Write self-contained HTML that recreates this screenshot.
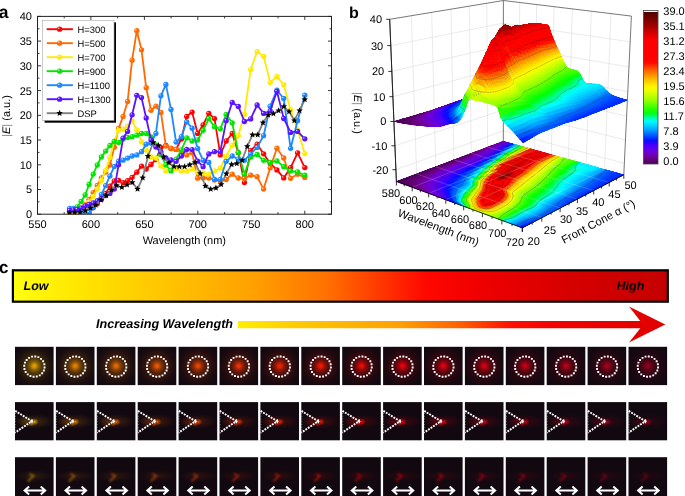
<!DOCTYPE html>
<html><head><meta charset="utf-8"><style>
html,body{margin:0;padding:0;background:#fff;}
svg{display:block;will-change:transform;text-rendering:geometricPrecision;font-family:"Liberation Sans",sans-serif;}
</style></head><body>
<svg width="685" height="496" viewBox="0 0 685 496">
<rect width="685" height="496" fill="#fff"/>
<text x="-1.2" y="17.7"  font-size="17.5" font-weight="bold">a</text>
<path d="M37.5 214.2v-3.5M37.5 16.4v3.5M64.2 214.2v-2M64.2 16.4v2M90.9 214.2v-3.5M90.9 16.4v3.5M117.7 214.2v-2M117.7 16.4v2M144.4 214.2v-3.5M144.4 16.4v3.5M171.1 214.2v-2M171.1 16.4v2M197.8 214.2v-3.5M197.8 16.4v3.5M224.6 214.2v-2M224.6 16.4v2M251.3 214.2v-3.5M251.3 16.4v3.5M278.0 214.2v-2M278.0 16.4v2M304.8 214.2v-3.5M304.8 16.4v3.5M331.5 214.2v-2M331.5 16.4v2M37.5 214.2h3.5M331.5 214.2h-3.5M37.5 201.8h2M331.5 201.8h-2M37.5 189.5h3.5M331.5 189.5h-3.5M37.5 177.1h2M331.5 177.1h-2M37.5 164.8h3.5M331.5 164.8h-3.5M37.5 152.4h2M331.5 152.4h-2M37.5 140.0h3.5M331.5 140.0h-3.5M37.5 127.7h2M331.5 127.7h-2M37.5 115.3h3.5M331.5 115.3h-3.5M37.5 102.9h2M331.5 102.9h-2M37.5 90.6h3.5M331.5 90.6h-3.5M37.5 78.2h2M331.5 78.2h-2M37.5 65.8h3.5M331.5 65.8h-3.5M37.5 53.5h2M331.5 53.5h-2M37.5 41.1h3.5M331.5 41.1h-3.5M37.5 28.8h2M331.5 28.8h-2M37.5 16.4h3.5M331.5 16.4h-3.5" stroke="#222" stroke-width="0.9" fill="none"/>
<text x="37.5" y="228.3"  font-size="11" text-anchor="middle">550</text>
<text x="90.9" y="228.3"  font-size="11" text-anchor="middle">600</text>
<text x="144.4" y="228.3"  font-size="11" text-anchor="middle">650</text>
<text x="197.8" y="228.3"  font-size="11" text-anchor="middle">700</text>
<text x="251.3" y="228.3"  font-size="11" text-anchor="middle">750</text>
<text x="304.8" y="228.3"  font-size="11" text-anchor="middle">800</text>
<text x="32" y="218.1"  font-size="11" text-anchor="end">0</text>
<text x="32" y="193.4"  font-size="11" text-anchor="end">5</text>
<text x="32" y="168.7"  font-size="11" text-anchor="end">10</text>
<text x="32" y="143.9"  font-size="11" text-anchor="end">15</text>
<text x="32" y="119.2"  font-size="11" text-anchor="end">20</text>
<text x="32" y="94.5"  font-size="11" text-anchor="end">25</text>
<text x="32" y="69.7"  font-size="11" text-anchor="end">30</text>
<text x="32" y="45.0"  font-size="11" text-anchor="end">35</text>
<text x="32" y="20.3"  font-size="11" text-anchor="end">40</text>
<text x="184.3" y="243.9"  font-size="11" text-anchor="middle">Wavelength (nm)</text>
<text transform="translate(10.2 116) rotate(-90)"  font-size="11" text-anchor="middle"><tspan fill="#888">|</tspan><tspan font-style="italic">E</tspan><tspan fill="#888">|</tspan> (a.u.)</text>
<clipPath id="clipA"><rect x="37.5" y="16.4" width="294.0" height="197.79999999999998"/></clipPath>
<g clip-path="url(#clipA)">
<polyline points="69.6,213.0 73.4,212.7 77.2,212.5 81.1,211.7 85.1,211.0 89.1,209.5 93.2,207.8 97.3,203.7 101.4,199.4 105.7,193.5 109.9,186.1 114.3,180.9 118.6,180.3 123.1,182.6 127.6,180.7 132.1,177.3 136.8,172.2 141.5,166.1 146.2,169.0 151.0,164.5 155.9,159.5 160.9,147.6 165.9,145.3 171.0,148.5 176.1,149.4 181.4,138.9 186.7,116.4 192.1,112.1 197.6,133.4 203.1,125.0 208.8,113.3 214.5,118.6 220.3,154.9 226.2,141.0 232.2,133.5 238.3,152.7 244.4,182.5 250.7,150.6 257.1,144.2 263.6,153.8 270.2,163.4 276.9,169.9 283.7,177.9 290.6,167.7 297.6,152.8 304.8,167.6" fill="none" stroke="#ff0000" stroke-width="1.8" stroke-linejoin="round"/>
<circle cx="69.6" cy="213.0" r="2.65" fill="#ff0000"/><circle cx="68.7" cy="212.1" r="0.75" fill="#fff" fill-opacity="0.8"/><circle cx="73.4" cy="212.7" r="2.65" fill="#ff0000"/><circle cx="72.5" cy="211.8" r="0.75" fill="#fff" fill-opacity="0.8"/><circle cx="77.2" cy="212.5" r="2.65" fill="#ff0000"/><circle cx="76.3" cy="211.6" r="0.75" fill="#fff" fill-opacity="0.8"/><circle cx="81.1" cy="211.7" r="2.65" fill="#ff0000"/><circle cx="80.2" cy="210.8" r="0.75" fill="#fff" fill-opacity="0.8"/><circle cx="85.1" cy="211.0" r="2.65" fill="#ff0000"/><circle cx="84.2" cy="210.1" r="0.75" fill="#fff" fill-opacity="0.8"/><circle cx="89.1" cy="209.5" r="2.65" fill="#ff0000"/><circle cx="88.2" cy="208.6" r="0.75" fill="#fff" fill-opacity="0.8"/><circle cx="93.2" cy="207.8" r="2.65" fill="#ff0000"/><circle cx="92.3" cy="206.9" r="0.75" fill="#fff" fill-opacity="0.8"/><circle cx="97.3" cy="203.7" r="2.65" fill="#ff0000"/><circle cx="96.4" cy="202.8" r="0.75" fill="#fff" fill-opacity="0.8"/><circle cx="101.4" cy="199.4" r="2.65" fill="#ff0000"/><circle cx="100.5" cy="198.5" r="0.75" fill="#fff" fill-opacity="0.8"/><circle cx="105.7" cy="193.5" r="2.65" fill="#ff0000"/><circle cx="104.8" cy="192.6" r="0.75" fill="#fff" fill-opacity="0.8"/><circle cx="109.9" cy="186.1" r="2.65" fill="#ff0000"/><circle cx="109.0" cy="185.2" r="0.75" fill="#fff" fill-opacity="0.8"/><circle cx="114.3" cy="180.9" r="2.65" fill="#ff0000"/><circle cx="113.4" cy="180.0" r="0.75" fill="#fff" fill-opacity="0.8"/><circle cx="118.6" cy="180.3" r="2.65" fill="#ff0000"/><circle cx="117.7" cy="179.4" r="0.75" fill="#fff" fill-opacity="0.8"/><circle cx="123.1" cy="182.6" r="2.65" fill="#ff0000"/><circle cx="122.2" cy="181.7" r="0.75" fill="#fff" fill-opacity="0.8"/><circle cx="127.6" cy="180.7" r="2.65" fill="#ff0000"/><circle cx="126.7" cy="179.8" r="0.75" fill="#fff" fill-opacity="0.8"/><circle cx="132.1" cy="177.3" r="2.65" fill="#ff0000"/><circle cx="131.2" cy="176.4" r="0.75" fill="#fff" fill-opacity="0.8"/><circle cx="136.8" cy="172.2" r="2.65" fill="#ff0000"/><circle cx="135.9" cy="171.3" r="0.75" fill="#fff" fill-opacity="0.8"/><circle cx="141.5" cy="166.1" r="2.65" fill="#ff0000"/><circle cx="140.6" cy="165.2" r="0.75" fill="#fff" fill-opacity="0.8"/><circle cx="146.2" cy="169.0" r="2.65" fill="#ff0000"/><circle cx="145.3" cy="168.1" r="0.75" fill="#fff" fill-opacity="0.8"/><circle cx="151.0" cy="164.5" r="2.65" fill="#ff0000"/><circle cx="150.1" cy="163.6" r="0.75" fill="#fff" fill-opacity="0.8"/><circle cx="155.9" cy="159.5" r="2.65" fill="#ff0000"/><circle cx="155.0" cy="158.6" r="0.75" fill="#fff" fill-opacity="0.8"/><circle cx="160.9" cy="147.6" r="2.65" fill="#ff0000"/><circle cx="160.0" cy="146.7" r="0.75" fill="#fff" fill-opacity="0.8"/><circle cx="165.9" cy="145.3" r="2.65" fill="#ff0000"/><circle cx="165.0" cy="144.4" r="0.75" fill="#fff" fill-opacity="0.8"/><circle cx="171.0" cy="148.5" r="2.65" fill="#ff0000"/><circle cx="170.1" cy="147.6" r="0.75" fill="#fff" fill-opacity="0.8"/><circle cx="176.1" cy="149.4" r="2.65" fill="#ff0000"/><circle cx="175.2" cy="148.5" r="0.75" fill="#fff" fill-opacity="0.8"/><circle cx="181.4" cy="138.9" r="2.65" fill="#ff0000"/><circle cx="180.5" cy="138.0" r="0.75" fill="#fff" fill-opacity="0.8"/><circle cx="186.7" cy="116.4" r="2.65" fill="#ff0000"/><circle cx="185.8" cy="115.5" r="0.75" fill="#fff" fill-opacity="0.8"/><circle cx="192.1" cy="112.1" r="2.65" fill="#ff0000"/><circle cx="191.2" cy="111.2" r="0.75" fill="#fff" fill-opacity="0.8"/><circle cx="197.6" cy="133.4" r="2.65" fill="#ff0000"/><circle cx="196.7" cy="132.5" r="0.75" fill="#fff" fill-opacity="0.8"/><circle cx="203.1" cy="125.0" r="2.65" fill="#ff0000"/><circle cx="202.2" cy="124.1" r="0.75" fill="#fff" fill-opacity="0.8"/><circle cx="208.8" cy="113.3" r="2.65" fill="#ff0000"/><circle cx="207.9" cy="112.4" r="0.75" fill="#fff" fill-opacity="0.8"/><circle cx="214.5" cy="118.6" r="2.65" fill="#ff0000"/><circle cx="213.6" cy="117.7" r="0.75" fill="#fff" fill-opacity="0.8"/><circle cx="220.3" cy="154.9" r="2.65" fill="#ff0000"/><circle cx="219.4" cy="154.0" r="0.75" fill="#fff" fill-opacity="0.8"/><circle cx="226.2" cy="141.0" r="2.65" fill="#ff0000"/><circle cx="225.3" cy="140.1" r="0.75" fill="#fff" fill-opacity="0.8"/><circle cx="232.2" cy="133.5" r="2.65" fill="#ff0000"/><circle cx="231.3" cy="132.6" r="0.75" fill="#fff" fill-opacity="0.8"/><circle cx="238.3" cy="152.7" r="2.65" fill="#ff0000"/><circle cx="237.4" cy="151.8" r="0.75" fill="#fff" fill-opacity="0.8"/><circle cx="244.4" cy="182.5" r="2.65" fill="#ff0000"/><circle cx="243.5" cy="181.6" r="0.75" fill="#fff" fill-opacity="0.8"/><circle cx="250.7" cy="150.6" r="2.65" fill="#ff0000"/><circle cx="249.8" cy="149.7" r="0.75" fill="#fff" fill-opacity="0.8"/><circle cx="257.1" cy="144.2" r="2.65" fill="#ff0000"/><circle cx="256.2" cy="143.3" r="0.75" fill="#fff" fill-opacity="0.8"/><circle cx="263.6" cy="153.8" r="2.65" fill="#ff0000"/><circle cx="262.7" cy="152.9" r="0.75" fill="#fff" fill-opacity="0.8"/><circle cx="270.2" cy="163.4" r="2.65" fill="#ff0000"/><circle cx="269.3" cy="162.5" r="0.75" fill="#fff" fill-opacity="0.8"/><circle cx="276.9" cy="169.9" r="2.65" fill="#ff0000"/><circle cx="276.0" cy="169.0" r="0.75" fill="#fff" fill-opacity="0.8"/><circle cx="283.7" cy="177.9" r="2.65" fill="#ff0000"/><circle cx="282.8" cy="177.0" r="0.75" fill="#fff" fill-opacity="0.8"/><circle cx="290.6" cy="167.7" r="2.65" fill="#ff0000"/><circle cx="289.7" cy="166.8" r="0.75" fill="#fff" fill-opacity="0.8"/><circle cx="297.6" cy="152.8" r="2.65" fill="#ff0000"/><circle cx="296.7" cy="151.9" r="0.75" fill="#fff" fill-opacity="0.8"/><circle cx="304.8" cy="167.6" r="2.65" fill="#ff0000"/><circle cx="303.9" cy="166.7" r="0.75" fill="#fff" fill-opacity="0.8"/>
<polyline points="69.6,213.5 73.4,213.0 77.2,212.5 81.1,209.4 85.1,205.0 89.1,199.5 93.2,192.6 97.3,185.5 101.4,177.9 105.7,172.1 109.9,164.9 114.3,147.2 118.6,128.4 123.1,116.4 127.6,101.5 132.1,60.2 136.8,30.7 141.5,49.8 146.2,87.7 151.0,110.3 155.9,106.1 160.9,112.4 165.9,146.1 171.0,148.5 176.1,149.5 181.4,152.0 186.7,154.9 192.1,152.7 197.6,178.2 203.1,178.0 208.8,178.0 214.5,180.0 220.3,181.0 226.2,179.5 232.2,174.2 238.3,178.0 244.4,178.4 250.7,175.2 257.1,176.7 263.6,189.1 270.2,167.8 276.9,148.2 283.7,158.0 290.6,178.3 297.6,174.2 304.8,177.4" fill="none" stroke="#ff6a00" stroke-width="1.8" stroke-linejoin="round"/>
<circle cx="69.6" cy="213.5" r="2.65" fill="#ff6a00"/><circle cx="68.7" cy="212.6" r="0.75" fill="#fff" fill-opacity="0.8"/><circle cx="73.4" cy="213.0" r="2.65" fill="#ff6a00"/><circle cx="72.5" cy="212.1" r="0.75" fill="#fff" fill-opacity="0.8"/><circle cx="77.2" cy="212.5" r="2.65" fill="#ff6a00"/><circle cx="76.3" cy="211.6" r="0.75" fill="#fff" fill-opacity="0.8"/><circle cx="81.1" cy="209.4" r="2.65" fill="#ff6a00"/><circle cx="80.2" cy="208.5" r="0.75" fill="#fff" fill-opacity="0.8"/><circle cx="85.1" cy="205.0" r="2.65" fill="#ff6a00"/><circle cx="84.2" cy="204.1" r="0.75" fill="#fff" fill-opacity="0.8"/><circle cx="89.1" cy="199.5" r="2.65" fill="#ff6a00"/><circle cx="88.2" cy="198.6" r="0.75" fill="#fff" fill-opacity="0.8"/><circle cx="93.2" cy="192.6" r="2.65" fill="#ff6a00"/><circle cx="92.3" cy="191.7" r="0.75" fill="#fff" fill-opacity="0.8"/><circle cx="97.3" cy="185.5" r="2.65" fill="#ff6a00"/><circle cx="96.4" cy="184.6" r="0.75" fill="#fff" fill-opacity="0.8"/><circle cx="101.4" cy="177.9" r="2.65" fill="#ff6a00"/><circle cx="100.5" cy="177.0" r="0.75" fill="#fff" fill-opacity="0.8"/><circle cx="105.7" cy="172.1" r="2.65" fill="#ff6a00"/><circle cx="104.8" cy="171.2" r="0.75" fill="#fff" fill-opacity="0.8"/><circle cx="109.9" cy="164.9" r="2.65" fill="#ff6a00"/><circle cx="109.0" cy="164.0" r="0.75" fill="#fff" fill-opacity="0.8"/><circle cx="114.3" cy="147.2" r="2.65" fill="#ff6a00"/><circle cx="113.4" cy="146.3" r="0.75" fill="#fff" fill-opacity="0.8"/><circle cx="118.6" cy="128.4" r="2.65" fill="#ff6a00"/><circle cx="117.7" cy="127.5" r="0.75" fill="#fff" fill-opacity="0.8"/><circle cx="123.1" cy="116.4" r="2.65" fill="#ff6a00"/><circle cx="122.2" cy="115.5" r="0.75" fill="#fff" fill-opacity="0.8"/><circle cx="127.6" cy="101.5" r="2.65" fill="#ff6a00"/><circle cx="126.7" cy="100.6" r="0.75" fill="#fff" fill-opacity="0.8"/><circle cx="132.1" cy="60.2" r="2.65" fill="#ff6a00"/><circle cx="131.2" cy="59.3" r="0.75" fill="#fff" fill-opacity="0.8"/><circle cx="136.8" cy="30.7" r="2.65" fill="#ff6a00"/><circle cx="135.9" cy="29.8" r="0.75" fill="#fff" fill-opacity="0.8"/><circle cx="141.5" cy="49.8" r="2.65" fill="#ff6a00"/><circle cx="140.6" cy="48.9" r="0.75" fill="#fff" fill-opacity="0.8"/><circle cx="146.2" cy="87.7" r="2.65" fill="#ff6a00"/><circle cx="145.3" cy="86.8" r="0.75" fill="#fff" fill-opacity="0.8"/><circle cx="151.0" cy="110.3" r="2.65" fill="#ff6a00"/><circle cx="150.1" cy="109.4" r="0.75" fill="#fff" fill-opacity="0.8"/><circle cx="155.9" cy="106.1" r="2.65" fill="#ff6a00"/><circle cx="155.0" cy="105.2" r="0.75" fill="#fff" fill-opacity="0.8"/><circle cx="160.9" cy="112.4" r="2.65" fill="#ff6a00"/><circle cx="160.0" cy="111.5" r="0.75" fill="#fff" fill-opacity="0.8"/><circle cx="165.9" cy="146.1" r="2.65" fill="#ff6a00"/><circle cx="165.0" cy="145.2" r="0.75" fill="#fff" fill-opacity="0.8"/><circle cx="171.0" cy="148.5" r="2.65" fill="#ff6a00"/><circle cx="170.1" cy="147.6" r="0.75" fill="#fff" fill-opacity="0.8"/><circle cx="176.1" cy="149.5" r="2.65" fill="#ff6a00"/><circle cx="175.2" cy="148.6" r="0.75" fill="#fff" fill-opacity="0.8"/><circle cx="181.4" cy="152.0" r="2.65" fill="#ff6a00"/><circle cx="180.5" cy="151.1" r="0.75" fill="#fff" fill-opacity="0.8"/><circle cx="186.7" cy="154.9" r="2.65" fill="#ff6a00"/><circle cx="185.8" cy="154.0" r="0.75" fill="#fff" fill-opacity="0.8"/><circle cx="192.1" cy="152.7" r="2.65" fill="#ff6a00"/><circle cx="191.2" cy="151.8" r="0.75" fill="#fff" fill-opacity="0.8"/><circle cx="197.6" cy="178.2" r="2.65" fill="#ff6a00"/><circle cx="196.7" cy="177.3" r="0.75" fill="#fff" fill-opacity="0.8"/><circle cx="203.1" cy="178.0" r="2.65" fill="#ff6a00"/><circle cx="202.2" cy="177.1" r="0.75" fill="#fff" fill-opacity="0.8"/><circle cx="208.8" cy="178.0" r="2.65" fill="#ff6a00"/><circle cx="207.9" cy="177.1" r="0.75" fill="#fff" fill-opacity="0.8"/><circle cx="214.5" cy="180.0" r="2.65" fill="#ff6a00"/><circle cx="213.6" cy="179.1" r="0.75" fill="#fff" fill-opacity="0.8"/><circle cx="220.3" cy="181.0" r="2.65" fill="#ff6a00"/><circle cx="219.4" cy="180.1" r="0.75" fill="#fff" fill-opacity="0.8"/><circle cx="226.2" cy="179.5" r="2.65" fill="#ff6a00"/><circle cx="225.3" cy="178.6" r="0.75" fill="#fff" fill-opacity="0.8"/><circle cx="232.2" cy="174.2" r="2.65" fill="#ff6a00"/><circle cx="231.3" cy="173.3" r="0.75" fill="#fff" fill-opacity="0.8"/><circle cx="238.3" cy="178.0" r="2.65" fill="#ff6a00"/><circle cx="237.4" cy="177.1" r="0.75" fill="#fff" fill-opacity="0.8"/><circle cx="244.4" cy="178.4" r="2.65" fill="#ff6a00"/><circle cx="243.5" cy="177.5" r="0.75" fill="#fff" fill-opacity="0.8"/><circle cx="250.7" cy="175.2" r="2.65" fill="#ff6a00"/><circle cx="249.8" cy="174.3" r="0.75" fill="#fff" fill-opacity="0.8"/><circle cx="257.1" cy="176.7" r="2.65" fill="#ff6a00"/><circle cx="256.2" cy="175.8" r="0.75" fill="#fff" fill-opacity="0.8"/><circle cx="263.6" cy="189.1" r="2.65" fill="#ff6a00"/><circle cx="262.7" cy="188.2" r="0.75" fill="#fff" fill-opacity="0.8"/><circle cx="270.2" cy="167.8" r="2.65" fill="#ff6a00"/><circle cx="269.3" cy="166.9" r="0.75" fill="#fff" fill-opacity="0.8"/><circle cx="276.9" cy="148.2" r="2.65" fill="#ff6a00"/><circle cx="276.0" cy="147.3" r="0.75" fill="#fff" fill-opacity="0.8"/><circle cx="283.7" cy="158.0" r="2.65" fill="#ff6a00"/><circle cx="282.8" cy="157.1" r="0.75" fill="#fff" fill-opacity="0.8"/><circle cx="290.6" cy="178.3" r="2.65" fill="#ff6a00"/><circle cx="289.7" cy="177.4" r="0.75" fill="#fff" fill-opacity="0.8"/><circle cx="297.6" cy="174.2" r="2.65" fill="#ff6a00"/><circle cx="296.7" cy="173.3" r="0.75" fill="#fff" fill-opacity="0.8"/><circle cx="304.8" cy="177.4" r="2.65" fill="#ff6a00"/><circle cx="303.9" cy="176.5" r="0.75" fill="#fff" fill-opacity="0.8"/>
<polyline points="69.6,213.5 73.4,213.3 77.2,212.5 81.1,211.0 85.1,207.0 89.1,202.0 93.2,196.5 97.3,189.0 101.4,180.4 105.7,170.1 109.9,157.5 114.3,141.2 118.6,130.3 123.1,129.2 127.6,126.0 132.1,121.1 136.8,129.9 141.5,141.9 146.2,150.0 151.0,157.0 155.9,158.0 160.9,165.9 165.9,170.9 171.0,170.0 176.1,168.8 181.4,170.9 186.7,170.9 192.1,168.8 197.6,172.0 203.1,173.0 208.8,174.2 214.5,171.0 220.3,168.2 226.2,156.0 232.2,145.3 238.3,135.8 244.4,114.2 250.7,69.5 257.1,51.6 263.6,56.3 270.2,82.6 276.9,76.4 283.7,84.8 290.6,109.9 297.6,130.0 304.8,153.6" fill="none" stroke="#ffea00" stroke-width="1.8" stroke-linejoin="round"/>
<circle cx="69.6" cy="213.5" r="2.65" fill="#ffea00"/><circle cx="68.7" cy="212.6" r="0.75" fill="#fff" fill-opacity="0.8"/><circle cx="73.4" cy="213.3" r="2.65" fill="#ffea00"/><circle cx="72.5" cy="212.4" r="0.75" fill="#fff" fill-opacity="0.8"/><circle cx="77.2" cy="212.5" r="2.65" fill="#ffea00"/><circle cx="76.3" cy="211.6" r="0.75" fill="#fff" fill-opacity="0.8"/><circle cx="81.1" cy="211.0" r="2.65" fill="#ffea00"/><circle cx="80.2" cy="210.1" r="0.75" fill="#fff" fill-opacity="0.8"/><circle cx="85.1" cy="207.0" r="2.65" fill="#ffea00"/><circle cx="84.2" cy="206.1" r="0.75" fill="#fff" fill-opacity="0.8"/><circle cx="89.1" cy="202.0" r="2.65" fill="#ffea00"/><circle cx="88.2" cy="201.1" r="0.75" fill="#fff" fill-opacity="0.8"/><circle cx="93.2" cy="196.5" r="2.65" fill="#ffea00"/><circle cx="92.3" cy="195.6" r="0.75" fill="#fff" fill-opacity="0.8"/><circle cx="97.3" cy="189.0" r="2.65" fill="#ffea00"/><circle cx="96.4" cy="188.1" r="0.75" fill="#fff" fill-opacity="0.8"/><circle cx="101.4" cy="180.4" r="2.65" fill="#ffea00"/><circle cx="100.5" cy="179.5" r="0.75" fill="#fff" fill-opacity="0.8"/><circle cx="105.7" cy="170.1" r="2.65" fill="#ffea00"/><circle cx="104.8" cy="169.2" r="0.75" fill="#fff" fill-opacity="0.8"/><circle cx="109.9" cy="157.5" r="2.65" fill="#ffea00"/><circle cx="109.0" cy="156.6" r="0.75" fill="#fff" fill-opacity="0.8"/><circle cx="114.3" cy="141.2" r="2.65" fill="#ffea00"/><circle cx="113.4" cy="140.3" r="0.75" fill="#fff" fill-opacity="0.8"/><circle cx="118.6" cy="130.3" r="2.65" fill="#ffea00"/><circle cx="117.7" cy="129.4" r="0.75" fill="#fff" fill-opacity="0.8"/><circle cx="123.1" cy="129.2" r="2.65" fill="#ffea00"/><circle cx="122.2" cy="128.3" r="0.75" fill="#fff" fill-opacity="0.8"/><circle cx="127.6" cy="126.0" r="2.65" fill="#ffea00"/><circle cx="126.7" cy="125.1" r="0.75" fill="#fff" fill-opacity="0.8"/><circle cx="132.1" cy="121.1" r="2.65" fill="#ffea00"/><circle cx="131.2" cy="120.2" r="0.75" fill="#fff" fill-opacity="0.8"/><circle cx="136.8" cy="129.9" r="2.65" fill="#ffea00"/><circle cx="135.9" cy="129.0" r="0.75" fill="#fff" fill-opacity="0.8"/><circle cx="141.5" cy="141.9" r="2.65" fill="#ffea00"/><circle cx="140.6" cy="141.0" r="0.75" fill="#fff" fill-opacity="0.8"/><circle cx="146.2" cy="150.0" r="2.65" fill="#ffea00"/><circle cx="145.3" cy="149.1" r="0.75" fill="#fff" fill-opacity="0.8"/><circle cx="151.0" cy="157.0" r="2.65" fill="#ffea00"/><circle cx="150.1" cy="156.1" r="0.75" fill="#fff" fill-opacity="0.8"/><circle cx="155.9" cy="158.0" r="2.65" fill="#ffea00"/><circle cx="155.0" cy="157.1" r="0.75" fill="#fff" fill-opacity="0.8"/><circle cx="160.9" cy="165.9" r="2.65" fill="#ffea00"/><circle cx="160.0" cy="165.0" r="0.75" fill="#fff" fill-opacity="0.8"/><circle cx="165.9" cy="170.9" r="2.65" fill="#ffea00"/><circle cx="165.0" cy="170.0" r="0.75" fill="#fff" fill-opacity="0.8"/><circle cx="171.0" cy="170.0" r="2.65" fill="#ffea00"/><circle cx="170.1" cy="169.1" r="0.75" fill="#fff" fill-opacity="0.8"/><circle cx="176.1" cy="168.8" r="2.65" fill="#ffea00"/><circle cx="175.2" cy="167.9" r="0.75" fill="#fff" fill-opacity="0.8"/><circle cx="181.4" cy="170.9" r="2.65" fill="#ffea00"/><circle cx="180.5" cy="170.0" r="0.75" fill="#fff" fill-opacity="0.8"/><circle cx="186.7" cy="170.9" r="2.65" fill="#ffea00"/><circle cx="185.8" cy="170.0" r="0.75" fill="#fff" fill-opacity="0.8"/><circle cx="192.1" cy="168.8" r="2.65" fill="#ffea00"/><circle cx="191.2" cy="167.9" r="0.75" fill="#fff" fill-opacity="0.8"/><circle cx="197.6" cy="172.0" r="2.65" fill="#ffea00"/><circle cx="196.7" cy="171.1" r="0.75" fill="#fff" fill-opacity="0.8"/><circle cx="203.1" cy="173.0" r="2.65" fill="#ffea00"/><circle cx="202.2" cy="172.1" r="0.75" fill="#fff" fill-opacity="0.8"/><circle cx="208.8" cy="174.2" r="2.65" fill="#ffea00"/><circle cx="207.9" cy="173.3" r="0.75" fill="#fff" fill-opacity="0.8"/><circle cx="214.5" cy="171.0" r="2.65" fill="#ffea00"/><circle cx="213.6" cy="170.1" r="0.75" fill="#fff" fill-opacity="0.8"/><circle cx="220.3" cy="168.2" r="2.65" fill="#ffea00"/><circle cx="219.4" cy="167.3" r="0.75" fill="#fff" fill-opacity="0.8"/><circle cx="226.2" cy="156.0" r="2.65" fill="#ffea00"/><circle cx="225.3" cy="155.1" r="0.75" fill="#fff" fill-opacity="0.8"/><circle cx="232.2" cy="145.3" r="2.65" fill="#ffea00"/><circle cx="231.3" cy="144.4" r="0.75" fill="#fff" fill-opacity="0.8"/><circle cx="238.3" cy="135.8" r="2.65" fill="#ffea00"/><circle cx="237.4" cy="134.9" r="0.75" fill="#fff" fill-opacity="0.8"/><circle cx="244.4" cy="114.2" r="2.65" fill="#ffea00"/><circle cx="243.5" cy="113.3" r="0.75" fill="#fff" fill-opacity="0.8"/><circle cx="250.7" cy="69.5" r="2.65" fill="#ffea00"/><circle cx="249.8" cy="68.6" r="0.75" fill="#fff" fill-opacity="0.8"/><circle cx="257.1" cy="51.6" r="2.65" fill="#ffea00"/><circle cx="256.2" cy="50.7" r="0.75" fill="#fff" fill-opacity="0.8"/><circle cx="263.6" cy="56.3" r="2.65" fill="#ffea00"/><circle cx="262.7" cy="55.4" r="0.75" fill="#fff" fill-opacity="0.8"/><circle cx="270.2" cy="82.6" r="2.65" fill="#ffea00"/><circle cx="269.3" cy="81.7" r="0.75" fill="#fff" fill-opacity="0.8"/><circle cx="276.9" cy="76.4" r="2.65" fill="#ffea00"/><circle cx="276.0" cy="75.5" r="0.75" fill="#fff" fill-opacity="0.8"/><circle cx="283.7" cy="84.8" r="2.65" fill="#ffea00"/><circle cx="282.8" cy="83.9" r="0.75" fill="#fff" fill-opacity="0.8"/><circle cx="290.6" cy="109.9" r="2.65" fill="#ffea00"/><circle cx="289.7" cy="109.0" r="0.75" fill="#fff" fill-opacity="0.8"/><circle cx="297.6" cy="130.0" r="2.65" fill="#ffea00"/><circle cx="296.7" cy="129.1" r="0.75" fill="#fff" fill-opacity="0.8"/><circle cx="304.8" cy="153.6" r="2.65" fill="#ffea00"/><circle cx="303.9" cy="152.7" r="0.75" fill="#fff" fill-opacity="0.8"/>
<polyline points="69.6,213.0 73.4,211.0 77.2,206.9 81.1,201.4 85.1,195.0 89.1,184.5 93.2,174.1 97.3,165.0 101.4,156.9 105.7,151.1 109.9,145.5 114.3,141.5 118.6,142.5 123.1,139.0 127.6,137.4 132.1,136.7 136.8,135.2 141.5,133.5 146.2,133.5 151.0,137.0 155.9,145.0 160.9,154.9 165.9,165.0 171.0,170.9 176.1,159.1 181.4,150.0 186.7,137.8 192.1,141.0 197.6,140.0 203.1,130.3 208.8,118.7 214.5,126.7 220.3,128.8 226.2,114.3 232.2,122.8 238.3,152.6 244.4,174.1 250.7,157.0 257.1,154.5 263.6,160.3 270.2,162.4 276.9,160.9 283.7,166.7 290.6,171.0 297.6,172.0 304.8,175.2" fill="none" stroke="#00e600" stroke-width="1.8" stroke-linejoin="round"/>
<circle cx="69.6" cy="213.0" r="2.65" fill="#00e600"/><circle cx="68.7" cy="212.1" r="0.75" fill="#fff" fill-opacity="0.8"/><circle cx="73.4" cy="211.0" r="2.65" fill="#00e600"/><circle cx="72.5" cy="210.1" r="0.75" fill="#fff" fill-opacity="0.8"/><circle cx="77.2" cy="206.9" r="2.65" fill="#00e600"/><circle cx="76.3" cy="206.0" r="0.75" fill="#fff" fill-opacity="0.8"/><circle cx="81.1" cy="201.4" r="2.65" fill="#00e600"/><circle cx="80.2" cy="200.5" r="0.75" fill="#fff" fill-opacity="0.8"/><circle cx="85.1" cy="195.0" r="2.65" fill="#00e600"/><circle cx="84.2" cy="194.1" r="0.75" fill="#fff" fill-opacity="0.8"/><circle cx="89.1" cy="184.5" r="2.65" fill="#00e600"/><circle cx="88.2" cy="183.6" r="0.75" fill="#fff" fill-opacity="0.8"/><circle cx="93.2" cy="174.1" r="2.65" fill="#00e600"/><circle cx="92.3" cy="173.2" r="0.75" fill="#fff" fill-opacity="0.8"/><circle cx="97.3" cy="165.0" r="2.65" fill="#00e600"/><circle cx="96.4" cy="164.1" r="0.75" fill="#fff" fill-opacity="0.8"/><circle cx="101.4" cy="156.9" r="2.65" fill="#00e600"/><circle cx="100.5" cy="156.0" r="0.75" fill="#fff" fill-opacity="0.8"/><circle cx="105.7" cy="151.1" r="2.65" fill="#00e600"/><circle cx="104.8" cy="150.2" r="0.75" fill="#fff" fill-opacity="0.8"/><circle cx="109.9" cy="145.5" r="2.65" fill="#00e600"/><circle cx="109.0" cy="144.6" r="0.75" fill="#fff" fill-opacity="0.8"/><circle cx="114.3" cy="141.5" r="2.65" fill="#00e600"/><circle cx="113.4" cy="140.6" r="0.75" fill="#fff" fill-opacity="0.8"/><circle cx="118.6" cy="142.5" r="2.65" fill="#00e600"/><circle cx="117.7" cy="141.6" r="0.75" fill="#fff" fill-opacity="0.8"/><circle cx="123.1" cy="139.0" r="2.65" fill="#00e600"/><circle cx="122.2" cy="138.1" r="0.75" fill="#fff" fill-opacity="0.8"/><circle cx="127.6" cy="137.4" r="2.65" fill="#00e600"/><circle cx="126.7" cy="136.5" r="0.75" fill="#fff" fill-opacity="0.8"/><circle cx="132.1" cy="136.7" r="2.65" fill="#00e600"/><circle cx="131.2" cy="135.8" r="0.75" fill="#fff" fill-opacity="0.8"/><circle cx="136.8" cy="135.2" r="2.65" fill="#00e600"/><circle cx="135.9" cy="134.3" r="0.75" fill="#fff" fill-opacity="0.8"/><circle cx="141.5" cy="133.5" r="2.65" fill="#00e600"/><circle cx="140.6" cy="132.6" r="0.75" fill="#fff" fill-opacity="0.8"/><circle cx="146.2" cy="133.5" r="2.65" fill="#00e600"/><circle cx="145.3" cy="132.6" r="0.75" fill="#fff" fill-opacity="0.8"/><circle cx="151.0" cy="137.0" r="2.65" fill="#00e600"/><circle cx="150.1" cy="136.1" r="0.75" fill="#fff" fill-opacity="0.8"/><circle cx="155.9" cy="145.0" r="2.65" fill="#00e600"/><circle cx="155.0" cy="144.1" r="0.75" fill="#fff" fill-opacity="0.8"/><circle cx="160.9" cy="154.9" r="2.65" fill="#00e600"/><circle cx="160.0" cy="154.0" r="0.75" fill="#fff" fill-opacity="0.8"/><circle cx="165.9" cy="165.0" r="2.65" fill="#00e600"/><circle cx="165.0" cy="164.1" r="0.75" fill="#fff" fill-opacity="0.8"/><circle cx="171.0" cy="170.9" r="2.65" fill="#00e600"/><circle cx="170.1" cy="170.0" r="0.75" fill="#fff" fill-opacity="0.8"/><circle cx="176.1" cy="159.1" r="2.65" fill="#00e600"/><circle cx="175.2" cy="158.2" r="0.75" fill="#fff" fill-opacity="0.8"/><circle cx="181.4" cy="150.0" r="2.65" fill="#00e600"/><circle cx="180.5" cy="149.1" r="0.75" fill="#fff" fill-opacity="0.8"/><circle cx="186.7" cy="137.8" r="2.65" fill="#00e600"/><circle cx="185.8" cy="136.9" r="0.75" fill="#fff" fill-opacity="0.8"/><circle cx="192.1" cy="141.0" r="2.65" fill="#00e600"/><circle cx="191.2" cy="140.1" r="0.75" fill="#fff" fill-opacity="0.8"/><circle cx="197.6" cy="140.0" r="2.65" fill="#00e600"/><circle cx="196.7" cy="139.1" r="0.75" fill="#fff" fill-opacity="0.8"/><circle cx="203.1" cy="130.3" r="2.65" fill="#00e600"/><circle cx="202.2" cy="129.4" r="0.75" fill="#fff" fill-opacity="0.8"/><circle cx="208.8" cy="118.7" r="2.65" fill="#00e600"/><circle cx="207.9" cy="117.8" r="0.75" fill="#fff" fill-opacity="0.8"/><circle cx="214.5" cy="126.7" r="2.65" fill="#00e600"/><circle cx="213.6" cy="125.8" r="0.75" fill="#fff" fill-opacity="0.8"/><circle cx="220.3" cy="128.8" r="2.65" fill="#00e600"/><circle cx="219.4" cy="127.9" r="0.75" fill="#fff" fill-opacity="0.8"/><circle cx="226.2" cy="114.3" r="2.65" fill="#00e600"/><circle cx="225.3" cy="113.4" r="0.75" fill="#fff" fill-opacity="0.8"/><circle cx="232.2" cy="122.8" r="2.65" fill="#00e600"/><circle cx="231.3" cy="121.9" r="0.75" fill="#fff" fill-opacity="0.8"/><circle cx="238.3" cy="152.6" r="2.65" fill="#00e600"/><circle cx="237.4" cy="151.7" r="0.75" fill="#fff" fill-opacity="0.8"/><circle cx="244.4" cy="174.1" r="2.65" fill="#00e600"/><circle cx="243.5" cy="173.2" r="0.75" fill="#fff" fill-opacity="0.8"/><circle cx="250.7" cy="157.0" r="2.65" fill="#00e600"/><circle cx="249.8" cy="156.1" r="0.75" fill="#fff" fill-opacity="0.8"/><circle cx="257.1" cy="154.5" r="2.65" fill="#00e600"/><circle cx="256.2" cy="153.6" r="0.75" fill="#fff" fill-opacity="0.8"/><circle cx="263.6" cy="160.3" r="2.65" fill="#00e600"/><circle cx="262.7" cy="159.4" r="0.75" fill="#fff" fill-opacity="0.8"/><circle cx="270.2" cy="162.4" r="2.65" fill="#00e600"/><circle cx="269.3" cy="161.5" r="0.75" fill="#fff" fill-opacity="0.8"/><circle cx="276.9" cy="160.9" r="2.65" fill="#00e600"/><circle cx="276.0" cy="160.0" r="0.75" fill="#fff" fill-opacity="0.8"/><circle cx="283.7" cy="166.7" r="2.65" fill="#00e600"/><circle cx="282.8" cy="165.8" r="0.75" fill="#fff" fill-opacity="0.8"/><circle cx="290.6" cy="171.0" r="2.65" fill="#00e600"/><circle cx="289.7" cy="170.1" r="0.75" fill="#fff" fill-opacity="0.8"/><circle cx="297.6" cy="172.0" r="2.65" fill="#00e600"/><circle cx="296.7" cy="171.1" r="0.75" fill="#fff" fill-opacity="0.8"/><circle cx="304.8" cy="175.2" r="2.65" fill="#00e600"/><circle cx="303.9" cy="174.3" r="0.75" fill="#fff" fill-opacity="0.8"/>
<polyline points="69.6,208.3 73.4,208.3 77.2,209.5 81.1,210.5 85.1,211.5 89.1,212.3 93.2,207.0 97.3,201.0 101.4,194.4 105.7,185.6 109.9,175.9 114.3,166.6 118.6,161.2 123.1,160.2 127.6,158.1 132.1,156.0 136.8,154.9 141.5,151.7 146.2,144.2 151.0,143.1 155.9,133.5 160.9,95.8 165.9,84.4 171.0,109.5 176.1,142.1 181.4,136.7 186.7,121.8 192.1,128.2 197.6,148.4 203.1,160.3 208.8,162.4 214.5,179.4 220.3,179.5 226.2,161.3 232.2,156.0 238.3,159.2 244.4,160.3 250.7,153.8 257.1,147.4 263.6,135.7 270.2,106.2 276.9,90.2 283.7,98.5 290.6,148.3 297.6,120.7 304.8,95.2" fill="none" stroke="#1e88ff" stroke-width="1.8" stroke-linejoin="round"/>
<circle cx="69.6" cy="208.3" r="2.65" fill="#1e88ff"/><circle cx="68.7" cy="207.4" r="0.75" fill="#fff" fill-opacity="0.8"/><circle cx="73.4" cy="208.3" r="2.65" fill="#1e88ff"/><circle cx="72.5" cy="207.4" r="0.75" fill="#fff" fill-opacity="0.8"/><circle cx="77.2" cy="209.5" r="2.65" fill="#1e88ff"/><circle cx="76.3" cy="208.6" r="0.75" fill="#fff" fill-opacity="0.8"/><circle cx="81.1" cy="210.5" r="2.65" fill="#1e88ff"/><circle cx="80.2" cy="209.6" r="0.75" fill="#fff" fill-opacity="0.8"/><circle cx="85.1" cy="211.5" r="2.65" fill="#1e88ff"/><circle cx="84.2" cy="210.6" r="0.75" fill="#fff" fill-opacity="0.8"/><circle cx="89.1" cy="212.3" r="2.65" fill="#1e88ff"/><circle cx="88.2" cy="211.4" r="0.75" fill="#fff" fill-opacity="0.8"/><circle cx="93.2" cy="207.0" r="2.65" fill="#1e88ff"/><circle cx="92.3" cy="206.1" r="0.75" fill="#fff" fill-opacity="0.8"/><circle cx="97.3" cy="201.0" r="2.65" fill="#1e88ff"/><circle cx="96.4" cy="200.1" r="0.75" fill="#fff" fill-opacity="0.8"/><circle cx="101.4" cy="194.4" r="2.65" fill="#1e88ff"/><circle cx="100.5" cy="193.5" r="0.75" fill="#fff" fill-opacity="0.8"/><circle cx="105.7" cy="185.6" r="2.65" fill="#1e88ff"/><circle cx="104.8" cy="184.7" r="0.75" fill="#fff" fill-opacity="0.8"/><circle cx="109.9" cy="175.9" r="2.65" fill="#1e88ff"/><circle cx="109.0" cy="175.0" r="0.75" fill="#fff" fill-opacity="0.8"/><circle cx="114.3" cy="166.6" r="2.65" fill="#1e88ff"/><circle cx="113.4" cy="165.7" r="0.75" fill="#fff" fill-opacity="0.8"/><circle cx="118.6" cy="161.2" r="2.65" fill="#1e88ff"/><circle cx="117.7" cy="160.3" r="0.75" fill="#fff" fill-opacity="0.8"/><circle cx="123.1" cy="160.2" r="2.65" fill="#1e88ff"/><circle cx="122.2" cy="159.3" r="0.75" fill="#fff" fill-opacity="0.8"/><circle cx="127.6" cy="158.1" r="2.65" fill="#1e88ff"/><circle cx="126.7" cy="157.2" r="0.75" fill="#fff" fill-opacity="0.8"/><circle cx="132.1" cy="156.0" r="2.65" fill="#1e88ff"/><circle cx="131.2" cy="155.1" r="0.75" fill="#fff" fill-opacity="0.8"/><circle cx="136.8" cy="154.9" r="2.65" fill="#1e88ff"/><circle cx="135.9" cy="154.0" r="0.75" fill="#fff" fill-opacity="0.8"/><circle cx="141.5" cy="151.7" r="2.65" fill="#1e88ff"/><circle cx="140.6" cy="150.8" r="0.75" fill="#fff" fill-opacity="0.8"/><circle cx="146.2" cy="144.2" r="2.65" fill="#1e88ff"/><circle cx="145.3" cy="143.3" r="0.75" fill="#fff" fill-opacity="0.8"/><circle cx="151.0" cy="143.1" r="2.65" fill="#1e88ff"/><circle cx="150.1" cy="142.2" r="0.75" fill="#fff" fill-opacity="0.8"/><circle cx="155.9" cy="133.5" r="2.65" fill="#1e88ff"/><circle cx="155.0" cy="132.6" r="0.75" fill="#fff" fill-opacity="0.8"/><circle cx="160.9" cy="95.8" r="2.65" fill="#1e88ff"/><circle cx="160.0" cy="94.9" r="0.75" fill="#fff" fill-opacity="0.8"/><circle cx="165.9" cy="84.4" r="2.65" fill="#1e88ff"/><circle cx="165.0" cy="83.5" r="0.75" fill="#fff" fill-opacity="0.8"/><circle cx="171.0" cy="109.5" r="2.65" fill="#1e88ff"/><circle cx="170.1" cy="108.6" r="0.75" fill="#fff" fill-opacity="0.8"/><circle cx="176.1" cy="142.1" r="2.65" fill="#1e88ff"/><circle cx="175.2" cy="141.2" r="0.75" fill="#fff" fill-opacity="0.8"/><circle cx="181.4" cy="136.7" r="2.65" fill="#1e88ff"/><circle cx="180.5" cy="135.8" r="0.75" fill="#fff" fill-opacity="0.8"/><circle cx="186.7" cy="121.8" r="2.65" fill="#1e88ff"/><circle cx="185.8" cy="120.9" r="0.75" fill="#fff" fill-opacity="0.8"/><circle cx="192.1" cy="128.2" r="2.65" fill="#1e88ff"/><circle cx="191.2" cy="127.3" r="0.75" fill="#fff" fill-opacity="0.8"/><circle cx="197.6" cy="148.4" r="2.65" fill="#1e88ff"/><circle cx="196.7" cy="147.5" r="0.75" fill="#fff" fill-opacity="0.8"/><circle cx="203.1" cy="160.3" r="2.65" fill="#1e88ff"/><circle cx="202.2" cy="159.4" r="0.75" fill="#fff" fill-opacity="0.8"/><circle cx="208.8" cy="162.4" r="2.65" fill="#1e88ff"/><circle cx="207.9" cy="161.5" r="0.75" fill="#fff" fill-opacity="0.8"/><circle cx="214.5" cy="179.4" r="2.65" fill="#1e88ff"/><circle cx="213.6" cy="178.5" r="0.75" fill="#fff" fill-opacity="0.8"/><circle cx="220.3" cy="179.5" r="2.65" fill="#1e88ff"/><circle cx="219.4" cy="178.6" r="0.75" fill="#fff" fill-opacity="0.8"/><circle cx="226.2" cy="161.3" r="2.65" fill="#1e88ff"/><circle cx="225.3" cy="160.4" r="0.75" fill="#fff" fill-opacity="0.8"/><circle cx="232.2" cy="156.0" r="2.65" fill="#1e88ff"/><circle cx="231.3" cy="155.1" r="0.75" fill="#fff" fill-opacity="0.8"/><circle cx="238.3" cy="159.2" r="2.65" fill="#1e88ff"/><circle cx="237.4" cy="158.3" r="0.75" fill="#fff" fill-opacity="0.8"/><circle cx="244.4" cy="160.3" r="2.65" fill="#1e88ff"/><circle cx="243.5" cy="159.4" r="0.75" fill="#fff" fill-opacity="0.8"/><circle cx="250.7" cy="153.8" r="2.65" fill="#1e88ff"/><circle cx="249.8" cy="152.9" r="0.75" fill="#fff" fill-opacity="0.8"/><circle cx="257.1" cy="147.4" r="2.65" fill="#1e88ff"/><circle cx="256.2" cy="146.5" r="0.75" fill="#fff" fill-opacity="0.8"/><circle cx="263.6" cy="135.7" r="2.65" fill="#1e88ff"/><circle cx="262.7" cy="134.8" r="0.75" fill="#fff" fill-opacity="0.8"/><circle cx="270.2" cy="106.2" r="2.65" fill="#1e88ff"/><circle cx="269.3" cy="105.3" r="0.75" fill="#fff" fill-opacity="0.8"/><circle cx="276.9" cy="90.2" r="2.65" fill="#1e88ff"/><circle cx="276.0" cy="89.3" r="0.75" fill="#fff" fill-opacity="0.8"/><circle cx="283.7" cy="98.5" r="2.65" fill="#1e88ff"/><circle cx="282.8" cy="97.6" r="0.75" fill="#fff" fill-opacity="0.8"/><circle cx="290.6" cy="148.3" r="2.65" fill="#1e88ff"/><circle cx="289.7" cy="147.4" r="0.75" fill="#fff" fill-opacity="0.8"/><circle cx="297.6" cy="120.7" r="2.65" fill="#1e88ff"/><circle cx="296.7" cy="119.8" r="0.75" fill="#fff" fill-opacity="0.8"/><circle cx="304.8" cy="95.2" r="2.65" fill="#1e88ff"/><circle cx="303.9" cy="94.3" r="0.75" fill="#fff" fill-opacity="0.8"/>
<polyline points="69.6,210.4 73.4,210.0 77.2,209.4 81.1,208.0 85.1,206.0 89.1,204.5 93.2,203.0 97.3,201.0 101.4,198.5 105.7,195.5 109.9,193.4 114.3,189.1 118.6,164.8 123.1,138.1 127.6,131.4 132.1,114.8 136.8,95.3 141.5,97.6 146.2,118.0 151.0,139.9 155.9,147.0 160.9,152.0 165.9,158.0 171.0,160.0 176.1,161.3 181.4,156.0 186.7,149.5 192.1,149.6 197.6,161.2 203.1,166.7 208.8,153.9 214.5,151.7 220.3,151.7 226.2,120.7 232.2,102.4 238.3,106.4 244.4,121.5 250.7,118.9 257.1,105.0 263.6,113.4 270.2,111.0 276.9,91.3 283.7,118.4 290.6,132.4 297.6,131.4 304.8,138.8" fill="none" stroke="#5a14ff" stroke-width="1.8" stroke-linejoin="round"/>
<circle cx="69.6" cy="210.4" r="2.65" fill="#5a14ff"/><circle cx="68.7" cy="209.5" r="0.75" fill="#fff" fill-opacity="0.8"/><circle cx="73.4" cy="210.0" r="2.65" fill="#5a14ff"/><circle cx="72.5" cy="209.1" r="0.75" fill="#fff" fill-opacity="0.8"/><circle cx="77.2" cy="209.4" r="2.65" fill="#5a14ff"/><circle cx="76.3" cy="208.5" r="0.75" fill="#fff" fill-opacity="0.8"/><circle cx="81.1" cy="208.0" r="2.65" fill="#5a14ff"/><circle cx="80.2" cy="207.1" r="0.75" fill="#fff" fill-opacity="0.8"/><circle cx="85.1" cy="206.0" r="2.65" fill="#5a14ff"/><circle cx="84.2" cy="205.1" r="0.75" fill="#fff" fill-opacity="0.8"/><circle cx="89.1" cy="204.5" r="2.65" fill="#5a14ff"/><circle cx="88.2" cy="203.6" r="0.75" fill="#fff" fill-opacity="0.8"/><circle cx="93.2" cy="203.0" r="2.65" fill="#5a14ff"/><circle cx="92.3" cy="202.1" r="0.75" fill="#fff" fill-opacity="0.8"/><circle cx="97.3" cy="201.0" r="2.65" fill="#5a14ff"/><circle cx="96.4" cy="200.1" r="0.75" fill="#fff" fill-opacity="0.8"/><circle cx="101.4" cy="198.5" r="2.65" fill="#5a14ff"/><circle cx="100.5" cy="197.6" r="0.75" fill="#fff" fill-opacity="0.8"/><circle cx="105.7" cy="195.5" r="2.65" fill="#5a14ff"/><circle cx="104.8" cy="194.6" r="0.75" fill="#fff" fill-opacity="0.8"/><circle cx="109.9" cy="193.4" r="2.65" fill="#5a14ff"/><circle cx="109.0" cy="192.5" r="0.75" fill="#fff" fill-opacity="0.8"/><circle cx="114.3" cy="189.1" r="2.65" fill="#5a14ff"/><circle cx="113.4" cy="188.2" r="0.75" fill="#fff" fill-opacity="0.8"/><circle cx="118.6" cy="164.8" r="2.65" fill="#5a14ff"/><circle cx="117.7" cy="163.9" r="0.75" fill="#fff" fill-opacity="0.8"/><circle cx="123.1" cy="138.1" r="2.65" fill="#5a14ff"/><circle cx="122.2" cy="137.2" r="0.75" fill="#fff" fill-opacity="0.8"/><circle cx="127.6" cy="131.4" r="2.65" fill="#5a14ff"/><circle cx="126.7" cy="130.5" r="0.75" fill="#fff" fill-opacity="0.8"/><circle cx="132.1" cy="114.8" r="2.65" fill="#5a14ff"/><circle cx="131.2" cy="113.9" r="0.75" fill="#fff" fill-opacity="0.8"/><circle cx="136.8" cy="95.3" r="2.65" fill="#5a14ff"/><circle cx="135.9" cy="94.4" r="0.75" fill="#fff" fill-opacity="0.8"/><circle cx="141.5" cy="97.6" r="2.65" fill="#5a14ff"/><circle cx="140.6" cy="96.7" r="0.75" fill="#fff" fill-opacity="0.8"/><circle cx="146.2" cy="118.0" r="2.65" fill="#5a14ff"/><circle cx="145.3" cy="117.1" r="0.75" fill="#fff" fill-opacity="0.8"/><circle cx="151.0" cy="139.9" r="2.65" fill="#5a14ff"/><circle cx="150.1" cy="139.0" r="0.75" fill="#fff" fill-opacity="0.8"/><circle cx="155.9" cy="147.0" r="2.65" fill="#5a14ff"/><circle cx="155.0" cy="146.1" r="0.75" fill="#fff" fill-opacity="0.8"/><circle cx="160.9" cy="152.0" r="2.65" fill="#5a14ff"/><circle cx="160.0" cy="151.1" r="0.75" fill="#fff" fill-opacity="0.8"/><circle cx="165.9" cy="158.0" r="2.65" fill="#5a14ff"/><circle cx="165.0" cy="157.1" r="0.75" fill="#fff" fill-opacity="0.8"/><circle cx="171.0" cy="160.0" r="2.65" fill="#5a14ff"/><circle cx="170.1" cy="159.1" r="0.75" fill="#fff" fill-opacity="0.8"/><circle cx="176.1" cy="161.3" r="2.65" fill="#5a14ff"/><circle cx="175.2" cy="160.4" r="0.75" fill="#fff" fill-opacity="0.8"/><circle cx="181.4" cy="156.0" r="2.65" fill="#5a14ff"/><circle cx="180.5" cy="155.1" r="0.75" fill="#fff" fill-opacity="0.8"/><circle cx="186.7" cy="149.5" r="2.65" fill="#5a14ff"/><circle cx="185.8" cy="148.6" r="0.75" fill="#fff" fill-opacity="0.8"/><circle cx="192.1" cy="149.6" r="2.65" fill="#5a14ff"/><circle cx="191.2" cy="148.7" r="0.75" fill="#fff" fill-opacity="0.8"/><circle cx="197.6" cy="161.2" r="2.65" fill="#5a14ff"/><circle cx="196.7" cy="160.3" r="0.75" fill="#fff" fill-opacity="0.8"/><circle cx="203.1" cy="166.7" r="2.65" fill="#5a14ff"/><circle cx="202.2" cy="165.8" r="0.75" fill="#fff" fill-opacity="0.8"/><circle cx="208.8" cy="153.9" r="2.65" fill="#5a14ff"/><circle cx="207.9" cy="153.0" r="0.75" fill="#fff" fill-opacity="0.8"/><circle cx="214.5" cy="151.7" r="2.65" fill="#5a14ff"/><circle cx="213.6" cy="150.8" r="0.75" fill="#fff" fill-opacity="0.8"/><circle cx="220.3" cy="151.7" r="2.65" fill="#5a14ff"/><circle cx="219.4" cy="150.8" r="0.75" fill="#fff" fill-opacity="0.8"/><circle cx="226.2" cy="120.7" r="2.65" fill="#5a14ff"/><circle cx="225.3" cy="119.8" r="0.75" fill="#fff" fill-opacity="0.8"/><circle cx="232.2" cy="102.4" r="2.65" fill="#5a14ff"/><circle cx="231.3" cy="101.5" r="0.75" fill="#fff" fill-opacity="0.8"/><circle cx="238.3" cy="106.4" r="2.65" fill="#5a14ff"/><circle cx="237.4" cy="105.5" r="0.75" fill="#fff" fill-opacity="0.8"/><circle cx="244.4" cy="121.5" r="2.65" fill="#5a14ff"/><circle cx="243.5" cy="120.6" r="0.75" fill="#fff" fill-opacity="0.8"/><circle cx="250.7" cy="118.9" r="2.65" fill="#5a14ff"/><circle cx="249.8" cy="118.0" r="0.75" fill="#fff" fill-opacity="0.8"/><circle cx="257.1" cy="105.0" r="2.65" fill="#5a14ff"/><circle cx="256.2" cy="104.1" r="0.75" fill="#fff" fill-opacity="0.8"/><circle cx="263.6" cy="113.4" r="2.65" fill="#5a14ff"/><circle cx="262.7" cy="112.5" r="0.75" fill="#fff" fill-opacity="0.8"/><circle cx="270.2" cy="111.0" r="2.65" fill="#5a14ff"/><circle cx="269.3" cy="110.1" r="0.75" fill="#fff" fill-opacity="0.8"/><circle cx="276.9" cy="91.3" r="2.65" fill="#5a14ff"/><circle cx="276.0" cy="90.4" r="0.75" fill="#fff" fill-opacity="0.8"/><circle cx="283.7" cy="118.4" r="2.65" fill="#5a14ff"/><circle cx="282.8" cy="117.5" r="0.75" fill="#fff" fill-opacity="0.8"/><circle cx="290.6" cy="132.4" r="2.65" fill="#5a14ff"/><circle cx="289.7" cy="131.5" r="0.75" fill="#fff" fill-opacity="0.8"/><circle cx="297.6" cy="131.4" r="2.65" fill="#5a14ff"/><circle cx="296.7" cy="130.5" r="0.75" fill="#fff" fill-opacity="0.8"/><circle cx="304.8" cy="138.8" r="2.65" fill="#5a14ff"/><circle cx="303.9" cy="137.9" r="0.75" fill="#fff" fill-opacity="0.8"/>
<polyline points="69.6,212.6 74.8,212.4 80.0,212.2 85.2,210.6 90.5,208.0 95.7,205.0 100.9,200.0 106.2,195.5 111.4,190.0 116.6,185.5 121.8,187.3 127.1,184.8 132.3,182.4 137.5,189.0 142.7,177.8 148.0,156.2 153.2,142.4 158.4,145.5 163.7,156.9 168.9,162.8 174.1,166.6 179.3,166.6 184.6,166.6 189.8,164.8 195.0,162.4 200.2,173.5 205.5,186.0 210.7,189.1 215.9,188.0 221.1,184.4 226.4,173.7 231.6,164.5 236.8,163.5 242.1,160.3 247.3,146.4 252.5,134.8 257.7,134.8 263.0,122.7 268.2,115.0 273.4,113.6 278.6,110.6 283.9,106.5 289.1,111.6 294.3,120.6 299.5,110.6 304.8,99.5" fill="none" stroke="#808080" stroke-width="1.8" stroke-linejoin="round"/>
<polygon points="69.6,209.2 70.5,211.4 72.8,211.5 71.0,213.1 71.6,215.4 69.6,214.1 67.6,215.4 68.1,213.1 66.3,211.5 68.7,211.4" fill="#000"/><polygon points="74.8,209.0 75.7,211.2 78.0,211.3 76.3,212.9 76.8,215.2 74.8,213.9 72.8,215.2 73.3,212.9 71.6,211.3 73.9,211.2" fill="#000"/><polygon points="80.0,208.8 80.9,211.0 83.3,211.1 81.5,212.7 82.0,215.0 80.0,213.7 78.0,215.0 78.6,212.7 76.8,211.1 79.1,211.0" fill="#000"/><polygon points="85.2,207.2 86.1,209.4 88.5,209.5 86.7,211.1 87.2,213.4 85.2,212.1 83.3,213.4 83.8,211.1 82.0,209.5 84.4,209.4" fill="#000"/><polygon points="90.5,204.6 91.4,206.8 93.7,206.9 91.9,208.5 92.5,210.8 90.5,209.5 88.5,210.8 89.0,208.5 87.2,206.9 89.6,206.8" fill="#000"/><polygon points="95.7,201.6 96.6,203.8 98.9,203.9 97.2,205.5 97.7,207.8 95.7,206.5 93.7,207.8 94.2,205.5 92.5,203.9 94.8,203.8" fill="#000"/><polygon points="100.9,196.6 101.8,198.8 104.2,198.9 102.4,200.5 102.9,202.8 100.9,201.5 98.9,202.8 99.5,200.5 97.7,198.9 100.0,198.8" fill="#000"/><polygon points="106.2,192.1 107.1,194.3 109.4,194.4 107.6,196.0 108.2,198.3 106.2,197.0 104.2,198.3 104.7,196.0 102.9,194.4 105.3,194.3" fill="#000"/><polygon points="111.4,186.6 112.3,188.8 114.6,188.9 112.8,190.5 113.4,192.8 111.4,191.5 109.4,192.8 109.9,190.5 108.1,188.9 110.5,188.8" fill="#000"/><polygon points="116.6,182.1 117.5,184.3 119.8,184.4 118.1,186.0 118.6,188.3 116.6,187.0 114.6,188.3 115.2,186.0 113.4,184.4 115.7,184.3" fill="#000"/><polygon points="121.8,183.9 122.7,186.1 125.1,186.2 123.3,187.8 123.8,190.1 121.8,188.8 119.8,190.1 120.4,187.8 118.6,186.2 120.9,186.1" fill="#000"/><polygon points="127.1,181.4 128.0,183.6 130.3,183.7 128.5,185.3 129.1,187.6 127.1,186.3 125.1,187.6 125.6,185.3 123.8,183.7 126.2,183.6" fill="#000"/><polygon points="132.3,179.0 133.2,181.2 135.5,181.3 133.7,182.9 134.3,185.2 132.3,183.9 130.3,185.2 130.8,182.9 129.1,181.3 131.4,181.2" fill="#000"/><polygon points="137.5,185.6 138.4,187.8 140.8,187.9 139.0,189.5 139.5,191.8 137.5,190.5 135.5,191.8 136.1,189.5 134.3,187.9 136.6,187.8" fill="#000"/><polygon points="142.7,174.4 143.6,176.6 146.0,176.7 144.2,178.3 144.7,180.6 142.7,179.3 140.7,180.6 141.3,178.3 139.5,176.7 141.8,176.6" fill="#000"/><polygon points="148.0,152.8 148.9,155.0 151.2,155.1 149.4,156.7 150.0,159.0 148.0,157.7 146.0,159.0 146.5,156.7 144.7,155.1 147.1,155.0" fill="#000"/><polygon points="153.2,139.0 154.1,141.2 156.4,141.3 154.7,142.9 155.2,145.2 153.2,143.9 151.2,145.2 151.7,142.9 150.0,141.3 152.3,141.2" fill="#000"/><polygon points="158.4,142.1 159.3,144.3 161.7,144.4 159.9,146.0 160.4,148.3 158.4,147.0 156.4,148.3 157.0,146.0 155.2,144.4 157.5,144.3" fill="#000"/><polygon points="163.7,153.5 164.5,155.7 166.9,155.8 165.1,157.4 165.6,159.7 163.7,158.4 161.7,159.7 162.2,157.4 160.4,155.8 162.8,155.7" fill="#000"/><polygon points="168.9,159.4 169.8,161.6 172.1,161.7 170.3,163.3 170.9,165.6 168.9,164.3 166.9,165.6 167.4,163.3 165.6,161.7 168.0,161.6" fill="#000"/><polygon points="174.1,163.2 175.0,165.4 177.3,165.5 175.6,167.1 176.1,169.4 174.1,168.1 172.1,169.4 172.6,167.1 170.9,165.5 173.2,165.4" fill="#000"/><polygon points="179.3,163.2 180.2,165.4 182.6,165.5 180.8,167.1 181.3,169.4 179.3,168.1 177.3,169.4 177.9,167.1 176.1,165.5 178.4,165.4" fill="#000"/><polygon points="184.6,163.2 185.5,165.4 187.8,165.5 186.0,167.1 186.6,169.4 184.6,168.1 182.6,169.4 183.1,167.1 181.3,165.5 183.7,165.4" fill="#000"/><polygon points="189.8,161.4 190.7,163.6 193.0,163.7 191.2,165.3 191.8,167.6 189.8,166.3 187.8,167.6 188.3,165.3 186.5,163.7 188.9,163.6" fill="#000"/><polygon points="195.0,159.0 195.9,161.2 198.2,161.3 196.5,162.9 197.0,165.2 195.0,163.9 193.0,165.2 193.6,162.9 191.8,161.3 194.1,161.2" fill="#000"/><polygon points="200.2,170.1 201.1,172.3 203.5,172.4 201.7,174.0 202.2,176.3 200.2,175.0 198.2,176.3 198.8,174.0 197.0,172.4 199.3,172.3" fill="#000"/><polygon points="205.5,182.6 206.4,184.8 208.7,184.9 206.9,186.5 207.5,188.8 205.5,187.5 203.5,188.8 204.0,186.5 202.2,184.9 204.6,184.8" fill="#000"/><polygon points="210.7,185.7 211.6,187.9 213.9,188.0 212.1,189.6 212.7,191.9 210.7,190.6 208.7,191.9 209.2,189.6 207.5,188.0 209.8,187.9" fill="#000"/><polygon points="215.9,184.6 216.8,186.8 219.2,186.9 217.4,188.5 217.9,190.8 215.9,189.5 213.9,190.8 214.5,188.5 212.7,186.9 215.0,186.8" fill="#000"/><polygon points="221.1,181.0 222.0,183.2 224.4,183.3 222.6,184.9 223.1,187.2 221.1,185.9 219.1,187.2 219.7,184.9 217.9,183.3 220.2,183.2" fill="#000"/><polygon points="226.4,170.3 227.3,172.5 229.6,172.6 227.8,174.2 228.4,176.5 226.4,175.2 224.4,176.5 224.9,174.2 223.1,172.6 225.5,172.5" fill="#000"/><polygon points="231.6,161.1 232.5,163.3 234.8,163.4 233.1,165.0 233.6,167.3 231.6,166.0 229.6,167.3 230.1,165.0 228.4,163.4 230.7,163.3" fill="#000"/><polygon points="236.8,160.1 237.7,162.3 240.1,162.4 238.3,164.0 238.8,166.3 236.8,165.0 234.8,166.3 235.4,164.0 233.6,162.4 235.9,162.3" fill="#000"/><polygon points="242.1,156.9 242.9,159.1 245.3,159.2 243.5,160.8 244.0,163.1 242.1,161.8 240.1,163.1 240.6,160.8 238.8,159.2 241.2,159.1" fill="#000"/><polygon points="247.3,143.0 248.2,145.2 250.5,145.3 248.7,146.9 249.3,149.2 247.3,147.9 245.3,149.2 245.8,146.9 244.0,145.3 246.4,145.2" fill="#000"/><polygon points="252.5,131.4 253.4,133.6 255.7,133.7 254.0,135.3 254.5,137.6 252.5,136.3 250.5,137.6 251.0,135.3 249.3,133.7 251.6,133.6" fill="#000"/><polygon points="257.7,131.4 258.6,133.6 261.0,133.7 259.2,135.3 259.7,137.6 257.7,136.3 255.7,137.6 256.3,135.3 254.5,133.7 256.8,133.6" fill="#000"/><polygon points="263.0,119.3 263.9,121.5 266.2,121.6 264.4,123.2 265.0,125.5 263.0,124.2 261.0,125.5 261.5,123.2 259.7,121.6 262.1,121.5" fill="#000"/><polygon points="268.2,111.6 269.1,113.8 271.4,113.9 269.6,115.5 270.2,117.8 268.2,116.5 266.2,117.8 266.7,115.5 264.9,113.9 267.3,113.8" fill="#000"/><polygon points="273.4,110.2 274.3,112.4 276.6,112.5 274.9,114.1 275.4,116.4 273.4,115.1 271.4,116.4 272.0,114.1 270.2,112.5 272.5,112.4" fill="#000"/><polygon points="278.6,107.2 279.5,109.4 281.9,109.5 280.1,111.1 280.6,113.4 278.6,112.1 276.6,113.4 277.2,111.1 275.4,109.5 277.7,109.4" fill="#000"/><polygon points="283.9,103.1 284.8,105.3 287.1,105.4 285.3,107.0 285.9,109.3 283.9,108.0 281.9,109.3 282.4,107.0 280.6,105.4 283.0,105.3" fill="#000"/><polygon points="289.1,108.2 290.0,110.4 292.3,110.5 290.5,112.1 291.1,114.4 289.1,113.1 287.1,114.4 287.6,112.1 285.9,110.5 288.2,110.4" fill="#000"/><polygon points="294.3,117.2 295.2,119.4 297.6,119.5 295.8,121.1 296.3,123.4 294.3,122.1 292.3,123.4 292.9,121.1 291.1,119.5 293.4,119.4" fill="#000"/><polygon points="299.5,107.2 300.4,109.4 302.8,109.5 301.0,111.1 301.5,113.4 299.5,112.1 297.5,113.4 298.1,111.1 296.3,109.5 298.6,109.4" fill="#000"/><polygon points="304.8,96.1 305.7,98.3 308.0,98.4 306.2,100.0 306.8,102.3 304.8,101.0 302.8,102.3 303.3,100.0 301.5,98.4 303.9,98.3" fill="#000"/>
</g>
<rect x="37.5" y="16.4" width="294.0" height="197.79999999999998" fill="none" stroke="#222" stroke-width="1"/>
<rect x="44.6" y="22.4" width="71.4" height="100.3" fill="#000"/>
<rect x="42.6" y="20.4" width="71.4" height="100" fill="#fff" stroke="#aaa" stroke-width="0.6"/>
<line x1="46.7" y1="29.2" x2="72.9" y2="29.2" stroke="#ff0000" stroke-width="1.9"/>
<circle cx="59.6" cy="29.2" r="2.65" fill="#ff0000"/><circle cx="58.7" cy="28.3" r="0.75" fill="#fff" fill-opacity="0.8"/>
<text x="77.6" y="32.6"  font-size="9.4">H=300</text>
<line x1="46.7" y1="43.2" x2="72.9" y2="43.2" stroke="#ff6a00" stroke-width="1.9"/>
<circle cx="59.6" cy="43.2" r="2.65" fill="#ff6a00"/><circle cx="58.7" cy="42.3" r="0.75" fill="#fff" fill-opacity="0.8"/>
<text x="77.6" y="46.6"  font-size="9.4">H=500</text>
<line x1="46.7" y1="57.2" x2="72.9" y2="57.2" stroke="#ffea00" stroke-width="1.9"/>
<circle cx="59.6" cy="57.2" r="2.65" fill="#ffea00"/><circle cx="58.7" cy="56.3" r="0.75" fill="#fff" fill-opacity="0.8"/>
<text x="77.6" y="60.6"  font-size="9.4">H=700</text>
<line x1="46.7" y1="71.2" x2="72.9" y2="71.2" stroke="#00e600" stroke-width="1.9"/>
<circle cx="59.6" cy="71.2" r="2.65" fill="#00e600"/><circle cx="58.7" cy="70.3" r="0.75" fill="#fff" fill-opacity="0.8"/>
<text x="77.6" y="74.6"  font-size="9.4">H=900</text>
<line x1="46.7" y1="85.2" x2="72.9" y2="85.2" stroke="#1e88ff" stroke-width="1.9"/>
<circle cx="59.6" cy="85.2" r="2.65" fill="#1e88ff"/><circle cx="58.7" cy="84.3" r="0.75" fill="#fff" fill-opacity="0.8"/>
<text x="77.6" y="88.6"  font-size="9.4">H=1100</text>
<line x1="46.7" y1="99.2" x2="72.9" y2="99.2" stroke="#5a14ff" stroke-width="1.9"/>
<circle cx="59.6" cy="99.2" r="2.65" fill="#5a14ff"/><circle cx="58.7" cy="98.3" r="0.75" fill="#fff" fill-opacity="0.8"/>
<text x="77.6" y="102.6"  font-size="9.4">H=1300</text>
<line x1="46.7" y1="113.2" x2="72.9" y2="113.2" stroke="#808080" stroke-width="1.9"/>
<polygon points="59.6,109.8 60.5,112.0 62.8,112.1 61.1,113.7 61.6,116.0 59.6,114.7 57.6,116.0 58.1,113.7 56.4,112.1 58.7,112.0" fill="#000"/>
<text x="77.6" y="116.6"  font-size="9.4">DSP</text>
<style>.k{fill:none;stroke:#222;stroke-opacity:.55;stroke-width:.55}</style>
<filter id="sm" filterUnits="userSpaceOnUse" x="380" y="0" width="260" height="240"><feGaussianBlur in="SourceGraphic" stdDeviation="0.75" result="b"/><feComponentTransfer in="b" result="c"><feFuncA type="linear" slope="40" intercept="0"/></feComponentTransfer><feComponentTransfer in="SourceAlpha" result="m"><feFuncA type="linear" slope="2.2" intercept="0"/></feComponentTransfer><feComposite in="c" in2="m" operator="in"/></filter>
<text x="349" y="17.7"  font-size="16" font-weight="bold">b</text>
<path d="M416.6,173.9L411.3,15.7M435.7,166.7L431.7,12.4M453.9,159.8L451.0,9.2M471.2,153.3L469.4,6.1M487.6,147.1L486.8,3.3M518.7,145.5L519.7,2.5M534.7,149.9L536.6,4.6M551.3,154.6L554.1,6.7M568.4,159.3L572.3,8.9M586.2,164.3L591.3,11.2M604.6,169.5L611.0,13.6M395.9,169.7L503.3,130.9L624.3,163.3M394.9,145.8L503.3,110.0L625.5,139.9M393.9,121.5L503.4,88.8L626.6,116.0M392.9,96.7L503.4,67.3L627.8,91.7M391.8,71.4L503.4,45.4L629.0,67.0M390.8,45.6L503.4,23.2L630.2,41.8" stroke="#d0d0d0" stroke-width="0.45" fill="none"/>
<path d="M396.4,181.5L389.7,19.3L503.4,0.5L631.4,16.1L623.8,174.8M503.4,0.5L503.3,141.2" stroke="#555" stroke-width="0.8" fill="none"/>
<path d="M396.4,181.5L389.7,19.3" stroke="#222" stroke-width="1" fill="none"/>
<g filter="url(#sm)"><path d="M396.2 181.5l4.3 1.6 2.1-.9-4.3-1.7z" fill="#4c005a"/><path d="M398.2 180.7l4.4 1.6 2.1-.9-4.3-1.7z" fill="#4d005b"/><path d="M400.3 179.9l4.3 1.6 2.1-.9-4.3-1.6z" fill="#4e005c"/><path d="M402.3 179.1l4.3 1.7 2.2-1-4.3-1.6z" fill="#4e005d"/><path d="M404.4 178.4l4.3 1.6 2.1-.9-4.3-1.6z" fill="#4f005e"/><path d="M406.4 177.6l4.3 1.6 2.1-.9-4.3-1.6z" fill="#50005e"/><path d="M408.4 176.9l4.3 1.6 2.1-1-4.3-1.6z" fill="#50005f"/><path d="M410.4 176.1l4.3 1.6 2.1-.9-4.3-1.6z" fill="#51005f"/><path d="M412.4 175.4l4.3 1.5 2-.9-4.3-1.6z" fill="#510060"/><path d="M414.4 174.6l4.3 1.6 2-.9-4.3-1.6z" fill="#520061"/><path d="M416.3 173.9l4.3 1.5 2.1-.9-4.3-1.5z" fill="#520061"/><path d="M418.3 173.1l4.3 1.6 2-.9-4.3-1.6z" fill="#530062"/><path d="M420.2 172.4l4.3 1.5 2.1-.8-4.4-1.6z" fill="#540062"/><path d="M422.2 171.7l4.3 1.5 2-.9-4.3-1.5z" fill="#540063"/><path d="M424.1 170.9l4.3 1.6 2-.9-4.3-1.5z" fill="#550064"/><path d="M426 170.2l4.3 1.5 2-.8-4.3-1.6z" fill="#550064"/><path d="M427.9 169.5l4.3 1.5 2-.9-4.3-1.5z" fill="#560065"/><path d="M429.8 168.8l4.3 1.5 2-.9-4.3-1.5z" fill="#560065"/><path d="M431.7 168.1l4.3 1.5 2-.9-4.3-1.5z" fill="#560066"/><path d="M433.6 167.4l4.3 1.5 1.9-.9-4.3-1.5z" fill="#570066"/><path d="M435.4 166.7l4.1 1.5 5-2-4.1-1.5z" fill="#570067"/><path d="M440.1 165l4 1.5 4.9-2-4-1.5z" fill="#580067"/><path d="M444.6 163.2l4.1 1.5 4.8-2-4-1.4z" fill="#590068"/><path d="M449.2 161.5l4 1.5 4.8-2-4.1-1.4z" fill="#5a0069"/><path d="M453.6 159.8l4.1 1.5 4.7-1.9-4.1-1.5z" fill="#5b006b"/><path d="M458 158.2l4.1 1.4 4.6-1.9-4-1.4z" fill="#5d006d"/><path d="M462.4 156.5l4 1.5 4.6-1.9-4.1-1.4z" fill="#610071"/><path d="M466.7 154.9l4 1.4 4.5-1.8-4-1.4z" fill="#640078"/><path d="M470.9 153.3l4.1 1.4 4.4-1.8-4-1.4z" fill="#67007e"/><path d="M475.1 151.7l4.1 1.4 4.4-1.8-4.1-1.4z" fill="#6b0085"/><path d="M479.2 150.2l4.1 1.4 4.4-1.9-4.1-1.3z" fill="#6e008c"/><path d="M483.3 148.6l4.1 1.4 4.3-1.8-4.1-1.3z" fill="#700094"/><path d="M487.4 147.1l4 1.4 4.3-1.8-4.1-1.4z" fill="#70009c"/><path d="M491.4 145.6l4 1.3 4.2-1.7-4-1.3z" fill="#7000a4"/><path d="M495.3 144.1l4.1 1.3 4.1-1.7-4-1.3z" fill="#7000ad"/><path d="M499.2 142.6l4.1 1.4 4.1-1.8-4.1-1.3z" fill="#7000b5"/><path d="M400.1 182.9l4.3 1.7 2.2-1-4.4-1.7z" fill="#50005f"/><path d="M402.1 182.1l4.4 1.7 2.1-1-4.3-1.6z" fill="#530062"/><path d="M404.2 181.3l4.3 1.7 2.2-1-4.4-1.6z" fill="#550064"/><path d="M406.2 180.6l4.4 1.6 2.1-.9-4.4-1.7z" fill="#580067"/><path d="M408.3 179.8l4.3 1.6 2.1-.9-4.3-1.7z" fill="#5a0069"/><path d="M410.3 179l4.3 1.6 2.1-.9-4.3-1.6z" fill="#5c006b"/><path d="M412.3 178.2l4.3 1.7 2.1-1-4.3-1.6z" fill="#5d006d"/><path d="M414.3 177.5l4.3 1.6 2.1-.9-4.3-1.6z" fill="#5f006f"/><path d="M416.3 176.7l4.3 1.6 2.1-.9-4.4-1.6z" fill="#600071"/><path d="M418.3 176l4.3 1.6 2-.9-4.3-1.6z" fill="#620073"/><path d="M420.2 175.2l4.4 1.6 2-.9-4.3-1.6z" fill="#630076"/><path d="M422.2 174.5l4.3 1.6 2-.9-4.3-1.6z" fill="#65007a"/><path d="M424.1 173.7l4.4 1.6 2-.9-4.4-1.6z" fill="#66007d"/><path d="M426.1 173l4.3 1.6 2-.9-4.3-1.6z" fill="#680080"/><path d="M428 172.3l4.3 1.5 2-.9-4.3-1.5z" fill="#690083"/><path d="M429.9 171.5l4.3 1.6 2-.9-4.3-1.5z" fill="#6b0085"/><path d="M431.8 170.8l4.3 1.6 2-.9-4.3-1.6z" fill="#6c0088"/><path d="M433.7 170.1l4.3 1.5 2-.9-4.3-1.5z" fill="#6d008a"/><path d="M435.6 169.4l4.3 1.5 2-.9-4.4-1.5z" fill="#6e008c"/><path d="M437.5 168.7l4.3 1.5 1.9-.9-4.3-1.5z" fill="#6f008e"/><path d="M439.3 168l4.1 1.5 5-2-4.1-1.5z" fill="#700091"/><path d="M444 166.2l4.1 1.5 4.8-2-4.1-1.5z" fill="#700096"/><path d="M448.5 164.5l4.1 1.5 4.8-2-4.1-1.5z" fill="#70009a"/><path d="M453 162.8l4.1 1.5 4.8-2-4.1-1.5z" fill="#70009e"/><path d="M457.5 161.1l4.1 1.4 4.7-1.9-4.1-1.5z" fill="#7000a3"/><path d="M461.9 159.4l4.1 1.5 4.6-2-4.1-1.4z" fill="#7000a8"/><path d="M466.2 157.7l4.1 1.5 4.6-1.9-4.1-1.5z" fill="#7000ae"/><path d="M470.5 156.1l4.1 1.4 4.5-1.9-4.1-1.4z" fill="#7000b5"/><path d="M474.7 154.5l4.2 1.4 4.4-1.9-4.1-1.4z" fill="#7000bc"/><path d="M478.9 152.9l4.1 1.4 4.4-1.9-4.1-1.3z" fill="#7000c5"/><path d="M483.1 151.3l4.1 1.4 4.3-1.8-4.1-1.4z" fill="#7000ce"/><path d="M487.2 149.8l4.1 1.3 4.3-1.8-4.1-1.3z" fill="#6e00d5"/><path d="M491.2 148.2l4.1 1.4 4.2-1.8-4.1-1.4z" fill="#6a00dc"/><path d="M495.2 146.7l4.1 1.4 4.2-1.8-4.1-1.4z" fill="#6600e4"/><path d="M499.1 145.2l4.1 1.3 4.2-1.7-4.1-1.3z" fill="#6100ed"/><path d="M503 143.7l4.1 1.3 4.1-1.7-4.1-1.3z" fill="#5800f4"/><path d="M404 184.3l4.4 1.7 2.1-.9-4.3-1.7z" fill="#550064"/><path d="M406.1 183.6l4.4 1.6 2.1-.9-4.4-1.7z" fill="#5a0069"/><path d="M408.1 182.8l4.4 1.6 2.1-.9-4.4-1.7z" fill="#5e006e"/><path d="M410.2 182l4.3 1.6 2.2-.9-4.4-1.7z" fill="#610073"/><path d="M412.2 181.2l4.4 1.6 2.1-.9-4.4-1.6z" fill="#650079"/><path d="M414.2 180.4l4.4 1.7 2.1-1-4.4-1.6z" fill="#68007f"/><path d="M416.2 179.6l4.4 1.7 2.1-1-4.4-1.6z" fill="#6a0084"/><path d="M418.2 178.9l4.4 1.6 2.1-.9-4.4-1.6z" fill="#6d0089"/><path d="M420.2 178.1l4.4 1.6 2-.9-4.3-1.6z" fill="#6f008e"/><path d="M422.2 177.4l4.4 1.6 2-1-4.4-1.6z" fill="#700093"/><path d="M424.1 176.6l4.4 1.6 2.1-.9-4.4-1.6z" fill="#700099"/><path d="M426.1 175.8l4.4 1.6 2-.9-4.4-1.6z" fill="#70009e"/><path d="M428 175.1l4.4 1.6 2-.9-4.3-1.6z" fill="#7000a4"/><path d="M430 174.4l4.4 1.5 2-.9-4.4-1.5z" fill="#7000aa"/><path d="M431.9 173.6l4.4 1.6 2-.9-4.4-1.6z" fill="#7000af"/><path d="M433.8 172.9l4.4 1.5 2-.9-4.4-1.5z" fill="#7000b4"/><path d="M435.7 172.1l4.4 1.6 2-.9-4.4-1.5z" fill="#7000b8"/><path d="M437.6 171.4l4.4 1.6 2-.9-4.4-1.6z" fill="#7000bc"/><path d="M439.5 170.7l4.4 1.5 1.9-.9-4.4-1.5z" fill="#7000c0"/><path d="M441.4 170l4.4 1.5 1.9-.9-4.4-1.5z" fill="#7000c3"/><path d="M443.2 169.3l4.2 1.5 4.9-2-4.1-1.5z" fill="#7000c8"/><path d="M447.9 167.5l4.1 1.5 4.9-2-4.2-1.5z" fill="#7000cd"/><path d="M452.4 165.8l4.2 1.5 4.8-2-4.2-1.5z" fill="#6f00d1"/><path d="M456.9 164l4.2 1.5 4.7-2-4.1-1.4z" fill="#6e00d4"/><path d="M461.4 162.3l4.1 1.5 4.7-2-4.1-1.4z" fill="#6d00d6"/><path d="M465.8 160.6l4.1 1.5 4.6-2-4.1-1.4z" fill="#6c00d9"/><path d="M470.1 159l4.2 1.4 4.5-1.9-4.1-1.5z" fill="#6a00dc"/><path d="M474.4 157.3l4.1 1.4 4.5-1.9-4.1-1.4z" fill="#6900df"/><path d="M478.6 155.7l4.2 1.4 4.4-1.9-4.1-1.4z" fill="#6600e3"/><path d="M482.8 154.1l4.2 1.4 4.4-1.9-4.2-1.4z" fill="#6400e8"/><path d="M486.9 152.5l4.2 1.4 4.3-1.9-4.1-1.4z" fill="#6000ef"/><path d="M491 150.9l4.2 1.4 4.3-1.8-4.2-1.4z" fill="#5800f4"/><path d="M495.1 149.4l4.1 1.3 4.2-1.8-4.1-1.3z" fill="#4d00f9"/><path d="M499 147.8l4.2 1.4 4.2-1.8-4.2-1.4z" fill="#3d01ff"/><path d="M503 146.3l4.1 1.3 4.2-1.7-4.2-1.4z" fill="#160aff"/><path d="M506.9 144.8l4.1 1.3 4.1-1.7-4.1-1.3z" fill="#0026ff"/><path d="M408 185.8l4.4 1.7 2.2-1-4.5-1.7z" fill="#5c006b"/><path d="M410 185l4.5 1.7 2.1-1-4.4-1.7z" fill="#610073"/><path d="M412.1 184.2l4.4 1.7 2.1-1-4.4-1.6z" fill="#67007d"/><path d="M414.1 183.4l4.5 1.7 2.1-1-4.5-1.6z" fill="#6b0087"/><path d="M416.2 182.6l4.4 1.7 2.1-1-4.4-1.6z" fill="#700090"/><path d="M418.2 181.8l4.4 1.7 2.1-.9-4.4-1.7z" fill="#700099"/><path d="M420.2 181.1l4.4 1.6 2.1-.9-4.4-1.7z" fill="#7000a2"/><path d="M422.2 180.3l4.4 1.6 2.1-.9-4.5-1.6z" fill="#7000aa"/><path d="M424.2 179.5l4.4 1.6 2-.9-4.4-1.6z" fill="#7000b1"/><path d="M426.1 178.8l4.5 1.6 2-1-4.4-1.6z" fill="#7000b8"/><path d="M428.1 178l4.4 1.6 2.1-.9-4.5-1.6z" fill="#7000c0"/><path d="M430.1 177.2l4.4 1.6 2-.9-4.4-1.6z" fill="#7000c8"/><path d="M432 176.5l4.4 1.6 2-.9-4.4-1.6z" fill="#7000d0"/><path d="M433.9 175.7l4.5 1.6 2-.9-4.5-1.6z" fill="#6e00d4"/><path d="M435.9 175l4.4 1.5 2-.9-4.5-1.5z" fill="#6c00d8"/><path d="M437.8 174.2l4.4 1.6 2-.9-4.4-1.6z" fill="#6b00db"/><path d="M439.7 173.5l4.4 1.5 2-.8-4.5-1.6z" fill="#6900de"/><path d="M441.6 172.8l4.4 1.5 1.9-.9-4.4-1.5z" fill="#6800e0"/><path d="M443.5 172l4.4 1.6 1.9-.9-4.4-1.6z" fill="#6700e3"/><path d="M445.3 171.3l4.4 1.5 2-.9-4.4-1.5z" fill="#6600e5"/><path d="M447.2 170.6l4.2 1.6 4.9-2.1-4.2-1.5z" fill="#6400e7"/><path d="M451.8 168.8l4.2 1.6 4.9-2.1-4.2-1.5z" fill="#6300ea"/><path d="M456.4 167l4.2 1.6 4.7-2.1-4.1-1.5z" fill="#6200ec"/><path d="M460.9 165.3l4.2 1.5 4.7-2-4.2-1.5z" fill="#6100ee"/><path d="M465.3 163.6l4.2 1.5 4.7-2-4.2-1.5z" fill="#5f00f0"/><path d="M469.7 161.9l4.2 1.4 4.6-1.9-4.2-1.5z" fill="#5c00f2"/><path d="M474 160.2l4.2 1.4 4.6-1.9-4.2-1.5z" fill="#5800f4"/><path d="M478.3 158.5l4.2 1.5 4.5-2-4.2-1.4z" fill="#5400f6"/><path d="M482.5 156.9l4.2 1.4 4.5-1.9-4.2-1.4z" fill="#4c00f9"/><path d="M486.7 155.2l4.2 1.5 4.4-1.9-4.2-1.4z" fill="#4100ff"/><path d="M490.9 153.6l4.1 1.4 4.4-1.8-4.2-1.4z" fill="#2307ff"/><path d="M494.9 152.1l4.2 1.3 4.3-1.8-4.2-1.4z" fill="#0010ff"/><path d="M499 150.5l4.1 1.4 4.3-1.9-4.2-1.3z" fill="#0036ff"/><path d="M502.9 148.9l4.2 1.4 4.2-1.8-4.2-1.4z" fill="#0060ff"/><path d="M506.9 147.4l4.1 1.4 4.2-1.8-4.2-1.4z" fill="#008eff"/><path d="M510.8 145.9l4.1 1.3 4.1-1.7-4.2-1.4z" fill="#00bdff"/><path d="M412 187.3l4.5 1.7 2.1-1-4.5-1.7z" fill="#620075"/><path d="M414.1 186.5l4.4 1.7 2.2-1-4.5-1.7z" fill="#690083"/><path d="M416.1 185.7l4.5 1.7 2.1-1-4.5-1.7z" fill="#700090"/><path d="M418.1 184.9l4.5 1.7 2.1-1-4.4-1.7z" fill="#70009e"/><path d="M420.2 184.1l4.4 1.7 2.1-1-4.4-1.7z" fill="#7000ab"/><path d="M422.2 183.3l4.5 1.6 2-.9-4.4-1.7z" fill="#7000b7"/><path d="M424.2 182.5l4.5 1.7 2-1-4.4-1.6z" fill="#7000c2"/><path d="M426.2 181.7l4.5 1.7 2-1-4.4-1.6z" fill="#7000cc"/><path d="M428.2 180.9l4.4 1.7 2.1-1-4.5-1.6z" fill="#6f00d3"/><path d="M430.1 180.2l4.5 1.6 2.1-.9-4.5-1.7z" fill="#6c00d8"/><path d="M432.1 179.4l4.5 1.6 2-.9-4.5-1.6z" fill="#6900dd"/><path d="M434.1 178.6l4.4 1.6 2-.9-4.4-1.6z" fill="#6700e3"/><path d="M436 177.9l4.5 1.6 2-1-4.5-1.6z" fill="#6400e8"/><path d="M437.9 177.1l4.5 1.6 2-.9-4.5-1.6z" fill="#6200ed"/><path d="M439.9 176.3l4.4 1.6 2-.9-4.5-1.6z" fill="#5f00f1"/><path d="M441.8 175.6l4.4 1.6 2-.9-4.5-1.6z" fill="#5b00f2"/><path d="M443.7 174.8l4.4 1.6 2-.9-4.5-1.5z" fill="#5800f4"/><path d="M445.6 174.1l4.4 1.6 2-.9-4.5-1.6z" fill="#5500f5"/><path d="M447.4 173.4l4.5 1.5 1.9-.9-4.4-1.5z" fill="#5200f7"/><path d="M449.3 172.6l4.5 1.6 1.9-.9-4.4-1.5z" fill="#4f00f8"/><path d="M451.2 171.9l4.2 1.6 4.9-2.1-4.2-1.5z" fill="#4d00f9"/><path d="M455.8 170.1l4.2 1.6 4.9-2.1-4.3-1.5z" fill="#4900fb"/><path d="M460.4 168.3l4.2 1.6 4.8-2.1-4.3-1.5z" fill="#4700fc"/><path d="M464.8 166.6l4.3 1.5 4.7-2-4.2-1.5z" fill="#4400fd"/><path d="M469.3 164.8l4.2 1.5 4.7-2-4.2-1.5z" fill="#3f00ff"/><path d="M473.7 163.1l4.2 1.5 4.6-2-4.2-1.5z" fill="#3303ff"/><path d="M478 161.4l4.2 1.5 4.6-2-4.2-1.4z" fill="#2407ff"/><path d="M482.3 159.7l4.2 1.5 4.5-2-4.2-1.4z" fill="#110cff"/><path d="M486.5 158.1l4.2 1.4 4.5-1.9-4.3-1.4z" fill="#001cff"/><path d="M490.7 156.4l4.2 1.5 4.4-1.9-4.2-1.5z" fill="#004bff"/><path d="M494.8 154.8l4.2 1.4 4.3-1.8-4.2-1.5z" fill="#0083ff"/><path d="M498.9 153.2l4.2 1.4 4.3-1.8-4.3-1.4z" fill="#00b6ff"/><path d="M502.9 151.6l4.2 1.4 4.2-1.8-4.2-1.4z" fill="#00dcff"/><path d="M506.9 150.1l4.2 1.3 4.1-1.8-4.2-1.3z" fill="#00feff"/><path d="M510.8 148.5l4.2 1.4 4.1-1.8-4.2-1.4z" fill="#00ff9f"/><path d="M514.7 147l4.2 1.4 4-1.8-4.2-1.4z" fill="#00ff3f"/><path d="M416 188.8l4.6 1.7 2.1-1-4.5-1.7z" fill="#690083"/><path d="M418.1 188l4.5 1.7 2.1-1-4.5-1.7z" fill="#700094"/><path d="M420.2 187.2l4.5 1.7 2.1-1-4.5-1.7z" fill="#7000a6"/><path d="M422.2 186.3l4.5 1.7 2.1-.9-4.5-1.7z" fill="#7000b7"/><path d="M424.2 185.5l4.5 1.7 2.1-.9-4.5-1.7z" fill="#7000c7"/><path d="M426.2 184.7l4.5 1.7 2.1-.9-4.5-1.7z" fill="#6e00d3"/><path d="M428.2 183.9l4.5 1.7 2.1-.9-4.5-1.7z" fill="#6b00da"/><path d="M430.2 183.2l4.5 1.6 2.1-.9-4.5-1.7z" fill="#6700e1"/><path d="M432.2 182.4l4.5 1.6 2.1-.9-4.5-1.7z" fill="#6400e8"/><path d="M434.2 181.6l4.5 1.6 2-.9-4.5-1.7z" fill="#6100ee"/><path d="M436.2 180.8l4.5 1.6 2-.9-4.5-1.6z" fill="#5c00f2"/><path d="M438.1 180l4.5 1.7 2-1-4.5-1.6z" fill="#5600f5"/><path d="M440 179.3l4.6 1.6 2-1-4.5-1.6z" fill="#5000f8"/><path d="M442 178.5l4.5 1.6 2-.9-4.5-1.6z" fill="#4a00fa"/><path d="M443.9 177.7l4.5 1.6 2-.9-4.5-1.6z" fill="#4500fd"/><path d="M445.8 177l4.5 1.6 2-.9-4.5-1.6z" fill="#4100ff"/><path d="M447.7 176.2l4.5 1.6 2-.9-4.5-1.6z" fill="#3a01ff"/><path d="M449.6 175.5l4.5 1.5 1.9-.9-4.5-1.5z" fill="#3403ff"/><path d="M451.5 174.7l4.5 1.6 1.9-.9-4.5-1.6z" fill="#2d05ff"/><path d="M453.4 174l4.4 1.5 2-.9-4.5-1.5z" fill="#2706ff"/><path d="M455.2 173.3l4.3 1.6 4.9-2.1-4.3-1.6z" fill="#1e08ff"/><path d="M459.8 171.4l4.3 1.6 4.8-2.1-4.2-1.5z" fill="#120cff"/><path d="M464.4 169.6l4.2 1.6 4.8-2.1-4.3-1.5z" fill="#060fff"/><path d="M468.9 167.9l4.2 1.5 4.7-2-4.2-1.6z" fill="#0018ff"/><path d="M473.3 166.1l4.3 1.5 4.6-2-4.2-1.5z" fill="#002bff"/><path d="M477.7 164.4l4.2 1.5 4.6-2-4.2-1.5z" fill="#0043ff"/><path d="M482 162.6l4.3 1.5 4.5-1.9-4.3-1.5z" fill="#0060ff"/><path d="M486.3 160.9l4.2 1.5 4.5-1.9-4.2-1.5z" fill="#0082ff"/><path d="M490.5 159.3l4.3 1.4 4.4-1.9-4.3-1.4z" fill="#00afff"/><path d="M494.7 157.6l4.2 1.5 4.4-1.9-4.3-1.5z" fill="#00e4ff"/><path d="M498.8 156l4.2 1.4 4.3-1.9-4.2-1.4z" fill="#00ff9f"/><path d="M502.8 154.4l4.3 1.4 4.3-1.9-4.3-1.4z" fill="#00ff01"/><path d="M506.9 152.8l4.2 1.4 4.2-1.9-4.2-1.4z" fill="#2fff00"/><path d="M510.8 151.2l4.3 1.4 4.1-1.8-4.2-1.4z" fill="#57ff00"/><path d="M514.7 149.7l4.3 1.3 4.1-1.8-4.3-1.3z" fill="#7bff00"/><path d="M518.6 148.1l4.3 1.4 4-1.8-4.2-1.4z" fill="#96ff00"/><path d="M420.1 190.3l4.6 1.7 2.1-1-4.5-1.7z" fill="#700092"/><path d="M422.2 189.5l4.5 1.7 2.2-1-4.6-1.7z" fill="#7000a8"/><path d="M424.2 188.6l4.6 1.8 2.1-1-4.5-1.7z" fill="#7000bd"/><path d="M426.3 187.8l4.5 1.7 2.1-.9-4.5-1.7z" fill="#7000d0"/><path d="M428.3 187l4.6 1.7 2.1-1-4.6-1.7z" fill="#6b00db"/><path d="M430.3 186.2l4.6 1.7 2.1-1-4.6-1.7z" fill="#6600e4"/><path d="M432.3 185.4l4.6 1.7 2-1-4.5-1.7z" fill="#6100ed"/><path d="M434.3 184.6l4.6 1.7 2-1-4.5-1.6z" fill="#5a00f3"/><path d="M436.3 183.8l4.6 1.7 2-1-4.5-1.6z" fill="#5200f6"/><path d="M438.3 183l4.5 1.7 2.1-1-4.6-1.6z" fill="#4b00fa"/><path d="M440.2 182.2l4.6 1.7 2-1-4.5-1.6z" fill="#4400fd"/><path d="M442.2 181.4l4.5 1.7 2-.9-4.5-1.7z" fill="#3c01ff"/><path d="M444.1 180.7l4.6 1.6 2-.9-4.6-1.7z" fill="#3004ff"/><path d="M446.1 179.9l4.5 1.6 2-.9-4.6-1.6z" fill="#2507ff"/><path d="M448 179.1l4.5 1.6 2-.9-4.5-1.6z" fill="#1b09ff"/><path d="M449.9 178.4l4.5 1.6 2-1-4.5-1.5z" fill="#120cff"/><path d="M451.8 177.6l4.5 1.6 2-.9-4.6-1.6z" fill="#0a0eff"/><path d="M453.7 176.8l4.5 1.6 2-.9-4.6-1.6z" fill="#020fff"/><path d="M455.6 176.1l4.5 1.6 1.9-.9-4.5-1.6z" fill="#0015ff"/><path d="M457.4 175.3l4.6 1.6 1.9-.9-4.6-1.6z" fill="#001dff"/><path d="M459.3 174.6l4.3 1.6 4.9-2.1-4.3-1.6z" fill="#002dff"/><path d="M463.9 172.8l4.3 1.6 4.8-2.1-4.3-1.6z" fill="#0045ff"/><path d="M468.4 171l4.3 1.5 4.8-2.1-4.3-1.5z" fill="#005fff"/><path d="M472.9 169.2l4.3 1.5 4.7-2-4.3-1.6z" fill="#007dff"/><path d="M477.3 167.4l4.4 1.5 4.6-2-4.3-1.5z" fill="#00a2ff"/><path d="M481.7 165.6l4.3 1.5 4.6-2-4.3-1.5z" fill="#00cbff"/><path d="M486 163.9l4.4 1.5 4.5-2-4.3-1.5z" fill="#00f6ff"/><path d="M490.3 162.2l4.3 1.5 4.5-2-4.3-1.5z" fill="#00ff8e"/><path d="M494.5 160.5l4.3 1.5 4.4-2-4.3-1.4z" fill="#06ff00"/><path d="M498.7 158.8l4.3 1.5 4.3-1.9-4.3-1.5z" fill="#52ff00"/><path d="M502.8 157.2l4.3 1.4 4.3-1.9-4.3-1.4z" fill="#a2ff00"/><path d="M506.8 155.6l4.3 1.4 4.3-1.9-4.3-1.4z" fill="#d5ff00"/><path d="M510.9 153.9l4.2 1.5 4.2-1.9-4.2-1.4z" fill="#f4ff00"/><path d="M514.8 152.4l4.3 1.4 4.1-1.9-4.2-1.4z" fill="#fff500"/><path d="M518.7 150.8l4.3 1.4 4.1-1.9-4.3-1.3z" fill="#ffe300"/><path d="M522.6 149.2l4.3 1.4 4-1.8-4.3-1.4z" fill="#ffd500"/><path d="M424.3 191.8l4.6 1.8 2.1-1-4.6-1.8z" fill="#7000a4"/><path d="M426.3 191l4.6 1.7 2.2-1-4.6-1.7z" fill="#7000bd"/><path d="M428.4 190.1l4.6 1.8 2.1-1-4.6-1.7z" fill="#6f00d3"/><path d="M430.4 189.3l4.6 1.8 2.1-1-4.6-1.8z" fill="#6800df"/><path d="M432.4 188.5l4.6 1.7 2.1-1-4.6-1.7z" fill="#6200eb"/><path d="M434.5 187.7l4.5 1.7 2.1-1-4.6-1.7z" fill="#5a00f3"/><path d="M436.5 186.9l4.5 1.7 2.1-1-4.6-1.7z" fill="#4f00f8"/><path d="M438.4 186.1l4.6 1.7 2.1-1-4.6-1.7z" fill="#4500fd"/><path d="M440.4 185.3l4.6 1.6 2.1-.9-4.6-1.7z" fill="#3602ff"/><path d="M442.4 184.5l4.6 1.6 2-.9-4.6-1.7z" fill="#2606ff"/><path d="M444.4 183.7l4.5 1.6 2.1-.9-4.6-1.7z" fill="#190aff"/><path d="M446.3 182.9l4.6 1.6 2-.9-4.6-1.7z" fill="#0d0dff"/><path d="M448.2 182.1l4.6 1.6 2-.9-4.6-1.6z" fill="#030fff"/><path d="M450.2 181.3l4.6 1.7 1.9-1-4.5-1.6z" fill="#0016ff"/><path d="M452.1 180.5l4.6 1.7 2-1-4.6-1.6z" fill="#001fff"/><path d="M454 179.8l4.6 1.6 1.9-.9-4.5-1.7z" fill="#0029ff"/><path d="M455.9 179l4.6 1.6 1.9-.9-4.5-1.6z" fill="#0034ff"/><path d="M457.8 178.2l4.6 1.6 1.9-.9-4.6-1.6z" fill="#003eff"/><path d="M459.7 177.5l4.5 1.6 2-.9-4.6-1.6z" fill="#0049ff"/><path d="M461.5 176.7l4.6 1.6 1.9-.9-4.5-1.6z" fill="#0055ff"/><path d="M463.4 176l4.3 1.6 4.9-2.1-4.3-1.6z" fill="#006eff"/><path d="M468 174.1l4.3 1.6 4.9-2.1-4.4-1.6z" fill="#0097ff"/><path d="M472.5 172.3l4.4 1.6 4.7-2.1-4.3-1.6z" fill="#00c3ff"/><path d="M477 170.5l4.4 1.5 4.7-2-4.4-1.6z" fill="#00efff"/><path d="M481.4 168.7l4.4 1.5 4.6-2-4.3-1.5z" fill="#00ff7d"/><path d="M485.8 166.9l4.4 1.5 4.5-2-4.3-1.5z" fill="#31ff00"/><path d="M490.1 165.2l4.4 1.5 4.5-2-4.4-1.5z" fill="#a3ff00"/><path d="M494.4 163.4l4.3 1.5 4.5-1.9-4.4-1.5z" fill="#ebff00"/><path d="M498.6 161.7l4.3 1.5 4.4-1.9-4.3-1.5z" fill="#ffe700"/><path d="M502.7 160l4.4 1.5 4.3-1.9-4.3-1.5z" fill="#ffbd00"/><path d="M506.8 158.4l4.4 1.4 4.3-1.9-4.4-1.4z" fill="#ff8e00"/><path d="M510.9 156.7l4.3 1.5 4.3-1.9-4.4-1.4z" fill="#ff6b00"/><path d="M514.9 155.1l4.3 1.4 4.2-1.8-4.3-1.4z" fill="#ff4d00"/><path d="M518.8 153.5l4.4 1.4 4.1-1.8-4.3-1.4z" fill="#ff3200"/><path d="M522.7 151.9l4.4 1.4 4.1-1.8-4.4-1.4z" fill="#ff1e00"/><path d="M526.6 150.4l4.3 1.4 4.1-1.9-4.4-1.3z" fill="#ff1100"/><path d="M428.5 193.4l4.6 1.7 2.1-1-4.6-1.7z" fill="#7000b9"/><path d="M430.5 192.5l4.6 1.8 2.2-1-4.7-1.8z" fill="#6e00d4"/><path d="M432.6 191.7l4.6 1.7 2.1-1-4.6-1.7z" fill="#6600e3"/><path d="M434.6 190.8l4.6 1.8 2.1-1-4.6-1.7z" fill="#5f00f1"/><path d="M436.6 190l4.6 1.7 2.1-.9-4.6-1.8z" fill="#5100f7"/><path d="M438.6 189.2l4.7 1.7 2-1-4.6-1.7z" fill="#4500fd"/><path d="M440.6 188.4l4.7 1.7 2-1-4.6-1.7z" fill="#3303ff"/><path d="M442.6 187.5l4.6 1.8 2.1-1-4.6-1.7z" fill="#1c09ff"/><path d="M444.6 186.7l4.6 1.7 2.1-.9-4.7-1.7z" fill="#090eff"/><path d="M446.6 185.9l4.6 1.7 2-.9-4.6-1.7z" fill="#0018ff"/><path d="M448.5 185.1l4.7 1.7 2-1-4.7-1.6z" fill="#0026ff"/><path d="M450.5 184.3l4.6 1.7 2-1-4.6-1.6z" fill="#0030ff"/><path d="M452.4 183.5l4.6 1.7 2-.9-4.6-1.7z" fill="#0039ff"/><path d="M454.3 182.7l4.7 1.7 1.9-.9-4.6-1.7z" fill="#0042ff"/><path d="M456.2 182l4.7 1.6 1.9-.9-4.6-1.7z" fill="#004cff"/><path d="M458.2 181.2l4.6 1.6 1.9-.9-4.6-1.6z" fill="#0057ff"/><path d="M460.1 180.4l4.6 1.6 1.9-.9-4.6-1.6z" fill="#0065ff"/><path d="M461.9 179.6l4.7 1.6 1.9-.9-4.6-1.6z" fill="#0074ff"/><path d="M463.8 178.9l4.6 1.6 2-.9-4.7-1.6z" fill="#0086ff"/><path d="M465.7 178.1l4.6 1.6 1.9-.9-4.6-1.6z" fill="#009aff"/><path d="M467.5 177.4l4.4 1.6 4.9-2.2-4.4-1.6z" fill="#00c0ff"/><path d="M472.1 175.5l4.4 1.6 4.8-2.1-4.4-1.6z" fill="#00f7ff"/><path d="M476.7 173.6l4.4 1.6 4.7-2.1-4.4-1.6z" fill="#00ff50"/><path d="M481.1 171.8l4.4 1.6 4.7-2.1-4.4-1.6z" fill="#39ff00"/><path d="M485.6 170l4.4 1.6 4.6-2.1-4.4-1.6z" fill="#aaff00"/><path d="M489.9 168.2l4.4 1.5 4.6-2-4.4-1.5z" fill="#ffef00"/><path d="M494.2 166.4l4.4 1.6 4.5-2.1-4.4-1.5z" fill="#ff7200"/><path d="M498.5 164.7l4.4 1.5 4.4-2-4.4-1.5z" fill="#ff0000"/><path d="M502.7 163l4.4 1.5 4.4-2-4.4-1.5z" fill="#ff0000"/><path d="M506.8 161.3l4.4 1.5 4.3-2-4.3-1.5z" fill="#ff0000"/><path d="M510.9 159.6l4.4 1.5 4.3-2-4.4-1.4z" fill="#ff0000"/><path d="M515 157.9l4.3 1.5 4.3-1.9-4.4-1.5z" fill="#ff0000"/><path d="M519 156.3l4.3 1.4 4.2-1.9-4.4-1.4z" fill="#ff0000"/><path d="M522.9 154.7l4.4 1.4 4.1-1.9-4.4-1.4z" fill="#ff0000"/><path d="M526.8 153.1l4.4 1.4 4-1.9-4.3-1.3z" fill="#ff0000"/><path d="M530.7 151.5l4.3 1.4 4-1.8-4.3-1.4z" fill="#ff0000"/><path d="M432.7 194.9l4.7 1.8 2.1-1-4.7-1.8z" fill="#6f00d1"/><path d="M434.7 194.1l4.7 1.7 2.1-1-4.6-1.7z" fill="#6600e4"/><path d="M436.8 193.2l4.7 1.8 2.1-1-4.7-1.8z" fill="#5a00f3"/><path d="M438.8 192.4l4.7 1.7 2.1-1-4.7-1.7z" fill="#4900fb"/><path d="M440.8 191.5l4.7 1.8 2.1-1-4.7-1.8z" fill="#3503ff"/><path d="M442.8 190.7l4.7 1.7 2.1-1-4.7-1.7z" fill="#1a09ff"/><path d="M444.8 189.9l4.7 1.7 2.1-1-4.7-1.7z" fill="#0210ff"/><path d="M446.8 189l4.7 1.8 2.1-1-4.7-1.7z" fill="#0025ff"/><path d="M448.8 188.2l4.7 1.7 2-.9-4.7-1.7z" fill="#003aff"/><path d="M450.8 187.4l4.6 1.7 2.1-1-4.7-1.6z" fill="#004bff"/><path d="M452.7 186.6l4.7 1.7 2-1-4.7-1.7z" fill="#0059ff"/><path d="M454.7 185.8l4.6 1.7 2.1-1-4.7-1.7z" fill="#0063ff"/><path d="M456.6 185l4.7 1.7 2-1-4.7-1.7z" fill="#006bff"/><path d="M458.5 184.2l4.7 1.7 2-1-4.7-1.6z" fill="#0074ff"/><path d="M460.4 183.4l4.7 1.7 2-1-4.7-1.6z" fill="#007fff"/><path d="M462.4 182.6l4.6 1.7 2-1-4.7-1.6z" fill="#0090ff"/><path d="M464.2 181.8l4.7 1.7 2-1-4.7-1.6z" fill="#00a9ff"/><path d="M466.1 181.1l4.7 1.6 1.9-.9-4.6-1.7z" fill="#00c7ff"/><path d="M468 180.3l4.7 1.6 1.9-.9-4.7-1.6z" fill="#00e5ff"/><path d="M469.9 179.5l4.6 1.6 1.9-.9-4.6-1.6z" fill="#00fff2"/><path d="M471.7 178.8l4.5 1.6 4.8-2.2-4.4-1.6z" fill="#00ff48"/><path d="M476.3 176.9l4.5 1.6 4.8-2.2-4.5-1.6z" fill="#4fff00"/><path d="M480.8 175l4.5 1.6 4.7-2.1-4.4-1.6z" fill="#c0ff00"/><path d="M485.3 173.1l4.5 1.6 4.6-2.1-4.4-1.5z" fill="#fff100"/><path d="M489.7 171.3l4.5 1.6 4.6-2.1-4.5-1.6z" fill="#ff9100"/><path d="M494.1 169.5l4.4 1.6 4.6-2.1-4.5-1.5z" fill="#ff1000"/><path d="M498.4 167.7l4.4 1.6 4.5-2.1-4.4-1.5z" fill="#ff0000"/><path d="M502.6 166l4.5 1.5 4.4-2-4.4-1.5z" fill="#ff0000"/><path d="M506.8 164.2l4.5 1.5 4.3-2-4.4-1.4z" fill="#ff0000"/><path d="M511 162.5l4.4 1.5 4.3-2-4.4-1.4z" fill="#f70000"/><path d="M515 160.8l4.5 1.5 4.2-2-4.4-1.4z" fill="#f10000"/><path d="M519.1 159.2l4.4 1.4 4.2-1.9-4.4-1.5z" fill="#ee0000"/><path d="M523.1 157.5l4.4 1.4 4.2-1.9-4.5-1.4z" fill="#ee0000"/><path d="M527 155.9l4.4 1.4 4.1-1.9-4.4-1.4z" fill="#f30000"/><path d="M530.9 154.3l4.4 1.4 4.1-1.9-4.4-1.4z" fill="#fc0000"/><path d="M534.7 152.7l4.5 1.4 4-1.9-4.4-1.4z" fill="#ff0000"/><path d="M436.9 196.5l1.9 .9 2.4-1.1-1.9-.9z" fill="#6a00dc"/><path d="M439 195.7l1.9 .8 2.3-1.1-1.9-.9z" fill="#5f00f0"/><path d="M441 194.8l1.9 .9 2.4-1.2-1.9-.8z" fill="#4b00fa"/><path d="M443.1 194l1.9 .8 2.3-1.1-1.9-.9z" fill="#3303ff"/><path d="M445.1 193.1l1.9 .9 2.3-1.1-1.9-.9z" fill="#130bff"/><path d="M447.1 192.3l1.9 .8 2.3-1.1-1.9-.8z" fill="#001aff"/><path d="M449.1 191.4l1.9 .9 2.3-1.1-1.9-.9z" fill="#0034ff"/><path d="M451.1 190.6l1.9 .8 2.3-1.1-1.9-.8z" fill="#004cff"/><path d="M453.1 189.8l1.9 .8 2.2-1.1-1.9-.8z" fill="#0060ff"/><path d="M455 188.9l1.9 .9 2.3-1.1-1.9-.8z" fill="#0071ff"/><path d="M457 188.1l1.9 .9 2.2-1.1-1.9-.8z" fill="#007fff"/><path d="M458.9 187.3l1.9 .8 2.3-1-2-.9z" fill="#008aff"/><path d="M460.9 186.5l1.9 .8 2.2-1-1.9-.9z" fill="#0093ff"/><path d="M462.8 185.7l1.9 .8 2.2-1-1.9-.9z" fill="#009dff"/><path d="M464.7 184.9l1.9 .8 2.2-1-1.9-.9z" fill="#00a9ff"/><path d="M466.6 184.1l1.9 .8 2.2-1-1.9-.9z" fill="#00bfff"/><path d="M468.5 183.3l1.9 .8 2.2-1-2-.8z" fill="#00e0ff"/><path d="M470.4 182.5l1.9 .8 2.1-1-1.9-.8z" fill="#00ffd4"/><path d="M472.2 181.7l2 .8 2.1-1-1.9-.8z" fill="#00ff3b"/><path d="M474.1 181l1.9 .8 2.1-1.1-1.9-.8z" fill="#24ff00"/><path d="M476 180.2l1.7 .7 5-2.1-1.7-.7z" fill="#89ff00"/><path d="M480.5 178.3l1.8 .7 4.9-2.1-1.7-.7z" fill="#f1ff00"/><path d="M485.1 176.4l1.7 .7 4.9-2.1-1.7-.7z" fill="#ffb000"/><path d="M489.5 174.5l1.8 .7 4.8-2.1-1.7-.6z" fill="#ff4200"/><path d="M493.9 172.7l1.8 .6 4.8-2-1.8-.6z" fill="#ff0000"/><path d="M498.3 170.9l1.7 .6 4.8-2-1.8-.6z" fill="#ff0000"/><path d="M502.6 169.1l1.7 .6 4.7-2-1.8-.6z" fill="#ff0000"/><path d="M506.8 167.3l1.8 .6 4.6-2-1.8-.6z" fill="#df0000"/><path d="M511 165.5l1.7 .7 4.6-2-1.7-.6z" fill="#d30000"/><path d="M515.1 163.8l1.8 .6 4.5-1.9-1.8-.6z" fill="#d10000"/><path d="M519.2 162.1l1.8 .6 4.4-1.9-1.7-.6z" fill="#cf0000"/><path d="M523.2 160.4l1.8 .6 4.4-1.9-1.7-.6z" fill="#ce0000"/><path d="M527.2 158.7l1.8 .7 4.3-1.9-1.7-.6z" fill="#d00000"/><path d="M531.2 157.1l1.7 .6 4.3-1.9-1.7-.5z" fill="#d80000"/><path d="M535 155.5l1.8 .6 4.2-1.9-1.7-.6z" fill="#e50000"/><path d="M538.9 153.9l1.7 .6 4.2-1.9-1.7-.5z" fill="#f60000"/><path d="M438.7 197.2l1.9 .8 2.3-1.1-1.9-.9z" fill="#6600e3"/><path d="M440.7 196.3l1.9 .9 2.4-1.2-1.9-.8z" fill="#5700f4"/><path d="M442.7 195.4l2 .9 2.3-1.1-1.9-.9z" fill="#4200fe"/><path d="M444.8 194.6l1.9 .8 2.3-1.1-1.9-.8z" fill="#1f08ff"/><path d="M446.8 193.7l1.9 .9 2.3-1.1-1.9-.9z" fill="#0013ff"/><path d="M448.8 192.9l1.9 .8 2.3-1.1-1.9-.8z" fill="#0031ff"/><path d="M450.8 192l1.9 .9 2.3-1.1-1.9-.9z" fill="#004dff"/><path d="M452.8 191.2l1.9 .9 2.3-1.1-1.9-.9z" fill="#0064ff"/><path d="M454.8 190.4l1.9 .8 2.3-1.1-2-.8z" fill="#0078ff"/><path d="M456.7 189.6l2 .8 2.2-1.1-1.9-.8z" fill="#008bff"/><path d="M458.7 188.7l1.9 .9 2.2-1.1-1.9-.9z" fill="#009aff"/><path d="M460.6 187.9l2 .8 2.2-1-1.9-.9z" fill="#00a5ff"/><path d="M462.6 187.1l1.9 .8 2.2-1-1.9-.9z" fill="#00aeff"/><path d="M464.5 186.3l1.9 .8 2.2-1.1-1.9-.8z" fill="#00b7ff"/><path d="M466.4 185.5l1.9 .8 2.2-1.1-1.9-.8z" fill="#00c4ff"/><path d="M468.3 184.7l1.9 .8 2.2-1.1-1.9-.8z" fill="#00dbff"/><path d="M470.2 183.9l1.9 .8 2.2-1.1-2-.8z" fill="#00ffea"/><path d="M472.1 183.1l1.9 .8 2.1-1-1.9-.9z" fill="#00ff35"/><path d="M473.9 182.3l2 .8 2.1-1-1.9-.8z" fill="#3bff00"/><path d="M475.8 181.5l1.9 .8 2.2-1-2-.8z" fill="#8dff00"/><path d="M477.7 180.8l1.7 .7 5-2.2-1.7-.7z" fill="#e2ff00"/><path d="M482.2 178.9l1.8 .6 5-2.1-1.8-.7z" fill="#ffb900"/><path d="M486.8 177l1.7 .6 4.9-2.1-1.7-.6z" fill="#ff3e00"/><path d="M491.2 175.1l1.8 .6 4.8-2-1.7-.7z" fill="#ff0000"/><path d="M495.6 173.2l1.8 .7 4.8-2.1-1.8-.6z" fill="#ff0000"/><path d="M500 171.4l1.7 .6 4.7-2-1.7-.6z" fill="#ff0000"/><path d="M504.3 169.6l1.7 .6 4.7-2-1.8-.6z" fill="#df0000"/><path d="M508.5 167.8l1.8 .6 4.6-1.9-1.8-.7z" fill="#c70000"/><path d="M512.7 166.1l1.7 .6 4.6-2-1.8-.6z" fill="#c20000"/><path d="M516.8 164.3l1.8 .6 4.5-1.9-1.8-.6z" fill="#c60000"/><path d="M520.9 162.6l1.7 .6 4.5-1.9-1.8-.6z" fill="#cc0000"/><path d="M524.9 160.9l1.8 .6 4.4-1.9-1.8-.6z" fill="#d20000"/><path d="M528.9 159.2l1.7 .6 4.4-1.8-1.8-.6z" fill="#d80000"/><path d="M532.8 157.6l1.8 .6 4.3-1.9-1.8-.6z" fill="#e00000"/><path d="M536.7 155.9l1.7 .6 4.3-1.8-1.7-.6z" fill="#eb0000"/><path d="M540.5 154.3l1.8 .6 4.2-1.8-1.8-.6z" fill="#f70000"/><path d="M440.4 197.8l1.9 .9 2.4-1.2-2-.8z" fill="#6300eb"/><path d="M442.4 196.9l2 .9 2.3-1.1-1.9-.9z" fill="#4e00f8"/><path d="M444.5 196.1l1.9 .8 2.3-1.1-1.9-.9z" fill="#3004ff"/><path d="M446.5 195.2l1.9 .9 2.4-1.2-2-.8z" fill="#080eff"/><path d="M448.5 194.4l2 .8 2.3-1.1-2-.9z" fill="#002bff"/><path d="M450.5 193.5l2 .9 2.3-1.2-2-.8z" fill="#004bff"/><path d="M452.5 192.7l2 .8 2.2-1.1-1.9-.8z" fill="#0066ff"/><path d="M454.5 191.8l1.9 .9 2.3-1.1-1.9-.9z" fill="#007dff"/><path d="M456.5 191l1.9 .8 2.3-1.1-2-.8z" fill="#0093ff"/><path d="M458.5 190.2l1.9 .8 2.2-1.1-1.9-.8z" fill="#00a6ff"/><path d="M460.4 189.3l1.9 .9 2.3-1.1-2-.9z" fill="#00b6ff"/><path d="M462.3 188.5l2 .8 2.2-1-1.9-.9z" fill="#00c2ff"/><path d="M464.3 187.7l1.9 .8 2.2-1.1-1.9-.8z" fill="#00ccff"/><path d="M466.2 186.9l1.9 .8 2.2-1.1-1.9-.8z" fill="#00d6ff"/><path d="M468.1 186.1l2 .8 2.1-1.1-1.9-.8z" fill="#00e5ff"/><path d="M470 185.3l2 .8 2.1-1.1-1.9-.8z" fill="#00fffa"/><path d="M471.9 184.5l1.9 .8 2.2-1.1-1.9-.8z" fill="#00ff60"/><path d="M473.8 183.7l1.9 .8 2.2-1.1-2-.8z" fill="#2fff00"/><path d="M475.7 182.9l1.9 .8 2.1-1.1-1.9-.8z" fill="#93ff00"/><path d="M477.5 182.1l2 .8 2.1-1-2-.8z" fill="#d6ff00"/><path d="M479.4 181.4l1.7 .6 5-2.1-1.7-.7z" fill="#ffda00"/><path d="M483.9 179.4l1.8 .7 5-2.1-1.8-.7z" fill="#ff5600"/><path d="M488.5 177.5l1.7 .7 4.9-2.1-1.7-.7z" fill="#ff0000"/><path d="M492.9 175.6l1.8 .7 4.8-2.1-1.7-.6z" fill="#ff0000"/><path d="M497.3 173.8l1.8 .6 4.8-2-1.8-.7z" fill="#ff0000"/><path d="M501.7 171.9l1.7 .7 4.7-2.1-1.7-.6z" fill="#e20000"/><path d="M506 170.1l1.7 .7 4.7-2.1-1.8-.6z" fill="#c80000"/><path d="M510.2 168.3l1.8 .7 4.6-2-1.8-.7z" fill="#b70000"/><path d="M514.4 166.6l1.7 .6 4.6-2-1.8-.6z" fill="#b70000"/><path d="M518.5 164.8l1.8 .6 4.5-1.9-1.8-.6z" fill="#c80000"/><path d="M522.6 163.1l1.7 .6 4.5-1.9-1.8-.6z" fill="#de0000"/><path d="M526.6 161.4l1.7 .6 4.4-1.9-1.7-.6z" fill="#f10000"/><path d="M530.6 159.7l1.7 .6 4.4-1.9-1.8-.6z" fill="#fe0000"/><path d="M534.5 158.1l1.7 .6 4.3-1.9-1.7-.6z" fill="#ff0000"/><path d="M538.4 156.4l1.7 .6 4.3-1.8-1.8-.6z" fill="#ff0000"/><path d="M542.2 154.8l1.7 .6 4.2-1.8-1.7-.6z" fill="#ff0000"/><path d="M442.1 198.4l1.9 .9 2.4-1.1-1.9-.9z" fill="#5c00f2"/><path d="M444.2 197.6l1.9 .8 2.3-1.1-1.9-.9z" fill="#4300fd"/><path d="M446.2 196.7l1.9 .9 2.4-1.2-2-.8z" fill="#190aff"/><path d="M448.2 195.8l2 .9 2.3-1.1-2-.9z" fill="#0021ff"/><path d="M450.3 195l1.9 .8 2.3-1.1-1.9-.8z" fill="#0046ff"/><path d="M452.3 194.1l1.9 .9 2.3-1.1-1.9-.9z" fill="#0066ff"/><path d="M454.3 193.3l1.9 .8 2.3-1.1-2-.8z" fill="#0081ff"/><path d="M456.2 192.4l2 .9 2.2-1.1-1.9-.9z" fill="#0099ff"/><path d="M458.2 191.6l2 .8 2.2-1.1-1.9-.8z" fill="#00aeff"/><path d="M460.2 190.8l1.9 .8 2.3-1.1-2-.8z" fill="#00c2ff"/><path d="M462.1 189.9l2 .9 2.2-1.1-1.9-.9z" fill="#00d3ff"/><path d="M464.1 189.1l1.9 .8 2.2-1-1.9-.9z" fill="#00e2ff"/><path d="M466 188.3l2 .8 2.2-1.1-2-.8z" fill="#00f1ff"/><path d="M467.9 187.5l2 .8 2.2-1.1-2-.8z" fill="#00fff4"/><path d="M469.8 186.7l2 .8 2.2-1.1-2-.8z" fill="#00ffb3"/><path d="M471.7 185.9l2 .8 2.1-1.1-1.9-.8z" fill="#00ff4a"/><path d="M473.6 185.1l2 .8 2.1-1.1-1.9-.8z" fill="#27ff00"/><path d="M475.5 184.3l1.9 .8 2.2-1.1-2-.8z" fill="#88ff00"/><path d="M477.4 183.5l1.9 .8 2.2-1.1-2-.8z" fill="#d7ff00"/><path d="M479.2 182.7l2 .8 2.1-1.1-2-.8z" fill="#fff000"/><path d="M481.1 181.9l1.8 .7 5-2.2-1.8-.6z" fill="#ff8c00"/><path d="M485.7 180l1.7 .7 5-2.2-1.8-.6z" fill="#ff0000"/><path d="M490.2 178.1l1.8 .6 4.8-2.1-1.7-.6z" fill="#ff0000"/><path d="M494.6 176.2l1.8 .6 4.8-2-1.7-.7z" fill="#f50000"/><path d="M499 174.3l1.8 .7 4.8-2.1-1.8-.7z" fill="#dc0000"/><path d="M503.4 172.5l1.7 .6 4.8-2-1.8-.7z" fill="#ce0000"/><path d="M507.7 170.6l1.7 .7 4.7-2-1.8-.7z" fill="#c40000"/><path d="M511.9 168.9l1.8 .6 4.6-2-1.8-.6z" fill="#be0000"/><path d="M516.1 167.1l1.7 .6 4.6-2-1.8-.6z" fill="#c40000"/><path d="M520.2 165.3l1.8 .7 4.4-2-1.7-.6z" fill="#dd0000"/><path d="M524.3 163.6l1.7 .6 4.5-1.9-1.8-.6z" fill="#ff0000"/><path d="M528.3 161.9l1.7 .6 4.4-1.9-1.7-.6z" fill="#ff0000"/><path d="M532.3 160.2l1.7 .6 4.3-1.9-1.7-.6z" fill="#ff0000"/><path d="M536.2 158.5l1.7 .7 4.3-1.9-1.7-.6z" fill="#ff0000"/><path d="M540 156.9l1.8 .6 4.2-1.9-1.7-.5z" fill="#ff0000"/><path d="M543.9 155.3l1.7 .6 4.2-1.9-1.7-.6z" fill="#ff0000"/><path d="M443.8 199.1l2 .8 2.3-1.1-1.9-.9z" fill="#5000f7"/><path d="M445.9 198.2l2 .9 2.3-1.2-2-.8z" fill="#2f04ff"/><path d="M447.9 197.3l2 .9 2.3-1.1-1.9-.9z" fill="#0010ff"/><path d="M450 196.5l1.9 .8 2.3-1.1-1.9-.9z" fill="#003cff"/><path d="M452 195.6l1.9 .9 2.3-1.2-1.9-.8z" fill="#0063ff"/><path d="M454 194.7l1.9 .9 2.3-1.1-1.9-.9z" fill="#0084ff"/><path d="M456 193.9l1.9 .8 2.3-1.1-1.9-.8z" fill="#00a1ff"/><path d="M458 193l1.9 .9 2.3-1.1-2-.9z" fill="#00b8ff"/><path d="M459.9 192.2l2 .9 2.3-1.1-2-.9z" fill="#00cdff"/><path d="M461.9 191.4l2 .8 2.2-1.1-2-.8z" fill="#00e1ff"/><path d="M463.9 190.5l1.9 .9 2.2-1.1-1.9-.9z" fill="#00f8ff"/><path d="M465.8 189.7l2 .9 2.2-1.1-2-.9z" fill="#00ffd3"/><path d="M467.7 188.9l2 .8 2.2-1.1-2-.8z" fill="#00ff8f"/><path d="M469.7 188.1l1.9 .8 2.2-1.1-2-.8z" fill="#00ff42"/><path d="M471.6 187.3l1.9 .8 2.2-1.1-2-.8z" fill="#0bff00"/><path d="M473.5 186.4l1.9 .9 2.2-1.1-2-.8z" fill="#3dff00"/><path d="M475.3 185.6l2 .9 2.2-1.1-2-.8z" fill="#8dff00"/><path d="M477.2 184.8l2 .9 2.1-1.1-1.9-.8z" fill="#d5ff00"/><path d="M479.1 184l2 .9 2.1-1.1-2-.8z" fill="#ffed00"/><path d="M481 183.3l1.9 .8 2.1-1.1-1.9-.8z" fill="#ffab00"/><path d="M482.8 182.5l1.8 .7 5-2.2-1.8-.7z" fill="#ff3700"/><path d="M487.4 180.6l1.8 .6 4.9-2.1-1.8-.7z" fill="#ff0000"/><path d="M491.9 178.6l1.8 .7 4.9-2.1-1.8-.7z" fill="#f70000"/><path d="M496.3 176.7l1.8 .7 4.9-2.1-1.8-.7z" fill="#c60000"/><path d="M500.7 174.9l1.8 .6 4.8-2.1-1.8-.6z" fill="#b70000"/><path d="M505.1 173l1.8 .7 4.7-2.1-1.8-.6z" fill="#c00000"/><path d="M509.4 171.2l1.7 .6 4.7-2-1.8-.6z" fill="#cc0000"/><path d="M513.6 169.4l1.8 .6 4.6-2-1.8-.6z" fill="#da0000"/><path d="M517.8 167.6l1.7 .6 4.6-2-1.8-.6z" fill="#ed0000"/><path d="M521.9 165.8l1.8 .7 4.4-2-1.7-.6z" fill="#ff0000"/><path d="M526 164.1l1.7 .6 4.5-1.9-1.8-.6z" fill="#ff0000"/><path d="M530 162.4l1.7 .6 4.4-1.9-1.7-.6z" fill="#ff0000"/><path d="M533.9 160.7l1.8 .6 4.3-1.9-1.7-.6z" fill="#ff0000"/><path d="M537.9 159l1.7 .6 4.3-1.8-1.7-.6z" fill="#ff0000"/><path d="M541.7 157.4l1.8 .6 4.2-1.9-1.7-.6z" fill="#ff0000"/><path d="M545.6 155.8l1.7 .6 4.2-1.9-1.7-.6z" fill="#ff0000"/><path d="M445.6 199.7l2 .9 2.3-1.2-2-.8z" fill="#4400fd"/><path d="M447.6 198.8l2 .9 2.3-1.1-1.9-.9z" fill="#160aff"/><path d="M449.7 198l1.9 .8 2.4-1.1-2-.9z" fill="#002bff"/><path d="M451.7 197.1l2 .9 2.3-1.2-2-.8z" fill="#0059ff"/><path d="M453.7 196.2l2 .9 2.3-1.1-2-.9z" fill="#0082ff"/><path d="M455.7 195.4l2 .8 2.3-1.1-2-.8z" fill="#00a7ff"/><path d="M457.7 194.5l2 .9 2.3-1.1-2-.9z" fill="#00c5ff"/><path d="M459.7 193.7l2 .8 2.2-1.1-1.9-.8z" fill="#00deff"/><path d="M461.7 192.8l2 .9 2.2-1.1-2-.9z" fill="#00f7ff"/><path d="M463.7 192l1.9 .8 2.2-1.1-1.9-.8z" fill="#00ffc9"/><path d="M465.6 191.1l2 .9 2.2-1.1-2-.8z" fill="#00ff77"/><path d="M467.5 190.3l2 .9 2.2-1.1-1.9-.9z" fill="#00ff23"/><path d="M469.5 189.5l1.9 .8 2.2-1.1-1.9-.8z" fill="#14ff00"/><path d="M471.4 188.7l2 .8 2.1-1.1-1.9-.8z" fill="#3aff00"/><path d="M473.3 187.9l2 .8 2.1-1.1-1.9-.8z" fill="#6aff00"/><path d="M475.2 187l2 .9 2.1-1.1-1.9-.8z" fill="#a2ff00"/><path d="M477.1 186.2l1.9 .9 2.2-1.1-2-.8z" fill="#dcff00"/><path d="M479 185.4l1.9 .9 2.2-1.1-2-.8z" fill="#ffea00"/><path d="M480.8 184.6l2 .8 2.1-1-1.9-.8z" fill="#ffa200"/><path d="M482.7 183.8l1.9 .8 2.2-1-2-.8z" fill="#ff5c00"/><path d="M484.5 183.1l1.8 .7 5-2.2-1.8-.7z" fill="#ff0000"/><path d="M489.1 181.1l1.8 .7 4.9-2.2-1.8-.6z" fill="#ff0000"/><path d="M493.6 179.2l1.8 .7 4.9-2.2-1.8-.6z" fill="#cf0000"/><path d="M498.1 177.3l1.8 .7 4.8-2.2-1.8-.6z" fill="#9a0000"/><path d="M502.5 175.4l1.8 .7 4.7-2.1-1.8-.7z" fill="#950000"/><path d="M506.8 173.5l1.8 .7 4.7-2.1-1.8-.6z" fill="#af0000"/><path d="M511.1 171.7l1.8 .7 4.6-2.1-1.8-.6z" fill="#da0000"/><path d="M515.3 169.9l1.8 .6 4.6-2-1.8-.6z" fill="#ff0000"/><path d="M519.5 168.1l1.8 .7 4.5-2-1.8-.7z" fill="#ff0000"/><path d="M523.6 166.4l1.8 .6 4.5-2-1.8-.6z" fill="#ff0000"/><path d="M527.7 164.6l1.7 .6 4.5-1.9-1.8-.6z" fill="#ff0000"/><path d="M531.7 162.9l1.7 .6 4.4-1.9-1.7-.6z" fill="#ff0000"/><path d="M535.6 161.2l1.8 .6 4.3-1.9-1.7-.6z" fill="#ff0000"/><path d="M539.6 159.5l1.7 .6 4.3-1.9-1.8-.6z" fill="#ff0d00"/><path d="M543.4 157.9l1.8 .6 4.2-1.9-1.7-.6z" fill="#ff1600"/><path d="M547.2 156.2l1.8 .6 4.2-1.8-1.8-.6z" fill="#ff1c00"/><path d="M447.4 200.4l1.9 .8 2.4-1.1-2-.9z" fill="#3104ff"/><path d="M449.4 199.5l2 .9 2.3-1.2-2-.9z" fill="#0013ff"/><path d="M451.4 198.6l2 .9 2.3-1.2-1.9-.8z" fill="#0046ff"/><path d="M453.5 197.7l1.9 .9 2.3-1.1-1.9-.9z" fill="#0076ff"/><path d="M455.5 196.9l2 .8 2.2-1.1-1.9-.9z" fill="#00a4ff"/><path d="M457.5 196l2 .9 2.2-1.2-1.9-.8z" fill="#00c9ff"/><path d="M459.5 195.1l2 .9 2.2-1.1-1.9-.9z" fill="#00ebff"/><path d="M461.5 194.3l1.9 .8 2.3-1.1-2-.8z" fill="#00ffd9"/><path d="M463.4 193.4l2 .9 2.3-1.1-2-.9z" fill="#00ff78"/><path d="M465.4 192.6l2 .8 2.2-1.1-2-.8z" fill="#00ff15"/><path d="M467.3 191.8l2 .8 2.2-1.1-1.9-.8z" fill="#1fff00"/><path d="M469.3 190.9l2 .9 2.2-1.1-2-.9z" fill="#45ff00"/><path d="M471.2 190.1l2 .8 2.2-1.1-2-.8z" fill="#6eff00"/><path d="M473.1 189.3l2 .8 2.2-1.1-2-.8z" fill="#98ff00"/><path d="M475 188.5l2 .8 2.2-1.1-2-.8z" fill="#beff00"/><path d="M476.9 187.6l2 .9 2.2-1.1-2-.8z" fill="#e8ff00"/><path d="M478.8 186.8l2 .9 2.1-1.1-1.9-.8z" fill="#ffe500"/><path d="M480.7 186l2 .8 2.1-1-2-.9z" fill="#ff9c00"/><path d="M482.6 185.2l1.9 .8 2.2-1-2-.8z" fill="#ff4b00"/><path d="M484.4 184.4l2 .8 2.1-1-2-.8z" fill="#ff0000"/><path d="M486.3 183.7l1.8 .7 5-2.2-1.8-.7z" fill="#ff0000"/><path d="M490.8 181.7l1.8 .7 5-2.2-1.8-.7z" fill="#fb0000"/><path d="M495.3 179.8l1.8 .6 4.9-2.1-1.8-.7z" fill="#b80000"/><path d="M499.8 177.8l1.8 .7 4.8-2.1-1.8-.7z" fill="#8e0000"/><path d="M504.2 176l1.8 .6 4.7-2.1-1.7-.6z" fill="#8e0000"/><path d="M508.5 174.1l1.8 .6 4.7-2-1.8-.7z" fill="#b70000"/><path d="M512.8 172.2l1.8 .7 4.6-2-1.8-.7z" fill="#f20000"/><path d="M517 170.4l1.8 .7 4.6-2-1.8-.7z" fill="#ff0000"/><path d="M521.2 168.6l1.8 .7 4.5-2-1.8-.7z" fill="#ff0000"/><path d="M525.3 166.9l1.8 .6 4.5-2-1.8-.6z" fill="#ff0000"/><path d="M529.4 165.1l1.7 .7 4.5-2-1.8-.6z" fill="#ff0e00"/><path d="M533.4 163.4l1.8 .6 4.3-1.9-1.7-.6z" fill="#ff3300"/><path d="M537.3 161.7l1.8 .6 4.3-1.9-1.7-.6z" fill="#ff4800"/><path d="M541.2 160l1.8 .6 4.3-1.9-1.8-.6z" fill="#ff5500"/><path d="M545.1 158.3l1.8 .7 4.2-1.9-1.8-.6z" fill="#ff5e00"/><path d="M548.9 156.7l1.8 .6 4.2-1.8-1.8-.6z" fill="#ff6200"/><path d="M449.1 201l2 .9 2.3-1.2-1.9-.8z" fill="#1b09ff"/><path d="M451.2 200.1l1.9 .9 2.4-1.1-2-.9z" fill="#002eff"/><path d="M453.2 199.2l2 .9 2.3-1.1-2-.9z" fill="#0065ff"/><path d="M455.2 198.4l2 .8 2.3-1.1-2-.9z" fill="#009aff"/><path d="M457.2 197.5l2 .9 2.3-1.2-2-.8z" fill="#00c7ff"/><path d="M459.2 196.6l2 .9 2.3-1.1-2-.9z" fill="#00eeff"/><path d="M461.2 195.8l2 .8 2.3-1.1-2-.8z" fill="#00ffba"/><path d="M463.2 194.9l2 .9 2.3-1.1-2-.9z" fill="#00ff43"/><path d="M465.2 194.1l2 .8 2.2-1.1-2-.8z" fill="#15ff00"/><path d="M467.2 193.2l1.9 .9 2.3-1.1-2-.9z" fill="#43ff00"/><path d="M469.1 192.4l2 .8 2.2-1.1-2-.8z" fill="#73ff00"/><path d="M471 191.5l2 .9 2.2-1.1-2-.9z" fill="#9cff00"/><path d="M473 190.7l1.9 .8 2.2-1.1-1.9-.8z" fill="#bdff00"/><path d="M474.9 189.9l2 .8 2.1-1.1-1.9-.8z" fill="#dbff00"/><path d="M476.8 189.1l2 .8 2.1-1.1-1.9-.8z" fill="#fcff00"/><path d="M478.7 188.2l2 .9 2.1-1.1-2-.8z" fill="#ffdb00"/><path d="M480.6 187.4l2 .8 2.1-1-2-.9z" fill="#ff9700"/><path d="M482.4 186.6l2 .8 2.2-1-2-.9z" fill="#ff4000"/><path d="M484.3 185.8l2 .8 2.1-1-2-.9z" fill="#ff0000"/><path d="M486.2 185l1.9 .8 2.2-1-2-.9z" fill="#ff0000"/><path d="M488 184.2l1.8 .7 5-2.2-1.8-.7z" fill="#ff0000"/><path d="M492.6 182.3l1.8 .7 4.9-2.2-1.8-.7z" fill="#f00000"/><path d="M497.1 180.3l1.8 .7 4.9-2.1-1.8-.7z" fill="#c80000"/><path d="M501.5 178.4l1.8 .7 4.8-2.2-1.8-.6z" fill="#ac0000"/><path d="M505.9 176.5l1.8 .7 4.8-2.1-1.8-.7z" fill="#b40000"/><path d="M510.3 174.6l1.8 .7 4.6-2.1-1.7-.6z" fill="#df0000"/><path d="M514.5 172.8l1.8 .6 4.7-2-1.8-.7z" fill="#ff0000"/><path d="M518.7 171l1.8 .6 4.6-2-1.8-.7z" fill="#ff0000"/><path d="M522.9 169.2l1.8 .6 4.5-2-1.8-.6z" fill="#ff0000"/><path d="M527 167.4l1.8 .6 4.5-2-1.8-.6z" fill="#ff1f00"/><path d="M531.1 165.6l1.8 .7 4.4-2-1.8-.6z" fill="#ff5000"/><path d="M535.1 163.9l1.8 .6 4.3-1.9-1.7-.6z" fill="#ff6f00"/><path d="M539 162.2l1.8 .6 4.3-1.9-1.7-.6z" fill="#ff7f00"/><path d="M543 160.5l1.7 .6 4.3-1.9-1.8-.6z" fill="#ff8a00"/><path d="M546.8 158.8l1.8 .6 4.2-1.8-1.8-.6z" fill="#ff9200"/><path d="M550.6 157.2l1.8 .6 4.2-1.9-1.8-.6z" fill="#ff9700"/><path d="M450.9 201.7l2 .8 2.3-1.1-2-.9z" fill="#020fff"/><path d="M452.9 200.8l2 .9 2.3-1.2-1.9-.9z" fill="#0055ff"/><path d="M455 199.9l2 .9 2.3-1.2-2-.9z" fill="#0095ff"/><path d="M457 199l2 .9 2.3-1.2-2-.8z" fill="#00cbff"/><path d="M459 198.1l2 .9 2.3-1.1-2-.9z" fill="#00f9ff"/><path d="M461 197.3l2 .8 2.3-1.1-2-.9z" fill="#00ff90"/><path d="M463 196.4l2 .9 2.3-1.2-2-.8z" fill="#00ff11"/><path d="M465 195.5l2 .9 2.2-1.1-2-.9z" fill="#2bff00"/><path d="M467 194.7l1.9 .8 2.3-1.1-2-.8z" fill="#5eff00"/><path d="M468.9 193.8l2 .9 2.2-1.1-2-.9z" fill="#92ff00"/><path d="M470.9 193l2 .8 2.2-1.1-2-.8z" fill="#b9ff00"/><path d="M472.8 192.1l2 .9 2.2-1.1-2-.9z" fill="#d9ff00"/><path d="M474.7 191.3l2 .9 2.2-1.1-2-.9z" fill="#f7ff00"/><path d="M476.6 190.5l2 .8 2.2-1.1-2-.8z" fill="#ffec00"/><path d="M478.5 189.7l2 .8 2.2-1.1-2-.8z" fill="#ffc600"/><path d="M480.4 188.8l2 .9 2.2-1.1-2-.9z" fill="#ff8d00"/><path d="M482.3 188l2 .8 2.2-1-2-.9z" fill="#ff3c00"/><path d="M484.2 187.2l2 .8 2.1-1-2-.9z" fill="#ff0000"/><path d="M486.1 186.4l2 .8 2.1-1.1-2-.8z" fill="#ff0000"/><path d="M487.9 185.6l2 .8 2.1-1.1-2-.8z" fill="#ff0000"/><path d="M489.8 184.8l1.8 .7 5-2.2-1.8-.7z" fill="#ff0000"/><path d="M494.3 182.8l1.8 .7 5-2.2-1.8-.6z" fill="#fb0000"/><path d="M498.8 180.9l1.8 .7 4.9-2.2-1.8-.7z" fill="#f10000"/><path d="M503.3 179l1.8 .6 4.8-2.1-1.8-.7z" fill="#ee0000"/><path d="M507.7 177.1l1.8 .6 4.7-2.1-1.8-.6z" fill="#fa0000"/><path d="M512 175.2l1.8 .6 4.7-2-1.8-.7z" fill="#ff0000"/><path d="M516.3 173.3l1.8 .7 4.6-2.1-1.8-.6z" fill="#ff0000"/><path d="M520.5 171.5l1.8 .6 4.6-2-1.8-.6z" fill="#ff0000"/><path d="M524.6 169.7l1.8 .6 4.6-2-1.8-.6z" fill="#ff2c00"/><path d="M528.7 167.9l1.8 .6 4.5-2-1.8-.6z" fill="#ff5d00"/><path d="M532.8 166.1l1.8 .7 4.4-2-1.8-.6z" fill="#ff7e00"/><path d="M536.8 164.4l1.8 .6 4.4-1.9-1.8-.6z" fill="#ff9800"/><path d="M540.8 162.7l1.7 .6 4.4-1.9-1.8-.6z" fill="#ffab00"/><path d="M544.7 161l1.7 .6 4.3-1.9-1.8-.6z" fill="#ffba00"/><path d="M548.5 159.3l1.8 .6 4.2-1.9-1.8-.6z" fill="#ffc500"/><path d="M552.3 157.7l1.8 .6 4.2-1.9-1.8-.6z" fill="#ffcb00"/><path d="M452.7 202.3l2 .9 2.3-1.2-2-.8z" fill="#002bff"/><path d="M454.7 201.4l2 .9 2.3-1.1-2-.9z" fill="#0086ff"/><path d="M456.7 200.5l2 .9 2.4-1.1-2-.9z" fill="#00cfff"/><path d="M458.8 199.7l2 .8 2.3-1.1-2-.9z" fill="#00ffe5"/><path d="M460.8 198.8l2 .8 2.3-1.1-2-.9z" fill="#00ff4a"/><path d="M462.8 197.9l2 .9 2.3-1.2-2-.8z" fill="#1aff00"/><path d="M464.8 197l2 .9 2.2-1.1-2-.9z" fill="#4dff00"/><path d="M466.8 196.2l2 .8 2.2-1.1-2-.9z" fill="#7fff00"/><path d="M468.7 195.3l2 .9 2.3-1.1-2-.9z" fill="#a8ff00"/><path d="M470.7 194.5l2 .8 2.2-1.1-2-.9z" fill="#ccff00"/><path d="M472.6 193.6l2 .9 2.2-1.1-2-.9z" fill="#ecff00"/><path d="M474.6 192.8l2 .8 2.2-1.1-2-.8z" fill="#fff400"/><path d="M476.5 191.9l2 .9 2.2-1.1-2-.9z" fill="#ffd300"/><path d="M478.4 191.1l2 .8 2.2-1.1-2-.8z" fill="#ffaa00"/><path d="M480.3 190.3l2 .8 2.2-1.1-2-.8z" fill="#ff7b00"/><path d="M482.2 189.4l2 .9 2.2-1.1-2-.9z" fill="#ff3a00"/><path d="M484.1 188.6l2 .8 2.1-1-2-.9z" fill="#ff0000"/><path d="M486 187.8l2 .8 2.1-1.1-2-.8z" fill="#ff0000"/><path d="M487.8 187l2 .8 2.1-1.1-2-.8z" fill="#ff0000"/><path d="M489.7 186.2l2 .8 2.1-1.1-2-.8z" fill="#f50000"/><path d="M491.5 185.4l1.8 .7 5-2.2-1.8-.7z" fill="#f10000"/><path d="M496.1 183.4l1.8 .7 4.9-2.2-1.8-.7z" fill="#fd0000"/><path d="M500.6 181.5l1.8 .6 4.9-2.1-1.8-.7z" fill="#ff0000"/><path d="M505 179.5l1.8 .7 4.8-2.1-1.8-.7z" fill="#ff0000"/><path d="M509.4 177.6l1.8 .7 4.8-2.1-1.8-.7z" fill="#ff0000"/><path d="M513.7 175.7l1.8 .7 4.7-2.1-1.8-.7z" fill="#ff0000"/><path d="M518 173.9l1.8 .6 4.6-2-1.8-.7z" fill="#ff0000"/><path d="M522.2 172l1.8 .7 4.6-2.1-1.8-.6z" fill="#ff3400"/><path d="M526.4 170.2l1.8 .7 4.5-2.1-1.8-.6z" fill="#ff6500"/><path d="M530.5 168.4l1.8 .7 4.4-2-1.8-.7z" fill="#ff8600"/><path d="M534.5 166.7l1.8 .6 4.4-2-1.8-.6z" fill="#ffa400"/><path d="M538.5 164.9l1.8 .6 4.4-1.9-1.8-.6z" fill="#ffbe00"/><path d="M542.5 163.2l1.8 .6 4.3-1.9-1.8-.6z" fill="#ffd100"/><path d="M546.4 161.5l1.8 .6 4.2-1.9-1.8-.6z" fill="#ffe100"/><path d="M550.2 159.8l1.8 .6 4.2-1.9-1.7-.6z" fill="#ffef00"/><path d="M554 158.1l1.8 .7 4.2-1.9-1.8-.6z" fill="#fff700"/><path d="M454.4 203l2 .9 2.4-1.2-2-.9z" fill="#0049ff"/><path d="M456.5 202.1l2 .9 2.3-1.2-2-.9z" fill="#00b3ff"/><path d="M458.5 201.2l2 .9 2.3-1.2-2-.9z" fill="#00fffd"/><path d="M460.6 200.3l2 .9 2.3-1.2-2-.8z" fill="#00ff36"/><path d="M462.6 199.4l2 .9 2.3-1.1-2-.9z" fill="#30ff00"/><path d="M464.6 198.5l2 .9 2.2-1.1-2-.9z" fill="#6fff00"/><path d="M466.6 197.7l2 .8 2.2-1.1-2-.9z" fill="#a0ff00"/><path d="M468.5 196.8l2 .9 2.3-1.2-2-.8z" fill="#c5ff00"/><path d="M470.5 195.9l2 .9 2.2-1.1-2-.9z" fill="#e2ff00"/><path d="M472.5 195.1l2 .8 2.2-1.1-2-.8z" fill="#ffff00"/><path d="M474.4 194.2l2 .9 2.2-1.1-2-.9z" fill="#ffe200"/><path d="M476.3 193.4l2 .8 2.2-1.1-2-.8z" fill="#ffbc00"/><path d="M478.3 192.5l2 .9 2.2-1.1-2-.9z" fill="#ff8e00"/><path d="M480.2 191.7l2 .8 2.2-1.1-2-.8z" fill="#ff6100"/><path d="M482.1 190.9l2 .8 2.2-1.1-2.1-.8z" fill="#ff2600"/><path d="M484 190l2 .9 2.1-1.1-2-.9z" fill="#ff0000"/><path d="M485.9 189.2l2 .8 2.1-1-2-.9z" fill="#ff0000"/><path d="M487.7 188.4l2 .8 2.2-1.1-2-.8z" fill="#ff0000"/><path d="M489.6 187.6l2 .8 2.1-1.1-2-.8z" fill="#f20000"/><path d="M491.4 186.8l2.1 .8 2.1-1.1-2.1-.8z" fill="#da0000"/><path d="M493.3 186l1.8 .7 5-2.2-1.8-.7z" fill="#dc0000"/><path d="M497.8 184l1.9 .7 4.9-2.2-1.8-.7z" fill="#fc0000"/><path d="M502.3 182l1.9 .7 4.8-2.2-1.8-.6z" fill="#ff0000"/><path d="M506.8 180.1l1.8 .7 4.8-2.2-1.8-.7z" fill="#ff0000"/><path d="M511.2 178.2l1.8 .6 4.7-2.1-1.8-.7z" fill="#ff0000"/><path d="M515.5 176.3l1.8 .6 4.7-2.1-1.8-.6z" fill="#ff1c00"/><path d="M519.7 174.4l1.9 .7 4.6-2.1-1.8-.7z" fill="#ff4800"/><path d="M524 172.6l1.8 .6 4.5-2-1.8-.7z" fill="#ff6d00"/><path d="M528.1 170.7l1.8 .7 4.5-2-1.8-.7z" fill="#ff8b00"/><path d="M532.2 168.9l1.8 .7 4.5-2-1.8-.7z" fill="#ffaa00"/><path d="M536.3 167.2l1.8 .6 4.4-2-1.8-.6z" fill="#ffc500"/><path d="M540.3 165.4l1.8 .7 4.3-2-1.8-.6z" fill="#ffdb00"/><path d="M544.2 163.7l1.8 .6 4.3-1.9-1.8-.7z" fill="#fff000"/><path d="M548.1 162l1.8 .6 4.3-1.9-1.8-.6z" fill="#fffe00"/><path d="M551.9 160.3l1.8 .6 4.3-1.9-1.8-.6z" fill="#eeff00"/><path d="M555.7 158.6l1.8 .6 4.2-1.8-1.8-.6z" fill="#ddff00"/><path d="M456.2 203.6l2 .9 2.4-1.1-2-.9z" fill="#0065ff"/><path d="M458.3 202.7l2 .9 2.3-1.1-2-.9z" fill="#00d5ff"/><path d="M460.3 201.8l2 .9 2.3-1.1-2-.9z" fill="#00ff83"/><path d="M462.3 200.9l2.1 .9 2.2-1.1-2-.9z" fill="#25ff00"/><path d="M464.4 200.1l2 .8 2.2-1.1-2-.9z" fill="#76ff00"/><path d="M466.4 199.2l2 .9 2.2-1.2-2-.9z" fill="#b1ff00"/><path d="M468.3 198.3l2.1 .9 2.2-1.2-2-.8z" fill="#d9ff00"/><path d="M470.3 197.4l2 .9 2.3-1.1-2-.9z" fill="#f8ff00"/><path d="M472.3 196.6l2 .8 2.2-1.1-2-.9z" fill="#ffec00"/><path d="M474.2 195.7l2.1 .9 2.2-1.2-2-.8z" fill="#ffcb00"/><path d="M476.2 194.9l2 .8 2.2-1.1-2-.9z" fill="#ffa000"/><path d="M478.1 194l2 .9 2.2-1.2-2-.8z" fill="#ff7200"/><path d="M480 193.2l2.1 .8 2.1-1.1-2-.9z" fill="#ff3a00"/><path d="M482 192.3l2 .9 2.1-1.1-2-.9z" fill="#ff0200"/><path d="M483.9 191.5l2 .8 2.1-1.1-2-.8z" fill="#ff0000"/><path d="M485.8 190.6l2 .9 2.1-1.1-2-.8z" fill="#ff0000"/><path d="M487.6 189.8l2.1 .9 2.1-1.1-2-.9z" fill="#ff0000"/><path d="M489.5 189l2 .8 2.1-1.1-2-.8z" fill="#ff0000"/><path d="M491.4 188.2l2 .8 2.1-1.1-2-.8z" fill="#ec0000"/><path d="M493.2 187.4l2 .8 2.1-1.1-2-.8z" fill="#db0000"/><path d="M495.1 186.6l1.8 .7 5-2.2-1.9-.7z" fill="#e40000"/><path d="M499.6 184.6l1.9 .7 4.9-2.2-1.9-.7z" fill="#ff0000"/><path d="M504.1 182.6l1.8 .7 4.9-2.2-1.8-.7z" fill="#ff0000"/><path d="M508.5 180.7l1.9 .6 4.8-2.1-1.9-.7z" fill="#ff0600"/><path d="M512.9 178.7l1.9 .7 4.7-2.1-1.8-.7z" fill="#ff4500"/><path d="M517.2 176.8l1.9 .7 4.6-2.1-1.8-.7z" fill="#ff6800"/><path d="M521.5 174.9l1.8 .7 4.6-2.1-1.8-.6z" fill="#ff7f00"/><path d="M525.7 173.1l1.8 .7 4.6-2.1-1.8-.7z" fill="#ff9600"/><path d="M529.9 171.3l1.8 .6 4.5-2-1.8-.7z" fill="#ffb000"/><path d="M534 169.5l1.8 .6 4.4-2-1.8-.6z" fill="#ffca00"/><path d="M538 167.7l1.8 .6 4.4-2-1.8-.6z" fill="#ffe100"/><path d="M542 165.9l1.8 .7 4.4-2-1.8-.6z" fill="#fff500"/><path d="M545.9 164.2l1.8 .6 4.4-1.9-1.9-.7z" fill="#f6ff00"/><path d="M549.8 162.5l1.8 .6 4.3-1.9-1.8-.6z" fill="#e1ff00"/><path d="M553.7 160.8l1.8 .6 4.2-1.9-1.8-.6z" fill="#ccff00"/><path d="M557.5 159.1l1.8 .6 4.1-1.9-1.8-.6z" fill="#b3ff00"/><path d="M458 204.3l2.1 .9 2.3-1.2-2-.9z" fill="#0087ff"/><path d="M460.1 203.4l2 .9 2.3-1.2-2-.9z" fill="#00f6ff"/><path d="M462.1 202.5l2 .9 2.3-1.2-2-.9z" fill="#00ff0d"/><path d="M464.1 201.6l2.1 .9 2.3-1.2-2.1-.9z" fill="#5dff00"/><path d="M466.2 200.7l2 .9 2.3-1.2-2.1-.8z" fill="#aeff00"/><path d="M468.1 199.8l2.1 .9 2.2-1.1-2-.9z" fill="#e1ff00"/><path d="M470.1 198.9l2.1 .9 2.2-1.1-2-.9z" fill="#fff800"/><path d="M472.1 198.1l2 .8 2.3-1.1-2-.9z" fill="#ffd700"/><path d="M474.1 197.2l2 .9 2.2-1.2-2-.8z" fill="#ffb100"/><path d="M476 196.3l2.1 .9 2.2-1.1-2-.9z" fill="#ff8700"/><path d="M478 195.5l2 .8 2.2-1.1-2-.8z" fill="#ff5700"/><path d="M479.9 194.6l2 .9 2.2-1.1-2-.9z" fill="#ff1700"/><path d="M481.8 193.8l2.1 .8 2.1-1.1-2-.8z" fill="#ff0000"/><path d="M483.7 192.9l2.1 .9 2.1-1.1-2-.9z" fill="#ff0000"/><path d="M485.6 192.1l2.1 .8 2.1-1.1-2-.8z" fill="#ff0000"/><path d="M487.5 191.3l2.1 .8 2.1-1.1-2-.8z" fill="#ff0000"/><path d="M489.4 190.4l2 .9 2.2-1.1-2-.9z" fill="#ff0000"/><path d="M491.3 189.6l2 .8 2.1-1.1-2-.8z" fill="#ff0000"/><path d="M493.1 188.8l2.1 .8 2.1-1.1-2-.8z" fill="#ff0000"/><path d="M495 188l2 .8 2.1-1.1-2-.8z" fill="#fc0000"/><path d="M496.8 187.2l1.9 .7 5-2.3-1.9-.7z" fill="#ff0000"/><path d="M501.4 185.2l1.8 .7 5-2.2-1.9-.7z" fill="#ff0000"/><path d="M505.9 183.2l1.8 .7 4.9-2.2-1.9-.7z" fill="#ff0000"/><path d="M510.3 181.2l1.9 .7 4.7-2.2-1.8-.6z" fill="#ff4500"/><path d="M514.7 179.3l1.8 .7 4.8-2.2-1.9-.6z" fill="#ff7a00"/><path d="M519 177.4l1.8 .7 4.7-2.2-1.8-.6z" fill="#ff9200"/><path d="M523.3 175.5l1.8 .7 4.6-2.1-1.8-.7z" fill="#ffa700"/><path d="M527.5 173.6l1.8 .7 4.6-2.1-1.9-.6z" fill="#ffbb00"/><path d="M531.6 171.8l1.8 .7 4.5-2.1-1.8-.6z" fill="#ffd000"/><path d="M535.7 170l1.8 .6 4.5-2-1.8-.6z" fill="#ffe600"/><path d="M539.7 168.2l1.9 .7 4.4-2.1-1.8-.6z" fill="#fff900"/><path d="M543.7 166.4l1.9 .7 4.3-2-1.8-.6z" fill="#f1ff00"/><path d="M547.7 164.7l1.8 .6 4.3-1.9-1.8-.7z" fill="#dbff00"/><path d="M551.6 163l1.8 .6 4.2-1.9-1.8-.7z" fill="#c4ff00"/><path d="M555.4 161.3l1.8 .6 4.2-1.9-1.8-.6z" fill="#a9ff00"/><path d="M559.2 159.6l1.8 .6 4.2-1.9-1.8-.6z" fill="#8dff00"/><path d="M459.8 205l2.1 .9 2.3-1.2-2-.9z" fill="#00b2ff"/><path d="M461.9 204.1l2 .9 2.3-1.2-2-.9z" fill="#00ffad"/><path d="M463.9 203.2l2.1 .8 2.3-1.1-2.1-.9z" fill="#2bff00"/><path d="M465.9 202.3l2.1 .8 2.3-1.1-2.1-.9z" fill="#94ff00"/><path d="M468 201.4l2 .8 2.3-1.1-2.1-.9z" fill="#d8ff00"/><path d="M470 200.5l2 .9 2.2-1.2-2-.9z" fill="#fff600"/><path d="M471.9 199.6l2.1 .9 2.2-1.2-2-.9z" fill="#ffcc00"/><path d="M473.9 198.7l2 .9 2.3-1.2-2-.8z" fill="#ff9d00"/><path d="M475.9 197.8l2 .9 2.2-1.1-2-.9z" fill="#ff7200"/><path d="M477.8 197l2.1 .8 2.2-1.1-2-.9z" fill="#ff4000"/><path d="M479.8 196.1l2 .9 2.2-1.2-2-.8z" fill="#ff0700"/><path d="M481.7 195.2l2 .9 2.2-1.1-2-.9z" fill="#ff0000"/><path d="M483.6 194.4l2.1 .9 2.1-1.2-2-.8z" fill="#ff0000"/><path d="M485.5 193.5l2.1 .9 2.1-1.1-2-.9z" fill="#ff0000"/><path d="M487.4 192.7l2.1 .9 2.1-1.2-2-.8z" fill="#ff0000"/><path d="M489.3 191.9l2.1 .8 2.1-1.1-2-.8z" fill="#ff0000"/><path d="M491.2 191l2 .9 2.2-1.1-2.1-.9z" fill="#ff0000"/><path d="M493.1 190.2l2 .8 2.1-1.1-2-.8z" fill="#ff0000"/><path d="M494.9 189.4l2.1 .8 2.1-1.1-2.1-.8z" fill="#ff0000"/><path d="M496.8 188.6l2 .8 2.1-1.1-2-.8z" fill="#ff0000"/><path d="M498.6 187.8l1.9 .7 5-2.3-1.9-.7z" fill="#ff0000"/><path d="M503.2 185.8l1.8 .7 4.9-2.3-1.8-.7z" fill="#ff0000"/><path d="M507.7 183.8l1.8 .7 4.9-2.2-1.9-.7z" fill="#ff2600"/><path d="M512.1 181.8l1.8 .7 4.8-2.2-1.8-.7z" fill="#ff7600"/><path d="M516.5 179.9l1.8 .6 4.7-2.1-1.8-.7z" fill="#ff9f00"/><path d="M520.8 177.9l1.8 .7 4.7-2.1-1.9-.7z" fill="#ffb800"/><path d="M525 176l1.9 .7 4.6-2.1-1.9-.7z" fill="#ffc900"/><path d="M529.2 174.2l1.9 .6 4.5-2-1.8-.7z" fill="#ffd900"/><path d="M533.4 172.3l1.8 .7 4.5-2.1-1.8-.6z" fill="#ffec00"/><path d="M537.5 170.5l1.8 .7 4.4-2.1-1.8-.6z" fill="#fffd00"/><path d="M541.5 168.7l1.8 .7 4.4-2-1.8-.7z" fill="#ecff00"/><path d="M545.5 167l1.8 .6 4.4-2-1.9-.6z" fill="#d7ff00"/><path d="M549.4 165.2l1.8 .6 4.3-1.9-1.8-.7z" fill="#c0ff00"/><path d="M553.3 163.5l1.8 .6 4.3-1.9-1.8-.7z" fill="#a7ff00"/><path d="M557.1 161.8l1.9 .6 4.2-1.9-1.9-.6z" fill="#8eff00"/><path d="M560.9 160.1l1.8 .6 4.2-1.9-1.8-.6z" fill="#6dff00"/><path d="M461.7 205.6l2 .9 2.3-1.1-2-.9z" fill="#00dfff"/><path d="M463.7 204.7l2 .9 2.4-1.2-2.1-.8z" fill="#00ff2e"/><path d="M465.7 203.8l2.1 .9 2.3-1.2-2.1-.9z" fill="#60ff00"/><path d="M467.8 202.9l2 .9 2.3-1.2-2.1-.8z" fill="#beff00"/><path d="M469.8 202l2 .9 2.3-1.2-2.1-.8z" fill="#fcff00"/><path d="M471.8 201.1l2 .9 2.3-1.1-2.1-.9z" fill="#ffd000"/><path d="M473.7 200.2l2.1 .9 2.2-1.1-2-.9z" fill="#ff9800"/><path d="M475.7 199.4l2.1 .8 2.2-1.1-2-.9z" fill="#ff6600"/><path d="M477.7 198.5l2 .9 2.3-1.2-2.1-.9z" fill="#ff2c00"/><path d="M479.6 197.6l2.1 .9 2.2-1.2-2-.8z" fill="#ff0000"/><path d="M481.6 196.7l2 .9 2.2-1.1-2-.9z" fill="#ff0000"/><path d="M483.5 195.9l2.1 .8 2.1-1.1-2-.8z" fill="#ff0000"/><path d="M485.4 195l2.1 .9 2.2-1.1-2.1-.9z" fill="#ff0000"/><path d="M487.3 194.2l2.1 .8 2.1-1.1-2-.8z" fill="#ff0000"/><path d="M489.2 193.3l2.1 .9 2.1-1.1-2-.9z" fill="#f40000"/><path d="M491.1 192.5l2.1 .8 2.1-1.1-2-.8z" fill="#f30000"/><path d="M493 191.6l2.1 .9 2.1-1.1-2.1-.9z" fill="#ff0000"/><path d="M494.9 190.8l2 .9 2.1-1.1-2-.9z" fill="#ff0000"/><path d="M496.7 190l2.1 .8 2.1-1.1-2.1-.8z" fill="#ff0000"/><path d="M498.6 189.2l2 .8 2.1-1.1-2-.8z" fill="#ff0000"/><path d="M500.4 188.4l1.9 .7 5-2.3-1.9-.7z" fill="#ff0000"/><path d="M505 186.3l1.8 .8 4.9-2.3-1.8-.7z" fill="#ff2600"/><path d="M509.5 184.3l1.8 .7 4.9-2.2-1.9-.7z" fill="#ff6e00"/><path d="M513.9 182.4l1.8 .7 4.8-2.2-1.8-.7z" fill="#ff9e00"/><path d="M518.2 180.4l1.9 .7 4.7-2.2-1.8-.6z" fill="#ffc100"/><path d="M522.5 178.5l1.9 .7 4.7-2.2-1.9-.6z" fill="#ffd400"/><path d="M526.8 176.6l1.8 .7 4.7-2.1-1.9-.7z" fill="#ffe400"/><path d="M531 174.7l1.8 .7 4.6-2.1-1.8-.7z" fill="#fff300"/><path d="M535.1 172.9l1.9 .6 4.5-2-1.9-.7z" fill="#fcff00"/><path d="M539.2 171l1.9 .7 4.4-2-1.8-.7z" fill="#e8ff00"/><path d="M543.3 169.2l1.8 .7 4.4-2-1.8-.7z" fill="#d2ff00"/><path d="M547.2 167.5l1.9 .6 4.3-2-1.8-.6z" fill="#bbff00"/><path d="M551.2 165.7l1.8 .7 4.3-2-1.8-.7z" fill="#a5ff00"/><path d="M555.1 164l1.8 .6 4.2-1.9-1.8-.7z" fill="#90ff00"/><path d="M558.9 162.3l1.8 .6 4.2-1.9-1.8-.7z" fill="#76ff00"/><path d="M562.7 160.6l1.8 .6 4.1-1.9-1.8-.6z" fill="#5eff00"/><path d="M463.5 206.3l2 .9 2.4-1.2-2.1-.9z" fill="#00ffb8"/><path d="M465.5 205.4l2.1 .9 2.3-1.2-2.1-.9z" fill="#2bff00"/><path d="M467.6 204.5l2 .9 2.3-1.2-2-.9z" fill="#9bff00"/><path d="M469.6 203.6l2 .9 2.3-1.2-2-.9z" fill="#e5ff00"/><path d="M471.6 202.7l2 .9 2.3-1.2-2-.9z" fill="#ffe100"/><path d="M473.6 201.8l2 .9 2.3-1.2-2.1-.9z" fill="#ffa300"/><path d="M475.6 200.9l2 .9 2.3-1.2-2.1-.9z" fill="#ff6800"/><path d="M477.5 200l2.1 .9 2.2-1.2-2-.8z" fill="#ff2800"/><path d="M479.5 199.1l2.1 .9 2.2-1.1-2.1-.9z" fill="#ff0000"/><path d="M481.5 198.2l2 .9 2.2-1.1-2-.9z" fill="#ff0000"/><path d="M483.4 197.4l2 .8 2.2-1.1-2-.9z" fill="#ff0000"/><path d="M485.3 196.5l2.1 .9 2.2-1.2-2.1-.8z" fill="#ff0000"/><path d="M487.2 195.6l2.1 .9 2.2-1.1-2.1-.9z" fill="#ff0000"/><path d="M489.2 194.8l2 .9 2.2-1.2-2.1-.8z" fill="#ed0000"/><path d="M491 193.9l2.1 .9 2.1-1.1-2-.9z" fill="#df0000"/><path d="M492.9 193.1l2.1 .8 2.1-1.1-2-.8z" fill="#e30000"/><path d="M494.8 192.3l2.1 .8 2.1-1.1-2.1-.8z" fill="#fd0000"/><path d="M496.7 191.4l2 .9 2.1-1.1-2-.9z" fill="#ff0000"/><path d="M498.5 190.6l2.1 .8 2.1-1.1-2.1-.8z" fill="#ff0000"/><path d="M500.4 189.8l2 .8 2.1-1.1-2-.8z" fill="#ff0000"/><path d="M502.2 189l1.9 .7 5-2.3-1.9-.7z" fill="#ff3000"/><path d="M506.8 186.9l1.8 .7 4.9-2.2-1.8-.7z" fill="#ff7200"/><path d="M511.2 184.9l1.9 .7 4.9-2.2-1.9-.7z" fill="#ff9f00"/><path d="M515.7 182.9l1.8 .7 4.8-2.2-1.8-.6z" fill="#ffc300"/><path d="M520 181l1.9 .7 4.7-2.2-1.8-.7z" fill="#ffdb00"/><path d="M524.3 179.1l1.9 .6 4.7-2.1-1.9-.7z" fill="#ffee00"/><path d="M528.6 177.1l1.8 .7 4.6-2.1-1.8-.7z" fill="#fffa00"/><path d="M532.8 175.3l1.8 .6 4.6-2.1-1.9-.6z" fill="#f6ff00"/><path d="M536.9 173.4l1.9 .7 4.5-2.1-1.9-.7z" fill="#e4ff00"/><path d="M541 171.6l1.8 .6 4.5-2-1.9-.7z" fill="#cfff00"/><path d="M545 169.8l1.9 .6 4.4-2-1.9-.6z" fill="#b7ff00"/><path d="M549 168l1.8 .6 4.4-2-1.9-.6z" fill="#9fff00"/><path d="M552.9 166.2l1.9 .7 4.3-2-1.9-.6z" fill="#8bff00"/><path d="M556.8 164.5l1.8 .6 4.3-1.9-1.9-.7z" fill="#76ff00"/><path d="M560.6 162.8l1.9 .6 4.2-1.9-1.9-.7z" fill="#63ff00"/><path d="M564.4 161.1l1.8 .6 4.2-1.9-1.8-.6z" fill="#54ff00"/><path d="M465.3 207l2.1 .9 2.3-1.2-2.1-.9z" fill="#05ff00"/><path d="M467.4 206.1l2 .9 2.3-1.2-2-.9z" fill="#77ff00"/><path d="M469.4 205.1l2 .9 2.3-1.1-2-.9z" fill="#cfff00"/><path d="M471.4 204.2l2.1 .9 2.2-1.1-2-.9z" fill="#fff300"/><path d="M473.4 203.3l2.1 .9 2.2-1.1-2-.9z" fill="#ffb500"/><path d="M475.4 202.4l2.1 .9 2.2-1.1-2-.9z" fill="#ff7500"/><path d="M477.4 201.5l2 .9 2.3-1.1-2.1-.9z" fill="#ff3200"/><path d="M479.4 200.6l2 .9 2.3-1.1-2.1-.9z" fill="#ff0000"/><path d="M481.3 199.8l2.1 .8 2.2-1.1-2.1-.9z" fill="#ff0000"/><path d="M483.3 198.9l2 .9 2.2-1.2-2-.9z" fill="#ff0000"/><path d="M485.2 198l2.1 .9 2.2-1.2-2.1-.8z" fill="#ff0000"/><path d="M487.1 197.1l2.1 .9 2.2-1.1-2.1-.9z" fill="#ff0000"/><path d="M489.1 196.3l2 .8 2.2-1.1-2.1-.8z" fill="#f30000"/><path d="M491 195.4l2 .9 2.2-1.1-2.1-.9z" fill="#de0000"/><path d="M492.9 194.6l2 .8 2.2-1.1-2.1-.9z" fill="#d10000"/><path d="M494.8 193.7l2 .9 2.1-1.1-2-.9z" fill="#d90000"/><path d="M496.6 192.9l2.1 .8 2.1-1.1-2.1-.8z" fill="#fd0000"/><path d="M498.5 192l2.1 .9 2.1-1.1-2.1-.9z" fill="#ff0000"/><path d="M500.3 191.2l2.1 .8 2.1-1.1-2.1-.8z" fill="#ff0000"/><path d="M502.2 190.4l2.1 .8 2-1.1-2-.8z" fill="#ff3600"/><path d="M504 189.6l1.9 .7 5-2.3-1.9-.7z" fill="#ff7500"/><path d="M508.6 187.5l1.8 .7 4.9-2.2-1.8-.7z" fill="#ffa500"/><path d="M513 185.5l1.9 .7 4.9-2.2-1.9-.7z" fill="#ffc700"/><path d="M517.5 183.5l1.8 .7 4.8-2.2-1.9-.7z" fill="#ffde00"/><path d="M521.8 181.6l1.9 .6 4.7-2.1-1.9-.7z" fill="#fff200"/><path d="M526.1 179.6l1.9 .7 4.6-2.1-1.8-.7z" fill="#feff00"/><path d="M530.4 177.7l1.8 .7 4.6-2.1-1.8-.7z" fill="#efff00"/><path d="M534.6 175.8l1.8 .7 4.6-2.1-1.9-.7z" fill="#e0ff00"/><path d="M538.7 174l1.8 .6 4.5-2.1-1.8-.6z" fill="#cdff00"/><path d="M542.8 172.1l1.8 .7 4.5-2.1-1.9-.6z" fill="#b5ff00"/><path d="M546.8 170.3l1.8 .7 4.4-2.1-1.8-.6z" fill="#9bff00"/><path d="M550.8 168.5l1.8 .7 4.4-2.1-1.9-.6z" fill="#83ff00"/><path d="M554.7 166.7l1.8 .7 4.3-2-1.8-.6z" fill="#6fff00"/><path d="M558.6 165l1.8 .6 4.2-1.9-1.8-.7z" fill="#61ff00"/><path d="M562.4 163.3l1.8 .6 4.2-1.9-1.8-.7z" fill="#55ff00"/><path d="M566.2 161.6l1.8 .6 4.1-1.9-1.8-.7z" fill="#4dff00"/><path d="M467.1 207.7l2.1 .9 2.3-1.2-2-.9z" fill="#6aff00"/><path d="M469.2 206.7l2.1 .9 2.3-1.1-2.1-.9z" fill="#c3ff00"/><path d="M471.2 205.8l2.1 .9 2.3-1.2-2.1-.9z" fill="#fffd00"/><path d="M473.2 204.9l2.1 .9 2.3-1.2-2.1-.9z" fill="#ffc500"/><path d="M475.2 204l2.1 .9 2.3-1.2-2.1-.9z" fill="#ff8400"/><path d="M477.2 203.1l2.1 .9 2.3-1.2-2.1-.9z" fill="#ff4300"/><path d="M479.2 202.2l2.1 .9 2.2-1.2-2-.9z" fill="#ff0100"/><path d="M481.2 201.3l2.1 .9 2.2-1.2-2.1-.9z" fill="#ff0000"/><path d="M483.2 200.4l2 .9 2.2-1.2-2-.8z" fill="#ff0000"/><path d="M485.1 199.5l2.1 .9 2.2-1.1-2.1-.9z" fill="#ff0000"/><path d="M487 198.7l2.1 .8 2.2-1.1-2.1-.9z" fill="#ff0000"/><path d="M489 197.8l2 .9 2.2-1.2-2-.9z" fill="#ff0000"/><path d="M490.9 196.9l2.1 .9 2.1-1.2-2-.8z" fill="#f30000"/><path d="M492.8 196l2.1 .9 2.1-1.1-2.1-.9z" fill="#e40000"/><path d="M494.7 195.2l2.1 .9 2.1-1.2-2.1-.8z" fill="#dc0000"/><path d="M496.6 194.3l2 .9 2.2-1.1-2.1-.9z" fill="#e60000"/><path d="M498.4 193.5l2.1 .8 2.1-1.1-2-.8z" fill="#ff0000"/><path d="M500.3 192.6l2.1 .9 2.1-1.1-2.1-.9z" fill="#ff0000"/><path d="M502.2 191.8l2 .9 2.1-1.2-2-.8z" fill="#ff1800"/><path d="M504 191l2.1 .8 2.1-1.1-2.1-.8z" fill="#ff7300"/><path d="M505.8 190.2l1.9 .7 5-2.3-1.9-.7z" fill="#ffa700"/><path d="M510.4 188.1l1.9 .7 4.9-2.2-1.9-.7z" fill="#ffcd00"/><path d="M514.9 186.1l1.8 .7 4.9-2.2-1.9-.7z" fill="#ffe400"/><path d="M519.3 184.1l1.9 .7 4.7-2.2-1.9-.7z" fill="#fff500"/><path d="M523.6 182.1l1.9 .7 4.7-2.2-1.9-.7z" fill="#faff00"/><path d="M527.9 180.2l1.9 .7 4.7-2.2-1.9-.7z" fill="#e9ff00"/><path d="M532.2 178.3l1.8 .6 4.6-2.1-1.8-.7z" fill="#daff00"/><path d="M536.3 176.4l1.9 .6 4.6-2.1-1.9-.6z" fill="#caff00"/><path d="M540.5 174.5l1.8 .7 4.5-2.1-1.8-.7z" fill="#b5ff00"/><path d="M544.5 172.7l1.9 .6 4.4-2-1.8-.7z" fill="#9bff00"/><path d="M548.6 170.8l1.8 .7 4.4-2.1-1.8-.6z" fill="#7dff00"/><path d="M552.5 169l1.9 .7 4.3-2-1.8-.7z" fill="#64ff00"/><path d="M556.5 167.3l1.8 .6 4.3-2-1.9-.6z" fill="#57ff00"/><path d="M560.3 165.5l1.9 .6 4.2-1.9-1.8-.7z" fill="#50ff00"/><path d="M564.2 163.8l1.8 .6 4.2-1.9-1.9-.7z" fill="#4aff00"/><path d="M567.9 162.1l1.9 .6 4.1-1.9-1.8-.7z" fill="#47ff00"/><path d="M469 208.3l2.1 1 2.3-1.2-2.1-1z" fill="#b2ff00"/><path d="M471 207.4l2.1 .9 2.3-1.2-2.1-.9z" fill="#f3ff00"/><path d="M473.1 206.5l2 .9 2.3-1.2-2-.9z" fill="#ffd500"/><path d="M475.1 205.6l2.1 .9 2.2-1.2-2-.9z" fill="#ff9400"/><path d="M477.1 204.7l2.1 .9 2.2-1.2-2-.9z" fill="#ff5800"/><path d="M479.1 203.8l2.1 .8 2.2-1.1-2.1-.9z" fill="#ff1300"/><path d="M481.1 202.8l2 .9 2.3-1.1-2.1-.9z" fill="#ff0000"/><path d="M483 202l2.1 .8 2.2-1.1-2-.9z" fill="#ff0000"/><path d="M485 201.1l2.1 .8 2.2-1.1-2.1-.9z" fill="#ff0000"/><path d="M486.9 200.2l2.1 .9 2.2-1.2-2.1-.9z" fill="#ff0000"/><path d="M488.9 199.3l2.1 .9 2.1-1.2-2-.8z" fill="#ff0000"/><path d="M490.8 198.4l2.1 .9 2.2-1.1-2.1-.9z" fill="#ff0000"/><path d="M492.7 197.5l2.1 .9 2.2-1.1-2.1-.9z" fill="#ff0000"/><path d="M494.6 196.7l2.1 .8 2.2-1.1-2.1-.8z" fill="#ff0000"/><path d="M496.5 195.8l2.1 .9 2.1-1.1-2-.9z" fill="#ff0000"/><path d="M498.4 195l2.1 .8 2.1-1.1-2.1-.9z" fill="#ff0000"/><path d="M500.3 194.1l2.1 .9 2.1-1.2-2.1-.8z" fill="#ff0000"/><path d="M502.1 193.3l2.1 .8 2.1-1.1-2.1-.8z" fill="#ff0000"/><path d="M504 192.4l2.1 .9 2.1-1.1-2.1-.9z" fill="#ff5f00"/><path d="M505.8 191.6l2.1 .8 2.1-1.1-2.1-.8z" fill="#ffa600"/><path d="M507.7 190.8l1.9 .7 4.9-2.3-1.9-.7z" fill="#ffd100"/><path d="M512.2 188.7l1.9 .7 4.9-2.2-1.9-.7z" fill="#ffec00"/><path d="M516.7 186.7l1.9 .7 4.8-2.2-1.9-.7z" fill="#fffa00"/><path d="M521.1 184.7l1.9 .7 4.7-2.2-1.8-.7z" fill="#f7ff00"/><path d="M525.4 182.7l1.9 .7 4.7-2.2-1.9-.7z" fill="#e6ff00"/><path d="M529.7 180.7l1.9 .7 4.7-2.1-1.9-.7z" fill="#d6ff00"/><path d="M534 178.8l1.8 .7 4.6-2.1-1.8-.7z" fill="#c5ff00"/><path d="M538.1 176.9l1.9 .7 4.6-2.1-1.9-.7z" fill="#b2ff00"/><path d="M542.3 175l1.8 .7 4.5-2.1-1.8-.6z" fill="#9cff00"/><path d="M546.3 173.2l1.9 .7 4.4-2.1-1.8-.7z" fill="#7eff00"/><path d="M550.4 171.4l1.8 .6 4.4-2-1.9-.7z" fill="#5dff00"/><path d="M554.3 169.6l1.9 .6 4.3-2-1.8-.7z" fill="#48ff00"/><path d="M558.2 167.8l1.9 .6 4.3-2-1.9-.6z" fill="#40ff00"/><path d="M562.1 166l1.9 .7 4.2-2-1.9-.7z" fill="#3fff00"/><path d="M565.9 164.3l1.9 .6 4.2-1.9-1.9-.7z" fill="#3eff00"/><path d="M569.7 162.6l1.8 .6 4.2-1.9-1.9-.7z" fill="#3dff00"/><path d="M470.8 209l2.1 .9 2.3-1.2-2-.9z" fill="#c5ff00"/><path d="M472.9 208.1l2.1 .9 2.3-1.2-2.1-.9z" fill="#fff600"/><path d="M474.9 207.2l2.1 .9 2.3-1.2-2.1-.9z" fill="#ffb400"/><path d="M476.9 206.2l2.1 .9 2.3-1.1-2.1-.9z" fill="#ff6e00"/><path d="M478.9 205.3l2.1 .9 2.3-1.2-2.1-.9z" fill="#ff2900"/><path d="M480.9 204.4l2.1 .9 2.3-1.2-2.1-.9z" fill="#ff0000"/><path d="M482.9 203.5l2.1 .9 2.2-1.2-2.1-.9z" fill="#ff0000"/><path d="M484.9 202.6l2.1 .9 2.2-1.2-2.1-.9z" fill="#ff0000"/><path d="M486.8 201.7l2.1 .9 2.2-1.2-2-.8z" fill="#ff0000"/><path d="M488.8 200.8l2.1 .9 2.2-1.1-2.1-.9z" fill="#ff0000"/><path d="M490.7 199.9l2.1 .9 2.2-1.1-2.1-.9z" fill="#ff0000"/><path d="M492.6 199.1l2.1 .8 2.2-1.1-2.1-.9z" fill="#ff0000"/><path d="M494.6 198.2l2 .9 2.2-1.2-2.1-.9z" fill="#ff0000"/><path d="M496.5 197.3l2.1 .9 2.1-1.2-2.1-.8z" fill="#ff0000"/><path d="M498.4 196.4l2 .9 2.2-1.1-2.1-.9z" fill="#ff0000"/><path d="M500.2 195.6l2.1 .9 2.2-1.2-2.1-.8z" fill="#ff0000"/><path d="M502.1 194.7l2.1 .9 2.1-1.1-2.1-.9z" fill="#ff0000"/><path d="M504 193.9l2.1 .8 2.1-1.1-2.1-.8z" fill="#ff4100"/><path d="M505.8 193l2.1 .9 2.1-1.1-2.1-.9z" fill="#ff9800"/><path d="M507.7 192.2l2.1 .8 2-1.1-2.1-.8z" fill="#ffd200"/><path d="M509.5 191.4l1.9 .7 4.9-2.3-1.9-.7z" fill="#fff000"/><path d="M514 189.3l1.9 .8 4.9-2.3-1.9-.7z" fill="#fcff00"/><path d="M518.5 187.3l1.9 .7 4.8-2.3-1.9-.7z" fill="#efff00"/><path d="M522.9 185.3l1.9 .7 4.8-2.3-1.9-.7z" fill="#e2ff00"/><path d="M527.2 183.3l1.9 .7 4.7-2.2-1.8-.7z" fill="#d3ff00"/><path d="M531.5 181.3l1.9 .7 4.7-2.2-1.9-.7z" fill="#c2ff00"/><path d="M535.8 179.4l1.9 .7 4.5-2.2-1.8-.7z" fill="#aeff00"/><path d="M539.9 177.5l1.9 .7 4.6-2.2-1.9-.6z" fill="#9bff00"/><path d="M544.1 175.6l1.9 .7 4.4-2.1-1.8-.7z" fill="#82ff00"/><path d="M548.1 173.7l1.9 .7 4.4-2.1-1.8-.6z" fill="#63ff00"/><path d="M552.2 171.9l1.8 .7 4.4-2.1-1.9-.7z" fill="#45ff00"/><path d="M556.1 170.1l1.9 .6 4.3-2-1.9-.6z" fill="#32ff00"/><path d="M560 168.3l1.9 .6 4.3-2-1.9-.6z" fill="#29ff00"/><path d="M563.9 166.5l1.9 .7 4.2-2-1.9-.7z" fill="#26ff00"/><path d="M567.7 164.8l1.9 .6 4.1-1.9-1.8-.7z" fill="#24ff00"/><path d="M571.5 163.1l1.8 .6 4.1-1.9-1.8-.7z" fill="#23ff00"/><path d="M472.7 209.7l2.1 .9 2.3-1.2-2.1-.9z" fill="#cbff00"/><path d="M474.8 208.8l2 .9 2.3-1.2-2-.9z" fill="#ffec00"/><path d="M476.8 207.8l2.1 1 2.3-1.2-2.1-.9z" fill="#ff9d00"/><path d="M478.8 206.9l2.1 .9 2.3-1.2-2.1-.9z" fill="#ff5400"/><path d="M480.8 206l2.1 .9 2.2-1.2-2-.9z" fill="#ff1200"/><path d="M482.8 205.1l2.1 .9 2.2-1.2-2.1-.9z" fill="#ff0000"/><path d="M484.8 204.2l2.1 .9 2.2-1.2-2.1-.9z" fill="#ff0000"/><path d="M486.7 203.3l2.1 .9 2.3-1.2-2.1-.9z" fill="#ff0000"/><path d="M488.7 202.4l2.1 .9 2.2-1.2-2.1-.9z" fill="#ff0000"/><path d="M490.6 201.5l2.1 .9 2.2-1.2-2.1-.9z" fill="#ff0000"/><path d="M492.6 200.6l2.1 .9 2.2-1.2-2.1-.9z" fill="#ff0000"/><path d="M494.5 199.7l2.1 .9 2.2-1.2-2.1-.8z" fill="#ff0000"/><path d="M496.4 198.8l2.1 .9 2.2-1.1-2.1-.9z" fill="#ff0000"/><path d="M498.3 197.9l2.1 .9 2.2-1.1-2.1-.9z" fill="#ff0000"/><path d="M500.2 197.1l2.1 .9 2.1-1.2-2.1-.8z" fill="#ff0000"/><path d="M502.1 196.2l2.1 .9 2.1-1.1-2.1-.9z" fill="#ff0000"/><path d="M504 195.4l2.1 .8 2.1-1.1-2.1-.9z" fill="#ff3c00"/><path d="M505.8 194.5l2.1 .9 2.1-1.2-2.1-.8z" fill="#ff8800"/><path d="M507.7 193.7l2.1 .8 2-1.1-2.1-.9z" fill="#ffcb00"/><path d="M509.5 192.8l2.1 .9 2.1-1.1-2.1-.9z" fill="#fff200"/><path d="M511.3 192l1.9 .7 5-2.3-1.9-.7z" fill="#f7ff00"/><path d="M515.9 189.9l1.9 .8 4.9-2.3-2-.8z" fill="#e5ff00"/><path d="M520.3 187.9l1.9 .7 4.9-2.3-2-.7z" fill="#d9ff00"/><path d="M524.7 185.9l1.9 .7 4.8-2.3-1.9-.7z" fill="#ceff00"/><path d="M529.1 183.9l1.9 .7 4.7-2.2-1.9-.7z" fill="#beff00"/><path d="M533.4 181.9l1.9 .7 4.6-2.2-1.9-.7z" fill="#abff00"/><path d="M537.6 179.9l1.9 .7 4.6-2.1-1.9-.7z" fill="#97ff00"/><path d="M541.8 178l1.9 .7 4.5-2.1-1.9-.7z" fill="#80ff00"/><path d="M545.9 176.1l1.9 .7 4.4-2.1-1.8-.7z" fill="#66ff00"/><path d="M549.9 174.3l1.9 .6 4.4-2-1.8-.7z" fill="#4bff00"/><path d="M554 172.4l1.8 .7 4.4-2.1-1.9-.6z" fill="#33ff00"/><path d="M557.9 170.6l1.9 .7 4.3-2.1-1.9-.6z" fill="#1fff00"/><path d="M561.8 168.8l1.9 .7 4.3-2-1.9-.7z" fill="#11ff00"/><path d="M565.7 167l1.8 .7 4.3-2-1.9-.6z" fill="#06ff00"/><path d="M569.5 165.3l1.9 .6 4.1-1.9-1.8-.7z" fill="#00ff07"/><path d="M573.2 163.6l1.9 .6 4.1-2-1.8-.6z" fill="#00ff1a"/><path d="M474.6 210.4l2.1 .9 2.3-1.2-2.1-.9z" fill="#cdff00"/><path d="M476.6 209.5l2.1 .9 2.3-1.2-2.1-.9z" fill="#ffe900"/><path d="M478.6 208.5l2.1 .9 2.3-1.2-2.1-.9z" fill="#ff9900"/><path d="M480.7 207.6l2.1 .9 2.2-1.2-2.1-.9z" fill="#ff5300"/><path d="M482.7 206.7l2.1 .9 2.2-1.2-2.1-.9z" fill="#ff1900"/><path d="M484.7 205.8l2.1 .9 2.2-1.2-2.1-.9z" fill="#ff0000"/><path d="M486.6 204.8l2.1 .9 2.3-1.1-2.1-.9z" fill="#ff0000"/><path d="M488.6 203.9l2.1 .9 2.2-1.1-2.1-.9z" fill="#ff0000"/><path d="M490.6 203l2.1 .9 2.2-1.1-2.1-.9z" fill="#ff0000"/><path d="M492.5 202.1l2.1 .9 2.2-1.1-2.1-.9z" fill="#ff0000"/><path d="M494.4 201.2l2.1 .9 2.2-1.1-2.1-.9z" fill="#ff0000"/><path d="M496.4 200.3l2.1 .9 2.1-1.1-2.1-.9z" fill="#ff0000"/><path d="M498.3 199.5l2.1 .8 2.1-1.1-2.1-.9z" fill="#ff0000"/><path d="M500.2 198.6l2.1 .9 2.1-1.2-2.1-.8z" fill="#ff0000"/><path d="M502.1 197.7l2.1 .9 2.1-1.1-2.1-.9z" fill="#ff2500"/><path d="M503.9 196.8l2.1 .9 2.2-1.1-2.1-.9z" fill="#ff5200"/><path d="M505.8 196l2.1 .9 2.1-1.2-2.1-.8z" fill="#ff8500"/><path d="M507.7 195.1l2.1 .9 2.1-1.1-2.1-.9z" fill="#ffc100"/><path d="M509.5 194.3l2.1 .8 2.1-1.1-2.1-.8z" fill="#ffef00"/><path d="M511.3 193.4l2.2 .9 2-1.1-2.1-.9z" fill="#f4ff00"/><path d="M513.2 192.6l1.9 .8 4.9-2.4-1.9-.7z" fill="#dfff00"/><path d="M517.7 190.5l1.9 .8 4.9-2.3-1.9-.8z" fill="#cfff00"/><path d="M522.2 188.5l1.9 .7 4.8-2.3-1.9-.7z" fill="#c4ff00"/><path d="M526.6 186.4l1.9 .8 4.7-2.3-1.9-.7z" fill="#b7ff00"/><path d="M530.9 184.4l1.9 .8 4.7-2.3-1.9-.7z" fill="#a7ff00"/><path d="M535.2 182.5l1.9 .7 4.6-2.2-1.9-.7z" fill="#94ff00"/><path d="M539.4 180.5l1.9 .7 4.6-2.2-1.9-.6z" fill="#7cff00"/><path d="M543.6 178.6l1.9 .7 4.5-2.2-1.9-.6z" fill="#63ff00"/><path d="M547.7 176.7l1.9 .7 4.5-2.1-1.9-.7z" fill="#4bff00"/><path d="M551.8 174.8l1.8 .7 4.5-2.1-1.9-.7z" fill="#36ff00"/><path d="M555.8 173l1.8 .6 4.4-2-1.9-.7z" fill="#22ff00"/><path d="M559.7 171.1l1.9 .7 4.3-2-1.9-.7z" fill="#0eff00"/><path d="M563.6 169.3l1.9 .7 4.3-2-1.9-.7z" fill="#00ff0b"/><path d="M567.5 167.6l1.8 .6 4.3-2-1.9-.6z" fill="#00ff3b"/><path d="M571.3 165.8l1.9 .6 4.1-1.9-1.9-.7z" fill="#00ff6a"/><path d="M575 164.1l1.9 .6 4.1-2-1.9-.6z" fill="#00ff98"/><path d="M476.5 211.1l2.1 .9 2.3-1.2-2.1-.9z" fill="#ccff00"/><path d="M478.5 210.1l2.1 1 2.3-1.2-2.1-1z" fill="#ffed00"/><path d="M480.5 209.2l2.1 .9 2.3-1.2-2.1-.9z" fill="#ffa300"/><path d="M482.5 208.3l2.1 .9 2.3-1.2-2.1-.9z" fill="#ff6400"/><path d="M484.5 207.3l2.1 1 2.3-1.2-2.1-.9z" fill="#ff3200"/><path d="M486.5 206.4l2.1 .9 2.3-1.2-2.1-.9z" fill="#ff1c00"/><path d="M488.5 205.5l2.1 .9 2.2-1.2-2.1-.9z" fill="#ff0f00"/><path d="M490.5 204.6l2.1 .9 2.2-1.2-2.1-.9z" fill="#ff0500"/><path d="M492.4 203.7l2.1 .9 2.2-1.2-2.1-.9z" fill="#ff0000"/><path d="M494.4 202.8l2.1 .9 2.2-1.2-2.1-.9z" fill="#ff0000"/><path d="M496.3 201.9l2.1 .9 2.2-1.2-2.1-.9z" fill="#ff0000"/><path d="M498.2 201l2.1 .9 2.2-1.2-2.1-.9z" fill="#ff0e00"/><path d="M500.1 200.1l2.1 .9 2.2-1.2-2.1-.8z" fill="#ff2a00"/><path d="M502 199.2l2.1 .9 2.2-1.1-2.1-.9z" fill="#ff4f00"/><path d="M503.9 198.4l2.1 .8 2.2-1.1-2.2-.9z" fill="#ff7200"/><path d="M505.8 197.5l2.1 .9 2.1-1.2-2.1-.8z" fill="#ff9400"/><path d="M507.7 196.6l2.1 .9 2.1-1.1-2.1-.9z" fill="#ffc000"/><path d="M509.5 195.8l2.1 .8 2.1-1.1-2.1-.9z" fill="#ffea00"/><path d="M511.4 194.9l2.1 .9 2.1-1.2-2.2-.8z" fill="#f5ff00"/><path d="M513.2 194l2.1 .9 2.1-1.1-2.1-.9z" fill="#dcff00"/><path d="M515 193.2l2 .8 4.9-2.4-1.9-.7z" fill="#c9ff00"/><path d="M519.6 191.1l1.9 .8 4.8-2.3-1.9-.8z" fill="#b8ff00"/><path d="M524 189.1l1.9 .7 4.8-2.3-1.9-.7z" fill="#acff00"/><path d="M528.4 187l1.9 .8 4.8-2.3-1.9-.7z" fill="#a0ff00"/><path d="M532.7 185l2 .7 4.6-2.2-1.9-.7z" fill="#90ff00"/><path d="M537 183l1.9 .7 4.7-2.2-1.9-.7z" fill="#78ff00"/><path d="M541.2 181.1l2 .7 4.5-2.2-1.9-.7z" fill="#5fff00"/><path d="M545.4 179.1l1.9 .7 4.5-2.1-1.9-.7z" fill="#47ff00"/><path d="M549.5 177.2l1.9 .7 4.5-2.1-1.9-.7z" fill="#32ff00"/><path d="M553.6 175.4l1.9 .6 4.4-2.1-1.9-.6z" fill="#21ff00"/><path d="M557.6 173.5l1.9 .7 4.3-2.1-1.9-.7z" fill="#10ff00"/><path d="M561.5 171.7l1.9 .6 4.3-2-1.9-.7z" fill="#00ff06"/><path d="M565.4 169.9l1.9 .6 4.3-2-1.9-.7z" fill="#00ff3a"/><path d="M569.3 168.1l1.9 .6 4.2-2-1.9-.6z" fill="#00ff76"/><path d="M573.1 166.3l1.9 .7 4.1-2-1.9-.7z" fill="#00ffb7"/><path d="M576.8 164.6l1.9 .6 4.1-2-1.9-.6z" fill="#00fffd"/><path d="M478.3 211.8l2.2 .9 2.3-1.2-2.1-.9z" fill="#c9ff00"/><path d="M480.4 210.8l2.1 1 2.3-1.2-2.1-1z" fill="#fff400"/><path d="M482.4 209.9l2.1 .9 2.3-1.2-2.1-.9z" fill="#ffb500"/><path d="M484.4 209l2.1 .9 2.3-1.2-2.1-.9z" fill="#ff7c00"/><path d="M486.4 208l2.1 .9 2.3-1.2-2.1-.9z" fill="#ff5c00"/><path d="M488.4 207.1l2.1 .9 2.3-1.2-2.2-.9z" fill="#ff4f00"/><path d="M490.4 206.2l2.1 .9 2.2-1.2-2.1-.9z" fill="#ff4c00"/><path d="M492.3 205.3l2.2 .9 2.2-1.2-2.1-.9z" fill="#ff4a00"/><path d="M494.3 204.4l2.1 .9 2.2-1.2-2.1-.9z" fill="#ff4a00"/><path d="M496.2 203.4l2.2 .9 2.2-1.1-2.2-.9z" fill="#ff4b00"/><path d="M498.2 202.5l2.1 .9 2.2-1.1-2.2-.9z" fill="#ff5100"/><path d="M500.1 201.6l2.1 .9 2.2-1.1-2.1-.9z" fill="#ff6100"/><path d="M502 200.8l2.1 .8 2.2-1.1-2.1-.9z" fill="#ff7700"/><path d="M503.9 199.9l2.1 .9 2.2-1.2-2.2-.9z" fill="#ff9100"/><path d="M505.8 199l2.1 .9 2.1-1.2-2.1-.8z" fill="#ffaf00"/><path d="M507.7 198.1l2.1 .9 2.1-1.1-2.1-.9z" fill="#ffcc00"/><path d="M509.5 197.3l2.2 .8 2.1-1.1-2.2-.9z" fill="#ffeb00"/><path d="M511.4 196.4l2.1 .9 2.1-1.2-2.1-.8z" fill="#f8ff00"/><path d="M513.2 195.5l2.2 .9 2-1.1-2.1-.9z" fill="#daff00"/><path d="M515.1 194.7l2.1 .8 2.1-1.1-2.2-.8z" fill="#c4ff00"/><path d="M516.9 193.9l1.9 .7 5-2.3-2-.8z" fill="#b0ff00"/><path d="M521.4 191.8l1.9 .7 4.9-2.3-1.9-.8z" fill="#a0ff00"/><path d="M525.9 189.7l1.9 .7 4.8-2.3-1.9-.7z" fill="#95ff00"/><path d="M530.3 187.6l1.9 .8 4.7-2.3-1.9-.7z" fill="#87ff00"/><path d="M534.6 185.6l1.9 .7 4.7-2.2-1.9-.7z" fill="#73ff00"/><path d="M538.9 183.6l1.9 .7 4.6-2.2-1.9-.7z" fill="#5bff00"/><path d="M543.1 181.7l1.9 .7 4.6-2.2-1.9-.7z" fill="#42ff00"/><path d="M547.2 179.7l2 .7 4.5-2.2-1.9-.6z" fill="#2cff00"/><path d="M551.3 177.8l2 .7 4.4-2.1-1.9-.7z" fill="#1aff00"/><path d="M555.4 175.9l1.9 .7 4.4-2.1-1.9-.7z" fill="#0bff00"/><path d="M559.4 174l1.9 .7 4.3-2.1-1.9-.6z" fill="#00ff07"/><path d="M563.3 172.2l1.9 .7 4.3-2.1-1.9-.7z" fill="#00ff30"/><path d="M567.2 170.4l1.9 .7 4.3-2.1-1.9-.6z" fill="#00ff61"/><path d="M571.1 168.6l1.9 .7 4.2-2.1-1.9-.6z" fill="#00ff9d"/><path d="M574.9 166.8l1.9 .7 4.1-2-1.9-.7z" fill="#00ffe1"/><path d="M578.6 165.1l1.9 .6 4.1-2-1.9-.6z" fill="#00efff"/><path d="M480.2 212.5l2.2 .9 2.3-1.2-2.2-.9z" fill="#c3ff00"/><path d="M482.3 211.5l2.1 1 2.3-1.3-2.1-.9z" fill="#fdff00"/><path d="M484.3 210.6l2.1 .9 2.3-1.2-2.1-.9z" fill="#ffd200"/><path d="M486.3 209.6l2.1 1 2.3-1.2-2.1-1z" fill="#ffa600"/><path d="M488.3 208.7l2.1 .9 2.3-1.2-2.1-.9z" fill="#ff8b00"/><path d="M490.3 207.8l2.1 .9 2.3-1.2-2.2-.9z" fill="#ff8500"/><path d="M492.3 206.9l2.1 .9 2.2-1.2-2.1-.9z" fill="#ff8600"/><path d="M494.2 205.9l2.2 .9 2.2-1.1-2.2-.9z" fill="#ff8800"/><path d="M496.2 205l2.1 .9 2.2-1.2-2.1-.9z" fill="#ff8b00"/><path d="M498.1 204.1l2.2 .9 2.1-1.2-2.1-.9z" fill="#ff8e00"/><path d="M500.1 203.2l2.1 .9 2.2-1.2-2.2-.9z" fill="#ff9500"/><path d="M502 202.3l2.1 .9 2.2-1.2-2.2-.9z" fill="#ffa200"/><path d="M503.9 201.4l2.1 .9 2.2-1.2-2.2-.8z" fill="#ffb700"/><path d="M505.8 200.5l2.1 .9 2.1-1.1-2.1-.9z" fill="#ffcc00"/><path d="M507.7 199.6l2.1 .9 2.1-1.1-2.1-.9z" fill="#ffe100"/><path d="M509.5 198.8l2.2 .8 2.1-1.1-2.2-.9z" fill="#fff500"/><path d="M511.4 197.9l2.1 .9 2.1-1.2-2.1-.8z" fill="#f4ff00"/><path d="M513.3 197l2.1 .9 2.1-1.1-2.2-.9z" fill="#d9ff00"/><path d="M515.1 196.2l2.1 .8 2.1-1.1-2.1-.9z" fill="#bfff00"/><path d="M516.9 195.3l2.2 .9 2-1.2-2.1-.8z" fill="#aaff00"/><path d="M518.8 194.5l1.9 .7 4.9-2.3-1.9-.8z" fill="#98ff00"/><path d="M523.3 192.4l1.9 .7 4.9-2.3-2-.8z" fill="#87ff00"/><path d="M527.7 190.3l2 .7 4.8-2.3-2-.7z" fill="#78ff00"/><path d="M532.1 188.2l1.9 .8 4.8-2.3-1.9-.7z" fill="#6aff00"/><path d="M536.4 186.2l2 .7 4.7-2.2-2-.7z" fill="#57ff00"/><path d="M540.7 184.2l1.9 .7 4.7-2.2-2-.7z" fill="#3fff00"/><path d="M544.9 182.2l1.9 .7 4.6-2.2-1.9-.7z" fill="#28ff00"/><path d="M549.1 180.3l1.9 .7 4.5-2.2-1.9-.7z" fill="#13ff00"/><path d="M553.2 178.4l1.9 .6 4.5-2.1-2-.7z" fill="#03ff00"/><path d="M557.2 176.5l1.9 .6 4.4-2.1-1.9-.7z" fill="#00ff1a"/><path d="M561.2 174.6l1.9 .7 4.4-2.1-1.9-.7z" fill="#00ff37"/><path d="M565.2 172.7l1.9 .7 4.3-2.1-1.9-.6z" fill="#00ff59"/><path d="M569.1 170.9l1.9 .7 4.2-2.1-1.9-.6z" fill="#00ff83"/><path d="M572.9 169.1l1.9 .7 4.2-2-1.9-.7z" fill="#00ffb6"/><path d="M576.7 167.3l1.9 .7 4.1-2-1.9-.7z" fill="#00fff2"/><path d="M580.4 165.6l1.9 .6 4.1-1.9-1.9-.7z" fill="#00edff"/><path d="M482.1 213.2l2.2 .9 2.3-1.2-2.2-.9z" fill="#bbff00"/><path d="M484.2 212.2l2.1 1 2.3-1.3-2.1-.9z" fill="#eaff00"/><path d="M486.2 211.3l2.1 .9 2.3-1.2-2.1-.9z" fill="#fff100"/><path d="M488.2 210.3l2.2 1 2.2-1.3-2.1-.9z" fill="#ffd300"/><path d="M490.2 209.4l2.1 .9 2.3-1.2-2.1-.9z" fill="#ffc200"/><path d="M492.2 208.5l2.1 .9 2.3-1.2-2.2-.9z" fill="#ffbd00"/><path d="M494.2 207.5l2.1 .9 2.2-1.2-2.1-.9z" fill="#ffbe00"/><path d="M496.1 206.6l2.2 .9 2.2-1.2-2.2-.9z" fill="#ffc000"/><path d="M498.1 205.7l2.1 .9 2.2-1.2-2.1-.9z" fill="#ffc300"/><path d="M500 204.8l2.2 .9 2.1-1.2-2.1-.9z" fill="#ffc600"/><path d="M501.9 203.9l2.2 .9 2.2-1.2-2.2-.9z" fill="#ffcc00"/><path d="M503.9 203l2.1 .9 2.2-1.2-2.2-.9z" fill="#ffd600"/><path d="M505.8 202.1l2.1 .9 2.2-1.2-2.2-.9z" fill="#ffe600"/><path d="M507.7 201.2l2.1 .9 2.1-1.2-2.1-.9z" fill="#fff500"/><path d="M509.5 200.3l2.2 .9 2.1-1.2-2.1-.9z" fill="#faff00"/><path d="M511.4 199.4l2.2 .9 2.1-1.2-2.2-.8z" fill="#e8ff00"/><path d="M513.3 198.5l2.1 .9 2.1-1.1-2.1-.9z" fill="#d4ff00"/><path d="M515.1 197.7l2.2 .8 2.1-1.1-2.2-.9z" fill="#bbff00"/><path d="M517 196.8l2.1 .9 2.1-1.2-2.2-.8z" fill="#a2ff00"/><path d="M518.8 195.9l2.2 .9 2-1.1-2.1-.9z" fill="#90ff00"/><path d="M520.6 195.1l2 .8 4.9-2.4-1.9-.8z" fill="#7bff00"/><path d="M525.1 193l2 .7 4.9-2.3-2-.7z" fill="#69ff00"/><path d="M529.6 190.9l1.9 .7 4.8-2.3-1.9-.7z" fill="#5cff00"/><path d="M534 188.8l1.9 .8 4.8-2.3-2-.7z" fill="#4eff00"/><path d="M538.3 186.8l1.9 .7 4.7-2.2-1.9-.8z" fill="#3cff00"/><path d="M542.6 184.8l1.9 .7 4.6-2.2-1.9-.7z" fill="#26ff00"/><path d="M546.8 182.8l1.9 .7 4.6-2.2-2-.7z" fill="#0fff00"/><path d="M550.9 180.8l2 .7 4.5-2.1-2-.7z" fill="#00ff0d"/><path d="M555 178.9l2 .7 4.4-2.1-1.9-.7z" fill="#00ff33"/><path d="M559.1 177l1.9 .7 4.4-2.1-1.9-.7z" fill="#00ff4e"/><path d="M563.1 175.1l1.9 .7 4.3-2.1-1.9-.7z" fill="#00ff66"/><path d="M567 173.3l1.9 .7 4.3-2.1-1.9-.7z" fill="#00ff80"/><path d="M570.9 171.5l1.9 .6 4.2-2-1.9-.7z" fill="#00ffa2"/><path d="M574.7 169.6l1.9 .7 4.2-2-1.9-.7z" fill="#00ffcc"/><path d="M578.5 167.9l1.9 .6 4.1-2-1.9-.6z" fill="#00fffd"/><path d="M582.2 166.1l1.9 .7 4.1-2-1.9-.7z" fill="#00edff"/><path d="M484.1 213.9l2.1 .9 2.3-1.2-2.1-.9z" fill="#b4ff00"/><path d="M486.1 212.9l2.1 1 2.3-1.3-2.1-.9z" fill="#daff00"/><path d="M488.1 212l2.2 .9 2.2-1.2-2.1-.9z" fill="#f7ff00"/><path d="M490.1 211l2.2 1 2.2-1.3-2.1-.9z" fill="#fff400"/><path d="M492.1 210.1l2.2 .9 2.2-1.2-2.1-.9z" fill="#ffe900"/><path d="M494.1 209.1l2.1 1 2.3-1.2-2.2-1z" fill="#ffe600"/><path d="M496.1 208.2l2.1 .9 2.2-1.2-2.1-.9z" fill="#ffe700"/><path d="M498 207.3l2.2 .9 2.2-1.2-2.2-.9z" fill="#ffe900"/><path d="M500 206.4l2.1 .9 2.2-1.2-2.1-.9z" fill="#ffec00"/><path d="M501.9 205.4l2.2 .9 2.1-1.1-2.1-.9z" fill="#ffef00"/><path d="M503.8 204.5l2.2 .9 2.2-1.1-2.2-.9z" fill="#fff300"/><path d="M505.8 203.6l2.1 .9 2.2-1.2-2.2-.8z" fill="#fffa00"/><path d="M507.7 202.7l2.1 .9 2.2-1.2-2.2-.8z" fill="#f8ff00"/><path d="M509.6 201.8l2.1 .9 2.1-1.1-2.1-.9z" fill="#e9ff00"/><path d="M511.4 200.9l2.2 .9 2.1-1.1-2.1-.9z" fill="#d9ff00"/><path d="M513.3 200l2.2 .9 2.1-1.1-2.2-.9z" fill="#c9ff00"/><path d="M515.2 199.2l2.1 .8 2.1-1.1-2.1-.9z" fill="#b4ff00"/><path d="M517 198.3l2.2 .9 2.1-1.2-2.2-.8z" fill="#9dff00"/><path d="M518.9 197.4l2.1 .9 2.1-1.1-2.2-.9z" fill="#85ff00"/><path d="M520.7 196.6l2.1 .8 2.1-1.1-2.1-.9z" fill="#6fff00"/><path d="M522.5 195.7l2 .8 4.9-2.4-2-.7z" fill="#5dff00"/><path d="M527 193.6l2 .8 4.8-2.4-1.9-.7z" fill="#4bff00"/><path d="M531.5 191.5l1.9 .7 4.8-2.3-1.9-.7z" fill="#3fff00"/><path d="M535.8 189.4l2 .8 4.7-2.3-1.9-.8z" fill="#33ff00"/><path d="M540.2 187.4l1.9 .7 4.7-2.3-2-.7z" fill="#23ff00"/><path d="M544.4 185.4l2 .7 4.6-2.3-2-.7z" fill="#0eff00"/><path d="M548.6 183.4l2 .7 4.5-2.2-1.9-.7z" fill="#00ff15"/><path d="M552.8 181.4l1.9 .7 4.5-2.2-1.9-.7z" fill="#00ff46"/><path d="M556.9 179.5l1.9 .7 4.5-2.2-2-.7z" fill="#00ff68"/><path d="M560.9 177.6l1.9 .7 4.4-2.2-1.9-.7z" fill="#00ff7f"/><path d="M564.9 175.7l1.9 .7 4.4-2.1-2-.7z" fill="#00ff92"/><path d="M568.8 173.8l2 .7 4.2-2.1-1.9-.7z" fill="#00ffa7"/><path d="M572.7 172l1.9 .7 4.3-2.1-2-.7z" fill="#00ffc2"/><path d="M576.5 170.2l2 .6 4.1-2-1.9-.7z" fill="#00ffe2"/><path d="M580.3 168.4l1.9 .6 4.2-2-1.9-.6z" fill="#00fcff"/><path d="M584.1 166.6l1.9 .7 4.1-2-2-.7z" fill="#00eeff"/><path d="M486 214.6l2.1 .9 2.3-1.2-2.1-.9z" fill="#aeff00"/><path d="M488 213.6l2.2 1 2.3-1.3-2.2-.9z" fill="#cbff00"/><path d="M490 212.7l2.2 .9 2.3-1.2-2.2-.9z" fill="#e1ff00"/><path d="M492 211.7l2.2 1 2.2-1.3-2.1-.9z" fill="#f0ff00"/><path d="M494 210.8l2.2 .9 2.2-1.2-2.1-.9z" fill="#f9ff00"/><path d="M496 209.8l2.2 1 2.2-1.3-2.2-.9z" fill="#fbff00"/><path d="M498 208.9l2.1 .9 2.3-1.2-2.2-.9z" fill="#faff00"/><path d="M499.9 208l2.2 .9 2.2-1.2-2.2-.9z" fill="#f8ff00"/><path d="M501.9 207l2.2 .9 2.1-1.1-2.1-1z" fill="#f5ff00"/><path d="M503.8 206.1l2.2 .9 2.2-1.2-2.2-.9z" fill="#f1ff00"/><path d="M505.7 205.2l2.2 .9 2.2-1.2-2.2-.9z" fill="#ecff00"/><path d="M507.7 204.3l2.1 .9 2.2-1.2-2.2-.9z" fill="#e4ff00"/><path d="M509.6 203.4l2.1 .9 2.2-1.2-2.2-.9z" fill="#d8ff00"/><path d="M511.5 202.5l2.1 .9 2.1-1.2-2.1-.9z" fill="#caff00"/><path d="M513.3 201.6l2.2 .9 2.1-1.2-2.1-.9z" fill="#baff00"/><path d="M515.2 200.7l2.2 .9 2.1-1.2-2.2-.9z" fill="#a8ff00"/><path d="M517.1 199.8l2.1 .9 2.1-1.2-2.1-.8z" fill="#95ff00"/><path d="M518.9 198.9l2.2 .9 2.1-1.1-2.2-.9z" fill="#7cff00"/><path d="M520.8 198.1l2.1 .8 2.1-1.1-2.2-.9z" fill="#64ff00"/><path d="M522.6 197.2l2.2 .9 2-1.2-2.2-.8z" fill="#51ff00"/><path d="M524.4 196.4l2 .7 4.9-2.4-2-.7z" fill="#40ff00"/><path d="M528.9 194.2l2 .8 4.8-2.4-1.9-.7z" fill="#31ff00"/><path d="M533.3 192.1l2 .8 4.8-2.4-2-.7z" fill="#26ff00"/><path d="M537.7 190l2 .8 4.7-2.3-1.9-.8z" fill="#1bff00"/><path d="M542 188l2 .7 4.7-2.3-2-.7z" fill="#0bff00"/><path d="M546.3 186l2 .7 4.6-2.3-2-.7z" fill="#00ff16"/><path d="M550.5 184l2 .7 4.5-2.3-1.9-.7z" fill="#00ff4b"/><path d="M554.6 182l2 .7 4.5-2.2-2-.7z" fill="#00ff78"/><path d="M558.7 180l2 .7 4.4-2.1-1.9-.7z" fill="#00ff96"/><path d="M562.8 178.1l1.9 .7 4.4-2.1-1.9-.7z" fill="#00ffab"/><path d="M566.7 176.2l2 .7 4.3-2.1-1.9-.7z" fill="#00ffbc"/><path d="M570.7 174.4l1.9 .6 4.3-2.1-1.9-.6z" fill="#00ffce"/><path d="M574.5 172.5l2 .7 4.2-2.1-1.9-.6z" fill="#00ffe2"/><path d="M578.4 170.7l1.9 .7 4.2-2.1-1.9-.6z" fill="#00fff9"/><path d="M582.2 168.9l1.9 .7 4.1-2.1-1.9-.6z" fill="#00f9ff"/><path d="M585.9 167.1l1.9 .7 4.1-2-1.9-.7z" fill="#00f0ff"/><path d="M487.9 215.3l2.2 1 2.3-1.3-2.2-.9z" fill="#a8ff00"/><path d="M489.9 214.3l2.2 1 2.3-1.3-2.2-.9z" fill="#bcff00"/><path d="M492 213.4l2.1 .9 2.3-1.2-2.2-.9z" fill="#ccff00"/><path d="M494 212.4l2.1 1 2.3-1.3-2.2-.9z" fill="#d6ff00"/><path d="M495.9 211.5l2.2 .9 2.3-1.2-2.2-.9z" fill="#dcff00"/><path d="M497.9 210.5l2.2 .9 2.2-1.2-2.1-.9z" fill="#ddff00"/><path d="M499.9 209.6l2.2 .9 2.2-1.2-2.2-.9z" fill="#dbff00"/><path d="M501.9 208.6l2.1 1 2.2-1.2-2.1-1z" fill="#d9ff00"/><path d="M503.8 207.7l2.2 .9 2.2-1.2-2.2-.9z" fill="#d6ff00"/><path d="M505.7 206.8l2.2 .9 2.2-1.2-2.2-.9z" fill="#d2ff00"/><path d="M507.7 205.9l2.1 .9 2.2-1.2-2.2-.9z" fill="#ccff00"/><path d="M509.6 205l2.2 .9 2.1-1.2-2.2-.9z" fill="#c4ff00"/><path d="M511.5 204l2.2 .9 2.1-1.1-2.2-.9z" fill="#b7ff00"/><path d="M513.4 203.1l2.1 .9 2.2-1.1-2.2-.9z" fill="#a8ff00"/><path d="M515.2 202.2l2.2 .9 2.1-1.1-2.1-.9z" fill="#99ff00"/><path d="M517.1 201.3l2.2 .9 2.1-1.1-2.2-.9z" fill="#88ff00"/><path d="M519 200.5l2.2 .8 2-1.1-2.1-.9z" fill="#72ff00"/><path d="M520.8 199.6l2.2 .9 2.1-1.2-2.2-.9z" fill="#5bff00"/><path d="M522.7 198.7l2.1 .9 2.1-1.2-2.2-.8z" fill="#46ff00"/><path d="M524.5 197.8l2.2 .9 2-1.1-2.2-.9z" fill="#36ff00"/><path d="M526.3 197l2 .8 4.9-2.4-2-.8z" fill="#28ff00"/><path d="M530.8 194.8l2 .8 4.8-2.4-1.9-.7z" fill="#19ff00"/><path d="M535.2 192.7l2 .8 4.8-2.4-2-.7z" fill="#0fff00"/><path d="M539.6 190.6l2 .8 4.7-2.3-2-.8z" fill="#04ff00"/><path d="M543.9 188.6l2 .7 4.7-2.3-2-.7z" fill="#00ff1b"/><path d="M548.2 186.5l1.9 .8 4.6-2.3-1.9-.7z" fill="#00ff49"/><path d="M552.4 184.5l1.9 .8 4.6-2.3-2-.7z" fill="#00ff79"/><path d="M556.5 182.6l2 .7 4.5-2.2-2-.7z" fill="#00ffa1"/><path d="M560.6 180.6l1.9 .7 4.5-2.2-2-.7z" fill="#00ffbe"/><path d="M564.6 178.7l2 .7 4.4-2.2-2-.7z" fill="#00ffd3"/><path d="M568.6 176.8l1.9 .7 4.4-2.2-2-.6z" fill="#00ffe4"/><path d="M572.5 174.9l2 .7 4.2-2.1-1.9-.7z" fill="#00fff4"/><path d="M576.4 173.1l1.9 .6 4.3-2-2-.7z" fill="#00feff"/><path d="M580.2 171.2l2 .7 4.1-2.1-1.9-.6z" fill="#00f9ff"/><path d="M584 169.4l1.9 .7 4.1-2-1.9-.7z" fill="#00f5ff"/><path d="M587.7 167.6l1.9 .7 4.1-2-1.9-.7z" fill="#00f1ff"/><path d="M489.8 216l2.2 1 2.3-1.3-2.2-.9z" fill="#a1ff00"/><path d="M491.9 215l2.2 1 2.2-1.2-2.2-1z" fill="#acff00"/><path d="M493.9 214.1l2.2 .9 2.2-1.2-2.2-.9z" fill="#b5ff00"/><path d="M495.9 213.1l2.2 1 2.2-1.3-2.2-.9z" fill="#bbff00"/><path d="M497.9 212.2l2.2 .9 2.2-1.2-2.2-1z" fill="#beff00"/><path d="M499.9 211.2l2.1 .9 2.3-1.2-2.2-.9z" fill="#beff00"/><path d="M501.8 210.3l2.2 .9 2.2-1.2-2.2-.9z" fill="#bdff00"/><path d="M503.8 209.3l2.2 .9 2.2-1.2-2.2-.9z" fill="#b9ff00"/><path d="M505.7 208.4l2.2 .9 2.2-1.2-2.2-.9z" fill="#b5ff00"/><path d="M507.7 207.5l2.1 .9 2.2-1.2-2.2-.9z" fill="#b0ff00"/><path d="M509.6 206.5l2.2 .9 2.1-1.1-2.2-.9z" fill="#a9ff00"/><path d="M511.5 205.6l2.2 .9 2.1-1.2-2.2-.9z" fill="#a0ff00"/><path d="M513.4 204.7l2.2 .9 2.1-1.2-2.2-.9z" fill="#95ff00"/><path d="M515.3 203.8l2.2 .9 2.1-1.2-2.2-.9z" fill="#86ff00"/><path d="M517.2 202.9l2.2 .9 2.1-1.2-2.2-.9z" fill="#75ff00"/><path d="M519 202l2.2 .9 2.1-1.2-2.2-.9z" fill="#64ff00"/><path d="M520.9 201.1l2.2 .9 2.1-1.2-2.2-.8z" fill="#52ff00"/><path d="M522.7 200.2l2.2 .9 2.1-1.1-2.2-.9z" fill="#3eff00"/><path d="M524.6 199.3l2.2 .9 2-1.1-2.2-.9z" fill="#2dff00"/><path d="M526.4 198.5l2.2 .8 2-1.1-2.2-.9z" fill="#20ff00"/><path d="M528.2 197.6l2 .8 4.9-2.4-2-.8z" fill="#12ff00"/><path d="M532.7 195.5l2 .7 4.8-2.3-1.9-.8z" fill="#05ff00"/><path d="M537.1 193.3l2 .8 4.8-2.4-2-.7z" fill="#00ff0f"/><path d="M541.5 191.2l2 .8 4.7-2.3-2-.8z" fill="#00ff2b"/><path d="M545.8 189.2l2 .7 4.6-2.3-1.9-.7z" fill="#00ff4d"/><path d="M550.1 187.1l1.9 .8 4.6-2.3-1.9-.7z" fill="#00ff76"/><path d="M554.3 185.1l1.9 .7 4.6-2.2-2-.7z" fill="#00ffa1"/><path d="M558.4 183.1l2 .8 4.4-2.3-1.9-.7z" fill="#00ffc5"/><path d="M562.5 181.2l1.9 .7 4.5-2.2-2-.7z" fill="#00ffe1"/><path d="M566.5 179.2l2 .7 4.3-2.1-1.9-.7z" fill="#00fff8"/><path d="M570.5 177.3l1.9 .7 4.3-2.1-1.9-.7z" fill="#00fbff"/><path d="M574.4 175.5l1.9 .6 4.3-2.1-1.9-.7z" fill="#00f6ff"/><path d="M578.3 173.6l1.9 .7 4.2-2.1-1.9-.7z" fill="#00f4ff"/><path d="M582.1 171.8l1.9 .6 4.2-2-2-.7z" fill="#00f2ff"/><path d="M585.8 170l2 .6 4.1-2-1.9-.7z" fill="#00f1ff"/><path d="M589.6 168.2l1.9 .6 4.1-2-2-.6z" fill="#00f2ff"/><path d="M491.8 216.7l3.3 1.3 2.1-1.2-3.2-1.3z" fill="#99ff00"/><path d="M493.8 215.7l3.3 1.3 2.2-1.2-3.3-1.3z" fill="#9aff00"/><path d="M495.8 214.8l3.3 1.3 2.2-1.2-3.3-1.3z" fill="#9aff00"/><path d="M497.8 213.8l3.3 1.3 2.1-1.2-3.2-1.3z" fill="#99ff00"/><path d="M499.8 212.8l3.3 1.3 2.1-1.2-3.3-1.2z" fill="#97ff00"/><path d="M501.8 211.9l3.3 1.3 2.1-1.2-3.3-1.3z" fill="#95ff00"/><path d="M503.8 210.9l3.2 1.3 2.1-1.2-3.2-1.2z" fill="#92ff00"/><path d="M505.7 210l3.3 1.3 2.1-1.2-3.3-1.3z" fill="#8eff00"/><path d="M507.7 209.1l3.2 1.2 2.1-1.1-3.3-1.3z" fill="#88ff00"/><path d="M509.6 208.1l3.3 1.3 2-1.2-3.2-1.2z" fill="#81ff00"/><path d="M511.5 207.2l3.3 1.2 2-1.1-3.2-1.2z" fill="#79ff00"/><path d="M513.4 206.3l3.3 1.2 2-1.1-3.2-1.3z" fill="#70ff00"/><path d="M515.3 205.4l3.3 1.2 2-1.1-3.3-1.3z" fill="#64ff00"/><path d="M517.2 204.4l3.3 1.3 2-1.2-3.3-1.2z" fill="#57ff00"/><path d="M519.1 203.5l3.3 1.3 2-1.2-3.3-1.2z" fill="#4aff00"/><path d="M521 202.6l3.2 1.2 2-1.1-3.3-1.2z" fill="#3dff00"/><path d="M522.8 201.7l3.3 1.2 2-1.1-3.3-1.2z" fill="#2fff00"/><path d="M524.7 200.9l3.2 1.2 2-1.2-3.3-1.1z" fill="#21ff00"/><path d="M526.5 200l3.3 1.2 1.9-1.1-3.3-1.2z" fill="#13ff00"/><path d="M528.3 199.1l3.3 1.2 1.9-1.1-3.2-1.2z" fill="#08ff00"/><path d="M530.1 198.3l3.1 1.1 4.8-2.4-3-1.2z" fill="#00ff0a"/><path d="M534.6 196.1l3 1.1 4.8-2.4-3-1.1z" fill="#00ff2b"/><path d="M539 194l3.1 1.1 4.7-2.4-3-1.1z" fill="#00ff45"/><path d="M543.4 191.8l3 1.2 4.7-2.4-3-1.1z" fill="#00ff5f"/><path d="M547.7 189.8l3 1.1 4.6-2.4-3-1z" fill="#00ff7f"/><path d="M552 187.7l3 1.1 4.5-2.3-3-1.1z" fill="#00ffa5"/><path d="M556.1 185.7l3 1.1 4.5-2.3-3-1.1z" fill="#00ffcc"/><path d="M560.3 183.7l3 1.1 4.4-2.3-3-1z" fill="#00ffee"/><path d="M564.3 181.7l3 1.1 4.4-2.2-3-1.1z" fill="#00fbff"/><path d="M568.4 179.8l2.9 1 4.3-2.2-2.9-1z" fill="#00f3ff"/><path d="M572.3 177.9l3 1 4.3-2.2-3-1z" fill="#00ebff"/><path d="M576.2 176l3 1 4.2-2.1-3-1z" fill="#00e7ff"/><path d="M580.1 174.1l3 1 4.1-2.1-2.9-1z" fill="#00e6ff"/><path d="M583.9 172.3l3 1 4.1-2.1-3-1z" fill="#00e7ff"/><path d="M587.7 170.5l2.9 1 4.1-2.1-3-1z" fill="#00e9ff"/><path d="M591.4 168.7l2.9 1 4-2.1-2.9-1z" fill="#00edff"/><path d="M494.7 217.8l3.3 1.3 2.2-1.2-3.3-1.3z" fill="#85ff00"/><path d="M496.7 216.8l3.4 1.3 2.1-1.2-3.3-1.3z" fill="#7aff00"/><path d="M498.8 215.8l3.3 1.3 2.1-1.2-3.3-1.3z" fill="#70ff00"/><path d="M500.8 214.9l3.3 1.3 2.1-1.2-3.3-1.3z" fill="#67ff00"/><path d="M502.7 213.9l3.4 1.3 2.1-1.2-3.3-1.3z" fill="#5fff00"/><path d="M504.7 212.9l3.3 1.3 2.1-1.2-3.3-1.2z" fill="#58ff00"/><path d="M506.7 212l3.3 1.3 2.1-1.2-3.3-1.3z" fill="#52ff00"/><path d="M508.6 211l3.3 1.3 2.1-1.2-3.3-1.2z" fill="#4cff00"/><path d="M510.6 210.1l3.3 1.3 2-1.2-3.3-1.3z" fill="#47ff00"/><path d="M512.5 209.1l3.3 1.3 2.1-1.2-3.3-1.2z" fill="#41ff00"/><path d="M514.4 208.2l3.3 1.3 2.1-1.2-3.3-1.2z" fill="#3bff00"/><path d="M516.3 207.3l3.3 1.2 2.1-1.1-3.3-1.3z" fill="#35ff00"/><path d="M518.2 206.4l3.3 1.2 2-1.1-3.2-1.3z" fill="#2fff00"/><path d="M520.1 205.4l3.3 1.3 2-1.2-3.3-1.2z" fill="#28ff00"/><path d="M522 204.5l3.3 1.3 2-1.2-3.3-1.2z" fill="#21ff00"/><path d="M523.9 203.6l3.2 1.2 2-1.1-3.3-1.2z" fill="#18ff00"/><path d="M525.7 202.7l3.3 1.2 2-1.1-3.3-1.2z" fill="#0eff00"/><path d="M527.6 201.8l3.2 1.2 2-1.1-3.3-1.2z" fill="#02ff00"/><path d="M529.4 200.9l3.3 1.2 1.9-1.1-3.3-1.2z" fill="#00ff16"/><path d="M531.2 200.1l3.3 1.1 1.9-1.1-3.3-1.1z" fill="#00ff2e"/><path d="M533 199.2l3.1 1.2 4.8-2.5-3-1.1z" fill="#00ff48"/><path d="M537.5 197l3 1.2 4.8-2.5-3-1.1z" fill="#00ff64"/><path d="M541.9 194.9l3.1 1.1 4.7-2.4-3.1-1.1z" fill="#00ff7b"/><path d="M546.3 192.8l3 1.1 4.6-2.4-3-1.1z" fill="#00ff92"/><path d="M550.6 190.7l3 1.1 4.6-2.4-3-1.1z" fill="#00ffb0"/><path d="M554.8 188.6l3 1.1 4.5-2.3-3-1.1z" fill="#00ffd6"/><path d="M559 186.6l3 1.1 4.5-2.3-3-1.1z" fill="#00fffe"/><path d="M563.1 184.6l3 1 4.4-2.2-3-1.1z" fill="#00f3ff"/><path d="M567.2 182.6l3 1.1 4.3-2.3-3-1z" fill="#00eaff"/><path d="M571.2 180.6l3 1.1 4.3-2.2-3-1.1z" fill="#00e1ff"/><path d="M575.2 178.7l2.9 1.1 4.3-2.2-3-1.1z" fill="#00d9ff"/><path d="M579.1 176.8l2.9 1 4.2-2.1-3-1z" fill="#00d5ff"/><path d="M582.9 174.9l3 1.1 4.1-2.2-2.9-1z" fill="#00d4ff"/><path d="M586.7 173.1l3 1 4.1-2.1-3-1z" fill="#00d5ff"/><path d="M590.5 171.3l2.9 1 4.1-2.1-3-1z" fill="#00d7ff"/><path d="M594.2 169.5l2.9 .9 4-2-2.9-1z" fill="#00daff"/><path d="M497.7 218.9l3.3 1.3 2.2-1.2-3.4-1.3z" fill="#2bff00"/><path d="M499.7 217.9l3.3 1.3 2.2-1.2-3.3-1.3z" fill="#2bff00"/><path d="M501.7 216.9l3.3 1.3 2.2-1.2-3.3-1.3z" fill="#2aff00"/><path d="M503.7 215.9l3.3 1.3 2.2-1.2-3.4-1.3z" fill="#28ff00"/><path d="M505.7 215l3.3 1.3 2.1-1.2-3.3-1.3z" fill="#25ff00"/><path d="M507.7 214l3.3 1.3 2.1-1.2-3.3-1.3z" fill="#21ff00"/><path d="M509.6 213l3.4 1.3 2-1.2-3.3-1.2z" fill="#1cff00"/><path d="M511.6 212.1l3.3 1.3 2.1-1.2-3.3-1.3z" fill="#16ff00"/><path d="M513.5 211.1l3.3 1.3 2.1-1.2-3.3-1.2z" fill="#10ff00"/><path d="M515.4 210.2l3.4 1.2 2-1.1-3.3-1.3z" fill="#0bff00"/><path d="M517.4 209.2l3.3 1.3 2-1.2-3.3-1.2z" fill="#08ff00"/><path d="M519.3 208.3l3.3 1.3 2-1.2-3.3-1.2z" fill="#05ff00"/><path d="M521.2 207.4l3.3 1.2 2-1.1-3.3-1.3z" fill="#03ff00"/><path d="M523 206.5l3.4 1.2 2-1.1-3.4-1.3z" fill="#00ff00"/><path d="M524.9 205.5l3.3 1.3 2-1.2-3.3-1.2z" fill="#00ff06"/><path d="M526.8 204.6l3.3 1.2 2-1.1-3.3-1.2z" fill="#00ff13"/><path d="M528.6 203.7l3.3 1.2 2-1.1-3.3-1.2z" fill="#00ff28"/><path d="M530.5 202.8l3.3 1.2 1.9-1.1-3.3-1.2z" fill="#00ff44"/><path d="M532.3 201.9l3.3 1.2 1.9-1.1-3.3-1.2z" fill="#00ff61"/><path d="M534.1 201l3.3 1.2 1.9-1.1-3.3-1.2z" fill="#00ff78"/><path d="M535.9 200.2l3.1 1.1 4.8-2.4-3-1.2z" fill="#00ff8e"/><path d="M540.4 198l3.1 1.1 4.7-2.4-3-1.1z" fill="#00ffa2"/><path d="M544.8 195.8l3.1 1.2 4.7-2.5-3.1-1.1z" fill="#00ffb3"/><path d="M549.2 193.7l3 1.1 4.6-2.4-3-1.1z" fill="#00ffc5"/><path d="M553.5 191.6l3 1.1 4.6-2.4-3.1-1.1z" fill="#00ffe1"/><path d="M557.7 189.5l3 1.1 4.5-2.3-3-1.1z" fill="#00fcff"/><path d="M561.9 187.5l3 1.1 4.4-2.3-3-1.1z" fill="#00ecff"/><path d="M566 185.5l3 1 4.4-2.2-3-1.1z" fill="#00dfff"/><path d="M570 183.5l3.1 1 4.3-2.2-3-1.1z" fill="#00d5ff"/><path d="M574 181.5l3.1 1 4.2-2.2-3-1z" fill="#00cdff"/><path d="M578 179.6l3 1 4.2-2.2-3-1z" fill="#00c7ff"/><path d="M581.9 177.6l3 1.1 4.2-2.2-3-1z" fill="#00c2ff"/><path d="M585.7 175.8l3 1 4.2-2.2-3-1z" fill="#00bfff"/><path d="M589.5 173.9l3 1 4.1-2.1-3-1z" fill="#00bcff"/><path d="M593.3 172.1l3 1 4-2.1-3-1z" fill="#00b9ff"/><path d="M597 170.2l3 1 3.9-2-2.9-1z" fill="#00b7ff"/><path d="M500.7 220l3.3 1.3 2.2-1.2-3.4-1.3z" fill="#00ff8b"/><path d="M502.7 219l3.3 1.3 2.2-1.2-3.4-1.3z" fill="#00ff6a"/><path d="M504.7 218l3.3 1.3 2.2-1.2-3.4-1.3z" fill="#00ff50"/><path d="M506.7 217l3.3 1.3 2.1-1.2-3.3-1.3z" fill="#00ff3d"/><path d="M508.7 216l3.3 1.3 2.1-1.2-3.3-1.3z" fill="#00ff33"/><path d="M510.6 215.1l3.4 1.3 2.1-1.2-3.4-1.3z" fill="#00ff33"/><path d="M512.6 214.1l3.3 1.3 2.1-1.2-3.3-1.3z" fill="#00ff3c"/><path d="M514.5 213.1l3.4 1.3 2-1.2-3.3-1.2z" fill="#00ff49"/><path d="M516.5 212.2l3.3 1.2 2.1-1.1-3.4-1.3z" fill="#00ff57"/><path d="M518.4 211.2l3.3 1.3 2.1-1.2-3.4-1.2z" fill="#00ff61"/><path d="M520.3 210.3l3.4 1.2 2-1.1-3.4-1.3z" fill="#00ff64"/><path d="M522.2 209.3l3.4 1.3 2-1.2-3.4-1.2z" fill="#00ff63"/><path d="M524.1 208.4l3.3 1.2 2-1.1-3.3-1.2z" fill="#00ff61"/><path d="M526 207.5l3.3 1.2 2-1.1-3.3-1.3z" fill="#00ff5f"/><path d="M527.9 206.5l3.3 1.3 2-1.2-3.4-1.2z" fill="#00ff5f"/><path d="M529.7 205.6l3.3 1.3 2-1.2-3.3-1.2z" fill="#00ff66"/><path d="M531.6 204.7l3.3 1.2 1.9-1.1-3.3-1.2z" fill="#00ff7b"/><path d="M533.4 203.8l3.3 1.2 2-1.1-3.4-1.2z" fill="#00ff9b"/><path d="M535.2 202.9l3.4 1.2 1.9-1.1-3.3-1.2z" fill="#00ffbd"/><path d="M537 202l3.4 1.2 1.9-1.1-3.3-1.2z" fill="#00ffd6"/><path d="M538.8 201.2l3.1 1.1 4.8-2.5-3-1.1z" fill="#00ffe8"/><path d="M543.3 199l3.1 1.1 4.7-2.5-3-1.1z" fill="#00fff5"/><path d="M547.7 196.8l3.1 1.1 4.7-2.4-3.1-1.1z" fill="#00ffff"/><path d="M552.1 194.6l3 1.2 4.7-2.4-3.1-1.2z" fill="#00fbff"/><path d="M556.3 192.5l3.1 1.1 4.6-2.3-3.1-1.1z" fill="#00f3ff"/><path d="M560.6 190.4l3 1.1 4.5-2.3-3-1.1z" fill="#00e6ff"/><path d="M564.7 188.4l3.1 1.1 4.4-2.4-3-1z" fill="#00d6ff"/><path d="M568.8 186.3l3.1 1.1 4.4-2.3-3.1-1z" fill="#00c7ff"/><path d="M572.9 184.3l3 1.1 4.4-2.3-3.1-1z" fill="#00bdff"/><path d="M576.9 182.4l3 1 4.3-2.2-3-1.1z" fill="#00b6ff"/><path d="M580.8 180.4l3.1 1.1 4.2-2.3-3-1z" fill="#00afff"/><path d="M584.7 178.5l3.1 1 4.1-2.2-3-1z" fill="#00a9ff"/><path d="M588.6 176.6l3 1 4.1-2.1-3-1.1z" fill="#00a3ff"/><path d="M592.4 174.7l3 1 4-2.1-3-1z" fill="#009bff"/><path d="M596.1 172.9l3 1 4-2.1-3-1z" fill="#0092ff"/><path d="M599.8 171l3 1 4-2.1-3-.9z" fill="#0089ff"/><path d="M503.6 221.1l3.4 1.3 2.2-1.2-3.4-1.3z" fill="#00faff"/><path d="M505.7 220.1l3.3 1.3 2.2-1.2-3.4-1.3z" fill="#00fff4"/><path d="M507.7 219.1l3.3 1.3 2.2-1.2-3.4-1.3z" fill="#00ffde"/><path d="M509.7 218.1l3.3 1.3 2.1-1.2-3.3-1.3z" fill="#00ffce"/><path d="M511.6 217.1l3.4 1.3 2.1-1.2-3.4-1.3z" fill="#00ffc5"/><path d="M513.6 216.1l3.4 1.3 2.1-1.2-3.4-1.3z" fill="#00ffc3"/><path d="M515.6 215.2l3.3 1.2 2.1-1.1-3.4-1.3z" fill="#00ffc6"/><path d="M517.5 214.2l3.4 1.3 2-1.2-3.3-1.3z" fill="#00ffcb"/><path d="M519.4 213.2l3.4 1.3 2.1-1.2-3.4-1.3z" fill="#00ffd0"/><path d="M521.4 212.3l3.3 1.2 2.1-1.1-3.4-1.3z" fill="#00ffd3"/><path d="M523.3 211.3l3.3 1.3 2.1-1.2-3.4-1.3z" fill="#00ffd3"/><path d="M525.2 210.4l3.3 1.2 2.1-1.1-3.4-1.3z" fill="#00ffd0"/><path d="M527.1 209.4l3.3 1.3 2-1.2-3.3-1.2z" fill="#00ffcc"/><path d="M528.9 208.5l3.4 1.2 2-1.1-3.4-1.3z" fill="#00ffc8"/><path d="M530.8 207.6l3.4 1.2 1.9-1.1-3.3-1.3z" fill="#00ffc5"/><path d="M532.7 206.6l3.3 1.3 2-1.2-3.4-1.2z" fill="#00ffcb"/><path d="M534.5 205.7l3.4 1.2 1.9-1.1-3.3-1.2z" fill="#00ffe2"/><path d="M536.3 204.8l3.4 1.2 1.9-1.1-3.3-1.2z" fill="#00fdff"/><path d="M538.2 203.9l3.3 1.2 2-1.1-3.4-1.2z" fill="#00f0ff"/><path d="M540 203l3.3 1.2 1.9-1.1-3.3-1.2z" fill="#00e7ff"/><path d="M541.8 202.1l3.1 1.2 4.8-2.5-3.1-1.2z" fill="#00e2ff"/><path d="M546.3 199.9l3.1 1.2 4.7-2.5-3.1-1.1z" fill="#00deff"/><path d="M550.7 197.7l3 1.2 4.7-2.5-3.1-1.1z" fill="#00dcff"/><path d="M555 195.6l3.1 1.1 4.6-2.4-3.1-1.1z" fill="#00d9ff"/><path d="M559.3 193.4l3 1.2 4.6-2.4-3.1-1.1z" fill="#00d3ff"/><path d="M563.5 191.3l3.1 1.1 4.4-2.3-3-1.1z" fill="#00c8ff"/><path d="M567.6 189.3l3.1 1.1 4.4-2.4-3-1z" fill="#00baff"/><path d="M571.7 187.2l3.1 1.1 4.4-2.3-3.1-1.1z" fill="#00acff"/><path d="M575.8 185.2l3 1.1 4.4-2.3-3.1-1.1z" fill="#00a2ff"/><path d="M579.8 183.2l3 1.1 4.3-2.3-3.1-1z" fill="#009aff"/><path d="M583.7 181.3l3.1 1 4.2-2.2-3.1-1.1z" fill="#0093ff"/><path d="M587.6 179.3l3 1.1 4.2-2.2-3-1.1z" fill="#008bff"/><path d="M591.4 177.4l3.1 1 4.1-2.1-3.1-1z" fill="#0083ff"/><path d="M595.2 175.5l3 1.1 4.1-2.2-3-1z" fill="#007aff"/><path d="M598.9 173.7l3.1 1 4-2.1-3.1-1z" fill="#0070ff"/><path d="M602.6 171.8l3 1 4-2.1-3-1z" fill="#0066ff"/><path d="M506.7 222.2l3.4 1.3 2.1-1.2-3.4-1.3z" fill="#00d6ff"/><path d="M508.7 221.2l3.4 1.3 2.1-1.2-3.4-1.3z" fill="#00daff"/><path d="M510.7 220.2l3.4 1.3 2.1-1.2-3.4-1.3z" fill="#00ddff"/><path d="M512.7 219.2l3.4 1.3 2.1-1.2-3.4-1.3z" fill="#00e0ff"/><path d="M514.6 218.2l3.4 1.3 2.1-1.2-3.4-1.3z" fill="#00e2ff"/><path d="M516.6 217.2l3.4 1.3 2.1-1.2-3.4-1.3z" fill="#00e3ff"/><path d="M518.6 216.2l3.4 1.3 2-1.2-3.4-1.3z" fill="#00e5ff"/><path d="M520.5 215.2l3.4 1.3 2.1-1.1-3.4-1.3z" fill="#00e7ff"/><path d="M522.4 214.3l3.4 1.3 2.1-1.2-3.4-1.3z" fill="#00e9ff"/><path d="M524.4 213.3l3.3 1.3 2.1-1.2-3.4-1.3z" fill="#00eaff"/><path d="M526.3 212.4l3.4 1.2 2-1.1-3.4-1.3z" fill="#00ebff"/><path d="M528.2 211.4l3.3 1.3 2.1-1.2-3.4-1.3z" fill="#00ebff"/><path d="M530.1 210.5l3.3 1.2 2-1.1-3.3-1.3z" fill="#00ebff"/><path d="M531.9 209.5l3.4 1.3 2-1.2-3.4-1.2z" fill="#00ebff"/><path d="M533.8 208.6l3.4 1.2 1.9-1.1-3.3-1.3z" fill="#00ebff"/><path d="M535.6 207.6l3.4 1.3 2-1.2-3.4-1.2z" fill="#00e8ff"/><path d="M537.5 206.7l3.4 1.3 1.9-1.2-3.4-1.2z" fill="#00e1ff"/><path d="M539.3 205.8l3.4 1.2 1.9-1.1-3.3-1.2z" fill="#00d7ff"/><path d="M541.1 204.9l3.4 1.2 1.9-1.1-3.3-1.2z" fill="#00ccff"/><path d="M543 204l3.3 1.2 1.9-1.1-3.3-1.2z" fill="#00c3ff"/><path d="M544.8 203.1l3.1 1.2 4.8-2.5-3.1-1.2z" fill="#00bdff"/><path d="M549.2 200.9l3.1 1.2 4.8-2.5-3.2-1.2z" fill="#00b8ff"/><path d="M553.6 198.7l3.1 1.1 4.7-2.4-3.1-1.2z" fill="#00b4ff"/><path d="M557.9 196.5l3.1 1.2 4.6-2.5-3.1-1.1z" fill="#00b0ff"/><path d="M562.2 194.4l3.1 1.1 4.5-2.4-3.1-1.1z" fill="#00aaff"/><path d="M566.4 192.3l3.1 1.1 4.5-2.4-3.1-1.1z" fill="#00a2ff"/><path d="M570.6 190.2l3 1.1 4.5-2.4-3.1-1.1z" fill="#0098ff"/><path d="M574.6 188.1l3.1 1.1 4.4-2.3-3.1-1.1z" fill="#008dff"/><path d="M578.7 186.1l3.1 1.1 4.3-2.3-3.1-1.1z" fill="#0085ff"/><path d="M582.7 184.1l3 1.1 4.3-2.3-3.1-1.1z" fill="#007dff"/><path d="M586.6 182.1l3.1 1.1 4.2-2.3-3.1-1z" fill="#0076ff"/><path d="M590.5 180.2l3 1 4.2-2.2-3.1-1z" fill="#006fff"/><path d="M594.3 178.3l3.1 1 4-2.2-3-1z" fill="#0068ff"/><path d="M598.1 176.4l3 1 4.1-2.2-3.1-1z" fill="#0061ff"/><path d="M601.8 174.5l3 1 4-2.1-3-1z" fill="#005aff"/><path d="M605.5 172.6l3 1 4-2.1-3.1-1z" fill="#0053ff"/><path d="M509.7 223.3l3.4 1.4 2.2-1.3-3.5-1.3z" fill="#00b3ff"/><path d="M511.7 222.3l3.4 1.3 2.2-1.2-3.5-1.3z" fill="#00b4ff"/><path d="M513.7 221.3l3.4 1.3 2.1-1.2-3.4-1.3z" fill="#00b4ff"/><path d="M515.7 220.3l3.4 1.3 2.1-1.2-3.4-1.3z" fill="#00b5ff"/><path d="M517.7 219.3l3.4 1.3 2.1-1.2-3.4-1.3z" fill="#00b6ff"/><path d="M519.6 218.3l3.4 1.3 2.1-1.2-3.4-1.3z" fill="#00b8ff"/><path d="M521.6 217.3l3.4 1.3 2.1-1.2-3.4-1.3z" fill="#00bcff"/><path d="M523.5 216.3l3.4 1.3 2.1-1.2-3.4-1.3z" fill="#00c1ff"/><path d="M525.5 215.3l3.4 1.3 2-1.2-3.4-1.2z" fill="#00c6ff"/><path d="M527.4 214.4l3.4 1.3 2-1.2-3.4-1.3z" fill="#00c9ff"/><path d="M529.3 213.4l3.4 1.3 2-1.2-3.4-1.3z" fill="#00c9ff"/><path d="M531.2 212.4l3.4 1.3 2-1.1-3.4-1.3z" fill="#00c9ff"/><path d="M533.1 211.5l3.4 1.3 1.9-1.2-3.3-1.3z" fill="#00c7ff"/><path d="M534.9 210.5l3.4 1.3 2-1.1-3.4-1.3z" fill="#00c6ff"/><path d="M536.8 209.6l3.4 1.3 2-1.2-3.4-1.2z" fill="#00c4ff"/><path d="M538.6 208.7l3.4 1.2 2-1.1-3.4-1.3z" fill="#00c1ff"/><path d="M540.5 207.7l3.4 1.3 1.9-1.2-3.4-1.2z" fill="#00bbff"/><path d="M542.3 206.8l3.4 1.2 1.9-1.1-3.4-1.2z" fill="#00b2ff"/><path d="M544.1 205.9l3.4 1.2 1.9-1.1-3.3-1.2z" fill="#00a9ff"/><path d="M545.9 205l3.4 1.2 1.9-1.1-3.4-1.2z" fill="#00a2ff"/><path d="M547.7 204.1l3.2 1.2 4.8-2.5-3.2-1.2z" fill="#009bff"/><path d="M552.2 201.9l3.1 1.1 4.7-2.5-3.1-1.1z" fill="#0092ff"/><path d="M556.6 199.6l3.1 1.2 4.7-2.5-3.2-1.1z" fill="#008bff"/><path d="M560.9 197.5l3.1 1.1 4.6-2.4-3.1-1.2z" fill="#0086ff"/><path d="M565.1 195.3l3.2 1.1 4.5-2.4-3.1-1.1z" fill="#0080ff"/><path d="M569.3 193.2l3.2 1.1 4.4-2.4-3.1-1.1z" fill="#007bff"/><path d="M573.5 191.1l3.1 1.1 4.4-2.4-3.1-1.1z" fill="#0076ff"/><path d="M577.6 189l3.1 1.1 4.3-2.3-3.1-1.1z" fill="#0072ff"/><path d="M581.6 187l3.1 1.1 4.3-2.3-3.1-1.1z" fill="#006cff"/><path d="M585.6 185l3.1 1 4.2-2.2-3.1-1.1z" fill="#0066ff"/><path d="M589.5 183l3.1 1 4.2-2.2-3.1-1.1z" fill="#0060ff"/><path d="M593.4 181l3.1 1.1 4.1-2.2-3.1-1.1z" fill="#005aff"/><path d="M597.2 179.1l3.1 1 4-2.2-3-1z" fill="#0055ff"/><path d="M601 177.2l3 1 4.1-2.2-3.1-1z" fill="#0050ff"/><path d="M604.7 175.3l3 1 4-2.1-3-1z" fill="#004aff"/><path d="M608.3 173.4l3.1 1.1 3.9-2.2-3-1z" fill="#0046ff"/><path d="M512.7 224.4l3.5 1.4 2.1-1.2-3.4-1.4z" fill="#0086ff"/><path d="M514.8 223.4l3.4 1.4 2.1-1.3-3.4-1.3z" fill="#0087ff"/><path d="M516.8 222.4l3.4 1.3 2.1-1.2-3.4-1.3z" fill="#0087ff"/><path d="M518.7 221.4l3.5 1.3 2.1-1.2-3.4-1.3z" fill="#0088ff"/><path d="M520.7 220.4l3.4 1.3 2.1-1.2-3.4-1.3z" fill="#0089ff"/><path d="M522.7 219.4l3.4 1.3 2.1-1.2-3.4-1.3z" fill="#008bff"/><path d="M524.6 218.4l3.5 1.3 2-1.2-3.4-1.3z" fill="#0091ff"/><path d="M526.6 217.4l3.4 1.3 2-1.2-3.4-1.3z" fill="#0099ff"/><path d="M528.5 216.4l3.4 1.3 2.1-1.2-3.5-1.3z" fill="#00a1ff"/><path d="M530.4 215.4l3.4 1.3 2.1-1.2-3.5-1.2z" fill="#00a5ff"/><path d="M532.3 214.5l3.4 1.3 2-1.2-3.4-1.3z" fill="#00a6ff"/><path d="M534.2 213.5l3.4 1.3 2-1.2-3.4-1.3z" fill="#00a5ff"/><path d="M536.1 212.5l3.4 1.3 2-1.2-3.4-1.2z" fill="#00a3ff"/><path d="M537.9 211.6l3.5 1.3 1.9-1.2-3.4-1.3z" fill="#00a0ff"/><path d="M539.8 210.6l3.4 1.3 2-1.2-3.4-1.2z" fill="#009dff"/><path d="M541.7 209.7l3.4 1.3 1.9-1.2-3.4-1.2z" fill="#0099ff"/><path d="M543.5 208.8l3.4 1.2 1.9-1.1-3.4-1.3z" fill="#0094ff"/><path d="M545.3 207.8l3.4 1.3 2-1.2-3.5-1.2z" fill="#008eff"/><path d="M547.1 206.9l3.4 1.2 2-1.1-3.4-1.2z" fill="#0088ff"/><path d="M548.9 206l3.4 1.2 1.9-1.1-3.4-1.2z" fill="#0082ff"/><path d="M550.7 205.1l3.2 1.2 4.8-2.5-3.2-1.2z" fill="#007bff"/><path d="M555.2 202.9l3.1 1.1 4.7-2.5-3.1-1.2z" fill="#0072ff"/><path d="M559.5 200.6l3.2 1.2 4.7-2.5-3.2-1.2z" fill="#006aff"/><path d="M563.9 198.4l3.1 1.2 4.6-2.5-3.1-1.1z" fill="#0064ff"/><path d="M568.1 196.2l3.2 1.2 4.5-2.4-3.2-1.2z" fill="#0060ff"/><path d="M572.3 194.1l3.1 1.1 4.5-2.4-3.1-1.1z" fill="#005eff"/><path d="M576.4 192l3.2 1.1 4.4-2.4-3.1-1.1z" fill="#005cff"/><path d="M580.5 189.9l3.1 1.1 4.4-2.3-3.1-1.1z" fill="#005aff"/><path d="M584.5 187.9l3.2 1.1 4.2-2.4-3.1-1z" fill="#0057ff"/><path d="M588.5 185.8l3.1 1.1 4.3-2.3-3.2-1z" fill="#0052ff"/><path d="M592.4 183.8l3.1 1.1 4.2-2.2-3.1-1.1z" fill="#004dff"/><path d="M596.3 181.9l3.1 1 4.1-2.2-3.1-1z" fill="#0048ff"/><path d="M600.1 179.9l3.1 1.1 4.1-2.2-3.1-1.1z" fill="#0044ff"/><path d="M603.8 178l3.1 1.1 4.1-2.2-3.1-1.1z" fill="#0040ff"/><path d="M607.6 176.1l3 1.1 4-2.2-3.1-1z" fill="#003dff"/><path d="M611.2 174.3l3.1 1 3.9-2.2-3.1-1z" fill="#003aff"/><path d="M515.8 225.6l3.5 1.3 2.1-1.2-3.4-1.4z" fill="#0054ff"/><path d="M517.8 224.5l3.5 1.4 2.1-1.2-3.4-1.4z" fill="#0055ff"/><path d="M519.8 223.5l3.5 1.4 2.1-1.3-3.5-1.3z" fill="#0057ff"/><path d="M521.8 222.5l3.5 1.3 2.1-1.2-3.5-1.3z" fill="#005aff"/><path d="M523.8 221.5l3.4 1.3 2.1-1.2-3.4-1.3z" fill="#005dff"/><path d="M525.7 220.5l3.5 1.3 2.1-1.2-3.5-1.3z" fill="#0061ff"/><path d="M527.7 219.5l3.4 1.3 2.1-1.2-3.4-1.3z" fill="#0068ff"/><path d="M529.6 218.5l3.5 1.3 2-1.2-3.4-1.3z" fill="#0070ff"/><path d="M531.5 217.5l3.5 1.3 2-1.2-3.4-1.3z" fill="#0078ff"/><path d="M533.5 216.5l3.4 1.3 2-1.2-3.4-1.3z" fill="#007dff"/><path d="M535.4 215.5l3.4 1.3 2-1.2-3.4-1.2z" fill="#007eff"/><path d="M537.2 214.6l3.5 1.3 2-1.2-3.5-1.3z" fill="#007dff"/><path d="M539.1 213.6l3.5 1.3 1.9-1.2-3.4-1.3z" fill="#007bff"/><path d="M541 212.6l3.4 1.3 2-1.2-3.4-1.2z" fill="#0079ff"/><path d="M542.8 211.7l3.5 1.3 1.9-1.2-3.4-1.3z" fill="#0077ff"/><path d="M544.7 210.7l3.4 1.3 2-1.2-3.5-1.2z" fill="#0074ff"/><path d="M546.5 209.8l3.5 1.2 1.9-1.1-3.4-1.3z" fill="#0071ff"/><path d="M548.3 208.9l3.5 1.2 1.9-1.1-3.4-1.3z" fill="#006dff"/><path d="M550.2 207.9l3.4 1.3 1.9-1.2-3.4-1.2z" fill="#006aff"/><path d="M552 207l3.4 1.2 1.9-1.1-3.4-1.2z" fill="#0066ff"/><path d="M553.8 206.1l3.1 1.2 4.8-2.5-3.2-1.2z" fill="#0060ff"/><path d="M558.2 203.8l3.2 1.2 4.7-2.5-3.2-1.2z" fill="#0057ff"/><path d="M562.6 201.6l3.1 1.2 4.7-2.5-3.2-1.2z" fill="#004eff"/><path d="M566.9 199.4l3.1 1.1 4.6-2.4-3.2-1.2z" fill="#0048ff"/><path d="M571.1 197.2l3.2 1.1 4.5-2.4-3.2-1.1z" fill="#0046ff"/><path d="M575.3 195l3.1 1.2 4.5-2.4-3.2-1.2z" fill="#0045ff"/><path d="M579.4 192.9l3.2 1.1 4.4-2.3-3.2-1.1z" fill="#0045ff"/><path d="M583.5 190.8l3.1 1.1 4.4-2.3-3.2-1.1z" fill="#0044ff"/><path d="M587.5 188.8l3.1 1.1 4.3-2.4-3.1-1z" fill="#0042ff"/><path d="M591.5 186.7l3.1 1.1 4.2-2.3-3.1-1.1z" fill="#003fff"/><path d="M595.4 184.7l3.1 1.1 4.2-2.3-3.2-1z" fill="#003bff"/><path d="M599.2 182.7l3.1 1.1 4.1-2.2-3.1-1.1z" fill="#0038ff"/><path d="M603 180.8l3.1 1 4.1-2.2-3.1-1z" fill="#0036ff"/><path d="M606.8 178.9l3.1 1 4-2.2-3.1-1z" fill="#0034ff"/><path d="M610.5 177l3.1 1 3.9-2.2-3.1-1z" fill="#0033ff"/><path d="M614.1 175.1l3.1 1 3.9-2.1-3.1-1.1z" fill="#0032ff"/><path d="M518.9 226.7l3.5 1.4 2.1-1.3-3.4-1.3z" fill="#001eff"/><path d="M520.9 225.7l3.5 1.4 2.1-1.3-3.4-1.4z" fill="#0024ff"/><path d="M522.9 224.6l3.5 1.4 2.1-1.2-3.5-1.4z" fill="#002aff"/><path d="M524.9 223.6l3.5 1.4 2.1-1.3-3.5-1.3z" fill="#0030ff"/><path d="M526.9 222.6l3.4 1.3 2.1-1.2-3.4-1.3z" fill="#0036ff"/><path d="M528.8 221.6l3.5 1.3 2.1-1.2-3.5-1.3z" fill="#003cff"/><path d="M530.8 220.6l3.4 1.3 2.1-1.2-3.5-1.3z" fill="#0044ff"/><path d="M532.7 219.6l3.5 1.3 2-1.2-3.5-1.3z" fill="#004cff"/><path d="M534.6 218.6l3.5 1.3 2-1.2-3.4-1.3z" fill="#0053ff"/><path d="M536.5 217.6l3.5 1.3 2-1.2-3.4-1.3z" fill="#0057ff"/><path d="M538.4 216.6l3.5 1.3 2-1.2-3.5-1.3z" fill="#0058ff"/><path d="M540.3 215.6l3.5 1.3 2-1.2-3.5-1.3z" fill="#0057ff"/><path d="M542.2 214.7l3.4 1.2 2-1.1-3.4-1.3z" fill="#0057ff"/><path d="M544 213.7l3.5 1.3 2-1.2-3.5-1.3z" fill="#0056ff"/><path d="M545.9 212.7l3.5 1.3 1.9-1.2-3.4-1.2z" fill="#0055ff"/><path d="M547.7 211.8l3.5 1.2 1.9-1.1-3.4-1.3z" fill="#0054ff"/><path d="M549.6 210.8l3.4 1.3 2-1.2-3.5-1.2z" fill="#0053ff"/><path d="M551.4 209.9l3.4 1.2 2-1.1-3.5-1.3z" fill="#0052ff"/><path d="M553.2 208.9l3.5 1.3 1.9-1.2-3.5-1.2z" fill="#0051ff"/><path d="M555 208l3.4 1.3 1.9-1.2-3.4-1.2z" fill="#004fff"/><path d="M556.8 207.1l3.2 1.2 4.8-2.5-3.2-1.2z" fill="#004bff"/><path d="M561.2 204.8l3.2 1.2 4.7-2.5-3.2-1.2z" fill="#0043ff"/><path d="M565.6 202.6l3.2 1.2 4.6-2.6-3.2-1.1z" fill="#0039ff"/><path d="M569.9 200.4l3.2 1.1 4.5-2.5-3.2-1.1z" fill="#0032ff"/><path d="M574.1 198.2l3.2 1.1 4.5-2.4-3.2-1.2z" fill="#0030ff"/><path d="M578.3 196l3.2 1.1 4.4-2.4-3.2-1.1z" fill="#0030ff"/><path d="M582.4 193.9l3.2 1.1 4.4-2.4-3.2-1.1z" fill="#0030ff"/><path d="M586.5 191.7l3.1 1.2 4.4-2.4-3.2-1.1z" fill="#0030ff"/><path d="M590.5 189.7l3.1 1.1 4.3-2.4-3.2-1.1z" fill="#0030ff"/><path d="M594.4 187.6l3.2 1.1 4.2-2.3-3.2-1.1z" fill="#002fff"/><path d="M598.3 185.6l3.2 1.1 4.1-2.3-3.1-1.1z" fill="#002dff"/><path d="M602.2 183.6l3.1 1.1 4.1-2.3-3.1-1z" fill="#002cff"/><path d="M606 181.6l3.1 1.1 4-2.2-3.1-1.1z" fill="#002cff"/><path d="M609.7 179.7l3.1 1.1 4-2.3-3.1-1z" fill="#002cff"/><path d="M613.4 177.8l3.1 1 4-2.2-3.2-1z" fill="#002dff"/><path d="M617 175.9l3.1 1 3.9-2.1-3.1-1z" fill="#002eff"/><path d="M498.5 148.1l.6-.3M499.1 147.8l2.9-1.9M502 145.9l3-1.7M505 144.2l3.2-1.7M484.4 156.2l2.1-1.1M486.5 155.1l3.2-1.9M489.7 153.2l3.2-1.8M492.9 151.4l3.1-1.8M496 149.6l2.5-1.5M513 145.1l1.2-.9M448.3 173.1l1-.5M449.3 172.6l1.6-.8M450.9 171.8l4.2-2M455.1 169.8l4.3-1.9M459.4 167.9l4.2-1.8M463.6 166.1l4-1.9M467.6 164.2l4-1.8M471.6 162.4l3.9-1.9M475.5 160.5l3.8-1.8M479.3 158.7l3.7-1.8M483 156.9l1.4-.7M503.1 151.6l0 0M503.1 151.6l3-1.8M506.1 149.8l2.8-1.9M508.9 147.9l2.8-1.8M511.7 146.1l1.3-1M440 179.4l.1-.2M440.1 179.2l1-1.1M441.1 178.1l1.2-1M442.3 177.1l1.2-1M443.5 176.1l1.4-.9M444.9 175.2l1.4-.9M446.3 174.3l1.5-.9M447.8 173.4l.5-.3M494.8 157.7l.1-.1M494.9 157.6l2.4-2.1M497.3 155.5l2.8-2M500.1 153.5l3-1.9M507.8 152.5l2.5-1.5M510.3 151l3-1.8M513.3 149.2l3-1.8M516.3 147.4l2.8-1.8M436.9 183.7l.6-1M437.5 182.7l.8-1.2M438.3 181.5l.9-1.2M439.2 180.3l.8-.9M482.6 165.4l2.7-1.8M485.3 163.6l3.2-2M488.5 161.6l3.3-2M491.8 159.6l3-1.9M499.8 158.5l1.9-1.7M501.7 156.8l2.6-2.1M504.3 154.7l2.9-1.9M509.7 154.5l1-.7M507.2 152.8l.6-.3M510.7 153.8l3.2-1.8M513.9 152l3.2-1.8M517.1 150.2l3.2-1.7M520.3 148.5l3.3-1.7M436.3 187l0-.2M436.3 186.8l0-1.5M436.3 185.3l.5-1.4M436.8 183.9l.1-.2M471.7 172.7l.7-.5M472.4 172.2l3-2.3M475.4 169.9l3.3-2.2M478.7 167.7l3.4-2M482.1 165.7l.5-.3M489.4 165.5l.6-.5M490 165l2.9-2.1M492.9 162.9l3.2-2M496.1 160.9l3.1-2M499.9 161.3l2.2-1.5M499.2 158.9l.6-.4M502.1 159.8l2.8-2.1M504.9 157.7l2.8-2M509.3 157.5l1.3-.9M507.7 155.7l2-1.2M510.6 156.6l3.1-1.9M513.7 154.7l3.3-1.8M517 152.9l3.4-1.7M520.4 151.2l3.5-1.7M526 150.7l.8-.4M523.9 149.5l3.6-1.6M526.8 150.3l3.6-1.6M437.2 189.9l-.6-1.5M436.6 188.4l-.3-1.4M466.7 177.8l.5-.6M467.2 177.2l2.3-2.7M469.5 174.5l2.2-1.8M482.4 171.4l1.9-1.9M484.3 169.5l2.7-2.3M487 167.2l2.4-1.7M490.3 168.1l2.2-2.3M492.5 165.8l3.1-2.1M495.2 166.1l2.2-1.8M495.6 163.7l3.4-1.9M497.4 164.3l3.4-2M501 163.7l1.5-.9M499 161.8l.9-.5M500.8 162.3l3.5-1.9M502.5 162.8l3.7-1.8M504.3 160.4l3.3-1.9M506.2 161l3.5-1.8M507.6 158.5l1.7-1M509.7 159.2l3.5-1.9M513.2 157.3l3.4-1.8M516.6 155.5l3.4-1.7M522.6 154.9l.5-.2M520 153.8l3.4-1.8M523.1 154.7l3.6-1.7M523.4 152l2.6-1.3M526.7 153l3.6-1.7M530.3 151.3l3.7-1.6M438.5 192.6l-.3-.5M438.2 192.1l-.9-1.9M437.3 190.2l-.1-.3M463.7 182.2l.3-.5M464 181.7l.6-1.2M464.6 180.5l.7-1.2M465.3 179.3l1-1.1M466.3 178.2l.4-.4M477.8 176.4l1.3-2M479.1 174.4l2.6-2.5M481.7 171.9l.7-.5M485.7 173.1l2.3-2.4M488 170.7l2.2-2.5M492.1 170.4l1-1.3M490.2 168.2l.1-.1M493.1 169.1l1.7-2.6M496.9 168.4l.7-1M494.8 166.5l.4-.4M497.6 167.4l1.9-2.5M501.6 166.5l.6-.7M499.5 164.9l1.5-1.2M502.2 165.8l2.9-2.2M505.1 163.6l3.5-1.9M508.6 161.7l3.6-1.8M512.2 159.9l3.6-1.8M517.4 159.9l1.8-.8M515.8 158.1l3.7-1.7M519.2 159.1l3.9-1.7M519.5 156.4l3.1-1.5M523.1 157.4l4-1.6M527.1 155.8l4-1.6M531.1 154.2l.2 0M440.6 195.1l-.9-.9M439.7 194.2l-1.2-1.6M457.8 187.9l.7-.8M458.5 187.1l1.2-1.1M459.7 186l1.3-1M461 185l1.2-1.1M462.2 183.9l1-1M463.2 182.9l.5-.7M473.3 181.4l.2-.7M473.5 180.7l.8-1.2M474.3 179.5l2.7-2.5M479.9 178.6l.4-.5M477 177l.8-.6M480.3 178.1l2.5-2.6M482.8 175.5l2.8-2.4M485.9 176.1l2.2-2.1M485.6 173.1l.1 0M488.1 174l2.8-2.4M492 173.5l1.4-1.1M490.9 171.6l1.2-1.2M493.4 172.4l2.5-2.4M495.9 170l1-1.6M498.5 170.8l2.1-2.5M500.6 168.3l1-1.8M505.4 167.9l.7-.9M506.1 167l2.6-2.3M508.7 164.7l3.4-1.9M512.1 162.8l3.4-1.9M515.5 160.9l1.9-1M535.8 152.9l-4.5 1.3M535.8 152.9l5.6-1.1M441.5 196l-.9-.9M456.5 189.7l.1-.3M456.6 189.4l.9-1.2M457.5 188.2l.3-.3M472.8 182.9l.2-1M473 181.9l.3-.5M477.7 180.8l.1-.1M477.8 180.7l2.1-2.1M483.4 178.4l2.1-2M485.5 176.4l.4-.3M489.2 176l1.4-1.3M490.6 174.7l1.4-1.2M495.9 173.1l2.6-2.3M498.5 170.8l0 0M503.5 170l.5-.6M504 169.4l1.4-1.5M442.5 197l-.3-.3M442.2 196.7l-.7-.7M455.7 191.4l.3-.7M456 190.7l.5-1M473.1 184.1l-.2-.8M472.9 183.3l-.1-.4M477 182.4l.1-.5M477.1 181.9l.6-1.1M481.6 180.5l1.3-1.6M482.9 178.9l.5-.5M486.9 178.2l1-1M487.9 177.2l1.3-1.2M492.7 175.8l.3-.3M493 175.5l2.9-2.3M495.9 173.2l0-.1M501.1 172.2l.5-.4M501.6 171.8l1.9-1.8M443.5 197.9l-1-.9M455.3 192.9l.2-.8M455.5 192.1l.2-.7M473 185.4l.2-.6M473.2 184.8l-.1-.7M477.2 183.6l-.1-.3M477.1 183.3l-.1-.9M480.8 182.1l.1-.4M480.9 181.7l.7-1.2M485.5 180.1l.2-.2M485.7 179.9l1.2-1.7M490.5 178l2.2-2.2M497.2 175.1l1.4-1M498.6 174.1l2.5-1.9M531.8 160.5l.6-.4M532.4 160.1l3.5-1.7M535.9 158.4l3.7-1.8M539.6 156.6l3.6-1.6M543.2 155l3.6-1.7M444.3 199l-.8-1.1M455 194.4l.1-.9M455.1 193.5l.2-.6M470.6 187.7l.8-.6M471.4 187.1l1.2-1.1M472.6 186l.4-.6M477.1 185l0-.3M477.1 184.7l.1-1.1M480.6 183.5l0-.5M480.6 183l.2-.9M484.7 181.8l.8-1.7M489.3 179.8l1.1-1.8M490.4 178l.1 0M494.4 177.6l1.2-1.3M495.6 176.3l1.6-1.2M527.5 163.5l1.7-1.5M529.2 162l2.6-1.5M444.6 199.2l-.3-.2M454.9 195.8l0-.9M454.9 194.9l.1-.5M467.8 190.3l0 0M467.8 190.3l1.1-1.1M468.9 189.2l1.3-1.1M470.2 188.1l.4-.4M476.4 186.6l.4-.6M476.8 186l.3-1M480.4 184.9l.1-.5M480.5 184.4l.1-.9M484.1 183.3l.2-.4M484.3 182.9l.4-1.1M488.7 181.4l.1-.5M488.8 180.9l.5-1.1M493.3 179.4l.2-.4M493.5 179l.9-1.4M500.6 176.2l1.6-1M502.2 175.2l4.6-1.8M506.8 173.4l1-.2M522.5 166.9l1.1-.7M523.6 166.2l3-2M526.6 164.2l.9-.7M535.6 161.3l.2-.2M535.8 161.1l3.6-1.8M539.4 159.3l3.5-1.7M542.9 157.6l3.6-1.7M546.5 155.9l3.7-1.6M455.2 197.1l-.2-.5M455 196.6l-.1-.8M465.4 192.7l.1-.2M465.5 192.5l1.1-1.1M466.6 191.4l1.2-1.1M474.6 188.7l.4-.4M475 188.3l1-1.1M476 187.2l.4-.6M480.1 186.4l.1-.6M480.2 185.8l.2-.9M483.7 184.8l.1-.7M483.8 184.1l.3-.8M488.1 182.9l.6-1.5M493.1 180.8l.2-1.4M498.9 178.3l.2-.8M499.1 177.5l1.5-1.3M510.8 173.2l-3 0M518.7 169.8l1.7-1.5M520.4 168.3l2.1-1.4M529.4 165.2l.1-.2M529.5 165l3.1-2M532.6 163l3-1.7M455.6 198.3l-.4-1.2M463.9 194.7l.6-1M464.5 193.7l.9-1M472.2 191.1l.6-.6M472.8 190.5l1.1-1.1M473.9 189.4l.7-.7M479.6 187.9l.3-.8M479.9 187.1l.2-.7M483.5 186.3l.1-.8M483.6 185.5l.1-.7M487.2 184.7l.3-.8M487.5 183.9l.6-1M492.8 182.2l.3-1.4M500.1 179.1l-1.2-.8M511.3 174.2l-.5-1M517.7 171.5l.3-.9M518 170.6l.7-.8M525.9 167.9l.9-.7M526.8 167.2l2.6-2M549.2 157.9l1.6-.8M550.8 157.1l3.7-1.6M456 199.5l-.4-1.1M455.6 198.4l0-.1M463.4 196.3l.4-1.3M463.8 195l.1-.3M470.4 193.3l.3-.5M470.7 192.8l1-1.1M471.7 191.7l.5-.6M478.2 189.9l.3-.4M478.5 189.5l.9-1.1M479.4 188.4l.2-.5M483.2 187.7l.2-.9M483.4 186.8l.1-.5M486.5 186.3l.4-1.2M486.9 185.1l.3-.4M493 183.5l-.1-1.3M492.9 182.2l-.1 0M502.4 178.5l-2.3 .6M502.4 178.5l4.8-1.7M507.2 176.8l3.6-2.1M515.8 173.6l.4-.4M510.8 174.7l.5-.5M516.2 173.2l1.5-1.7M523.1 170.4l1-1M524.1 169.4l1.8-1.5M537 164.4l0-.1M537 164.3l3.2-1.9M540.2 162.4l3.4-1.8M543.6 160.6l3.6-1.8M547.2 158.8l2-.9M456.1 200.9l-.2-.8M455.9 200.1l.1-.6M462.1 198.3l.4-.6M462.5 197.7l.8-1.3M463.3 196.4l.1-.1M469.2 195.2l.7-1.1M469.9 194.1l.5-.8M476.5 192l.1-.1M476.6 191.9l1-1.2M477.6 190.7l.6-.8M482.8 189.3l.4-1.1M483.2 188.2l0-.5M486.4 187.7l.1-1.3M486.5 186.4l0-.1M490.2 186l.9-.9M491.1 185.1l1.9-1.6M506.9 178.8l2.6-1.3M509.5 177.5l3.8-2M513.3 175.5l2.5-1.9M520.6 172.8l1.1-1.1M521.7 171.7l1.4-1.3M533.5 167.2l.8-.7M534.3 166.5l2.7-2.1M456.7 202.1l-.6-1.2M461.3 200l.4-1M461.7 199l.4-.7M467.4 197.4l.7-.9M468.1 196.5l1-1.2M469.1 195.3l.1-.1M475.3 194l.5-.9M475.8 193.1l.7-1.1M481.9 191l.2-.2M482.1 190.8l.7-1.3M482.8 189.5l0-.2M486.6 189l-.2-1.2M486.4 187.8l0-.1M490 187.5l0-1.3M490 186.2l.2-.2M503.2 181.7l2.2-2.2M505.4 179.5l1.5-.7M515.2 176.4l.4-.2M515.6 176.2l3.4-2.2M519 174l1.6-1.2M530.4 169.8l1.3-1.1M531.7 168.7l1.8-1.5M554.4 159.3l1.3-.8M555.7 158.5l3.4-1.8M457.9 203l-1.1-.9M456.8 202.1l-.1 0M461.7 201.3l-.3-.8M461.4 200.5l-.1-.5M466.4 199.3l0-.2M466.4 199.1l.7-1.3M467.1 197.8l.3-.4M473.8 196l.3-.4M474.1 195.6l.9-1.3M475 194.3l.3-.3M480.6 193l.7-1M481.3 192l.6-1M486.4 190.5l.3-1.1M486.7 189.4l-.1-.4M490.6 188.6l-.5-1M490.1 187.6l-.1-.1M503.1 183.1l-.1-1M503 182.1l.2-.4M509.9 180.1l2.3-1.7M512.2 178.4l3-2M526.5 172.8l2.6-1.9M529.1 170.9l1.3-1.1M549.1 162.9l.7-.6M549.8 162.3l2.8-1.9M552.6 160.4l1.8-1.1M459.3 203.9l-1.4-.9M462.6 202.4l-.9-1.1M466.5 200.7l-.1-1.4M472.2 198.1l0-.1M472.2 198l1-1.2M473.2 196.8l.6-.8M479.3 195l.3-.6M479.6 194.4l.9-1.2M480.5 193.2l.1-.2M485 192.5l.4-.6M485.4 191.9l.9-1.2M486.3 190.7l.1-.2M491.7 189.5l-1.1-.9M502.7 184.6l.4-1.5M508.9 181.9l.4-1.1M509.3 180.8l.6-.7M520.2 176.9l2.6-1.7M522.8 175.2l3.3-2.1M526.1 173.1l.4-.3M545.8 165.6l1.4-1.2M547.2 164.4l1.9-1.5M460.5 204.8l-1.2-.9M463.6 203.4l-.9-.8M462.7 202.6l-.1-.2M467 201.9l-.5-1.2M466.5 200.7l0 0M471.6 199.8l.1-.4M471.7 199.4l.5-1.3M478.2 196.9l.7-1.2M478.9 195.7l.4-.7M483.6 194.5l.1-.2M483.7 194.3l.8-1.2M484.5 193.1l.5-.6M494.8 189.2l-3.1 .3M494.8 189.2l2-.7M496.8 188.5l1.9-.8M498.7 187.7l3.5-2.4M502.2 185.3l.5-.7M508.3 183.5l.6-1.6M516.2 180l.2-.3M516.4 179.7l3.1-2.3M519.5 177.4l.7-.5M542.7 168.2l1.9-1.6M544.6 166.6l1.2-1M563.5 159l.9-.8M461.1 205.3l-.6-.5M464.6 204.4l-1-1M467.8 203l-.2-.2M467.6 202.8l-.6-.9M471.8 201.2l-.1-.2M471.7 201l-.1-1.2M477.2 198.8l.2-.5M477.4 198.3l.7-1.3M478.1 197l.1-.1M483.4 196l.1-.2M483.5 195.8l.1-1.3M488.8 193.6l.2-.5M489 193.1l1.2-1M490.2 192.1l2-.8M492.2 191.3l2.6-.6M494.8 190.7l.5 0M505.1 186.3l.1 0M505.2 186.3l2.9-2.5M508.1 183.8l.2-.3M514.6 182.1l1.6-2.1M539.5 171l0 0M539.5 171l2.6-2.2M542.1 168.8l.6-.6M562.8 160.6l.1-.1M562.9 160.5l.6-1.5M465.4 205.5l-.3-.4M465.1 205.1l-.5-.7M468.6 204.1l-.8-1.1M472.3 202.4l-.5-1.2M477 200.3l0-.6M477 199.7l.2-.9M482.9 197.7l.2-.5M483.1 197.2l.3-1.2M488.6 195.1l0-.6M488.6 194.5l.2-.9M496.9 191.4l-.3-.1M496.6 191.3l-1.3-.6M501.8 189.2l.3-.4M502.1 188.8l3-2.5M512.3 184.5l2-2.1M514.3 182.4l.3-.3M535.9 173.9l.9-.7M536.8 173.2l2.7-2.2M561.6 162.4l1.2-1.8M466 206.8l-.6-1.3M469.2 205.3l-.2-.4M469 204.9l-.4-.8M472.9 203.7l-.4-.8M472.5 202.9l-.2-.5M477.2 201.7l-.1-.4M477.1 201.3l-.1-1M482.7 199.2l0-.6M482.7 198.6l.2-.9M488.9 196.4l0-.3M488.9 196.1l-.3-1M498.5 192.1l-1.6-.7M501.7 190.7l-.3-.7M501.4 190l.4-.8M508.9 187.4l2.9-2.4M511.8 185l.5-.5M531.2 177.4l2.7-1.9M533.9 175.5l2-1.6M559 164.9l2.2-2.1M561.2 162.8l.4-.4M466.1 207.2l-.1-.4M469.6 206.6l-.4-1.3M473.2 205l0-.2M473.2 204.8l-.3-1.1M477.5 203.1l-.3-1.4M482.8 200.6l0-.4M482.8 200.2l-.1-1M489.6 197.6l-.7-1.2M500.1 192.8l-1.6-.7M502.7 191.7l-1-1M506.4 190l2.4-2.5M508.8 187.5l.1-.1M527.3 180.5l.6-.5M527.9 180l2.9-2.3M530.8 177.7l.4-.3M554.9 168l1.2-1M556.1 167l2.8-2M558.9 165l.1-.1M469.2 208.3l.4-1.5M469.6 206.8l0-.2M473.2 206.5l.1 0M473.3 206.5l-.1-1.5M477.9 204.4l-.4-1.3M477.5 203.1l0 0M483.1 202l0-.1M483.1 201.9l-.3-1.3M490.8 198.5l-.3-.3M490.5 198.2l-.9-.6M500.9 193.9l-.8-1.1M503.6 192.7l-.7-.7M502.9 192l-.2-.3M506.4 191.4l-.2-1.2M506.2 190.2l.2-.2M524 183.4l1.1-.9M525.1 182.5l2.2-2M551.8 170.8l1.6-1.6M553.4 169.2l1.5-1.2M474.1 207.6l-.9-1.1M478.4 205.7l-.4-.8M478 204.9l-.1-.5M483.6 203.3l-.5-1.3M491.6 198.6l-.8-.1M491.6 198.6l2.6-.7M494.2 197.9l1.9-.8M496.1 197.1l1.9-.9M498 196.2l1.7-.9M499.7 195.3l1.2-1.1M503.9 194l0-.2M500.9 194.2l0-.3M503.9 193.8l-.3-1.1M506.9 192.6l-.5-.9M506.4 191.7l0-.3M519.1 187.1l3.1-2.2M522.2 184.9l1.8-1.5M550 172.9l1.2-1.4M551.2 171.5l.6-.7M475.5 208.5l-1.4-.9M479.1 206.9l-.7-1.2M484.7 204.3l-.4-.4M484.3 203.9l-.7-.6M503.4 195.7l.4-.5M503.8 195.2l.1-1.2M507.3 193.9l-.1-.5M507.2 193.4l-.3-.8M514.7 190.5l.9-.8M515.6 189.7l3.2-2.4M518.8 187.3l.3-.2M548.4 175l.9-1M549.3 174l.7-1.1M477.1 209.3l-1.6-.8M480.6 207.7l-1.2-.7M479.4 207l-.3-.1M486 204.5l-1.3-.2M486 204.5l1.4 .1M500.8 198.4l.9-.9M501.7 197.5l1.2-1.1M502.9 196.4l.5-.7M507.6 195.3l0-.3M507.6 195l-.3-1.1M512.7 192.9l0-.6M512.7 192.3l2-1.8M545.8 177.6l1.3-1.2M547.1 176.4l1.3-1.4M479.1 210l-2-.7M482.7 208.3l-2.1-.6M489.7 204.2l-2.3 .4M489.7 204.2l2.5-.7M492.2 203.5l2.2-.8M494.4 202.7l2.1-.9M496.5 201.8l1.6-.9M498.1 200.9l1.4-1.1M499.5 199.8l1.1-1.2M500.6 198.6l.2-.2M507.1 197l.3-.6M507.4 196.4l.2-1.1M512.7 194.4l-.2-.7M512.5 193.7l.2-.8M542.8 180.4l1.8-1.6M544.6 178.8l1.2-1.2M576.6 164.7l.3-.2M576.9 164.5l3-2M481.1 210.6l-2-.6M483.2 208.4l-.5-.1M483.2 208.4l1.9 .3M505.6 199.2l.2-.3M505.8 198.9l.9-1.2M506.7 197.7l.4-.7M513 195.7l-.1-.4M512.9 195.3l-.2-.9M539.8 183.3l2.2-2.1M542 181.2l.8-.8M575 166.8l0 0M575 166.8l1.6-2.1M483.3 211.2l-2.2-.6M488.5 208.7l-3.4 0M501.9 202.4l.3-.1M502.2 202.3l1.4-1.1M503.6 201.2l1.2-1.1M504.8 200.1l.8-.9M513 197.3l0-.5M513 196.8l0-1.1M536.1 186.4l.4-.3M536.5 186.1l2.9-2.5M539.4 183.6l.4-.3M575.2 168.1l-.2-1.3M485.9 211.5l-2.6-.3M488.6 208.7l-.1 0M488.6 208.7l2.5-.7M491.1 208l2-1M493.1 207l1.9-.9M495 206.1l1.9-.9M496.9 205.2l1.8-1M498.7 204.2l1.8-.9M500.5 203.3l1.4-.9M512 199.2l.7-1M512.7 198.2l.3-.9M529.2 191.1l.5-.3M529.7 190.8l3.6-2.3M533.3 188.5l2.8-2.1M575.4 169.4l-.2-1.3M487.4 211.6l-1.5-.1M487.4 211.6l1.7 0M510.1 201.7l.8-1M510.9 200.7l1-1.2M511.9 199.5l.1-.3M523.7 195.3l2.5-2.1M526.2 193.2l3-2.1M574.4 171.2l1-1.5M575.4 169.7l0-.3M491.7 211.5l-2.6 .1M491.7 211.5l1.7-.3M506.3 205l1.3-.8M507.6 204.2l1.3-1.2M508.9 203l1.1-1.1M510 201.9l.1-.2M522 197.6l.2-.6M522.2 197l.8-1.2M523 195.8l.7-.5M570.4 174.6l.4-.3M570.8 174.3l2.8-2.2M573.6 172.1l.8-.9M494.7 210.9l-1.3 .3M494.7 210.9l2.3-.8M497 210.1l1.9-1M498.9 209.1l1.9-.9M500.8 208.2l1.8-1M502.6 207.2l1.7-1M504.3 206.2l1.8-1M506.1 205.2l.2-.2M521.5 199.4l.3-1.1M521.8 198.3l.2-.7M563.3 179.4l1.2-.9M564.5 178.5l3.2-2.1M567.7 176.4l2.7-1.8M520.5 201.4l.3-.4M520.8 201l.6-1.3M521.4 199.7l.1-.3M559.9 182.5l1.7-1.7M561.6 180.8l1.7-1.4M518.4 204l.6-.6M519 203.4l1-1.2M520 202.2l.5-.8M557.9 184.9l1.3-1.6M559.2 183.3l.7-.8M507.3 211.8l1.4-.8M508.7 211l1.7-1.1M510.4 209.9l1.7-1M512.1 208.9l1.6-1M513.7 207.9l1.6-1.1M515.3 206.8l1.4-1.1M516.7 205.7l1.2-1.1M517.9 204.6l.5-.6M555.4 188.4l1.8-2.5M557.2 185.9l.7-1M499.1 218.3l.4-.6M499.5 217.7l1.2-1.3M500.7 216.4l1.4-1.1M502.1 215.3l1.6-1.2M503.7 214.1l1.6-1M505.3 213.1l1.7-1.1M507 212l.3-.2M552.4 192.2l.8-.8M553.2 191.4l2-2.8M555.2 188.6l.2-.2M498.1 219l1-.7M540.1 200.6l2.8-1.9M542.9 198.7l3.8-2.4M546.7 196.3l3.5-2.4M550.2 193.9l2.2-1.7M502.8 220.7l2.7-.8M505.5 219.9l1.8-.5M536 205.1l.3-.4M536.3 204.7l.7-1.3M537 203.4l.9-1.2M537.9 202.2l1.3-1M539.2 201.2l.9-.6M605.4 170.5l.9-.6M508.1 219.2l-.8 .2M508.1 219.2l2.5-.8M510.6 218.4l2.3-.9M512.9 217.5l2.1-1M515 216.5l1.9-1M516.9 215.5l1.8-1M518.7 214.5l1.7-1M520.4 213.5l1.7-1M522.1 212.5l1.9-1M524 211.5l1.9-1M525.9 210.5l2-.9M527.9 209.6l2.1-.8M530 208.8l1.9-.9M531.9 207.9l1.9-1M533.8 206.9l1.5-1M535.3 205.9l.7-.8M598.2 176.4l.1-.1M598.3 176.3l2.9-2.1M601.2 174.2l2.6-2.1M603.8 172.1l1.6-1.6M588 183.8l1.4-1M589.4 182.8l3.1-2.1M592.5 180.7l3-2.2M595.5 178.5l2.7-2.1M568.5 196.1l3.7-2.1M572.2 194l3.9-2.2M576.1 191.8l3.6-2.2M579.7 189.6l3.5-2.3M583.2 187.3l3.2-2.2M586.4 185.1l1.6-1.3M515.9 225.5l2-1M517.9 224.5l2-1M519.9 223.5l2.1-1M522 222.5l1.3-.6M554.4 205.9l3.1-2.4M557.5 203.5l3.5-2.5M561 201l3.6-2.5M564.6 198.5l3.8-2.3M568.4 196.2l.1-.1M524.1 221.5l-.8 .4M524.1 221.5l2.1-.9M526.2 220.6l2.3-.9M528.5 219.7l2.6-.8M531.1 218.9l2.6-.7M533.7 218.2l2.5-.8M536.2 217.4l2.1-.9M538.3 216.5l1.8-1M540.1 215.5l1.8-1M541.9 214.5l1.7-1M543.6 213.5l1.7-1.1M545.3 212.4l1.6-1M546.9 211.4l1.6-1M548.5 210.4l1.5-1.1M550 209.3l1.5-1M551.5 208.3l1.3-1.1M552.8 207.2l1.3-1.1M554.1 206.1l.3-.2" class="k"/></g>
<path d="M416.6,173.9L541.8,217.7M435.7,166.7L560.1,208.1M453.9,159.8L577.4,199.1M471.2,153.3L593.7,190.5M487.6,147.1L609.2,182.5M412.2,187.3L518.7,145.5M428.7,193.4L534.7,149.9M445.8,199.7L551.3,154.6M463.7,206.3L568.4,159.3M482.4,213.2L586.2,164.3M501.9,220.4L604.6,169.5" stroke="#fff" stroke-opacity="0.3" stroke-width="0.6" fill="none"/>
<g filter="url(#sm)"><path d="M499.2 87.2l4.1-3.2 4.2-1.5-4.1 3.4z" fill="#7000b5"/><path d="M503.1 84.4l4.2-3.6 4.1-2.3-4.1 4.5z" fill="#5800f4"/><path d="M505.1 82.8l3.3-1.2" class="k"/><path d="M507 81.3l4.3-4.8 4.1-3.3-4.2 5.8z" fill="#0026ff"/><path d="M513.3 75l1.2-.7" class="k"/><path d="M511.1 77l4.2-6.7 4.2-3.1-4.3 6.5z" fill="#00bdff"/><path d="M512 75.7l1.3-.7" class="k"/><path d="M515.1 70.9l4.3-8.1 4.2-2.5-4.3 7.5z" fill="#00ff3f"/><path d="M516.8 68l2.9-1.2" class="k"/><path d="M519.2 63.4l4.4-8.9 4.2-1.5-4.4 7.8z" fill="#96ff00"/><path d="M521 60.1l3.3-1.2" class="k"/><path d="M523.5 55.1l4.4-12.2 4.1-1.5-4.4 12.1z" fill="#ffd500"/><path d="M524.7 51.9l3.7-1M527.8 43.5l3.8-1" class="k"/><path d="M527.7 43.5l4.6-10.1 4.1-1.1-4.5 9.6z" fill="#ff1100"/><path d="M531.7 35.1l3.8-1" class="k"/><path d="M532 33.9l4.7-6.8 4.1 .4-4.6 5.4z" fill="#ff0000"/><path d="M536.3 27.5l4.8-3.4 4.2 1.3-4.8 2.5z" fill="#ff0000"/><path d="M537.5 26.8l5.9-.6" class="k"/><path d="M540.7 24.3l1.4-.4 4.5 1.2-1.4 .4z" fill="#f70000"/><path d="M542 24l1.3 .5 4.6 .5-1.3 .1z" fill="#f40000"/><path d="M543.4 24.4l1.3 2.4 4.5-.5-1.3-1.5z" fill="#fb0000"/><path d="M544.7 26.5l1.3 4.8 4.4-.8-1.4-4.6z" fill="#ff0000"/><path d="M545.3 27.9l3.8-.9" class="k"/><path d="M545.9 30.8l1.4 4.2 4.3-.8-1.3-4.1z" fill="#ff0000"/><path d="M547.2 34.6l1.3 3.6 4.4-.9-1.3-3.5z" fill="#ff0000"/><path d="M548.6 37.7l3.9-1" class="k"/><path d="M548.4 37.8l1.4 3.5 4.4-.9-1.4-3.5z" fill="#ff0000"/><path d="M549.7 40.9l1.4 3.4 4.4-1-1.4-3.3z" fill="#ff2400"/><path d="M551 43.9l1.4 3.2 4.3-1-1.3-3.2z" fill="#ff5a00"/><path d="M552.3 46.8l1.4 3 4.3-1-1.4-3z" fill="#ff8400"/><path d="M552.9 47.6l3.8-1" class="k"/><path d="M553.5 49.5l1.4 2.9 4.4-1-1.4-2.9z" fill="#ffac00"/><path d="M554.8 52l1.4 2.9 4.4-.8-1.4-3z" fill="#ffd100"/><path d="M556.1 54.6l1.4 2.9 4.3-.3-1.3-3.4z" fill="#fff200"/><path d="M559.3 57.2l2.1-.6" class="k"/><path d="M557.4 57.2l1.4 3 4.3 .1-1.3-3.4z" fill="#edff00"/><path d="M557.9 57.7l1.4-.5" class="k"/><path d="M558.7 59.8l1.4 2.6 4.3 .4-1.3-2.8z" fill="#ceff00"/><path d="M560 62.1l1.3 2.4 4.4 .6-1.3-2.6z" fill="#aeff00"/><path d="M561.3 64.2l1.3 2.2 4.4 .7-1.3-2.3z" fill="#91ff00"/><path d="M566.2 66.8l.3-.2" class="k"/><path d="M562.6 66.2l1.4 1.5 4.3 .5-1.3-1.3z" fill="#75ff00"/><path d="M565.3 67.8l.9-1" class="k"/><path d="M563.9 67.6l1.4 1 4.4 .1-1.3-.6z" fill="#65ff00"/><path d="M565.1 68.2l.2-.4" class="k"/><path d="M565.3 68.5l1.3 1 4.5-.4-1.4-.5z" fill="#5cff00"/><path d="M566.6 69.3l1.4 .9 4.4-.8-1.4-.4z" fill="#55ff00"/><path d="M568 70.1l1.4 .8 4.4-1.2-1.4-.4z" fill="#4fff00"/><path d="M569.3 70.7l1.4 .7 4.4-1.3-1.4-.5z" fill="#4bff00"/><path d="M570.7 71.2l1.4 .7 4.4-1.4-1.4-.5z" fill="#47ff00"/><path d="M572.1 71.7l1.4 .9 4.4-1.4-1.4-.8z" fill="#40ff00"/><path d="M573.4 72.4l1.5 1.6 4.3-1.4-1.4-1.6z" fill="#31ff00"/><path d="M574.8 73.7l1.4 2.4 4.3-1.3-1.4-2.4z" fill="#14ff00"/><path d="M576.1 75.8l1.5 2.3 4.3-.8-1.5-2.8z" fill="#00ff2b"/><path d="M577.5 77.8l1.4 2.2 4.3-.2-1.4-2.8z" fill="#00ff8b"/><path d="M580.2 79.8l2.2-1" class="k"/><path d="M578.8 79.7l1.4 1.9 4.3 .2-1.4-2.3z" fill="#00ffdf"/><path d="M579.5 80.2l.7-.4" class="k"/><path d="M580.2 81.3l1.4 1.2 4.3 .5-1.4-1.4z" fill="#00f6ff"/><path d="M581.5 82.4l1.4 .5 4.4 .4-1.4-.4z" fill="#00eeff"/><path d="M582.9 82.9l1.4 .4 4.4 .2-1.4-.3z" fill="#00edff"/><path d="M584.3 83.3l1.5 .4 4.3-.1-1.4-.2z" fill="#00edff"/><path d="M585.8 83.7l1.4 .4 4.3-.4-1.4-.2z" fill="#00eeff"/><path d="M587.2 84l1.4 .4 4.3-.7-1.4-.1z" fill="#00efff"/><path d="M588.6 84.3l1.4 .5 4.4-1-1.5-.1z" fill="#00f0ff"/><path d="M590 84.7l1.5 .5 4.3-1.3-1.5-.2z" fill="#00f1ff"/><path d="M591.4 85.1l1.5 .4 4.3-1.5-1.4-.2z" fill="#00f1ff"/><path d="M592.9 85.4l1.4 .5 4.4-1.7-1.5-.3z" fill="#00f2ff"/><path d="M594.3 85.7l3.1 1.6 4.1-2-3-1.3z" fill="#00edff"/><path d="M597.1 87l3.1 2.4 4.1-1.6-3-2.8z" fill="#00daff"/><path d="M600 89.1l3 3.2 4.1-1.3-3-3.5z" fill="#00b7ff"/><path d="M602.8 91.9l3.1 2.9 4.1-1-3.1-3.2z" fill="#0089ff"/><path d="M608.5 93.9l1-.4" class="k"/><path d="M605.7 94.5l3.1 2 4.1-1.2-3.1-1.9z" fill="#0066ff"/><path d="M606.9 95.1l1.6-1.2" class="k"/><path d="M608.6 96.2l3.1 1.7 4.1-1.5-3.1-1.4z" fill="#0053ff"/><path d="M611.5 97.6l3.1 1.5 4.1-1.6-3.1-1.3z" fill="#0046ff"/><path d="M614.4 98.8l3.2 1.3 4.1-1.6-3.2-1.3z" fill="#003aff"/><path d="M617.4 99.9l3.2 1.1 4.1-1.7-3.2-1.1z" fill="#0032ff"/><path d="M620.4 100.8l3.2 1.1 4.1-1.9-3.2-.9z" fill="#002eff"/><path d="M495.2 88.6l4.1-3.1 4.3-1.4-4.2 3.3z" fill="#7000ad"/><path d="M499.1 86l4.1-2.9 4.3-2.2-4.2 3.7z" fill="#6100ed"/><path d="M502 84.2l3.1-1.4" class="k"/><path d="M503 83.6l4.3-3.9 4.2-3.1-4.2 4.8z" fill="#160aff"/><path d="M507.1 80.2l4.2-6.7 4.2-3.1-4.3 6.7z" fill="#008eff"/><path d="M509.1 77.1l2.9-1.4" class="k"/><path d="M511.1 74l4.3-8.3 4.2-2.8-4.3 8z" fill="#00ff9f"/><path d="M513.7 69.3l3.1-1.3" class="k"/><path d="M515.2 66.2l4.4-9.4 4.2-2.2-4.4 8.8z" fill="#7bff00"/><path d="M517.7 61.2l3.3-1.1" class="k"/><path d="M519.5 57.4l4.4-12.3 4.2-2.1-4.5 12.1z" fill="#ffe300"/><path d="M521.1 53l3.6-1.1M527 43.7l.8-.2" class="k"/><path d="M523.7 45.7l4.5-10.8 4.2-1.4-4.5 10z" fill="#ff1e00"/><path d="M524.3 44.5l2.7-.8M527.9 36l3.8-.9" class="k"/><path d="M528 35.4l4.6-8.2 4.3 0-4.7 6.8z" fill="#ff0000"/><path d="M532.6 27.5l.1 0" class="k"/><path d="M532.3 27.6l4.8-4.2 4.2 .9-4.7 3.4z" fill="#fc0000"/><path d="M537.5 26.8l-4.8 .7" class="k"/><path d="M536.7 23.7l1.4-.5 4.5 .9-1.3 .4z" fill="#e50000"/><path d="M538.1 23.2l1.3 1 4.5 .4-1.3-.5z" fill="#e50000"/><path d="M539.4 24.1l1.3 3 4.5-.3-1.3-2.5z" fill="#f30000"/><path d="M540.7 26.7l1.3 4.8 4.4-.3-1.3-4.8z" fill="#ff0000"/><path d="M541.5 28.8l3.8-.9" class="k"/><path d="M541.9 31.1l1.4 4.3 4.4-.5-1.3-4.2z" fill="#ff0000"/><path d="M543.2 35l1.4 3.6 4.4-.5-1.4-3.6z" fill="#ff0000"/><path d="M547 38.1l1.6-.4" class="k"/><path d="M544.5 38.2l1.3 3.6 4.5-.6-1.4-3.5z" fill="#ff0000"/><path d="M544.9 38.7l2.1-.6" class="k"/><path d="M545.8 41.4l1.3 3.5 4.4-.8-1.3-3.3z" fill="#ff1f00"/><path d="M547 44.5l1.4 3.3 4.4-.8-1.3-3.2z" fill="#ff5500"/><path d="M548.3 47.4l1.4 3 4.4-.7-1.4-3z" fill="#ff7f00"/><path d="M549.1 48.7l3.8-1.1" class="k"/><path d="M549.6 50.1l1.4 2.8 4.4-.6-1.4-3z" fill="#ffa600"/><path d="M550.9 52.6l1.4 2.6 4.4-.4-1.4-2.9z" fill="#ffca00"/><path d="M552.2 54.9l1.4 2.7 4.4-.2-1.4-3z" fill="#ffe900"/><path d="M553.5 57.2l1.4 2.7 4.4 .2-1.4-3z" fill="#fcff00"/><path d="M554.6 58.9l3.3-1.2" class="k"/><path d="M554.8 59.6l1.3 2.3 4.5 .5-1.4-2.6z" fill="#e1ff00"/><path d="M556.1 61.6l1.4 2.3 4.4 .6-1.4-2.4z" fill="#c8ff00"/><path d="M557.4 63.6l1.4 2.2 4.4 .6-1.3-2.2z" fill="#adff00"/><path d="M558.8 65.5l1.3 1.8 4.4 .4-1.3-1.5z" fill="#96ff00"/><path d="M560.1 67.1l1.3 1.4 4.5 .1-1.4-1z" fill="#83ff00"/><path d="M564.9 68.5l.2-.3" class="k"/><path d="M561.4 68.3l1.4 1.3 4.4-.2-1.3-.9z" fill="#73ff00"/><path d="M563.8 69.5l1.1-1" class="k"/><path d="M562.8 69.5l1.3 1.2 4.5-.6-1.4-.9z" fill="#65ff00"/><path d="M563.4 69.8l.4-.3" class="k"/><path d="M564.1 70.5l1.4 1.1 4.4-.9-1.3-.8z" fill="#59ff00"/><path d="M565.5 71.4l1.4 .9 4.4-1.1-1.4-.6z" fill="#50ff00"/><path d="M566.8 72.1l1.4 .9 4.5-1.3-1.4-.6z" fill="#49ff00"/><path d="M568.2 72.8l1.4 1 4.4-1.4-1.4-.9z" fill="#40ff00"/><path d="M569.6 73.6l1.4 1.6 4.4-1.4-1.4-1.6z" fill="#31ff00"/><path d="M570.9 74.9l1.5 2.1 4.3-1.1-1.4-2.3z" fill="#17ff00"/><path d="M572.3 76.7l1.4 1.9 4.4-.6-1.5-2.4z" fill="#00ff16"/><path d="M573.6 78.4l1.4 1.7 4.4-.2-1.4-2.2z" fill="#00ff60"/><path d="M575 79.9l1.4 1.4 4.4 .2-1.4-1.9z" fill="#00ff9f"/><path d="M577.8 81.3l1.7-1.1" class="k"/><path d="M576.4 81.1l1.3 1.1 4.4 .3-1.3-1.2z" fill="#00ffcd"/><path d="M577.6 81.8l.2-.5" class="k"/><path d="M577.7 82.1l1.4 .7 4.4 .2-1.4-.6z" fill="#00ffe6"/><path d="M579.1 82.7l1.4 .7 4.4-.1-1.4-.4z" fill="#00fff1"/><path d="M580.5 83.3l1.5 .6 4.4-.2-1.5-.4z" fill="#00fff9"/><path d="M581.9 83.8l1.5 .7 4.4-.5-1.5-.4z" fill="#00feff"/><path d="M583.4 84.4l1.4 .7 4.4-.8-1.5-.4z" fill="#00fcff"/><path d="M584.8 85l1.4 .6 4.4-1-1.4-.4z" fill="#00f9ff"/><path d="M586.2 85.5l1.5 .7 4.3-1.2-1.4-.5z" fill="#00f6ff"/><path d="M587.6 86.1l1.5 .6 4.4-1.4-1.5-.4z" fill="#00f4ff"/><path d="M589 86.6l1.5 .7 4.4-1.6-1.5-.5z" fill="#00f1ff"/><path d="M590.5 87.1l3 1.8 4.2-1.9-3-1.6z" fill="#00e9ff"/><path d="M593.3 88.6l3.1 2.2 4.2-1.6-3.1-2.5z" fill="#00d7ff"/><path d="M596.2 90.5l3.1 2.8 4.1-1.3-3-3.1z" fill="#00b9ff"/><path d="M599 93l3.1 2.7 4.2-1.1-3.1-2.9z" fill="#0092ff"/><path d="M601.9 95.3l3.1 2.2 4.2-1.2-3.1-2.1z" fill="#0070ff"/><path d="M604.2 96.7l2.7-1.6" class="k"/><path d="M604.8 97.2l3.1 1.8 4.2-1.4-3.1-1.6z" fill="#005aff"/><path d="M607.7 98.7l3.2 1.6 4.1-1.5-3.1-1.5z" fill="#004aff"/><path d="M610.7 100l3.2 1.5 4.1-1.7-3.2-1.3z" fill="#003dff"/><path d="M613.7 101.2l3.2 1.3 4.1-1.8-3.2-1.1z" fill="#0033ff"/><path d="M616.7 102.2l3.2 1.2 4.1-1.9-3.2-1z" fill="#002dff"/><path d="M491.1 90.1l4.2-3 4.3-1.4-4.1 3.1z" fill="#7000a4"/><path d="M495 87.6l4-2.3 4.5-2.1-4.1 2.9z" fill="#6600e4"/><path d="M499 85.6l3-1.4" class="k"/><path d="M499 85.7l4.1-3.2 4.4-2.7-4.2 3.9z" fill="#3d01ff"/><path d="M503 83.1l4.3-6.6 4.2-3-4.2 6.8z" fill="#0060ff"/><path d="M506.2 78.5l2.9-1.4" class="k"/><path d="M507.1 77.1l4.3-8.4 4.2-3-4.3 8.4z" fill="#00feff"/><path d="M510.5 70.6l3.2-1.3" class="k"/><path d="M511.2 69.2l4.4-9.7 4.2-2.6-4.4 9.4z" fill="#57ff00"/><path d="M514.3 62.4l3.4-1.2" class="k"/><path d="M515.4 60.1l4.4-12.3 4.2-2.6-4.4 12.2z" fill="#fff500"/><path d="M517.6 54.1l3.5-1.1" class="k"/><path d="M519.7 48.4l4.5-11.8 4.2-1.6-4.5 10.7z" fill="#ff3200"/><path d="M520.8 45.6l3.5-1.1M524.1 37l3.8-1" class="k"/><path d="M524 37.1l4.6-9.4 4.2-.4-4.6 8.2z" fill="#ff0000"/><path d="M528.3 28.4l4.3-.9" class="k"/><path d="M528.3 28.1l4.7-4.9 4.3 .4-4.7 4.2z" fill="#f30000"/><path d="M532.7 23.5l1.3-.6 4.6 .4-1.3 .4z" fill="#d80000"/><path d="M534 22.9l1.3 1.3 4.6 0-1.3-1z" fill="#d90000"/><path d="M535.3 23.9l1.4 3.4 4.5-.2-1.3-3.1z" fill="#ea0000"/><path d="M536.6 26.9l1.4 4.6 4.4 0-1.3-4.8z" fill="#ff0000"/><path d="M537.7 29.8l3.8-1" class="k"/><path d="M537.9 31.1l1.4 4.4 4.4-.2-1.3-4.3z" fill="#ff0000"/><path d="M539.2 35.1l1.3 3.7 4.5-.3-1.3-3.6z" fill="#ff0000"/><path d="M540.5 38.4l1.3 3.7 4.5-.4-1.4-3.6z" fill="#ff0000"/><path d="M541.2 39.7l3.7-1" class="k"/><path d="M541.7 41.7l1.4 3.6 4.5-.5-1.4-3.5z" fill="#ff1600"/><path d="M543 45l1.4 3.3 4.5-.6-1.4-3.3z" fill="#ff4c00"/><path d="M544.3 47.9l1.4 2.9 4.5-.5-1.4-3z" fill="#ff7800"/><path d="M545.5 49.7l3.6-1" class="k"/><path d="M545.6 50.5l1.4 2.7 4.5-.4-1.4-2.8z" fill="#ff9c00"/><path d="M546.9 52.8l1.4 2.5 4.5-.2-1.4-2.7z" fill="#ffc000"/><path d="M548.2 55l1.4 2.5 4.5 0-1.4-2.7z" fill="#ffdc00"/><path d="M549.5 57.2l1.4 2.3 4.5 .3-1.4-2.6z" fill="#fff500"/><path d="M553.1 59.5l1.5-.6" class="k"/><path d="M550.9 59.2l1.3 2.2 4.5 .5-1.4-2.4z" fill="#f4ff00"/><path d="M551.7 60.2l1.4-.7" class="k"/><path d="M552.2 61.1l1.3 2.2 4.5 .6-1.3-2.3z" fill="#ddff00"/><path d="M553.5 63.1l1.3 2 4.5 .7-1.3-2.2z" fill="#c8ff00"/><path d="M554.8 64.9l1.4 1.9 4.4 .5-1.3-1.8z" fill="#b1ff00"/><path d="M556.1 66.6l1.4 1.7 4.5 .2-1.4-1.4z" fill="#9eff00"/><path d="M557.5 68.1l1.3 1.6 4.5-.1-1.3-1.3z" fill="#8cff00"/><path d="M558.8 69.5l1.4 1.5 4.5-.4-1.4-1.2z" fill="#79ff00"/><path d="M562 70.7l1.4-.9" class="k"/><path d="M560.2 70.8l1.4 1.3 4.5-.7-1.4-1z" fill="#68ff00"/><path d="M561 71.2l1-.5" class="k"/><path d="M561.5 71.9l1.4 1.2 4.5-1-1.4-.8z" fill="#5aff00"/><path d="M562.9 72.9l1.4 1.1 4.5-1.2-1.4-.8z" fill="#4eff00"/><path d="M564.3 73.9l1.4 1.1 4.5-1.4-1.5-1z" fill="#41ff00"/><path d="M565.6 74.8l1.5 1.5 4.4-1.4-1.4-1.5z" fill="#32ff00"/><path d="M567 76l1.4 1.7 4.5-.9-1.5-2.1z" fill="#1bff00"/><path d="M568.4 77.5l1.4 1.6 4.4-.6-1.4-1.9z" fill="#02ff00"/><path d="M569.7 78.8l1.4 1.4 4.5-.2-1.4-1.8z" fill="#00ff33"/><path d="M571.1 80l1.4 1.3 4.4 0-1.4-1.5z" fill="#00ff63"/><path d="M572.5 81.1l1.4 1 4.4 .1-1.4-1.1z" fill="#00ff88"/><path d="M577.4 82.1l.2-.3" class="k"/><path d="M573.9 82l1.4 .8 4.4 0-1.4-.7z" fill="#00ffa1"/><path d="M577.7 82.8l-.3-.7" class="k"/><path d="M575.3 82.7l1.4 .9 4.4-.3-1.4-.6z" fill="#00ffb3"/><path d="M577.9 83.4l-.2-.6" class="k"/><path d="M576.7 83.5l1.4 .8 4.4-.4-1.4-.7z" fill="#00ffc4"/><path d="M577.9 83.9l0-.5" class="k"/><path d="M578.1 84.2l1.4 .8 4.5-.6-1.5-.7z" fill="#00ffd4"/><path d="M579.5 84.9l1.4 .9 4.5-.9-1.5-.6z" fill="#00ffe5"/><path d="M580.9 85.6l1.5 .9 4.4-1-1.5-.7z" fill="#00fff6"/><path d="M582.3 86.4l1.5 .9 4.4-1.3-1.5-.7z" fill="#00fcff"/><path d="M583.7 87.1l1.5 .8 4.4-1.4-1.4-.6z" fill="#00f7ff"/><path d="M585.2 87.8l1.5 .8 4.4-1.5-1.5-.7z" fill="#00f2ff"/><path d="M586.6 88.4l3.1 2 4.2-1.8-3-1.8z" fill="#00e7ff"/><path d="M589.5 90.1l3 2.1 4.3-1.7-3.1-2.2z" fill="#00d5ff"/><path d="M592.3 91.8l3.1 2.6 4.2-1.3-3-2.9z" fill="#00bcff"/><path d="M595.2 94l3.1 2.6 4.2-1.2-3.1-2.7z" fill="#009bff"/><path d="M598.1 96.2l3.1 2.4 4.2-1.3-3.1-2.2z" fill="#007aff"/><path d="M601.3 98.3l2.9-1.6" class="k"/><path d="M601 98.2l3.1 2 4.2-1.4-3.1-1.8z" fill="#0061ff"/><path d="M603.9 99.9l3.2 1.6 4.2-1.5-3.2-1.5z" fill="#0050ff"/><path d="M606.9 101.3l3.2 1.5 4.2-1.6-3.2-1.5z" fill="#0040ff"/><path d="M609.9 102.5l3.2 1.4 4.2-1.7-3.2-1.3z" fill="#0034ff"/><path d="M612.9 103.7l3.2 1.2 4.2-1.8-3.2-1.2z" fill="#002cff"/><path d="M487 91.6l4.1-2.9 4.5-1.4-4.1 3z" fill="#70009c"/><path d="M490.9 89.2l4-1.6 4.6-2.2-4 2.3z" fill="#6a00dc"/><path d="M498.5 85.9l.5-.3" class="k"/><path d="M494.9 87.5l3.9-2.2 4.7-2.6-4.2 3.1z" fill="#4d00f9"/><path d="M495.9 87l2.6-1.1" class="k"/><path d="M498.9 85.5l4.3-6 4.3-2.9-4.3 6.5z" fill="#0036ff"/><path d="M503.2 79.8l3-1.3" class="k"/><path d="M503 80l4.3-8.1 4.3-3.1-4.3 8.3z" fill="#00dcff"/><path d="M508 71.7l2.5-1.1" class="k"/><path d="M507.1 72.5l4.3-10 4.3-2.9-4.3 9.7z" fill="#2fff00"/><path d="M507.4 71.9l.6-.2M511 63.7l3.3-1.3" class="k"/><path d="M511.3 63l4.4-12.3 4.3-2.9-4.5 12.3z" fill="#f4ff00"/><path d="M514.2 55.2l3.4-1.1" class="k"/><path d="M515.5 51.3l4.5-12.9 4.3-1.8-4.5 11.8z" fill="#ff4d00"/><path d="M517.2 46.7l3.6-1.1M523.5 37.1l.6-.1" class="k"/><path d="M519.8 38.9l4.6-10.5 4.3-.7-4.6 9.5z" fill="#ff0000"/><path d="M520.3 38l3.2-.9M524.2 29.3l4.1-.9" class="k"/><path d="M524.2 28.9l4.7-5.2 4.3-.4-4.7 5z" fill="#ee0000"/><path d="M528.5 24l1.4-.6 4.7-.4-1.3 .5z" fill="#d00000"/><path d="M529.9 23.4l1.3 .9 4.7-.2-1.3-1.2z" fill="#d00000"/><path d="M531.2 24.1l1.4 3.2 4.5-.1-1.3-3.4z" fill="#e20000"/><path d="M532.5 26.9l1.4 4.5 4.5 .1-1.3-4.7z" fill="#ff0000"/><path d="M533.9 30.7l3.8-.9" class="k"/><path d="M533.8 31l1.4 4.4 4.5 0-1.4-4.4z" fill="#ff0000"/><path d="M535.1 35l1.3 3.8 4.6-.1-1.4-3.7z" fill="#ff0000"/><path d="M536.4 38.4l1.3 3.9 4.6-.3-1.4-3.7z" fill="#ff0000"/><path d="M537.4 40.7l3.8-1" class="k"/><path d="M537.7 41.9l1.3 3.7 4.6-.4-1.4-3.6z" fill="#ff0a00"/><path d="M539 45.3l1.3 3.3 4.6-.4-1.4-3.3z" fill="#ff4000"/><path d="M540.2 48.3l1.4 2.8 4.6-.4-1.4-2.9z" fill="#ff6e00"/><path d="M541.8 50.9l3.7-1.2" class="k"/><path d="M541.5 50.8l1.4 2.5 4.6-.2-1.4-2.7z" fill="#ff9000"/><path d="M542.9 53l1.3 2.3 4.6 0-1.4-2.5z" fill="#ffb100"/><path d="M544.2 55l1.3 2.2 4.6 .2-1.4-2.4z" fill="#ffcd00"/><path d="M545.5 56.9l1.4 2.2 4.5 .4-1.3-2.4z" fill="#ffe500"/><path d="M546.8 58.8l1.4 2.1 4.5 .5-1.3-2.2z" fill="#fff800"/><path d="M550.1 61l1.6-.8" class="k"/><path d="M548.2 60.6l1.3 2.1 4.5 .6-1.3-2.2z" fill="#f3ff00"/><path d="M549 61.5l1.1-.5" class="k"/><path d="M549.5 62.5l1.3 2.1 4.6 .5-1.4-2z" fill="#deff00"/><path d="M550.8 64.3l1.4 2 4.5 .5-1.3-1.9z" fill="#cbff00"/><path d="M552.2 66.1l1.3 1.9 4.6 .3-1.4-1.7z" fill="#b6ff00"/><path d="M553.5 67.8l1.4 1.8 4.5 0-1.4-1.5z" fill="#a1ff00"/><path d="M554.8 69.4l1.4 1.7 4.6-.2-1.4-1.5z" fill="#8fff00"/><path d="M556.2 70.9l1.4 1.6 4.5-.5-1.4-1.3z" fill="#79ff00"/><path d="M559.1 72.2l1.9-1" class="k"/><path d="M557.5 72.3l1.5 1.5 4.5-.8-1.4-1.2z" fill="#66ff00"/><path d="M558.2 72.7l.9-.5" class="k"/><path d="M558.9 73.6l1.4 1.5 4.6-1.2-1.5-1.1z" fill="#54ff00"/><path d="M560.3 74.9l1.4 1.4 4.5-1.5-1.4-1.1z" fill="#43ff00"/><path d="M561.6 76.1l1.5 1.3 4.5-1.3-1.5-1.5z" fill="#33ff00"/><path d="M563 77.2l1.4 1.2 4.5-.8-1.4-1.7z" fill="#20ff00"/><path d="M564.4 78.2l1.4 1.2 4.5-.5-1.4-1.5z" fill="#0eff00"/><path d="M565.8 79.2l1.4 1.2 4.5-.3-1.4-1.4z" fill="#00ff05"/><path d="M567.2 80.2l1.4 1.1 4.5-.1-1.4-1.2z" fill="#00ff2a"/><path d="M568.5 81.1l1.5 1.1 4.5-.1-1.4-1.1z" fill="#00ff4a"/><path d="M569.9 82.1l1.5 1 4.5-.3-1.4-.9z" fill="#00ff66"/><path d="M571.3 82.9l1.5 1 4.5-.4-1.5-.8z" fill="#00ff7f"/><path d="M572.7 83.8l1.5 1 4.5-.6-1.5-.8z" fill="#00ff96"/><path d="M577.6 84.3l.3-.4" class="k"/><path d="M574.2 84.7l1.4 1 4.5-.8-1.5-.8z" fill="#00ffae"/><path d="M576.4 85.4l1.2-1.1" class="k"/><path d="M575.6 85.5l1.4 1 4.5-.9-1.5-.9z" fill="#00ffc6"/><path d="M576.1 85.7l.3-.3" class="k"/><path d="M577 86.4l1.4 1 4.5-1-1.4-.9z" fill="#00ffde"/><path d="M578.4 87.3l1.5 1 4.4-1.2-1.4-.9z" fill="#00fff6"/><path d="M579.8 88.1l1.5 1 4.5-1.4-1.5-.8z" fill="#00faff"/><path d="M581.2 89l1.5 1 4.5-1.6-1.5-.8z" fill="#00f3ff"/><path d="M582.7 89.8l3 2 4.4-1.7-3.1-1.9z" fill="#00e6ff"/><path d="M585.5 91.5l3.1 2 4.3-1.6-3-2.1z" fill="#00d4ff"/><path d="M588.4 93.2l3.1 2.2 4.3-1.3-3.1-2.5z" fill="#00bfff"/><path d="M591.3 95.1l3.1 2.4 4.3-1.2-3.1-2.5z" fill="#00a3ff"/><path d="M594.2 97.2l3.2 2.4 4.2-1.3-3.1-2.3z" fill="#0083ff"/><path d="M601.2 98.3l.1 0" class="k"/><path d="M597.1 99.3l3.2 2 4.2-1.4-3.1-1.9z" fill="#0068ff"/><path d="M598.4 99.9l2.8-1.6" class="k"/><path d="M600.1 101l3.2 1.8 4.2-1.5-3.2-1.7z" fill="#0055ff"/><path d="M603.1 102.5l3.2 1.7 4.2-1.7-3.2-1.5z" fill="#0044ff"/><path d="M606.1 103.9l3.2 1.5 4.2-1.8-3.2-1.4z" fill="#0036ff"/><path d="M609.1 105.1l3.2 1.3 4.2-1.8-3.2-1.3z" fill="#002cff"/><path d="M482.9 93.1l4.1-2.7 4.5-1.5-4.1 2.8z" fill="#700094"/><path d="M486.8 90.8l4-1.5 4.6-2-3.9 1.7z" fill="#6e00d5"/><path d="M490.8 89.2l4-1.7 4.6-2.4-4.1 2.6z" fill="#5800f4"/><path d="M492.7 88.4l3.2-1.4" class="k"/><path d="M494.8 87.5l4.2-4.9 4.4-3-4.2 5.9z" fill="#0010ff"/><path d="M503.1 79.9l.1-.1" class="k"/><path d="M498.9 83.1l4.2-7.4 4.4-3.7-4.3 8.1z" fill="#00b6ff"/><path d="M500 81.2l3.1-1.3" class="k"/><path d="M503 76.2l4.3-9.8 4.3-3.9-4.3 10z" fill="#00ff01"/><path d="M504.4 73.2l3-1.3M510 64.1l1-.4" class="k"/><path d="M507.1 67l4.4-12.5 4.3-3.7-4.4 12.3z" fill="#d5ff00"/><path d="M507.9 65l2.1-.9M510.9 56.5l3.3-1.3" class="k"/><path d="M511.4 55.1l4.4-14.8 4.4-1.9-4.5 12.9z" fill="#ff6b00"/><path d="M513.7 47.8l3.5-1.1" class="k"/><path d="M515.7 40.9l4.5-11.3 4.4-1.1-4.6 10.5z" fill="#ff0000"/><path d="M516.5 39l3.8-1M520.1 30.2l4.1-.9" class="k"/><path d="M520 30l4.7-5.4 4.4-.8-4.7 5.2z" fill="#ee0000"/><path d="M524.4 25l1.3-.6 4.8-1-1.4 .5z" fill="#ce0000"/><path d="M525.7 24.4l1.3 .2 4.8-.4-1.4-.9z" fill="#cc0000"/><path d="M527 24.4l1.4 2.4 4.6 .5-1.3-3.3z" fill="#d90000"/><path d="M528.4 26.5l1.3 3.6 4.6 1.3-1.3-4.5z" fill="#f60000"/><path d="M533.3 30.9l.6-.2" class="k"/><path d="M529.7 29.7l1.3 4.1 4.6 1.6-1.3-4.5z" fill="#ff0000"/><path d="M530.6 31.8l2.7-.9" class="k"/><path d="M531 33.4l1.3 4.1 4.6 1.3-1.3-3.8z" fill="#ff0000"/><path d="M532.3 37.2l1.3 4.3 4.6 .7-1.3-3.8z" fill="#ff0000"/><path d="M535.1 41.5l2.3-.8" class="k"/><path d="M533.6 41.1l1.3 4 4.6 .5-1.4-3.8z" fill="#ff0000"/><path d="M534 41.8l1.1-.3" class="k"/><path d="M534.9 44.7l1.3 3.5 4.6 .4-1.4-3.4z" fill="#ff2b00"/><path d="M536.2 47.9l1.3 2.9 4.6 .2-1.3-2.8z" fill="#ff5e00"/><path d="M541.8 50.9l0 0" class="k"/><path d="M537.5 50.5l1.3 2.5 4.6 .2-1.3-2.5z" fill="#ff7f00"/><path d="M538.6 52.1l3.2-1.2" class="k"/><path d="M538.8 52.7l1.3 2.3 4.6 .3-1.3-2.4z" fill="#ff9d00"/><path d="M540.1 54.7l1.3 2.1 4.7 .4-1.4-2.2z" fill="#ffba00"/><path d="M541.4 56.6l1.4 2 4.6 .4-1.3-2.1z" fill="#ffd100"/><path d="M542.8 58.3l1.3 2 4.6 .6-1.3-2.1z" fill="#ffe600"/><path d="M544.1 60.1l1.3 2.1 4.6 .5-1.3-2.1z" fill="#fff800"/><path d="M547.6 62.3l1.4-.8" class="k"/><path d="M545.4 61.9l1.4 2.1 4.6 .5-1.4-2z" fill="#f4ff00"/><path d="M546.4 62.9l1.2-.6" class="k"/><path d="M546.8 63.7l1.3 2.1 4.6 .5-1.3-2z" fill="#e0ff00"/><path d="M548.1 65.6l1.4 2 4.6 .4-1.4-1.9z" fill="#cdff00"/><path d="M549.5 67.4l1.3 2 4.6 .2-1.3-1.8z" fill="#b8ff00"/><path d="M550.8 69.1l1.4 1.9 4.6 .1-1.4-1.7z" fill="#a3ff00"/><path d="M552.2 70.8l1.3 1.8 4.6-.2-1.4-1.5z" fill="#8fff00"/><path d="M553.5 72.4l1.4 1.7 4.6-.4-1.4-1.5z" fill="#77ff00"/><path d="M555.8 73.9l2.4-1.2" class="k"/><path d="M554.9 73.9l1.4 1.6 4.6-.6-1.4-1.4z" fill="#60ff00"/><path d="M555.3 74.1l.5-.2" class="k"/><path d="M556.2 75.3l1.5 1.6 4.5-.8-1.4-1.4z" fill="#4bff00"/><path d="M557.6 76.7l1.4 1.3 4.6-.8-1.4-1.3z" fill="#39ff00"/><path d="M559 77.8l1.4 1 4.6-.5-1.4-1.3z" fill="#2aff00"/><path d="M560.4 78.7l1.4 1 4.6-.4-1.5-1.2z" fill="#1dff00"/><path d="M561.8 79.5l1.4 1.1 4.5-.3-1.4-1.1z" fill="#11ff00"/><path d="M563.2 80.4l1.4 1.2 4.5-.4-1.4-1.1z" fill="#04ff00"/><path d="M564.6 81.4l1.4 1.1 4.5-.4-1.4-1z" fill="#00ff16"/><path d="M566 82.4l1.4 1.2 4.5-.6-1.4-1z" fill="#00ff35"/><path d="M567.4 83.4l1.4 1.1 4.5-.7-1.4-1z" fill="#00ff54"/><path d="M568.8 84.4l1.4 1.1 4.6-.8-1.5-1z" fill="#00ff72"/><path d="M570.2 85.4l1.4 1.1 4.6-1-1.5-1z" fill="#00ff8f"/><path d="M571.6 86.3l1.5 1.1 4.5-1-1.5-1z" fill="#00ffac"/><path d="M573.2 87.2l2.9-1.5" class="k"/><path d="M573 87.3l1.5 1.1 4.5-1.1-1.5-1.1z" fill="#00ffc9"/><path d="M574.4 88.2l1.5 1.1 4.5-1.2-1.5-1z" fill="#00ffe6"/><path d="M575.8 89.1l1.5 1.2 4.5-1.4-1.4-1z" fill="#00feff"/><path d="M577.3 90.1l1.5 1.1 4.5-1.4-1.5-1z" fill="#00f5ff"/><path d="M578.7 91l3.1 2 4.3-1.5-3-2z" fill="#00e7ff"/><path d="M581.6 92.7l3.1 2.1 4.3-1.5-3.1-2.1z" fill="#00d5ff"/><path d="M584.5 94.4l3.1 2.1 4.3-1.3-3.1-2.2z" fill="#00c2ff"/><path d="M587.4 96.2l3.1 2.4 4.3-1.3-3.1-2.4z" fill="#00a9ff"/><path d="M590.3 98.3l3.1 2.4 4.3-1.3-3.1-2.4z" fill="#008bff"/><path d="M593.2 100.4l3.2 2.1 4.3-1.4-3.2-2.1z" fill="#006fff"/><path d="M595.3 101.5l3.1-1.6" class="k"/><path d="M596.2 102.2l3.2 1.8 4.3-1.5-3.2-1.7z" fill="#005aff"/><path d="M599.2 103.7l3.2 1.8 4.3-1.6-3.2-1.7z" fill="#0048ff"/><path d="M602.2 105.2l3.2 1.6 4.3-1.7-3.3-1.5z" fill="#0038ff"/><path d="M605.2 106.5l3.2 1.4 4.3-1.8-3.2-1.3z" fill="#002cff"/><path d="M478.7 94.6l4.1-2.6 4.5-1.5-4 2.7z" fill="#6e008c"/><path d="M482.6 92.4l4-1.5 4.7-1.9-3.9 1.5z" fill="#7000ce"/><path d="M486.6 90.9l4.1-1.3 4.6-2.4-4 1.9z" fill="#6000ef"/><path d="M489.4 89.8l3.3-1.4" class="k"/><path d="M490.6 89.5l4.2-3.8 4.5-3-4.3 4.9z" fill="#2307ff"/><path d="M494.7 86.2l4.2-6.3 4.4-4.2-4.2 7.5z" fill="#0083ff"/><path d="M497.2 82.7l2.8-1.5" class="k"/><path d="M498.8 80.5l4.3-9 4.3-5-4.3 9.8z" fill="#00ff9f"/><path d="M501.7 74.7l2.7-1.5" class="k"/><path d="M502.9 72.1l4.4-12.7 4.4-4.8-4.4 12.4z" fill="#a2ff00"/><path d="M505 66.3l2.9-1.3M509.6 57l1.3-.5" class="k"/><path d="M507.2 60l4.4-17.4 4.4-2.3-4.5 14.8z" fill="#ff8e00"/><path d="M507.8 57.7l1.8-.7M510.1 48.9l3.6-1.1" class="k"/><path d="M511.4 43.2l4.6-12 4.4-1.6-4.6 11.3z" fill="#ff0000"/><path d="M512.7 40l3.8-1M518.2 30.6l1.9-.4" class="k"/><path d="M515.8 31.7l4.6-5.9 4.5-1-4.7 5.4z" fill="#f10000"/><path d="M516.3 31.2l1.9-.6" class="k"/><path d="M520.1 26.2l1.3-.9 4.9-1-1.4 .6z" fill="#d00000"/><path d="M521.4 25.4l1.4-.5 4.8-.4-1.3-.2z" fill="#c90000"/><path d="M522.8 24.8l1.3 1 4.8 1-1.3-2.5z" fill="#ce0000"/><path d="M524.2 25.6l1.2 2 4.7 2.5-1.2-3.6z" fill="#e10000"/><path d="M525.5 27.4l1.2 3 4.7 3.5-1.2-4z" fill="#fb0000"/><path d="M529.4 32.3l1.2-.5" class="k"/><path d="M526.9 30.2l1.2 4.6 4.6 2.8-1.2-4z" fill="#ff0000"/><path d="M527.8 32.9l1.6-.6" class="k"/><path d="M528.2 34.4l1.2 5 4.6 2.1-1.2-4.3z" fill="#ff0000"/><path d="M529.4 39l1.3 4.4 4.6 1.7-1.2-4z" fill="#ff0000"/><path d="M530.9 43l3.1-1.2" class="k"/><path d="M530.7 43l1.3 3.7 4.6 1.5-1.2-3.5z" fill="#ff0600"/><path d="M532 46.3l1.3 3.2 4.7 1.3-1.3-2.9z" fill="#ff3800"/><path d="M533.3 49.2l1.3 2.9 4.7 .9-1.3-2.5z" fill="#ff6500"/><path d="M537.6 52.5l1-.4" class="k"/><path d="M534.6 51.8l1.4 2.5 4.6 .7-1.3-2.3z" fill="#ff8400"/><path d="M535.8 53.4l1.8-.9" class="k"/><path d="M536 54l1.3 2.2 4.7 .6-1.3-2.1z" fill="#ff9f00"/><path d="M537.3 55.9l1.3 2.1 4.7 .5-1.3-1.9z" fill="#ffba00"/><path d="M538.6 57.7l1.4 2.1 4.7 .5-1.4-2z" fill="#ffcf00"/><path d="M540 59.5l1.3 2.1 4.7 .5-1.3-2z" fill="#ffe400"/><path d="M541.3 61.3l1.4 2.1 4.6 .6-1.3-2.1z" fill="#fff600"/><path d="M545.2 63.6l1.2-.7" class="k"/><path d="M542.7 63.1l1.3 2.1 4.7 .6-1.4-2.1z" fill="#f6ff00"/><path d="M543.7 64.4l1.5-.8" class="k"/><path d="M544 65l1.4 2.1 4.6 .5-1.3-2.1z" fill="#e2ff00"/><path d="M545.4 66.8l1.3 2 4.7 .5-1.4-1.9z" fill="#cfff00"/><path d="M546.7 68.6l1.4 1.9 4.6 .5-1.3-1.9z" fill="#baff00"/><path d="M548.1 70.3l1.3 1.9 4.7 .3-1.4-1.7z" fill="#a5ff00"/><path d="M549.4 71.9l1.4 1.8 4.7 .3-1.4-1.7z" fill="#91ff00"/><path d="M550.8 73.5l1.4 1.7 4.6 .3-1.4-1.7z" fill="#78ff00"/><path d="M553.7 75.2l1.6-1.1" class="k"/><path d="M552.2 75l1.4 1.7 4.6 .1-1.4-1.5z" fill="#61ff00"/><path d="M553 75.7l.7-.5" class="k"/><path d="M553.5 76.5l1.4 1.3 4.7 .1-1.4-1.3z" fill="#4cff00"/><path d="M554.9 77.7l1.4 1.1 4.7-.1-1.4-1z" fill="#3dff00"/><path d="M556.3 78.7l1.4 1.1 4.7-.2-1.4-1z" fill="#31ff00"/><path d="M557.7 79.7l1.4 1.2 4.7-.4-1.5-1.1z" fill="#24ff00"/><path d="M559.1 80.7l1.4 1.2 4.6-.4-1.4-1.1z" fill="#17ff00"/><path d="M560.5 81.8l1.4 1.3 4.6-.7-1.4-1.1z" fill="#09ff00"/><path d="M561.9 82.9l1.4 1.3 4.6-.8-1.4-1.1z" fill="#00ff0d"/><path d="M563.3 84l1.5 1.3 4.6-.9-1.5-1.1z" fill="#00ff32"/><path d="M564.7 85.1l1.5 1.3 4.6-1-1.5-1.2z" fill="#00ff55"/><path d="M566.1 86.2l1.5 1.2 4.6-1.1-1.5-1.1z" fill="#00ff77"/><path d="M567.5 87.2l1.5 1.2 4.6-1.1-1.5-1.2z" fill="#00ff98"/><path d="M572.8 87.4l.4-.2" class="k"/><path d="M569 88.2l1.4 1.2 4.6-1.2-1.5-1.1z" fill="#00ffb7"/><path d="M569.9 88.7l2.9-1.3" class="k"/><path d="M570.4 89.2l1.5 1.1 4.5-1.2-1.4-1.1z" fill="#00ffd5"/><path d="M571.8 90.1l1.5 1.2 4.6-1.2-1.5-1.1z" fill="#00fff3"/><path d="M573.2 91.1l1.5 1.1 4.6-1.2-1.5-1.1z" fill="#00f9ff"/><path d="M574.7 92l3.1 2 4.4-1.3-3.1-2z" fill="#00ebff"/><path d="M577.6 93.6l3.1 2.2 4.4-1.3-3.1-2.1z" fill="#00d9ff"/><path d="M580.5 95.4l3.1 2.2 4.4-1.3-3.1-2.1z" fill="#00c7ff"/><path d="M583.4 97.3l3.1 2.4 4.4-1.4-3.1-2.4z" fill="#00afff"/><path d="M586.3 99.4l3.2 2.4 4.3-1.4-3.1-2.4z" fill="#0093ff"/><path d="M589.3 101.5l3.1 2.1 4.4-1.4-3.2-2.1z" fill="#0076ff"/><path d="M592.2 103.1l3.1-1.6" class="k"/><path d="M592.2 103.3l3.2 1.9 4.4-1.4-3.2-1.9z" fill="#0060ff"/><path d="M595.2 104.9l3.2 1.9 4.4-1.6-3.2-1.7z" fill="#004dff"/><path d="M598.2 106.5l3.3 1.7 4.3-1.7-3.2-1.6z" fill="#003bff"/><path d="M601.2 107.9l3.3 1.5 4.3-1.8-3.2-1.4z" fill="#002dff"/><path d="M474.5 96.1l4-2.4 4.7-1.5-4 2.5z" fill="#6b0085"/><path d="M478.4 94.1l3.9-1.7 4.8-1.7-3.9 1.5z" fill="#7000c5"/><path d="M482.3 92.5l4.2-1.1 4.6-2.2-4 1.4z" fill="#6400e8"/><path d="M486.1 91.3l3.3-1.5" class="k"/><path d="M486.3 91.3l4-2.5 4.8-3-4.2 3.8z" fill="#4100ff"/><path d="M490.4 89l4.3-5 4.4-4-4.2 6.3z" fill="#004bff"/><path d="M494.7 84.3l2.5-1.6" class="k"/><path d="M494.5 84.5l4.3-7.7 4.4-5.2-4.2 8.9z" fill="#00e4ff"/><path d="M499.8 75.9l1.9-1.2" class="k"/><path d="M498.7 77.3l4.3-12.6 4.4-5.3-4.3 12.7z" fill="#52ff00"/><path d="M499.1 76.2l.7-.3M502.1 67.7l2.9-1.4" class="k"/><path d="M502.9 65.3l4.4-19.9 4.4-2.8-4.4 17.4z" fill="#ffbd00"/><path d="M504.4 58.9l3.4-1.2M506.4 50l3.7-1.1" class="k"/><path d="M507.2 45.9l4.5-12.7 4.4-2-4.5 12z" fill="#ff0000"/><path d="M509 41.1l3.7-1.1" class="k"/><path d="M511.5 33.7l4.6-6.5 4.5-1.3-4.6 5.9z" fill="#f70000"/><path d="M512.6 32.2l3.7-1" class="k"/><path d="M515.8 27.6l1.3-1.3 4.9-1.1-1.3 .9z" fill="#d20000"/><path d="M517.2 26.4l1.3-1.1 4.9-.5-1.4 .5z" fill="#c80000"/><path d="M518.5 25.4l1.3-.4 4.9 .8-1.3-1z" fill="#c30000"/><path d="M519.8 24.9l1.4 .5 4.8 2.3-1.3-2z" fill="#c90000"/><path d="M521.2 25.3l1.3 2.1 4.8 3.2-1.3-3z" fill="#d80000"/><path d="M522.6 27.2l1.2 4.7 4.7 3-1.2-4.6z" fill="#f70000"/><path d="M526.5 33.4l1.3-.5" class="k"/><path d="M523.9 31.6l1.3 5.3 4.6 2.6-1.2-5z" fill="#ff0000"/><path d="M524.7 34.1l1.8-.7" class="k"/><path d="M525.2 36.5l1.3 4.5 4.6 2.4-1.2-4.3z" fill="#ff0000"/><path d="M530.7 43.1l.2-.1" class="k"/><path d="M526.5 40.6l1.3 3.8 4.7 2.3-1.3-3.6z" fill="#ff0000"/><path d="M528 44.2l2.7-1.1" class="k"/><path d="M527.8 44.1l1.3 3.6 4.7 1.9-1.3-3.2z" fill="#ff0700"/><path d="M529.1 47.4l1.3 3.2 4.7 1.5-1.2-2.8z" fill="#ff3700"/><path d="M530.5 50.3l1.3 2.9 4.7 1.1-1.3-2.5z" fill="#ff6400"/><path d="M534.9 53.8l.9-.4" class="k"/><path d="M531.8 52.9l1.3 2.4 4.7 .9-1.3-2.2z" fill="#ff8200"/><path d="M533.1 54.7l1.8-.9" class="k"/><path d="M533.1 55.1l1.3 2.2 4.8 .7-1.3-2z" fill="#ff9c00"/><path d="M534.4 57.1l1.4 2.1 4.7 .6-1.3-2z" fill="#ffb700"/><path d="M535.8 58.9l1.3 2.1 4.8 .6-1.4-2.1z" fill="#ffcd00"/><path d="M537.1 60.8l1.4 2.1 4.7 .5-1.3-2.1z" fill="#ffe200"/><path d="M538.5 62.6l1.4 2.1 4.7 .5-1.4-2.1z" fill="#fff500"/><path d="M542.7 64.9l1-.5" class="k"/><path d="M539.9 64.5l1.3 2 4.7 .6-1.3-2.1z" fill="#f8ff00"/><path d="M541 65.8l1.7-.9" class="k"/><path d="M541.2 66.3l1.4 2 4.7 .5-1.4-2z" fill="#e4ff00"/><path d="M542.6 68l1.3 2 4.7 .5-1.3-1.9z" fill="#d2ff00"/><path d="M543.9 69.7l1.4 1.9 4.7 .5-1.4-1.8z" fill="#bfff00"/><path d="M545.3 71.4l1.4 1.8 4.7 .5-1.4-1.8z" fill="#abff00"/><path d="M546.7 72.9l1.3 1.8 4.7 .5-1.3-1.7z" fill="#98ff00"/><path d="M548 74.5l1.4 1.6 4.7 .5-1.4-1.6z" fill="#82ff00"/><path d="M552.2 76.3l.8-.6" class="k"/><path d="M549.4 75.9l1.4 1.5 4.7 .4-1.4-1.3z" fill="#6cff00"/><path d="M551.2 77.4l1-1.1" class="k"/><path d="M550.8 77.3l1.4 1.4 4.7 .1-1.4-1.2z" fill="#59ff00"/><path d="M551.1 77.4l.1 0" class="k"/><path d="M552.2 78.5l1.4 1.4 4.7-.1-1.4-1.2z" fill="#48ff00"/><path d="M553.6 79.7l1.4 1.4 4.7-.3-1.4-1.2z" fill="#38ff00"/><path d="M555 81l1.4 1.4 4.7-.6-1.4-1.2z" fill="#29ff00"/><path d="M556.4 82.2l1.4 1.4 4.7-.7-1.4-1.2z" fill="#19ff00"/><path d="M557.8 83.4l1.4 1.4 4.7-.8-1.4-1.3z" fill="#09ff00"/><path d="M559.2 84.6l1.5 1.4 4.6-.9-1.4-1.2z" fill="#00ff13"/><path d="M560.6 85.8l1.5 1.4 4.6-1-1.4-1.3z" fill="#00ff3b"/><path d="M562 87l1.5 1.3 4.6-1.1-1.4-1.2z" fill="#00ff61"/><path d="M563.4 88.1l1.5 1.3 4.7-1.2-1.5-1.1z" fill="#00ff85"/><path d="M564.9 89.2l1.5 1.2 4.6-1.2-1.5-1.1z" fill="#00ffa6"/><path d="M566.9 90.1l3-1.4" class="k"/><path d="M566.3 90.2l1.5 1.1 4.6-1.2-1.5-1.1z" fill="#00ffc4"/><path d="M566.7 90.2l.2-.1" class="k"/><path d="M567.7 91.1l1.5 1.1 4.6-1.1-1.4-1.1z" fill="#00ffe1"/><path d="M569.2 92l1.5 1 4.6-1-1.5-1.1z" fill="#00fffd"/><path d="M570.6 92.8l3.1 2 4.5-1.1-3.1-2z" fill="#00f3ff"/><path d="M573.5 94.5l3.1 2.1 4.5-1.1-3.1-2.1z" fill="#00e1ff"/><path d="M576.4 96.3l3.1 2.3 4.5-1.3-3.1-2.1z" fill="#00cdff"/><path d="M579.4 98.3l3.1 2.5 4.4-1.3-3.1-2.5z" fill="#00b6ff"/><path d="M582.3 100.5l3.1 2.4 4.5-1.3-3.2-2.5z" fill="#009aff"/><path d="M585.2 102.6l3.2 2.2 4.4-1.4-3.1-2.2z" fill="#007dff"/><path d="M590.8 103.9l1.4-.8" class="k"/><path d="M588.2 104.5l3.2 2 4.4-1.5-3.2-1.9z" fill="#0066ff"/><path d="M589.1 104.8l1.7-.9" class="k"/><path d="M591.2 106.2l3.2 1.9 4.4-1.6-3.2-1.8z" fill="#0052ff"/><path d="M594.2 107.8l3.3 1.8 4.3-1.7-3.2-1.7z" fill="#003fff"/><path d="M597.3 109.3l3.2 1.7 4.4-1.9-3.3-1.5z" fill="#002fff"/><path d="M470.2 97.7l4-2.3 4.7-1.6-3.9 2.4z" fill="#67007e"/><path d="M474.1 95.7l3.9-1.8 4.9-1.6-3.9 1.7z" fill="#7000bc"/><path d="M478 94l4.2-.9 4.7-2.1-4.1 1.1z" fill="#6600e3"/><path d="M483.9 92.2l2.2-.9" class="k"/><path d="M482.1 92.9l4-1.6 4.8-2.6-4.1 2.7z" fill="#4c00f9"/><path d="M482.6 92.7l1.3-.5" class="k"/><path d="M486.1 91.3l4.3-4.2 4.5-3-4.2 5z" fill="#001cff"/><path d="M494.6 84.3l.1 0" class="k"/><path d="M490.2 87.7l4.3-6.7 4.5-4.2-4.3 7.8z" fill="#00afff"/><path d="M491.5 85.8l3.1-1.5" class="k"/><path d="M494.4 81.6l4.3-11.9 4.5-5-4.4 12.7z" fill="#06ff00"/><path d="M495.9 77.7l3.2-1.5M499.8 68.8l2.3-1.1" class="k"/><path d="M498.6 70.3l4.4-21.6 4.4-3.3-4.4 19.9z" fill="#ffe700"/><path d="M498.9 69.1l.9-.3M500.7 60.2l3.7-1.3M502.6 51.2l3.8-1.2" class="k"/><path d="M502.8 49.3l4.5-13.8 4.5-2.3-4.5 12.8z" fill="#ff0000"/><path d="M505.2 42.2l3.8-1.1" class="k"/><path d="M507.1 36l4.7-7.2 4.5-1.5-4.6 6.5z" fill="#ff0000"/><path d="M509 33.2l3.6-1" class="k"/><path d="M511.5 29.2l1.3-1.8 4.9-1.2-1.3 1.3z" fill="#d60000"/><path d="M512.8 27.5l1.3-1.4 5-.9-1.4 1.1z" fill="#c70000"/><path d="M514.1 26.2l1.4-1 4.9-.2-1.3 .3z" fill="#bb0000"/><path d="M515.5 25.2l1.3-.2 5 .5-1.4-.5z" fill="#b60000"/><path d="M516.9 24.9l1.3 1.8 4.9 .9-1.4-2.2z" fill="#bf0000"/><path d="M518.2 26.4l1.4 3.9 4.7 1.7-1.3-4.8z" fill="#da0000"/><path d="M519.6 29.9l1.3 4.7 4.7 2.4-1.3-5.4z" fill="#ff0000"/><path d="M522.1 34.9l2.6-.8" class="k"/><path d="M520.9 34.2l1.3 4.3 4.7 2.6-1.2-4.5z" fill="#ff0000"/><path d="M521.4 35.2l.7-.3" class="k"/><path d="M522.2 38.1l1.3 3.8 4.8 2.6-1.3-3.8z" fill="#ff0000"/><path d="M528 44.3l0-.1" class="k"/><path d="M523.6 41.6l1.2 3.9 4.8 2.3-1.3-3.6z" fill="#ff0000"/><path d="M525.3 45.5l2.7-1.2" class="k"/><path d="M524.9 45.2l1.3 3.7 4.7 1.8-1.2-3.2z" fill="#ff0400"/><path d="M525.2 45.5l.1 0" class="k"/><path d="M526.2 48.6l1.3 3.2 4.8 1.4-1.3-2.8z" fill="#ff3400"/><path d="M527.5 51.5l1.3 2.8 4.8 1.1-1.3-2.4z" fill="#ff6100"/><path d="M532.5 55l.6-.3" class="k"/><path d="M528.9 54l1.3 2.5 4.8 .8-1.3-2.2z" fill="#ff7e00"/><path d="M530.3 56.1l2.2-1.1" class="k"/><path d="M530.2 56.2l1.4 2.4 4.7 .6-1.3-2.1z" fill="#ff9900"/><path d="M531.5 58.3l1.4 2.2 4.8 .5-1.4-2.1z" fill="#ffb500"/><path d="M532.9 60.3l1.4 2.1 4.7 .4-1.3-2z" fill="#ffcc00"/><path d="M534.3 62.2l1.3 2.1 4.8 .4-1.4-2.1z" fill="#ffe200"/><path d="M535.6 64.1l1.4 2 4.8 .4-1.4-2.1z" fill="#fff500"/><path d="M540.1 66.3l.9-.5" class="k"/><path d="M537 65.9l1.4 2 4.7 .4-1.3-2z" fill="#f9ff00"/><path d="M538.3 67.3l1.8-1" class="k"/><path d="M538.4 67.6l1.3 2 4.8 .4-1.4-2z" fill="#e7ff00"/><path d="M539.7 69.3l1.4 1.9 4.8 .4-1.4-1.9z" fill="#d6ff00"/><path d="M541.1 71l1.4 1.8 4.7 .4-1.3-1.8z" fill="#c5ff00"/><path d="M542.5 72.6l1.4 1.7 4.7 .4-1.4-1.8z" fill="#b1ff00"/><path d="M543.9 74.1l1.3 1.7 4.8 .3-1.4-1.6z" fill="#9fff00"/><path d="M545.2 75.6l1.4 1.6 4.8 .2-1.4-1.5z" fill="#8dff00"/><path d="M546.6 77l1.4 1.6 4.8 .1-1.4-1.5z" fill="#77ff00"/><path d="M549.6 78.5l1.5-1.1" class="k"/><path d="M548 78.4l1.4 1.6 4.8-.1-1.4-1.4z" fill="#63ff00"/><path d="M548.9 79l.7-.5" class="k"/><path d="M549.4 79.8l1.4 1.6 4.8-.3-1.4-1.4z" fill="#4fff00"/><path d="M550.8 81.2l1.5 1.5 4.7-.4-1.5-1.4z" fill="#3bff00"/><path d="M552.2 82.5l1.5 1.5 4.7-.5-1.5-1.4z" fill="#29ff00"/><path d="M553.6 83.8l1.5 1.5 4.7-.6-1.5-1.4z" fill="#17ff00"/><path d="M555 85.1l1.5 1.5 4.7-.7-1.5-1.4z" fill="#05ff00"/><path d="M556.4 86.4l1.5 1.5 4.7-.9-1.4-1.3z" fill="#00ff1e"/><path d="M557.9 87.7l1.4 1.4 4.7-.9-1.4-1.3z" fill="#00ff48"/><path d="M559.3 88.9l1.5 1.3 4.7-1-1.5-1.2z" fill="#00ff6e"/><path d="M560.7 90l1.5 1.2 4.7-1-1.5-1.2z" fill="#00ff91"/><path d="M562.1 91.1l1.5 1.1 4.7-1.1-1.5-1.1z" fill="#00ffb0"/><path d="M563.6 91.9l3.1-1.7" class="k"/><path d="M563.6 92l1.5 1 4.7-1-1.5-1z" fill="#00ffcc"/><path d="M565 92.9l1.5 1 4.7-1-1.5-1.1z" fill="#00ffe5"/><path d="M566.5 93.7l3.1 1.9 4.5-1-3.1-2z" fill="#00fbff"/><path d="M569.4 95.3l3.1 2.2 4.5-1.1-3.1-2.1z" fill="#00eaff"/><path d="M572.3 97.2l3.1 2.4 4.5-1.2-3.1-2.3z" fill="#00d5ff"/><path d="M575.3 99.3l3.1 2.5 4.5-1.2-3.1-2.5z" fill="#00bdff"/><path d="M578.2 101.5l3.2 2.5 4.4-1.3-3.1-2.5z" fill="#00a2ff"/><path d="M581.2 103.7l3.1 2.3 4.5-1.4-3.2-2.2z" fill="#0085ff"/><path d="M584.1 105.7l3.2 2.1 4.5-1.6-3.2-2z" fill="#006cff"/><path d="M585.8 106.5l3.3-1.7" class="k"/><path d="M587.1 107.5l3.3 2 4.4-1.7-3.2-1.9z" fill="#0057ff"/><path d="M590.2 109.2l3.2 1.9 4.5-1.8-3.3-1.8z" fill="#0042ff"/><path d="M593.2 110.8l3.3 1.7 4.4-1.8-3.2-1.7z" fill="#0030ff"/><path d="M465.9 99.3l3.9-2.3 4.9-1.5-4 2.2z" fill="#640078"/><path d="M469.8 97.3l3.9-1.9 4.9-1.6-3.9 1.8z" fill="#7000b5"/><path d="M473.7 95.6l4.1-1 4.8-1.9-4.1 1z" fill="#6900df"/><path d="M477.7 94.5l4.1-1.4 4.8-2.1-4 1.9z" fill="#5400f6"/><path d="M478.7 94.1l3.9-1.4" class="k"/><path d="M481.8 93.1l4.2-3.5 4.7-2.3-4.3 4.1z" fill="#110cff"/><path d="M485.9 90.1l4.3-5.8 4.6-3.2-4.3 6.6z" fill="#0082ff"/><path d="M488.2 87.3l3.3-1.5" class="k"/><path d="M490.1 84.9l4.3-10.3 4.5-4.8-4.3 11.8z" fill="#00ff8e"/><path d="M492.6 79.1l3.3-1.4" class="k"/><path d="M494.3 75.2l4.3-20.5 4.5-6-4.4 21.6z" fill="#ebff00"/><path d="M495.3 70.4l3.6-1.3M497.2 61.4l3.5-1.2M501 51.7l1.6-.5" class="k"/><path d="M498.5 55.3l4.4-14.4 4.6-5.3-4.5 13.7z" fill="#ff0000"/><path d="M499.4 52.4l1.6-.7M502.2 43.4l3-1.2" class="k"/><path d="M502.8 41.4l4.5-9.2 4.6-3.4-4.6 7.3z" fill="#ff0000"/><path d="M506.4 34.5l2.6-1.3" class="k"/><path d="M507.1 32.8l1.3-2.5 4.9-3.1-1.3 1.7z" fill="#e30000"/><path d="M508.4 30.4l1.3-1.9 5-2.6-1.3 1.4z" fill="#cf0000"/><path d="M509.8 28.5l1.3-1.3 5-2.1-1.4 .9z" fill="#c00000"/><path d="M511.1 27.2l1.3-.5 5-1.7-1.3 .1z" fill="#b40000"/><path d="M512.4 26.6l1.4 1.3 5-1.3-1.5-1.8z" fill="#b80000"/><path d="M513.8 27.6l1.4 2.1 4.9 .6-1.4-3.9z" fill="#cc0000"/><path d="M515.2 29.4l1.3 2.7 4.8 2.6-1.3-4.8z" fill="#e70000"/><path d="M516.5 31.8l1.3 2.9 4.8 3.9-1.2-4.2z" fill="#ff0000"/><path d="M519.6 36l1.8-.8" class="k"/><path d="M517.9 34.5l1.3 3 4.8 4.6-1.3-3.7z" fill="#ff0000"/><path d="M518.9 36.5l.7-.5" class="k"/><path d="M519.3 37.4l1.2 4 4.8 4.2-1.2-3.7z" fill="#ff0000"/><path d="M520.6 41.1l1.2 4.3 4.8 3.6-1.2-3.6z" fill="#ff0000"/><path d="M523.5 46.5l1.7-1" class="k"/><path d="M521.9 45.2l1.3 4 4.8 2.7-1.3-3.1z" fill="#ff0000"/><path d="M522.7 46.9l.8-.4" class="k"/><path d="M523.2 48.9l1.3 3.7 4.9 1.7-1.3-2.7z" fill="#ff2c00"/><path d="M524.6 52.3l1.3 3.3 4.8 .9-1.3-2.5z" fill="#ff5c00"/><path d="M530 56.3l.3-.2" class="k"/><path d="M525.9 55.3l1.4 2.8 4.8 .5-1.4-2.3z" fill="#ff7e00"/><path d="M527.2 57.5l2.8-1.2" class="k"/><path d="M527.2 57.9l1.4 2.4 4.9 .2-1.4-2.2z" fill="#ff9b00"/><path d="M528.6 60l1.4 2.3 4.8 .1-1.4-2.2z" fill="#ffb700"/><path d="M530 62l1.3 2.2 4.9 .1-1.4-2.2z" fill="#ffcf00"/><path d="M531.3 63.9l1.4 2.1 4.8 .1-1.3-2.1z" fill="#ffe400"/><path d="M532.7 65.8l1.4 2 4.8 0-1.4-2z" fill="#fff500"/><path d="M537.3 67.7l1-.4" class="k"/><path d="M534.1 67.5l1.4 2 4.8 0-1.4-1.9z" fill="#f9ff00"/><path d="M535.2 68.7l2.1-1" class="k"/><path d="M535.4 69.3l1.4 1.8 4.9 .1-1.4-1.9z" fill="#e8ff00"/><path d="M536.8 70.9l1.4 1.8 4.8 .1-1.4-1.9z" fill="#d7ff00"/><path d="M538.2 72.5l1.4 1.8 4.8 0-1.4-1.8z" fill="#c7ff00"/><path d="M539.6 74.1l1.4 1.7 4.8 0-1.4-1.7z" fill="#b5ff00"/><path d="M541 75.6l1.4 1.6 4.8 0-1.4-1.7z" fill="#a3ff00"/><path d="M542.4 77l1.4 1.7 4.8-.1-1.4-1.6z" fill="#92ff00"/><path d="M543.8 78.4l1.4 1.7 4.8-.2-1.4-1.5z" fill="#7cff00"/><path d="M547.5 79.9l1.4-.9" class="k"/><path d="M545.2 79.9l1.4 1.6 4.8-.2-1.4-1.6z" fill="#66ff00"/><path d="M546.2 80.7l1.3-.8" class="k"/><path d="M546.6 81.3l1.4 1.5 4.8-.2-1.4-1.5z" fill="#51ff00"/><path d="M548 82.6l1.4 1.6 4.8-.3-1.4-1.5z" fill="#3cff00"/><path d="M549.4 84l1.5 1.6 4.7-.4-1.4-1.5z" fill="#29ff00"/><path d="M550.8 85.4l1.5 1.5 4.7-.4-1.4-1.5z" fill="#16ff00"/><path d="M552.2 86.7l1.5 1.6 4.8-.5-1.5-1.5z" fill="#04ff00"/><path d="M553.7 88.1l1.4 1.4 4.8-.5-1.5-1.4z" fill="#00ff23"/><path d="M555.1 89.3l1.5 1.4 4.7-.6-1.5-1.3z" fill="#00ff4d"/><path d="M556.5 90.5l1.5 1.3 4.7-.7-1.4-1.2z" fill="#00ff72"/><path d="M558 91.7l1.4 1.1 4.8-.8-1.5-1.1z" fill="#00ff93"/><path d="M563.3 92.1l.3-.2" class="k"/><path d="M559.4 92.7l1.5 1 4.7-.8-1.5-1z" fill="#00ffaf"/><path d="M561.3 93.6l2-1.5" class="k"/><path d="M560.8 93.6l1.5 1 4.8-.9-1.5-1z" fill="#00ffc9"/><path d="M561.2 93.6l.1 0" class="k"/><path d="M562.3 94.4l3.1 2 4.6-1-3.1-2z" fill="#00ffee"/><path d="M565.2 96.1l3.1 2.1 4.6-.9-3.1-2.2z" fill="#00f3ff"/><path d="M568.2 97.9l3.1 2.4 4.5-.9-3.1-2.4z" fill="#00dfff"/><path d="M571.1 100l3.1 2.5 4.6-.9-3.1-2.5z" fill="#00c7ff"/><path d="M574.1 102.2l3.1 2.7 4.5-1.1-3.1-2.5z" fill="#00acff"/><path d="M577 104.6l3.2 2.6 4.5-1.5-3.1-2.2z" fill="#008dff"/><path d="M580 106.9l3.2 2.3 4.5-1.7-3.2-2.1z" fill="#0072ff"/><path d="M582.3 108.2l3.5-1.7" class="k"/><path d="M583 108.9l3.2 2.1 4.6-1.8-3.3-2z" fill="#005aff"/><path d="M586 110.7l3.3 1.9 4.5-1.8-3.2-1.9z" fill="#0044ff"/><path d="M589.1 112.4l3.3 1.7 4.5-1.9-3.3-1.7z" fill="#0030ff"/><path d="M461.5 101l3.9-2.4 4.9-1.5-3.9 2.2z" fill="#610071"/><path d="M465.4 98.9l3.9-2 5-1.5-4 1.8z" fill="#7000ae"/><path d="M469.3 97.1l4.1-1 4.9-1.8-4.1 1z" fill="#6a00dc"/><path d="M473.3 96l4.1-1.2 4.9-2-4 1.5z" fill="#5800f4"/><path d="M474.8 95.5l3.9-1.4" class="k"/><path d="M477.4 94.8l4.2-3 4.8-2.1-4.3 3.5z" fill="#2407ff"/><path d="M481.5 92.2l4.3-4.8 4.6-3-4.3 5.7z" fill="#0060ff"/><path d="M484.8 88.8l3.4-1.5" class="k"/><path d="M485.7 87.9l4.3-8.3 4.5-4.9-4.3 10.2z" fill="#00f6ff"/><path d="M489.6 80.6l3-1.5" class="k"/><path d="M489.9 80.2l4.3-16.4 4.5-9.1-4.3 20.5z" fill="#a3ff00"/><path d="M492.1 71.8l3.2-1.4M494.9 62.7l2.3-1.3" class="k"/><path d="M494.1 64.4l4.4-14.3 4.5-9.2-4.4 14.4z" fill="#ff7200"/><path d="M494.6 62.9l.3-.2M497.4 53.9l2-1.5M501.6 43.8l.6-.4" class="k"/><path d="M498.4 50.6l4.5-12.1 4.6-6.2-4.5 9.2z" fill="#ff0000"/><path d="M500.6 44.9l1-1.1M505.6 35l.8-.5" class="k"/><path d="M502.7 39l1.3-3.2 4.9-5.8-1.4 2.3z" fill="#ff0000"/><path d="M504.1 35.8l1.5-.8" class="k"/><path d="M504 35.9l1.3-2.9 4.9-4.8-1.3 1.8z" fill="#ea0000"/><path d="M505.4 33.1l1.2-2.3 5-3.9-1.3 1.3z" fill="#d50000"/><path d="M506.7 30.8l1.3-1.6 5-2.8-1.4 .5z" fill="#c50000"/><path d="M508 29.2l1.4 .1 5-1.6-1.5-1.4z" fill="#c10000"/><path d="M509.3 29.2l1.4 0 5 .4-1.4-2.1z" fill="#c60000"/><path d="M510.7 29.1l1.4 0 4.9 3.1-1.3-2.7z" fill="#cf0000"/><path d="M512.1 29l1.4 .8 4.8 5.2-1.3-2.9z" fill="#dc0000"/><path d="M513.5 29.8l1.3 1.7 4.8 6.4-1.3-3z" fill="#ed0000"/><path d="M518.8 36.7l.1-.2" class="k"/><path d="M514.9 31.5l1.2 3.9 4.8 6.2-1.2-3.8z" fill="#ff0000"/><path d="M517.8 37.5l1-.8" class="k"/><path d="M516.2 35.3l1.2 5.1 4.9 5.3-1.2-4.2z" fill="#ff0000"/><path d="M517 37.9l.8-.4" class="k"/><path d="M517.6 40.2l1.2 5.3 4.8 3.9-1.2-3.9z" fill="#ff0000"/><path d="M521.5 47.5l1.2-.6" class="k"/><path d="M518.9 45.2l1.3 5.3 4.8 2.2-1.2-3.6z" fill="#ff0000"/><path d="M519.8 48.2l1.7-.7" class="k"/><path d="M520.2 50.1l1.3 4.5 4.9 1.1-1.3-3.3z" fill="#ff2c00"/><path d="M521.5 54.3l1.4 3.5 4.9 .3-1.4-2.8z" fill="#ff6300"/><path d="M526.1 57.9l1.1-.4" class="k"/><path d="M522.9 57.5l1.4 2.7 4.8 0-1.3-2.4z" fill="#ff8500"/><path d="M523.8 58.8l2.3-.9" class="k"/><path d="M524.2 59.9l1.4 2.4 4.9-.1-1.4-2.2z" fill="#ffa200"/><path d="M525.6 62l1.4 2.3 4.9-.2-1.4-2.1z" fill="#ffbe00"/><path d="M527 64l1.4 2.1 4.9-.2-1.4-2z" fill="#ffd300"/><path d="M528.3 65.8l1.4 2 4.9-.1-1.4-2z" fill="#ffe800"/><path d="M529.7 67.6l1.4 1.9 4.9-.1-1.4-1.9z" fill="#fff800"/><path d="M533.7 69.4l1.5-.7" class="k"/><path d="M531.1 69.3l1.4 1.9 4.9-.1-1.4-1.9z" fill="#f7ff00"/><path d="M532 70.2l1.7-.8" class="k"/><path d="M532.5 71l1.4 1.8 4.9-.1-1.4-1.8z" fill="#e7ff00"/><path d="M533.9 72.5l1.4 1.8 4.9-.1-1.4-1.7z" fill="#d7ff00"/><path d="M535.3 74.1l1.4 1.6 4.9 0-1.5-1.7z" fill="#c8ff00"/><path d="M536.7 75.5l1.4 1.7 4.9 0-1.5-1.7z" fill="#b7ff00"/><path d="M538.1 77l1.4 1.6 4.9 0-1.5-1.6z" fill="#a5ff00"/><path d="M539.5 78.4l1.4 1.7 4.9-.1-1.5-1.6z" fill="#94ff00"/><path d="M540.9 79.9l1.4 1.6 4.9-.1-1.5-1.6z" fill="#80ff00"/><path d="M545.2 81.3l1-.6" class="k"/><path d="M542.3 81.3l1.4 1.6 4.9-.1-1.5-1.6z" fill="#6aff00"/><path d="M543.6 82.3l1.6-1" class="k"/><path d="M543.7 82.7l1.4 1.6 4.9-.2-1.5-1.5z" fill="#54ff00"/><path d="M545.1 84.1l1.5 1.6 4.8-.2-1.4-1.6z" fill="#3fff00"/><path d="M546.5 85.5l1.5 1.5 4.8-.1-1.4-1.6z" fill="#2bff00"/><path d="M548 86.8l1.4 1.6 4.8-.2-1.4-1.5z" fill="#18ff00"/><path d="M549.4 88.2l1.5 1.5 4.8-.3-1.5-1.4z" fill="#06ff00"/><path d="M550.8 89.5l1.5 1.4 4.8-.3-1.5-1.3z" fill="#00ff1d"/><path d="M552.3 90.8l1.4 1.3 4.8-.4-1.4-1.3z" fill="#00ff45"/><path d="M553.7 91.9l1.5 1.3 4.8-.5-1.5-1.2z" fill="#00ff69"/><path d="M555.1 93l1.5 1.2 4.8-.6-1.4-1.1z" fill="#00ff89"/><path d="M556.6 94.1l1.5 1.1 4.8-.7-1.5-1z" fill="#00ffa6"/><path d="M559.9 94.8l1.3-1.2" class="k"/><path d="M558.1 95l3 2 4.7-.8-3.1-2z" fill="#00ffcc"/><path d="M559.2 95.5l.7-.7" class="k"/><path d="M561 96.7l3.1 2.1 4.7-.8-3.1-2.1z" fill="#00fffe"/><path d="M563.9 98.5l3.2 2.2 4.6-.6-3.1-2.4z" fill="#00ecff"/><path d="M566.9 100.4l3.1 2.6 4.6-.7-3.1-2.6z" fill="#00d6ff"/><path d="M569.9 102.6l3.1 3.1 4.6-1-3.1-2.7z" fill="#00baff"/><path d="M572.8 105.4l3.2 3 4.6-1.4-3.2-2.6z" fill="#0098ff"/><path d="M575.8 108.1l3.2 2.5 4.6-1.7-3.2-2.3z" fill="#0076ff"/><path d="M578.5 109.8l3.8-1.6" class="k"/><path d="M578.8 110.3l3.3 2.2 4.5-1.8-3.2-2.1z" fill="#005cff"/><path d="M581.9 112.2l3.2 2 4.6-1.8-3.3-2z" fill="#0045ff"/><path d="M584.9 114l3.3 1.7 4.6-1.9-3.3-1.7z" fill="#0030ff"/><path d="M457 102.6l4-2.5 4.9-1.5-3.9 2.4z" fill="#5d006d"/><path d="M460.9 100.4l4-1.9 5-1.6-4 1.9z" fill="#7000a8"/><path d="M464.9 98.7l4-1.1 5-1.8-4.1 1z" fill="#6c00d9"/><path d="M468.9 97.5l4.1-1 4.9-2-4.1 1.2z" fill="#5c00f2"/><path d="M470.8 96.9l4-1.4" class="k"/><path d="M472.9 96.4l4.1-2.5 5-2-4.2 3z" fill="#3303ff"/><path d="M477 94.3l4.3-4.1 4.8-2.7-4.3 4.9z" fill="#0043ff"/><path d="M482 90.1l2.8-1.3" class="k"/><path d="M481.2 90.7l4.3-6.4 4.7-4.6-4.3 8.3z" fill="#00cbff"/><path d="M481.5 90.3l.5-.2M489 81l.6-.4" class="k"/><path d="M485.4 84.9l4.3-11.5 4.6-9.5-4.3 16.3z" fill="#31ff00"/><path d="M486.5 82.2l2.5-1.2M489.9 73.4l2.2-1.6" class="k"/><path d="M489.6 74l4.4-13.5 4.6-10.4-4.4 14.3z" fill="#ffef00"/><path d="M489.8 73.5l.1-.1M492.8 64.6l1.8-1.7M496.7 54.6l.7-.7" class="k"/><path d="M493.9 61.1l4.5-15 4.6-7.6-4.5 12.2z" fill="#ff1000"/><path d="M495.6 55.5l1.1-.9M498.4 46.4l2.2-1.5" class="k"/><path d="M498.2 46.6l1.3-4 4.9-7.2-1.3 3.1z" fill="#ff0000"/><path d="M498.4 46.4l0 0M504.1 35.8l0 0" class="k"/><path d="M499.5 42.7l1.3-3.9 4.9-6.2-1.3 2.8z" fill="#ff0000"/><path d="M502.6 36.7l1.5-.9" class="k"/><path d="M500.9 38.9l1.2-3.6 5-4.9-1.3 2.3z" fill="#f80000"/><path d="M501.6 37.1l1-.4" class="k"/><path d="M502.2 35.4l1.2-2.9 5.1-3.6-1.4 1.6z" fill="#de0000"/><path d="M503.5 32.6l1.3-1.6 5.1-2-1.4-.1z" fill="#ce0000"/><path d="M504.8 31.1l1.4-2.1 5.1 .1-1.4 0z" fill="#c40000"/><path d="M506.1 29.2l1.5-2.3 5 2.4-1.4-.1z" fill="#b70000"/><path d="M507.2 28.1l2.2-.3" class="k"/><path d="M507.5 27l1.5-1.2 4.9 4.4-1.3-.8z" fill="#ad0000"/><path d="M511.3 27.9l-1.9-.1" class="k"/><path d="M509 25.9l1.4 .5 4.8 5.5-1.3-1.7z" fill="#b10000"/><path d="M512 28.3l-.7-.4" class="k"/><path d="M510.4 26.4l1.2 4 5 5.4-1.3-4z" fill="#cb0000"/><path d="M511.3 28.7l.7-.4" class="k"/><path d="M511.8 30.2l1.2 6.1 4.9 4.4-1.2-5.2z" fill="#f40000"/><path d="M515.6 38.5l1.4-.6" class="k"/><path d="M513.1 36l1.3 6.3 4.8 3.4-1.2-5.3z" fill="#ff0000"/><path d="M513.9 39.1l1.7-.6" class="k"/><path d="M514.5 41.9l1.3 6.4 4.8 2.3-1.3-5.3z" fill="#ff0000"/><path d="M517.8 49l2-.8" class="k"/><path d="M515.8 47.8l1.3 5.5 4.9 1.3-1.3-4.4z" fill="#ff0000"/><path d="M516.4 49.5l1.4-.5" class="k"/><path d="M517.1 52.9l1.4 4.3 4.9 .6-1.4-3.6z" fill="#ff3e00"/><path d="M518.4 56.9l1.4 3 5 .3-1.4-2.7z" fill="#ff6f00"/><path d="M521.1 59.8l2.7-1" class="k"/><path d="M519.8 59.6l1.4 2.6 4.9 .1-1.3-2.4z" fill="#ff8e00"/><path d="M520.3 60.1l.8-.3" class="k"/><path d="M521.2 61.9l1.4 2.3 4.9 0-1.4-2.2z" fill="#ffaa00"/><path d="M522.5 63.9l1.4 2.1 5 0-1.4-2.1z" fill="#ffc400"/><path d="M523.9 65.7l1.4 2.1 5 0-1.4-2z" fill="#ffd800"/><path d="M525.3 67.5l1.4 2 5 0-1.4-2z" fill="#ffeb00"/><path d="M526.7 69.3l1.4 1.8 5 0-1.5-1.9z" fill="#fff900"/><path d="M530.3 71l1.7-.8" class="k"/><path d="M528.1 70.9l1.4 1.8 4.9 0-1.4-1.8z" fill="#f6ff00"/><path d="M529 71.7l1.3-.7" class="k"/><path d="M529.5 72.5l1.4 1.7 4.9 0-1.4-1.7z" fill="#e7ff00"/><path d="M530.9 74l1.4 1.7 4.9 0-1.4-1.7z" fill="#d8ff00"/><path d="M532.3 75.5l1.4 1.6 4.9 0-1.4-1.6z" fill="#caff00"/><path d="M533.7 76.9l1.4 1.7 4.9 0-1.4-1.7z" fill="#b9ff00"/><path d="M535.1 78.4l1.4 1.7 5-.1-1.5-1.6z" fill="#a8ff00"/><path d="M536.5 79.9l1.4 1.6 5-.1-1.5-1.6z" fill="#97ff00"/><path d="M537.9 81.3l1.5 1.7 4.9-.2-1.5-1.6z" fill="#83ff00"/><path d="M542.8 82.8l.8-.5" class="k"/><path d="M539.3 82.7l1.5 1.7 4.9-.2-1.4-1.6z" fill="#6dff00"/><path d="M540.8 84l2-1.2" class="k"/><path d="M540.8 84.2l1.4 1.6 4.9-.2-1.4-1.6z" fill="#57ff00"/><path d="M542.2 85.6l1.5 1.5 4.8-.1-1.4-1.6z" fill="#42ff00"/><path d="M543.6 86.9l1.5 1.6 4.9-.2-1.5-1.5z" fill="#2fff00"/><path d="M545.1 88.3l1.4 1.5 4.9-.2-1.4-1.5z" fill="#1dff00"/><path d="M546.5 89.6l1.5 1.5 4.8-.2-1.4-1.5z" fill="#0bff00"/><path d="M547.9 90.9l1.5 1.5 4.9-.4-1.5-1.3z" fill="#00ff0f"/><path d="M549.4 92.2l1.5 1.4 4.8-.5-1.4-1.3z" fill="#00ff37"/><path d="M550.8 93.4l1.5 1.3 4.9-.6-1.5-1.2z" fill="#00ff5b"/><path d="M552.3 94.5l1.5 1.2 4.9-.6-1.5-1.1z" fill="#00ff7c"/><path d="M553.8 95.5l3 2.2 4.8-.9-3.1-2z" fill="#00ffa5"/><path d="M557.3 97.3l1.9-1.8" class="k"/><path d="M556.7 97.3l3.1 2 4.7-.7-3.1-2.1z" fill="#00ffd6"/><path d="M557.2 97.5l.1-.2" class="k"/><path d="M559.7 99l3.1 2.1 4.7-.6-3.1-2.2z" fill="#00fcff"/><path d="M562.6 100.8l3.2 2.6 4.7-.6-3.2-2.6z" fill="#00e6ff"/><path d="M565.6 103.1l3.2 3.5 4.6-1.1-3.1-3.1z" fill="#00c8ff"/><path d="M568.6 106.2l3.2 3.5 4.6-1.5-3.2-3z" fill="#00a2ff"/><path d="M571.6 109.3l3.2 2.7 4.6-1.7-3.2-2.4z" fill="#007bff"/><path d="M574.6 111.5l3.9-1.7" class="k"/><path d="M574.6 111.7l3.2 2.4 4.7-1.9-3.3-2.2z" fill="#005eff"/><path d="M577.6 113.8l3.3 2.1 4.6-1.9-3.2-2.1z" fill="#0045ff"/><path d="M580.7 115.6l3.3 1.8 4.6-1.9-3.3-1.8z" fill="#0030ff"/><path d="M452.5 104l4-2.3 5-1.5-4 2.5z" fill="#5b006b"/><path d="M456.4 102l4-2 5-1.5-3.9 1.9z" fill="#7000a3"/><path d="M460.4 100.2l4-1.1 5-1.8-4 1.1z" fill="#6d00d6"/><path d="M464.4 99l4.1-.9 5-1.9-4.1 1z" fill="#5f00f0"/><path d="M466.8 98.4l4-1.5" class="k"/><path d="M468.4 98l4.1-2.1 5-1.9-4.1 2.5z" fill="#3f00ff"/><path d="M472.5 96.1l4.3-3.4 4.8-2.4-4.2 4.1z" fill="#002bff"/><path d="M476.7 93.2l4.3-4.9 4.8-3.9-4.4 6.4z" fill="#00a2ff"/><path d="M478 91.8l3.5-1.5" class="k"/><path d="M480.9 88.8l4.3-8 4.7-7.4-4.3 11.5z" fill="#00ff7d"/><path d="M483.7 83.8l2.8-1.6" class="k"/><path d="M485.1 81.4l4.4-12 4.6-8.9-4.3 13.5z" fill="#aaff00"/><path d="M487.5 75.2l2.3-1.7M491.7 65.4l1.1-.8" class="k"/><path d="M489.4 70l4.4-16.3 4.7-7.6-4.5 15z" fill="#ff9100"/><path d="M490.5 66.2l1.2-.8M493 57l2.6-1.5" class="k"/><path d="M493.7 54.2l1.2-4.7 4.9-7.4-1.2 4.1z" fill="#ff0000"/><path d="M496.5 47.3l1.9-.9" class="k"/><path d="M495 49.6l1.2-4.7 5-6.5-1.3 3.8z" fill="#ff0000"/><path d="M495.6 47.7l.9-.4" class="k"/><path d="M496.3 45l1.2-4.6 5-5.4-1.2 3.5z" fill="#ff0000"/><path d="M500.1 37.7l1.5-.6" class="k"/><path d="M497.6 40.5l1.2-4.2 5.1-4.1-1.3 2.9z" fill="#fc0000"/><path d="M498.4 38.4l1.7-.7" class="k"/><path d="M498.9 36.5l1.3-3.5 5.1-2.2-1.3 1.5z" fill="#df0000"/><path d="M500.3 33.2l1.3-3.6 5.1-.6-1.3 2z" fill="#c50000"/><path d="M501.6 29.9l1.4-3.3 5.1 .4-1.4 2.3z" fill="#a50000"/><path d="M502.2 29l5-.9" class="k"/><path d="M502.9 26.8l1.5-2.1 5.1 1.3-1.4 1.2z" fill="#910000"/><path d="M504.3 24.8l1.4 0 5.1 1.9-1.3-.6z" fill="#8b0000"/><path d="M505.8 24.7l1.3 4.3 5 1.7-1.3-4.3z" fill="#9a0000"/><path d="M509 29.4l2.3-.7" class="k"/><path d="M507.2 28.6l1.3 6.6 5 1.3-1.4-6.3z" fill="#ce0000"/><path d="M507.6 29.8l1.4-.4" class="k"/><path d="M508.5 34.7l1.4 6.3 4.9 1.4-1.4-6.4z" fill="#ff0000"/><path d="M510 40.3l3.9-1.2" class="k"/><path d="M509.9 40.6l1.4 5.7 4.9 2-1.4-6.4z" fill="#ff0000"/><path d="M511.3 45.8l1.3 5.8 4.9 1.7-1.3-5.5z" fill="#ff0000"/><path d="M512.7 50.7l3.7-1.2" class="k"/><path d="M512.6 51.2l1.4 4.9 4.9 1.1-1.3-4.3z" fill="#ff1500"/><path d="M513.9 55.7l1.4 3.3 5 .9-1.3-3z" fill="#ff5000"/><path d="M515.3 58.7l1.4 2.8 5 .6-1.4-2.5z" fill="#ff7600"/><path d="M517.4 61.4l2.9-1.3" class="k"/><path d="M516.7 61.2l1.4 2.3 5 .6-1.4-2.2z" fill="#ff9200"/><path d="M517.1 61.5l.3-.1" class="k"/><path d="M518.1 63.3l1.3 2.1 5.1 .6-1.4-2.1z" fill="#ffac00"/><path d="M519.4 65.2l1.4 2.1 5.1 .4-1.4-2z" fill="#ffc400"/><path d="M520.8 67.1l1.4 2 5.1 .3-1.4-1.9z" fill="#ffd800"/><path d="M522.2 68.9l1.4 1.9 5.1 .3-1.4-1.9z" fill="#ffeb00"/><path d="M523.6 70.6l1.4 1.8 5.1 .3-1.5-1.8z" fill="#fff800"/><path d="M527.6 72.4l1.4-.7" class="k"/><path d="M525 72.2l1.4 1.8 5.1 .2-1.5-1.8z" fill="#f8ff00"/><path d="M526.2 73.3l1.4-.9" class="k"/><path d="M526.4 73.8l1.4 1.8 5.1 0-1.5-1.6z" fill="#e9ff00"/><path d="M527.8 75.4l1.5 1.7 5 0-1.5-1.7z" fill="#daff00"/><path d="M529.2 76.9l1.5 1.7 5 0-1.5-1.7z" fill="#ccff00"/><path d="M530.7 78.4l1.4 1.7 5-.1-1.4-1.6z" fill="#bbff00"/><path d="M532.1 79.9l1.4 1.7 5-.1-1.4-1.7z" fill="#aaff00"/><path d="M533.5 81.4l1.5 1.7 4.9-.2-1.4-1.7z" fill="#99ff00"/><path d="M534.9 82.9l1.5 1.7 5-.3-1.5-1.6z" fill="#85ff00"/><path d="M540.4 84.3l.4-.3" class="k"/><path d="M536.4 84.4l1.4 1.6 5-.3-1.5-1.6z" fill="#6fff00"/><path d="M537.9 85.7l2.5-1.4" class="k"/><path d="M537.8 85.8l1.4 1.6 5-.4-1.4-1.5z" fill="#5aff00"/><path d="M539.2 87.2l1.5 1.5 4.9-.3-1.4-1.6z" fill="#45ff00"/><path d="M540.7 88.5l1.4 1.6 5-.4-1.5-1.5z" fill="#32ff00"/><path d="M542.1 89.9l1.5 1.6 4.9-.5-1.4-1.5z" fill="#20ff00"/><path d="M543.5 91.3l1.5 1.5 5-.5-1.5-1.5z" fill="#0eff00"/><path d="M545 92.6l1.5 1.5 4.9-.6-1.5-1.4z" fill="#00ff07"/><path d="M546.5 93.9l1.5 1.4 4.9-.7-1.5-1.3z" fill="#00ff2f"/><path d="M547.9 95.1l1.5 1.3 4.9-.8-1.5-1.2z" fill="#00ff53"/><path d="M549.4 96.2l3.1 2.2 4.8-1-3.1-2.1z" fill="#00ff7f"/><path d="M552.3 98.1l3.1 1.9 4.8-.9-3.1-2z" fill="#00ffb0"/><path d="M555.1 99.5l2.1-2" class="k"/><path d="M555.3 99.7l3.1 2.2 4.8-1-3.1-2.1z" fill="#00ffe1"/><path d="M558.3 101.5l3.2 2.8 4.7-1.1-3.2-2.6z" fill="#00f3ff"/><path d="M561.3 104l3.2 3.6 4.7-1.2-3.2-3.5z" fill="#00d3ff"/><path d="M564.3 107.3l3.2 3.6 4.6-1.4-3.1-3.5z" fill="#00aaff"/><path d="M567.2 110.6l3.3 2.9 4.7-1.7-3.2-2.7z" fill="#0080ff"/><path d="M570.7 113.1l3.9-1.6" class="k"/><path d="M570.3 113.1l3.2 2.5 4.7-1.8-3.2-2.3z" fill="#0060ff"/><path d="M570.6 113.2l.1-.1" class="k"/><path d="M573.3 115.3l3.3 2.2 4.7-1.9-3.3-2.1z" fill="#0046ff"/><path d="M576.4 117.2l3.3 1.8 4.7-1.9-3.3-1.8z" fill="#0030ff"/><path d="M448 105.4l3.9-2.2 5.1-1.4-4 2.3z" fill="#5a0069"/><path d="M451.9 103.5l3.9-1.8 5.1-1.7-3.9 2z" fill="#70009e"/><path d="M455.8 101.8l4-1.1 5.1-1.8-4 1.1z" fill="#6e00d4"/><path d="M459.8 100.6l4.1-1 5.1-1.8-4.1 1z" fill="#6100ee"/><path d="M462.6 99.8l4.2-1.4" class="k"/><path d="M463.9 99.5l4-1.8 5.2-1.8-4.1 2.1z" fill="#4400fd"/><path d="M467.9 97.8l4.2-2.8 5.1-2.2-4.3 3.4z" fill="#0018ff"/><path d="M472.1 95.4l4.2-3.8 5-3.2-4.3 4.9z" fill="#007dff"/><path d="M474.6 93.5l3.4-1.7" class="k"/><path d="M476.3 92.1l4.3-6.1 4.8-5.1-4.3 8z" fill="#00efff"/><path d="M481.7 85.2l2-1.4" class="k"/><path d="M480.6 86.6l4.3-9.9 4.7-7.3-4.3 12z" fill="#39ff00"/><path d="M481.1 85.5l.6-.3M485.1 76.8l2.4-1.6" class="k"/><path d="M484.8 77.3l4.4-15.9 4.7-7.7-4.4 16.3z" fill="#fff100"/><path d="M485 76.8l.1 0M487.5 67.7l3-1.5M491.6 57.7l1.4-.7" class="k"/><path d="M489.1 62l1.2-5.1 5-7.8-1.2 4.7z" fill="#ff5200"/><path d="M490.1 58.5l1.5-.8" class="k"/><path d="M490.4 57l1.2-5.2 5-7.3-1.2 4.7z" fill="#ff0000"/><path d="M494 48.5l1.6-.8" class="k"/><path d="M491.7 51.9l1.2-5.1 5-6.8-1.2 4.6z" fill="#ff0000"/><path d="M492.5 49.1l1.5-.6" class="k"/><path d="M493 46.9l1.2-4.7 5.1-6.2-1.2 4.1z" fill="#ff0000"/><path d="M497 38.9l1.4-.5" class="k"/><path d="M494.4 42.3l1.2-4.6 5.1-5-1.3 3.4z" fill="#fc0000"/><path d="M495.3 39.6l1.7-.7" class="k"/><path d="M495.7 37.9l1.2-4.2 5.1-4.2-1.2 3.4z" fill="#d70000"/><path d="M497 33.9l1.3-3.2 5.1-4.1-1.3 3z" fill="#b20000"/><path d="M499.5 29.9l2.7-.9" class="k"/><path d="M498.4 30.9l1.3-2.2 5.1-4-1.3 1.9z" fill="#960000"/><path d="M498.9 30.1l.6-.2" class="k"/><path d="M499.7 28.7l1.4-.4 5.1-3.5-1.4-.1z" fill="#8b0000"/><path d="M501 28.1l1.6 3.3 5-2.5-1.5-4.2z" fill="#970000"/><path d="M502.5 30.7l1.6-.2" class="k"/><path d="M502.4 31l1.6 5.7 5-1.6-1.5-6.6z" fill="#c60000"/><path d="M507.6 29.8l-3.5 .7" class="k"/><path d="M503.8 36.2l1.5 5.1 5-.3-1.5-6.3z" fill="#f70000"/><path d="M507.2 40.9l2.8-.6" class="k"/><path d="M505.2 40.9l1.4 3.2 5.1 2.2-1.4-5.8z" fill="#ff0000"/><path d="M505.6 41.3l1.6-.4" class="k"/><path d="M506.7 43.7l1.3 4.5 5 3.4-1.3-5.8z" fill="#ff0000"/><path d="M512.2 50.9l.5-.2" class="k"/><path d="M508 47.8l1.3 4.3 5.1 4-1.3-4.8z" fill="#ff0000"/><path d="M509.7 52.1l2.5-1.2" class="k"/><path d="M509.4 51.8l1.3 3.3 5.1 4-1.3-3.2z" fill="#ff1000"/><path d="M509.7 52.1l0 0" class="k"/><path d="M510.8 55l1.3 2.9 5.1 3.6-1.4-2.5z" fill="#ff3e00"/><path d="M512.2 57.8l1.3 3.2 5.1 2.6-1.4-2.2z" fill="#ff6700"/><path d="M516.3 62.3l.8-.8" class="k"/><path d="M513.5 60.8l1.4 2.9 5.1 1.8-1.4-2.1z" fill="#ff8600"/><path d="M514.9 63.2l1.4-.9" class="k"/><path d="M514.9 63.5l1.4 2.6 5.1 1.2-1.4-2z" fill="#ffa300"/><path d="M516.3 65.9l1.4 2.5 5.1 .7-1.4-2z" fill="#ffbf00"/><path d="M517.7 68.1l1.4 2.3 5.1 .4-1.4-1.9z" fill="#ffd500"/><path d="M519.1 70.1l1.4 2.1 5.1 .2-1.4-1.8z" fill="#ffe800"/><path d="M520.5 72l1.4 2 5.1 0-1.4-1.8z" fill="#fff700"/><path d="M525 73.9l1.2-.6" class="k"/><path d="M521.9 73.7l1.4 1.9 5.1-.1-1.4-1.7z" fill="#f9ff00"/><path d="M523.1 74.8l1.9-.9" class="k"/><path d="M523.3 75.4l1.5 1.9 5-.3-1.4-1.7z" fill="#e9ff00"/><path d="M524.7 77.1l1.5 1.8 5-.3-1.4-1.8z" fill="#daff00"/><path d="M526.1 78.7l1.5 1.8 5.1-.4-1.5-1.8z" fill="#cbff00"/><path d="M527.6 80.3l1.4 1.8 5.1-.5-1.5-1.7z" fill="#baff00"/><path d="M529 81.9l1.5 1.7 5-.6-1.5-1.7z" fill="#a8ff00"/><path d="M530.4 83.4l1.5 1.7 5-.6-1.4-1.7z" fill="#97ff00"/><path d="M531.9 84.9l1.4 1.6 5.1-.6-1.5-1.6z" fill="#83ff00"/><path d="M537.5 85.9l.4-.2" class="k"/><path d="M533.3 86.3l1.5 1.7 5-.7-1.5-1.6z" fill="#6dff00"/><path d="M534.6 87.3l2.9-1.4" class="k"/><path d="M534.7 87.8l1.5 1.6 5.1-.8-1.5-1.5z" fill="#58ff00"/><path d="M536.2 89.2l1.5 1.6 5-.8-1.5-1.6z" fill="#43ff00"/><path d="M537.6 90.6l1.5 1.6 5-.9-1.5-1.5z" fill="#30ff00"/><path d="M539.1 92l1.5 1.6 5-.9-1.5-1.6z" fill="#1eff00"/><path d="M540.5 93.4l1.6 1.5 4.9-1-1.5-1.4z" fill="#0cff00"/><path d="M542 94.7l1.5 1.4 5-1-1.5-1.4z" fill="#00ff0b"/><path d="M543.5 95.9l1.5 1.3 5-1-1.5-1.2z" fill="#00ff31"/><path d="M544.9 97l3.2 2.2 4.8-1.1-3.1-2.1z" fill="#00ff5f"/><path d="M547.9 98.9l3.1 2.1 4.9-1.2-3.1-2z" fill="#00ff92"/><path d="M554.2 100.1l.9-.6" class="k"/><path d="M550.9 100.7l3.1 2.3 4.9-1.4-3.2-2.1z" fill="#00ffc5"/><path d="M552 101.3l2.2-1.2" class="k"/><path d="M553.9 102.7l3.2 3 4.8-1.6-3.2-2.8z" fill="#00fbff"/><path d="M556.9 105.3l3.2 3.7 4.7-1.6-3.1-3.6z" fill="#00d9ff"/><path d="M559.9 108.6l3.2 3.6 4.7-1.5-3.2-3.6z" fill="#00b0ff"/><path d="M562.9 111.9l3.2 2.9 4.8-1.6-3.3-2.8z" fill="#0086ff"/><path d="M565.9 114.5l3.3 2.6 4.7-1.7-3.2-2.5z" fill="#0064ff"/><path d="M566.7 114.9l3.9-1.7" class="k"/><path d="M569 116.7l3.2 2.3 4.8-1.8-3.3-2.2z" fill="#0048ff"/><path d="M572 118.7l3.4 1.8 4.7-1.7-3.3-1.9z" fill="#0032ff"/><path d="M443.4 106.8l3.9-2 5.1-1.5-3.9 2.1z" fill="#590068"/><path d="M447.2 105l4-1.7 5.2-1.7-4 1.9z" fill="#70009a"/><path d="M451.2 103.4l4-1.2 5.2-1.8-4 1.2z" fill="#6f00d1"/><path d="M455.2 102.1l4.1-1 5.1-1.8-4.1 1z" fill="#6200ec"/><path d="M458.3 101.3l4.3-1.5" class="k"/><path d="M459.2 101l4.1-1.7 5.2-1.7-4.1 1.9z" fill="#4700fc"/><path d="M463.3 99.5l4.1-2.2 5.2-2.2-4.2 2.8z" fill="#060fff"/><path d="M467.5 97.5l4.1-2.5 5.2-3.3-4.3 3.8z" fill="#005fff"/><path d="M471.5 95.2l3.1-1.7" class="k"/><path d="M471.7 95.1l4.1-4.2 5.1-4.8-4.3 6.1z" fill="#00c3ff"/><path d="M475.9 91.2l4.4-7.5 4.8-7-4.4 9.9z" fill="#00ff50"/><path d="M478.4 87.3l2.7-1.8" class="k"/><path d="M480.2 84.3l4.4-14.4 4.7-8.5-4.3 15.9z" fill="#c0ff00"/><path d="M482.1 78.5l2.9-1.7M485.2 69.1l2.3-1.4" class="k"/><path d="M484.5 70.5l1.2-5.2 5-8.9-1.3 5.1z" fill="#ffbe00"/><path d="M484.8 69.3l.4-.2M489.3 58.9l.8-.4" class="k"/><path d="M485.8 65.4l1.2-5.2 5-8.8-1.2 5.1z" fill="#ff6c00"/><path d="M487.2 60l2.1-1.1" class="k"/><path d="M487.1 60.3l1.2-4.9 5-9-1.2 5z" fill="#ff1000"/><path d="M487.2 60l0 0M491.6 49.6l.9-.5" class="k"/><path d="M488.4 55.4l1.3-4.6 4.9-9-1.2 4.7z" fill="#ff0000"/><path d="M489.9 50.5l1.7-.9" class="k"/><path d="M489.7 50.9l1.3-4.4 5-9.1-1.3 4.4z" fill="#ff0000"/><path d="M489.9 50.6l0-.1M494.6 40l.7-.4" class="k"/><path d="M491.1 46.5l1.3-4.1 4.9-9-1.3 4z" fill="#ff0000"/><path d="M493.3 40.8l1.3-.8" class="k"/><path d="M492.4 42.5l1.3-3.3 5-8.8-1.3 3z" fill="#e60000"/><path d="M493 41.1l.3-.3" class="k"/><path d="M493.7 39.3l1.4-2.7 5-8.3-1.4 2.1z" fill="#ca0000"/><path d="M498.7 30.6l.2-.5" class="k"/><path d="M495.1 36.6l1.4-1.6 5-7.2-1.4 .5z" fill="#b60000"/><path d="M499.3 31l-.6-.4" class="k"/><path d="M496.4 34.9l1.5 1.1 5.1-5-1.6-3.2z" fill="#b90000"/><path d="M502.5 30.7l-3.2 .3" class="k"/><path d="M497.7 35.7l1.6 3.3 5.1-2.5-1.6-5.7z" fill="#d60000"/><path d="M499.1 38.7l1.5 3 5.1-.5-1.5-5.1z" fill="#f80000"/><path d="M500.5 41.4l1.4 .2 5.2 2.5-1.4-3.2z" fill="#ff0000"/><path d="M503.5 42.3l2.1-1" class="k"/><path d="M501.9 41.5l1.4 1.6 5.1 5.2-1.3-4.4z" fill="#ff0000"/><path d="M503.1 42.8l.4-.5" class="k"/><path d="M503.4 43.1l1.4 2.4 5 6.8-1.3-4.1z" fill="#ff0000"/><path d="M504.8 45.5l1.4 3 5 6.9-1.4-3.1z" fill="#ff0000"/><path d="M509.3 52.8l.4-.7" class="k"/><path d="M506.2 48.4l1.3 3.5 5.1 6.4-1.4-2.9z" fill="#ff0000"/><path d="M508.9 53.5l.4-.7" class="k"/><path d="M507.6 51.9l1.3 4.7 5.1 4.6-1.4-3z" fill="#ff0d00"/><path d="M508.3 53.9l.6-.4" class="k"/><path d="M509 56.4l1.3 4.3 5.1 3.1-1.3-2.7z" fill="#ff4600"/><path d="M514.7 63.3l.2-.1" class="k"/><path d="M510.3 60.5l1.4 3.8 5.1 1.9-1.3-2.6z" fill="#ff7500"/><path d="M512.8 64.5l1.9-1.2" class="k"/><path d="M511.7 64l1.4 3.3 5.1 1.1-1.3-2.4z" fill="#ff9900"/><path d="M512.2 64.8l.6-.3" class="k"/><path d="M513.1 67l1.4 2.7 5.1 .7-1.3-2.2z" fill="#ffba00"/><path d="M514.5 69.4l1.4 2.5 5.2 .3-1.5-2.1z" fill="#ffd200"/><path d="M515.9 71.7l1.4 2.2 5.2 0-1.5-2z" fill="#ffe700"/><path d="M517.3 73.7l1.5 2.1 5.1-.2-1.4-1.9z" fill="#fff800"/><path d="M521.4 75.6l1.7-.8" class="k"/><path d="M518.7 75.6l1.5 2 5.1-.4-1.4-1.9z" fill="#f7ff00"/><path d="M519.6 76.4l1.8-.8" class="k"/><path d="M520.1 77.4l1.5 2 5.1-.6-1.4-1.8z" fill="#e6ff00"/><path d="M521.6 79.1l1.4 1.9 5.2-.6-1.5-1.8z" fill="#d6ff00"/><path d="M523 80.8l1.5 1.9 5.1-.7-1.5-1.8z" fill="#c7ff00"/><path d="M524.4 82.4l1.5 1.8 5.1-.7-1.5-1.8z" fill="#b4ff00"/><path d="M525.9 84l1.5 1.8 5.1-.8-1.5-1.7z" fill="#a3ff00"/><path d="M527.3 85.5l1.5 1.8 5.1-.9-1.5-1.7z" fill="#92ff00"/><path d="M528.7 87l1.5 1.7 5.1-.9-1.5-1.6z" fill="#7cff00"/><path d="M532.4 88.2l2.2-.9" class="k"/><path d="M530.2 88.5l1.5 1.7 5.1-1-1.5-1.6z" fill="#66ff00"/><path d="M530.8 88.9l1.6-.7" class="k"/><path d="M531.6 90l1.6 1.6 5-.9-1.5-1.7z" fill="#51ff00"/><path d="M533.1 91.4l1.5 1.7 5.1-1.1-1.5-1.6z" fill="#3cff00"/><path d="M534.6 92.9l1.5 1.6 5-1.1-1.5-1.6z" fill="#29ff00"/><path d="M536 94.3l1.5 1.5 5.1-1.1-1.5-1.5z" fill="#17ff00"/><path d="M537.5 95.6l1.5 1.4 5.1-1.1-1.6-1.4z" fill="#06ff00"/><path d="M539 96.8l1.5 1.4 5-1.1-1.5-1.3z" fill="#00ff16"/><path d="M540.4 97.9l3.2 2.3 4.9-1.2-3.1-2.2z" fill="#00ff45"/><path d="M543.4 99.9l3.1 2.2 5-1.3-3.2-2.1z" fill="#00ff7b"/><path d="M546.4 101.8l3.2 2.5 4.9-1.6-3.2-2.2z" fill="#00ffb3"/><path d="M548.3 103l3.7-1.7" class="k"/><path d="M549.4 103.9l3.2 3.2 4.9-1.7-3.2-3z" fill="#00ffff"/><path d="M552.4 106.7l3.2 3.7 4.8-1.6-3.2-3.7z" fill="#00dcff"/><path d="M555.4 110.1l3.2 3.5 4.8-1.6-3.2-3.6z" fill="#00b4ff"/><path d="M558.4 113.3l3.3 2.8 4.8-1.5-3.2-2.9z" fill="#008bff"/><path d="M561.5 115.8l3.2 2.6 4.9-1.6-3.3-2.5z" fill="#006aff"/><path d="M563 116.8l3.7-1.9" class="k"/><path d="M564.5 118.1l3.3 2.2 4.8-1.6-3.2-2.2z" fill="#004eff"/><path d="M567.6 120l3.3 1.8 4.9-1.5-3.3-1.8z" fill="#0039ff"/><path d="M438.7 108.2l3.9-1.8 5.2-1.6-3.9 2z" fill="#580067"/><path d="M442.6 106.5l3.9-1.5 5.3-1.8-4 1.7z" fill="#700096"/><path d="M446.5 105l4-1.2 5.3-1.8-4.1 1.2z" fill="#7000cd"/><path d="M450.5 103.7l4.1-1.1 5.2-1.8-4.1 1.1z" fill="#6300ea"/><path d="M453.9 102.7l4.4-1.4" class="k"/><path d="M454.5 102.6l4.1-1.5 5.3-1.9-4.1 1.7z" fill="#4900fb"/><path d="M458.6 101.1l4.2-1.5 5.2-2.4-4.1 2.2z" fill="#120cff"/><path d="M462.8 99.6l4.3-1.6 5.1-3.2-4.2 2.6z" fill="#0045ff"/><path d="M470.8 95.6l.7-.4" class="k"/><path d="M467 97.9l4.3-2.6 5-4.5-4.2 4.4z" fill="#0097ff"/><path d="M468.5 96.9l2.3-1.3" class="k"/><path d="M471.2 95.3l4.3-4.7 5-6.8-4.3 7.5z" fill="#00f7ff"/><path d="M476.9 88.7l1.5-1.4" class="k"/><path d="M475.6 90.7l4.3-12.1 4.8-8.6-4.3 14.3z" fill="#4fff00"/><path d="M476.2 89.2l.7-.5M479.5 80.2l2.6-1.7" class="k"/><path d="M479.8 79.2l1.2-4.9 5-9.5-1.2 5.2z" fill="#e6ff00"/><path d="M483.2 70.3l1.6-1" class="k"/><path d="M481.1 74.3l1.3-4.8 4.9-9.8-1.2 5.2z" fill="#ffdb00"/><path d="M482.1 71l1.1-.7" class="k"/><path d="M482.4 69.5l1.3-4.4 4.9-10.2-1.2 4.8z" fill="#ff9100"/><path d="M485.7 60.9l1.5-.9" class="k"/><path d="M483.7 65.2l1.3-4.1 5-10.8-1.3 4.6z" fill="#ff4700"/><path d="M484.9 61.6l.8-.7" class="k"/><path d="M485 61.1l1.3-3.9 5-11.3-1.3 4.4z" fill="#ff0000"/><path d="M488.9 51.3l1-.7" class="k"/><path d="M486.4 57.2l1.3-3.7 4.9-11.6-1.3 4.1z" fill="#ff0000"/><path d="M488.3 52.1l.6-.8" class="k"/><path d="M487.7 53.5l1.3-3.5 5-11.3-1.3 3.2z" fill="#ff0000"/><path d="M488.2 52.2l.1-.1M492.8 41.5l.2-.4" class="k"/><path d="M489 50l1.4-3.2 5-10.7-1.4 2.6z" fill="#ff0000"/><path d="M492.6 42.1l.2-.6" class="k"/><path d="M490.4 46.8l1.3-3 5.1-9.3-1.4 1.6z" fill="#fd0000"/><path d="M492.4 42.6l.2-.5" class="k"/><path d="M491.7 43.8l1.4-1.6 5.1-6.7-1.5-1z" fill="#ef0000"/><path d="M492.5 42.9l-.1-.3" class="k"/><path d="M493 42.2l1.5 0 5.2-3.5-1.6-3.3z" fill="#f20000"/><path d="M494.4 42l1.4 .2 5.3-.7-1.5-3z" fill="#fd0000"/><path d="M495.7 42.1l1.5-2.1 5.3 1.7-1.4-.3z" fill="#fe0000"/><path d="M497.1 40l1.5-1 5.2 4.5-1.3-1.7z" fill="#f90000"/><path d="M503.2 42.9l-.1-.1" class="k"/><path d="M498.6 39l1.4 .7 5.2 6.2-1.4-2.4z" fill="#ff0000"/><path d="M503.2 43.5l0-.6" class="k"/><path d="M500.1 39.7l1.3 2.8 5.1 6.4-1.3-3z" fill="#ff0000"/><path d="M502.8 44.2l.4-.7" class="k"/><path d="M501.5 42.5l1.3 4.1 5.1 5.8-1.3-3.5z" fill="#ff0000"/><path d="M502.3 44.5l.5-.3" class="k"/><path d="M502.9 46.5l1.3 5.7 5.1 4.7-1.2-4.7z" fill="#ff0000"/><path d="M507 54.6l1.3-.7" class="k"/><path d="M504.3 51.9l1.3 5.2 5.1 3.8-1.2-4.3z" fill="#ff0000"/><path d="M505.4 55.4l1.6-.8" class="k"/><path d="M505.7 56.8l1.3 4.8 5.2 2.8-1.3-3.8z" fill="#ff3200"/><path d="M507.1 61.3l1.3 4 5.2 2-1.3-3.2z" fill="#ff6c00"/><path d="M510.2 65.8l2-1" class="k"/><path d="M508.4 65l1.4 3.3 5.2 1.4-1.3-2.6z" fill="#ff9300"/><path d="M509.2 66.4l1-.6" class="k"/><path d="M509.8 68l1.4 3 5.2 .9-1.3-2.4z" fill="#ffb600"/><path d="M511.3 70.7l1.4 2.7 5.2 .5-1.4-2.3z" fill="#ffd100"/><path d="M512.7 73.1l1.4 2.5 5.2 .2-1.4-2.2z" fill="#ffe900"/><path d="M514.1 75.3l1.4 2.3 5.2 0-1.4-2.1z" fill="#fffa00"/><path d="M517.3 77.5l2.3-1.1" class="k"/><path d="M515.5 77.4l1.5 2.1 5.2-.2-1.5-2z" fill="#f3ff00"/><path d="M516.2 78l1.1-.5" class="k"/><path d="M516.9 79.3l1.5 2 5.2-.4-1.5-1.8z" fill="#e2ff00"/><path d="M518.4 81.1l1.4 1.9 5.2-.4-1.5-1.9z" fill="#d2ff00"/><path d="M519.8 82.8l1.5 1.9 5.2-.6-1.5-1.8z" fill="#c1ff00"/><path d="M521.2 84.4l1.5 1.9 5.2-.7-1.5-1.7z" fill="#afff00"/><path d="M522.7 86l1.5 1.8 5.1-.7-1.4-1.7z" fill="#9dff00"/><path d="M524.1 87.6l1.5 1.8 5.2-.8-1.5-1.7z" fill="#8aff00"/><path d="M525.6 89.2l1.5 1.7 5.1-.8-1.5-1.7z" fill="#74ff00"/><path d="M527.2 90.6l3.6-1.7" class="k"/><path d="M527 90.7l1.5 1.7 5.2-.9-1.5-1.7z" fill="#5eff00"/><path d="M528.5 92.2l1.5 1.6 5.2-.9-1.6-1.6z" fill="#48ff00"/><path d="M530 93.6l1.5 1.7 5.1-1-1.5-1.6z" fill="#34ff00"/><path d="M531.4 95.1l1.5 1.5 5.2-1-1.5-1.5z" fill="#22ff00"/><path d="M532.9 96.4l1.5 1.5 5.1-1-1.5-1.5z" fill="#11ff00"/><path d="M534.4 97.7l1.5 1.3 5.1-1-1.5-1.3z" fill="#02ff00"/><path d="M535.9 98.8l3.1 2.4 5-1.2-3.1-2.3z" fill="#00ff2b"/><path d="M538.8 100.8l3.2 2.4 5-1.3-3.2-2.2z" fill="#00ff64"/><path d="M541.8 102.9l3.2 2.6 5-1.5-3.2-2.4z" fill="#00ffa2"/><path d="M544.5 104.7l3.8-1.7" class="k"/><path d="M544.8 105.2l3.2 3.3 5-1.6-3.2-3.2z" fill="#00fff5"/><path d="M547.8 108.2l3.3 3.7 4.9-1.7-3.2-3.7z" fill="#00deff"/><path d="M550.9 111.6l3.2 3.4 4.9-1.6-3.2-3.5z" fill="#00b8ff"/><path d="M553.9 114.6l3.3 2.8 4.9-1.5-3.3-2.8z" fill="#0092ff"/><path d="M557 117.1l3.2 2.5 4.9-1.5-3.2-2.5z" fill="#0072ff"/><path d="M559.4 118.7l3.6-1.9" class="k"/><path d="M560 119.3l3.3 2.2 4.9-1.5-3.2-2.2z" fill="#0057ff"/><path d="M563.2 121.2l3.3 1.8 4.9-1.5-3.3-1.7z" fill="#0043ff"/><path d="M433.9 109.6l3.9-1.6 5.3-1.7-3.9 1.8z" fill="#570067"/><path d="M437.8 108.1l4-1.4 5.3-1.9-4 1.6z" fill="#700091"/><path d="M441.8 106.7l4-1.3 5.3-1.9-4 1.3z" fill="#7000c8"/><path d="M445.8 105.4l4-1.1 5.3-1.9-4.1 1.1z" fill="#6400e7"/><path d="M449.6 104.3l4.3-1.6" class="k"/><path d="M449.8 104.2l4.1-1.3 5.3-2-4.1 1.5z" fill="#4d00f9"/><path d="M453.9 102.9l4.2-1.1 5.2-2.5-4.1 1.5z" fill="#1e08ff"/><path d="M458 101.6l4.4-.9 5.1-3.1-4.3 1.6z" fill="#002dff"/><path d="M462.2 100.5l4.4-1.6 5.1-4-4.2 2.7z" fill="#006eff"/><path d="M466.1 98.9l2.4-2" class="k"/><path d="M466.5 98.8l4.4-2.8 5-5.8-4.2 5z" fill="#00c0ff"/><path d="M470.8 95.9l4.4-9.1 4.9-8.1-4.4 12z" fill="#00ff48"/><path d="M473.3 91l2.9-1.8M479 80.6l.5-.4" class="k"/><path d="M475.1 87.4l1.3-4.2 5-9.4-1.2 4.9z" fill="#79ff00"/><path d="M477.2 81.8l1.8-1.2" class="k"/><path d="M476.4 83.2l1.3-4.1 5-10.1-1.3 4.8z" fill="#c6ff00"/><path d="M476.8 82l.4-.2M481.5 71.3l.6-.3" class="k"/><path d="M477.7 79.1l1.3-3.7 5-10.8-1.3 4.4z" fill="#fdff00"/><path d="M480.5 72.3l1-1" class="k"/><path d="M479 75.4l1.3-3.5 5-11.3-1.3 4z" fill="#ffd100"/><path d="M480 72.8l.5-.5M484.7 61.8l.2-.2" class="k"/><path d="M480.3 71.9l1.3-3.6 5-11.6-1.3 3.9z" fill="#ff9600"/><path d="M484.1 62.6l.6-.8" class="k"/><path d="M481.6 68.3l1.4-3.6 4.9-11.8-1.3 3.8z" fill="#ff5c00"/><path d="M483.6 63.3l.5-.7" class="k"/><path d="M483 64.7l1.3-3.6 5-11.6-1.4 3.4z" fill="#ff1600"/><path d="M483.4 63.5l.2-.2M487.9 52.7l.3-.5" class="k"/><path d="M484.3 61.1l1.3-3.7 5-11.2-1.3 3.3z" fill="#ff0000"/><path d="M487.4 53.4l.5-.7" class="k"/><path d="M485.6 57.4l1.4-4 5-10.1-1.4 2.9z" fill="#ff0000"/><path d="M486.8 54l.6-.6" class="k"/><path d="M487 53.4l1.3-3.9 5.1-7.8-1.4 1.6z" fill="#ff0000"/><path d="M492.5 43.2l0-.3" class="k"/><path d="M488.3 49.5l1.3-3.5 5.3-4.3-1.5 0z" fill="#ff0000"/><path d="M492.4 43.7l.1-.5" class="k"/><path d="M489.6 46.1l1.3-3.1 5.4-1-1.4-.3z" fill="#ff0000"/><path d="M490.5 44.4l1.9-.7" class="k"/><path d="M490.9 43.1l1.4-3.2 5.4 .1-1.4 2.2z" fill="#f40000"/><path d="M492.3 40.2l1.5-2.3 5.3 1.3-1.4 1z" fill="#e10000"/><path d="M493.7 38l1.4-.1 5.4 2.2-1.4-.8z" fill="#d90000"/><path d="M495.2 37.8l1.3 2.9 5.4 2.2-1.4-3z" fill="#e50000"/><path d="M496.6 40.5l1.4 4.6 5.3 1.8-1.4-4.3z" fill="#ff0000"/><path d="M499.6 45.5l2.7-1" class="k"/><path d="M498 44.7l1.4 4.7 5.2 3-1.3-5.9z" fill="#ff0000"/><path d="M498.5 45.8l1.1-.3" class="k"/><path d="M499.5 49l1.3 4.5 5.2 3.8-1.3-5.3z" fill="#ff0000"/><path d="M504.3 55.9l1.1-.5" class="k"/><path d="M500.9 53.2l1.3 4.9 5.3 3.6-1.3-4.7z" fill="#ff0000"/><path d="M502.2 56.9l2.1-1" class="k"/><path d="M502.3 57.7l1.3 4.6 5.3 3.2-1.3-4z" fill="#ff2700"/><path d="M503.7 62l1.4 3.7 5.2 2.7-1.3-3.2z" fill="#ff6200"/><path d="M508.1 67.1l1.1-.7" class="k"/><path d="M505.1 65.4l1.4 3.4 5.3 2.2-1.4-2.8z" fill="#ff8900"/><path d="M506.4 68l1.7-.9" class="k"/><path d="M506.5 68.6l1.4 3.1 5.3 1.7-1.4-2.6z" fill="#ffae00"/><path d="M508 71.5l1.4 2.9 5.2 1.2-1.4-2.4z" fill="#ffcd00"/><path d="M509.4 74.1l1.4 2.6 5.3 .9-1.5-2.3z" fill="#ffe600"/><path d="M510.8 76.5l1.4 2.4 5.3 .6-1.4-2.1z" fill="#fff900"/><path d="M514.4 79l1.8-1" class="k"/><path d="M512.2 78.6l1.5 2.3 5.2 .4-1.4-2z" fill="#f4ff00"/><path d="M513.2 79.7l1.2-.7" class="k"/><path d="M513.7 80.6l1.4 2.1 5.3 .3-1.5-2z" fill="#e2ff00"/><path d="M515.1 82.5l1.5 2 5.2 .1-1.4-1.9z" fill="#d1ff00"/><path d="M516.5 84.3l1.5 1.9 5.3 0-1.5-1.8z" fill="#c0ff00"/><path d="M518 86l1.5 1.8 5.2-.1-1.5-1.7z" fill="#adff00"/><path d="M519.4 87.6l1.5 1.9 5.3-.2-1.5-1.8z" fill="#9bff00"/><path d="M520.9 89.3l1.5 1.8 5.2-.3-1.5-1.8z" fill="#87ff00"/><path d="M526.9 90.7l.3-.1" class="k"/><path d="M522.4 90.9l1.5 1.8 5.2-.4-1.5-1.7z" fill="#6fff00"/><path d="M523.9 92.3l3-1.6" class="k"/><path d="M523.8 92.5l1.5 1.8 5.3-.6-1.5-1.6z" fill="#59ff00"/><path d="M525.3 94l1.5 1.7 5.2-.6-1.5-1.6z" fill="#43ff00"/><path d="M526.8 95.5l1.5 1.6 5.2-.6-1.5-1.6z" fill="#30ff00"/><path d="M528.2 96.9l1.6 1.5 5.2-.7-1.5-1.4z" fill="#1fff00"/><path d="M529.7 98.2l1.5 1.4 5.2-.7-1.5-1.4z" fill="#10ff00"/><path d="M531.2 99.4l3.1 2.5 5.1-1-3.1-2.3z" fill="#00ff0a"/><path d="M534.2 101.6l3.2 2.5 5-1.1-3.1-2.4z" fill="#00ff48"/><path d="M537.2 103.8l3.2 2.8 5-1.3-3.1-2.7z" fill="#00ff8e"/><path d="M541.6 106.1l2.9-1.4" class="k"/><path d="M540.2 106.3l3.2 3.6 5-1.6-3.2-3.3z" fill="#00ffe8"/><path d="M540.6 106.5l1-.4" class="k"/><path d="M543.2 109.5l3.3 3.8 4.9-1.6-3.2-3.7z" fill="#00e2ff"/><path d="M546.3 112.9l3.2 3.3 5-1.5-3.2-3.4z" fill="#00bdff"/><path d="M549.3 115.8l3.3 2.8 5-1.4-3.3-2.8z" fill="#009bff"/><path d="M552.4 118.3l3.3 2.5 4.9-1.4-3.2-2.6z" fill="#007bff"/><path d="M556.2 120.5l3.2-1.8" class="k"/><path d="M555.5 120.5l3.3 2.4 5-1.6-3.3-2.2z" fill="#0060ff"/><path d="M555.9 120.6l.3-.1" class="k"/><path d="M558.6 122.6l3.3 2 5-1.8-3.3-1.8z" fill="#004bff"/><path d="M432 110.1l4.5-1.6 1.9-.6-4.5 1.7z" fill="#570066"/><path d="M435.9 108.8l4.5-1.6 1.9-.7-4.5 1.6z" fill="#6f008e"/><path d="M439.9 107.4l4.5-1.5 1.9-.7-4.5 1.5z" fill="#7000c3"/><path d="M443.8 106.1l4.7-1.3 1.9-.8-4.6 1.4z" fill="#6600e5"/><path d="M447.9 104.9l1.7-.6" class="k"/><path d="M447.9 104.9l4.7-1.4 1.9-.8-4.7 1.5z" fill="#4f00f8"/><path d="M452 103.6l4.7-1.3 1.9-.9-4.7 1.4z" fill="#2706ff"/><path d="M456.1 102.5l4.8-1.1 1.9-1.1-4.8 1.3z" fill="#001dff"/><path d="M460.3 101.5l4.8-1.6 1.9-1.4-4.8 2z" fill="#0055ff"/><path d="M465.6 99.4l.5-.5" class="k"/><path d="M464.6 100.1l4.8-2.7 1.8-1.9-4.7 3.3z" fill="#009aff"/><path d="M465.2 99.7l.4-.3" class="k"/><path d="M468.9 97.7l4.6-7.6 1.9-3.2-4.5 9.1z" fill="#00fff2"/><path d="M472.5 91.8l.8-.8" class="k"/><path d="M473.2 90.7l1.1-3.9 2.4-4.1-1.2 4.6z" fill="#17ff00"/><path d="M474.5 87.1l1.2-3.6 2.2-4.9-1.1 4.4z" fill="#66ff00"/><path d="M476.2 82.7l.6-.7" class="k"/><path d="M475.8 83.5l1.3-3.2 2.1-5.4-1.2 3.7z" fill="#abff00"/><path d="M476.1 82.8l.1-.1" class="k"/><path d="M477.1 80.3l1.3-3.4 2.1-5.6-1.3 3.6z" fill="#ddff00"/><path d="M479.9 73l.1-.2" class="k"/><path d="M478.4 76.9l1.3-3.5 2.2-5.6-1.4 3.5z" fill="#fff600"/><path d="M479.7 73.6l.2-.6" class="k"/><path d="M479.8 73.4l1.3-3.7 2.1-5.5-1.3 3.6z" fill="#ffc700"/><path d="M481.1 69.7l1.3-3.7 2.1-5.4-1.3 3.6z" fill="#ff8d00"/><path d="M483.2 64l.2-.5" class="k"/><path d="M482.4 66l1.3-3.9 2.2-5.3-1.3 3.8z" fill="#ff5000"/><path d="M483 64.3l.2-.3" class="k"/><path d="M483.7 62.1l1.3-4.2 2.2-5-1.3 4z" fill="#ff0700"/><path d="M486.7 54.2l.1-.2" class="k"/><path d="M485.1 58l1.1-4.6 2.4-4.4-1.3 3.9z" fill="#ff0000"/><path d="M486.1 54.7l.6-.5" class="k"/><path d="M486.4 53.7l1.3-4.8 2.3-3.3-1.3 3.5z" fill="#ff0000"/><path d="M487.8 49.4l1.3-4.4 2.3-2.3-1.3 3.3z" fill="#ff0000"/><path d="M489.6 44.9l.9-.5" class="k"/><path d="M489.1 45.5l1.4-3.4 2.3-2.2-1.4 3.3z" fill="#f90000"/><path d="M489.4 45l.2-.1" class="k"/><path d="M490.5 42.5l1.2-2.4 2.5-2.2-1.3 2.2z" fill="#e10000"/><path d="M491.8 40.3l1.5-.3 2.4-2.1-1.6-.1z" fill="#d40000"/><path d="M493.2 39.6l1.6 2.5 2.3-1.3-1.7-3.1z" fill="#db0000"/><path d="M494.6 41.6l1.7 4.2 2.2-.7-1.7-4.7z" fill="#f60000"/><path d="M496.1 45.3l1.6 3.6 2.1 .6-1.5-4.9z" fill="#ff0000"/><path d="M496.6 46.3l1.9-.5" class="k"/><path d="M497.5 48.4l1.6 3.6 2.1 1.7-1.5-4.8z" fill="#ff0000"/><path d="M499 51.4l1.5 4.3 2.1 2.5-1.5-5.1z" fill="#ff0000"/><path d="M501.8 57.1l.4-.2" class="k"/><path d="M500.4 55.2l1.5 4.2 2.2 3-1.5-4.7z" fill="#ff0000"/><path d="M501.4 57.6l.4-.5" class="k"/><path d="M501.9 58.9l1.2 3.3 2.4 3.7-1.3-3.9z" fill="#ff1e00"/><path d="M503.3 62l1.3 3 2.3 4-1.3-3.2z" fill="#ff5000"/><path d="M506.5 68.2l-.1-.2" class="k"/><path d="M504.7 64.9l1.4 3.2 2.2 3.8-1.3-2.9z" fill="#ff7a00"/><path d="M506.6 68.8l-.1-.6" class="k"/><path d="M506.2 68l1.2 3.3 2.4 3.2-1.4-2.7z" fill="#ffa000"/><path d="M506.6 68.9l0-.1" class="k"/><path d="M507.6 71.1l1.3 3.4 2.3 2.4-1.3-2.5z" fill="#ffc400"/><path d="M509 74.1l1.4 3 2.3 1.9-1.3-2.4z" fill="#ffdf00"/><path d="M510.4 76.6l1.5 2.8 2.2 1.6-1.3-2.4z" fill="#fff500"/><path d="M513.1 80.1l.1-.4" class="k"/><path d="M511.8 79l1.5 2.6 2.3 1.2-1.4-2.3z" fill="#f7ff00"/><path d="M513 80.6l.1-.5" class="k"/><path d="M513.3 81.1l1.5 2.5 2.3 .9-1.5-2.2z" fill="#e4ff00"/><path d="M514.7 83.1l1.6 2.4 2.2 .7-1.5-2.1z" fill="#d3ff00"/><path d="M516.2 85l1.5 2.3 2.3 .6-1.6-2.1z" fill="#c1ff00"/><path d="M517.6 86.8l1.6 2.3 2.2 .4-1.5-2.1z" fill="#adff00"/><path d="M519.1 88.7l1.6 2.2 2.2 .2-1.6-2z" fill="#99ff00"/><path d="M520.5 90.4l1.6 2.1 2.3 .2-1.6-2z" fill="#83ff00"/><path d="M523.7 92.5l.2-.2" class="k"/><path d="M522 92.1l1.6 2 2.3 .1-1.7-1.9z" fill="#6bff00"/><path d="M523.1 93.2l.6-.7" class="k"/><path d="M523.4 93.7l1.7 2 2.2 0-1.6-1.9z" fill="#55ff00"/><path d="M524.9 95.3l1.7 1.8 2.2 0-1.6-1.8z" fill="#3fff00"/><path d="M526.4 96.7l1.7 1.8 2.2-.1-1.7-1.7z" fill="#2dff00"/><path d="M527.9 98.1l1.6 1.7 2.3-.2-1.7-1.6z" fill="#1dff00"/><path d="M529.4 99.3l3.4 2.7 2-.3-3.4-2.5z" fill="#08ff00"/><path d="M532.3 101.6l3.5 2.7 2-.4-3.4-2.5z" fill="#00ff2e"/><path d="M535.4 103.9l3.4 3 2-.4-3.4-3z" fill="#00ff78"/><path d="M538.4 106.4l3.4 3.7 2-.4-3.4-3.6z" fill="#00ffd6"/><path d="M539.3 107.3l1.3-.8" class="k"/><path d="M541.4 109.6l3.4 3.9 2-.4-3.4-3.8z" fill="#00e7ff"/><path d="M544.4 113l3.5 3.5 2-.5-3.4-3.3z" fill="#00c3ff"/><path d="M547.5 116l3.5 3 2-.6-3.5-2.8z" fill="#00a2ff"/><path d="M550.6 118.6l3.5 2.7 2-.6-3.5-2.7z" fill="#0082ff"/><path d="M553.7 121l3.5 2.4 2-.7-3.5-2.4z" fill="#0066ff"/><path d="M554.5 121.5l1.4-.9" class="k"/><path d="M556.8 123.1l3.6 2.2 1.9-.9-3.5-2.1z" fill="#004fff"/><path d="M430.1 110.7l4.5-1.5 1.9-.6-4.5 1.6z" fill="#560066"/><path d="M434 109.4l4.5-1.5 1.9-.7-4.5 1.5z" fill="#6e008c"/><path d="M437.9 108.1l4.6-1.4 1.9-.8-4.5 1.5z" fill="#7000c0"/><path d="M441.9 106.9l4.6-1.4 2-.8-4.7 1.4z" fill="#6700e3"/><path d="M446.9 105.3l1-.4" class="k"/><path d="M446 105.7l4.6-1.4 1.9-.8-4.6 1.4z" fill="#5200f7"/><path d="M446.4 105.6l.5-.3" class="k"/><path d="M450.1 104.5l4.7-1.3 1.9-.9-4.7 1.3z" fill="#2d05ff"/><path d="M454.2 103.3l4.8-1 1.9-1-4.8 1.1z" fill="#0015ff"/><path d="M458.4 102.4l4.8-1.3 1.9-1.3-4.8 1.6z" fill="#0049ff"/><path d="M462.6 101.3l4.9-2.2 1.8-1.8-4.8 2.7z" fill="#0086ff"/><path d="M464.2 100.5l1-.8" class="k"/><path d="M467 99.4l4.7-5.9 1.8-3.4-4.5 7.6z" fill="#00e5ff"/><path d="M472.3 92.3l.2-.5" class="k"/><path d="M471.3 94l1.3-2.7 2.2-4.7-1.2 3.7z" fill="#00ff56"/><path d="M472 92.7l.3-.4" class="k"/><path d="M472.6 91.3l1.4-2.7 2-5.6-1.2 3.6z" fill="#1dff00"/><path d="M473.9 88.6l1.4-2.6 2-6.3-1.3 3.3z" fill="#5cff00"/><path d="M476.1 83.4l0-.6" class="k"/><path d="M475.2 86l1.4-3.1 2-6.5-1.3 3.3z" fill="#9aff00"/><path d="M476.2 83.8l-.1-.4" class="k"/><path d="M476.6 82.9l1.3-3.5 2.1-6.6-1.4 3.6z" fill="#cfff00"/><path d="M479.7 73.7l0-.1" class="k"/><path d="M477.9 79.4l1.3-3.8 2.1-6.5-1.4 3.7z" fill="#fdff00"/><path d="M479.6 74.4l.1-.7" class="k"/><path d="M479.2 75.6l1.3-3.9 2.1-6.3-1.3 3.7z" fill="#ffd300"/><path d="M479.5 74.5l.1-.1" class="k"/><path d="M480.5 71.7l1.3-4 2.1-6.1-1.3 3.8z" fill="#ff9800"/><path d="M482.9 64.7l.1-.4" class="k"/><path d="M481.8 67.7l1.4-4 2.1-6.3-1.4 4.2z" fill="#ff5900"/><path d="M482.7 65.1l.2-.4" class="k"/><path d="M483.2 63.7l1.3-4.4 2.1-6.2-1.3 4.4z" fill="#ff0a00"/><path d="M486 54.9l.1-.2" class="k"/><path d="M484.5 59.3l1.3-4.5 2.2-6-1.3 4.3z" fill="#ff0000"/><path d="M485.7 55.5l.3-.6" class="k"/><path d="M485.9 54.8l1.3-4.2 2.2-5.6-1.4 3.8z" fill="#ff0000"/><path d="M487.2 50.6l1.4-3.2 2.2-5.4-1.5 3z" fill="#ff0000"/><path d="M489.4 45.5l0-.5" class="k"/><path d="M488.6 47.4l1.4-2.5 2.2-5-1.5 2.1z" fill="#fb0000"/><path d="M489.4 45.8l0-.3" class="k"/><path d="M489.9 44.9l1.5-1.3 2.2-4.1-1.5 .3z" fill="#eb0000"/><path d="M491.3 43.5l1.6 .9 2.3-2.6-1.7-2.4z" fill="#eb0000"/><path d="M492.6 44.1l1.7 2.6 2.3-1-1.7-4.2z" fill="#fd0000"/><path d="M494.1 46.3l1.6 2 2.2 .5-1.6-3.6z" fill="#ff0000"/><path d="M494.6 46.7l2-.4" class="k"/><path d="M495.5 47.8l1.4 1.8 2.4 2.3-1.5-3.6z" fill="#ff0000"/><path d="M497 49.3l1.4 2.2 2.3 4.2-1.4-4.3z" fill="#ff0000"/><path d="M498.5 51.5l1.5 2.3 2.1 5.6-1.3-3.7z" fill="#ff0000"/><path d="M501.5 57.8l-.1-.2" class="k"/><path d="M499.9 53.8l1.6 2.1 2 6.6-1.4-3.1z" fill="#ff0000"/><path d="M502.2 58.3l-.7-.5" class="k"/><path d="M501.4 55.9l1.5 2.2 2.1 7.4-1.5-3z" fill="#ff0000"/><path d="M503 58.7l-.8-.4" class="k"/><path d="M502.8 58.2l1.5 3.2 2.1 7.2-1.5-3.1z" fill="#ff1f00"/><path d="M503 58.7l0 0" class="k"/><path d="M504.3 61.4l1.5 3.8 2 6.4-1.5-3z" fill="#ff5400"/><path d="M507.1 69.3l-.5-.4" class="k"/><path d="M505.7 65.2l1.4 4.2 2.2 5.2-1.5-2.9z" fill="#ff8300"/><path d="M507.4 69.9l-.3-.6" class="k"/><path d="M507.1 69.4l1.5 3.2 2.1 4.5-1.5-2.5z" fill="#ffae00"/><path d="M507.4 70l0-.1" class="k"/><path d="M508.6 72.7l1.4 3 2.2 3.8-1.5-2.3z" fill="#ffd000"/><path d="M510 75.7l1.3 2.8 2.4 3.1-1.5-2.1z" fill="#ffec00"/><path d="M513.1 80.8l-.1-.2" class="k"/><path d="M511.4 78.4l1.3 2.6 2.4 2.6-1.4-2z" fill="#ffff00"/><path d="M513.4 81.5l-.3-.7" class="k"/><path d="M512.9 80.8l1.3 2.7 2.4 1.9-1.4-2z" fill="#ebff00"/><path d="M513.4 81.7l0-.2" class="k"/><path d="M514.3 83.1l1.4 2.6 2.4 1.5-1.4-2.1z" fill="#d7ff00"/><path d="M515.7 85.3l1.6 2.5 2.2 1.2-1.4-2.2z" fill="#c3ff00"/><path d="M517.2 87.4l1.5 2.4 2.3 1-1.5-2.2z" fill="#adff00"/><path d="M518.6 89.4l1.6 2.3 2.3 .7-1.6-2.1z" fill="#98ff00"/><path d="M520.1 91.2l1.6 2.2 2.3 .6-1.6-2z" fill="#80ff00"/><path d="M522.9 93.6l.2-.4" class="k"/><path d="M521.6 93l1.6 2.1 2.2 .5-1.6-2z" fill="#68ff00"/><path d="M522.6 94.1l.3-.5" class="k"/><path d="M523 94.7l1.7 2 2.2 .3-1.6-1.9z" fill="#51ff00"/><path d="M524.5 96.3l1.7 1.9 2.2 .2-1.6-1.8z" fill="#3cff00"/><path d="M526 97.8l1.6 1.7 2.3 .1-1.6-1.7z" fill="#2aff00"/><path d="M527.5 99.1l3.4 2.9 2-.1-3.4-2.7z" fill="#13ff00"/><path d="M530.5 101.6l3.4 2.7 2-.2-3.4-2.6z" fill="#00ff16"/><path d="M533.5 103.9l3.4 2.9 2-.1-3.4-3z" fill="#00ff61"/><path d="M536.5 106.4l3.4 3.5 2 .1-3.4-3.7z" fill="#00ffbd"/><path d="M538.3 108.1l1-.8" class="k"/><path d="M539.6 109.5l3.4 3.8 2 .1-3.4-3.9z" fill="#00f0ff"/><path d="M542.6 112.9l3.4 3.6 2-.2-3.4-3.4z" fill="#00ccff"/><path d="M545.6 116.1l3.5 3.2 2-.5-3.5-2.9z" fill="#00a9ff"/><path d="M548.7 118.9l3.5 2.9 2-.6-3.5-2.8z" fill="#0088ff"/><path d="M551.8 121.4l3.5 2.6 2.1-.7-3.6-2.5z" fill="#006aff"/><path d="M553.2 122.3l1.3-.8" class="k"/><path d="M554.9 123.7l3.6 2.3 2-.9-3.6-2.2z" fill="#0051ff"/><path d="M428.2 111.3l4.4-1.4 2-.7-4.5 1.5z" fill="#560065"/><path d="M432.1 110.1l4.5-1.4 1.9-.8-4.5 1.5z" fill="#6d008a"/><path d="M436 108.8l4.6-1.3 1.9-.8-4.6 1.4z" fill="#7000bc"/><path d="M440 107.6l4.6-1.2 1.9-.9-4.6 1.3z" fill="#6800e0"/><path d="M444 106.5l4.7-1.3 1.9-.9-4.6 1.4z" fill="#5500f5"/><path d="M444.9 106.3l1.5-.7" class="k"/><path d="M448.1 105.3l4.7-1.3 2-.9-4.8 1.3z" fill="#3403ff"/><path d="M452.3 104.2l4.7-1 2-1-4.8 1z" fill="#020fff"/><path d="M456.5 103.3l4.8-1 1.9-1.3-4.8 1.3z" fill="#003eff"/><path d="M460.7 102.4l4.9-1.7 1.8-1.7-4.8 2.2z" fill="#0074ff"/><path d="M463.4 101.4l.8-.9" class="k"/><path d="M465 100.9l4.8-4.1 1.9-3.3-4.7 5.9z" fill="#00c7ff"/><path d="M469.4 97.3l1.4-1.8 2.1-4.7-1.3 2.7z" fill="#00ffe8"/><path d="M471.8 93.2l.2-.5" class="k"/><path d="M470.7 95.4l1.4-1.8 2.1-5.6-1.3 2.8z" fill="#00ff70"/><path d="M471.9 93.7l-.1-.5" class="k"/><path d="M472 93.5l1.4-1.9 2.1-6.2-1.4 2.6z" fill="#03ff00"/><path d="M473.4 91.6l1.3-2.7 2.1-6.6-1.4 3.1z" fill="#37ff00"/><path d="M476.2 84l0-.2" class="k"/><path d="M474.7 88.9l1.3-3.5 2.1-6.6-1.4 3.5z" fill="#7bff00"/><path d="M476.2 84.7l0-.7" class="k"/><path d="M476 85.4l1.3-3.9 2.1-6.5-1.4 3.8z" fill="#baff00"/><path d="M476.2 84.8l0-.1" class="k"/><path d="M477.3 81.5l1.3-4 2.1-6.4-1.3 3.9z" fill="#eeff00"/><path d="M479.4 75.1l.1-.6" class="k"/><path d="M478.6 77.5l1.3-3.9 2.1-6.4-1.3 3.9z" fill="#ffe100"/><path d="M479.3 75.4l.1-.3" class="k"/><path d="M479.9 73.6l1.4-3.9 2.1-6.6-1.4 4.1z" fill="#ffa700"/><path d="M482.6 65.4l.1-.3" class="k"/><path d="M481.3 69.7l1.3-4.1 2.1-6.8-1.3 4.3z" fill="#ff6700"/><path d="M482.5 65.9l.1-.5" class="k"/><path d="M482.6 65.6l1.4-4.4 2.1-7-1.4 4.6z" fill="#ff1800"/><path d="M485.6 55.6l.1-.1" class="k"/><path d="M484 61.2l1.3-4.1 2.1-7-1.4 4.1z" fill="#ff0000"/><path d="M485.6 56.2l0-.6" class="k"/><path d="M485.3 57.1l1.4-3.4 2.1-6.8-1.4 3.1z" fill="#ff0000"/><path d="M485.6 56.3l0-.1" class="k"/><path d="M486.7 53.7l1.4-3 2.1-6.4-1.4 2.6z" fill="#ff0000"/><path d="M489.6 46.1l-.2-.3" class="k"/><path d="M488 50.7l1.5-2.3 2.1-5.3-1.5 1.2z" fill="#ff0000"/><path d="M490.2 46.5l-.6-.4" class="k"/><path d="M489.4 48.4l1.5-.9 2.2-3.6-1.6-.8z" fill="#ff0000"/><path d="M491.2 46.8l-1-.3" class="k"/><path d="M490.7 47.3l1.6 .6 2.3-1.4-1.6-2.7z" fill="#ff0000"/><path d="M493.7 46.8l-2.5 0" class="k"/><path d="M492.1 47.6l1.5 .2 2.4 .3-1.6-1.9z" fill="#ff0000"/><path d="M494.6 46.7l-.9 .1" class="k"/><path d="M493.5 47.5l1.6-.3 2.3 2.5-1.4-1.8z" fill="#ff0000"/><path d="M494.6 47.5l.8 .1" class="k"/><path d="M495 47.3l1.6 .3 2.2 4.4-1.4-2.2z" fill="#ff0000"/><path d="M496.4 47.8l-1-.2" class="k"/><path d="M496.5 47.7l1.6 .6 2.1 6-1.5-2.2z" fill="#ff0000"/><path d="M498 48.3l1.5 .8 2.1 7.3-1.5-2z" fill="#ff0000"/><path d="M499.4 49.1l1.6 1.4 2 8.2-1.5-2.2z" fill="#ff0000"/><path d="M500.9 50.5l1.5 3.3 2.1 8.2-1.5-3.3z" fill="#ff0000"/><path d="M503.7 59.1l-.7-.4" class="k"/><path d="M502.3 53.8l1.5 4.7 2.1 7.3-1.5-3.8z" fill="#ff0000"/><path d="M504.1 59.7l-.4-.6" class="k"/><path d="M503.8 58.5l1.4 5.3 2.1 6.2-1.4-4.2z" fill="#ff2000"/><path d="M504.1 59.8l0-.1" class="k"/><path d="M505.2 63.8l1.5 4 2.1 5.4-1.5-3.2z" fill="#ff6300"/><path d="M507.7 70.5l-.3-.5" class="k"/><path d="M506.7 67.8l1.3 3.8 2.3 4.6-1.5-3z" fill="#ff8f00"/><path d="M507.9 71l-.2-.5" class="k"/><path d="M508.1 71.6l1.3 3.6 2.3 3.7-1.4-2.7z" fill="#ffbb00"/><path d="M509.5 75.1l1.3 3.1 2.4 3.1-1.4-2.4z" fill="#ffdc00"/><path d="M511 78l1.3 3 2.4 2.6-1.4-2.3z" fill="#fff500"/><path d="M513.6 82.2l-.2-.5" class="k"/><path d="M512.4 80.7l1.4 3 2.3 2-1.3-2.4z" fill="#f4ff00"/><path d="M513.5 82.7l.1-.5" class="k"/><path d="M513.9 83.3l1.4 2.9 2.3 1.6-1.4-2.5z" fill="#ddff00"/><path d="M515.3 85.7l1.5 2.8 2.3 1.3-1.5-2.5z" fill="#c7ff00"/><path d="M516.8 88l1.5 2.6 2.3 1-1.6-2.3z" fill="#afff00"/><path d="M518.2 90.1l1.6 2.4 2.2 .9-1.5-2.3z" fill="#99ff00"/><path d="M519.7 92l1.6 2.3 2.2 .7-1.5-2.1z" fill="#81ff00"/><path d="M522.5 94.5l.1-.4" class="k"/><path d="M521.1 93.9l1.7 2.2 2.2 .5-1.6-2z" fill="#67ff00"/><path d="M522.2 95l.3-.5" class="k"/><path d="M522.6 95.6l1.7 2.1 2.2 .3-1.6-1.9z" fill="#50ff00"/><path d="M524.1 97.3l1.6 1.9 2.3 .2-1.6-1.8z" fill="#3bff00"/><path d="M525.6 98.7l3.4 3.2 2 0-3.4-2.9z" fill="#21ff00"/><path d="M528.6 101.5l3.4 2.8 2-.1-3.4-2.7z" fill="#02ff00"/><path d="M531.6 103.9l3.4 2.8 2 0-3.4-2.9z" fill="#00ff44"/><path d="M534.6 106.3l3.4 3.4 2.1 .1-3.4-3.5z" fill="#00ff9b"/><path d="M537.6 109.1l.7-1" class="k"/><path d="M537.7 109.2l3.4 3.9 2 .1-3.4-3.8z" fill="#00fdff"/><path d="M540.7 112.6l3.4 3.9 2.1-.1-3.5-3.6z" fill="#00d7ff"/><path d="M543.8 116.1l3.4 3.5 2.1-.4-3.5-3.2z" fill="#00b2ff"/><path d="M546.8 119.2l3.5 3 2.1-.6-3.5-2.9z" fill="#008eff"/><path d="M549.9 121.8l3.6 2.8 2-.8-3.5-2.6z" fill="#006dff"/><path d="M551.7 123.1l1.5-.8" class="k"/><path d="M553.1 124.3l3.5 2.4 2.1-.9-3.6-2.3z" fill="#0052ff"/><path d="M426.2 111.9l4.5-1.3 1.9-.7-4.4 1.4z" fill="#560065"/><path d="M430.1 110.7l4.5-1.3 2-.7-4.5 1.3z" fill="#6c0088"/><path d="M434.1 109.6l4.5-1.3 2-.8-4.6 1.3z" fill="#7000b8"/><path d="M438.1 108.4l4.6-1.2 1.9-.9-4.6 1.3z" fill="#6900de"/><path d="M442.1 107.3l4.7-1.3 1.9-.9-4.7 1.4z" fill="#5800f4"/><path d="M443.4 107l1.5-.7" class="k"/><path d="M446.2 106.2l4.7-1.3 1.9-.9-4.7 1.2z" fill="#3a01ff"/><path d="M450.3 105l4.8-.8 1.9-1.1-4.8 1z" fill="#0a0eff"/><path d="M454.5 104.2l4.8-.8 2-1.2-4.9 1z" fill="#0034ff"/><path d="M458.8 103.5l4.8-1.3 1.9-1.6-4.8 1.7z" fill="#0065ff"/><path d="M462.8 102.3l.6-.9" class="k"/><path d="M463.1 102.3l4.8-2.6 1.9-2.9-4.8 4.1z" fill="#00a9ff"/><path d="M467.5 100l1.4-1.1 2.1-4-1.3 1.8z" fill="#00dbff"/><path d="M468.8 98.9l1.4-1.2 2.1-4.7-1.4 1.9z" fill="#00f7ff"/><path d="M471.9 93.8l0-.1" class="k"/><path d="M470.1 97.7l1.4-1.3 2.1-5.3-1.4 1.9z" fill="#00ffbd"/><path d="M472.2 94.4l-.3-.6" class="k"/><path d="M471.4 96.3l1.4-2.3 2.1-5.7-1.4 2.7z" fill="#00ff50"/><path d="M472.3 94.8l-.1-.4" class="k"/><path d="M472.8 94l1.3-3.3 2.1-5.8-1.3 3.4z" fill="#1bff00"/><path d="M474.1 90.7l1.3-3.8 2.1-5.9-1.3 3.9z" fill="#64ff00"/><path d="M475.9 85.5l.3-.7" class="k"/><path d="M475.4 86.9l1.3-4 2.1-5.9-1.3 4z" fill="#adff00"/><path d="M475.8 85.7l.1-.2" class="k"/><path d="M476.7 82.9l1.3-3.9 2.1-6-1.3 4z" fill="#e4ff00"/><path d="M479.1 75.8l.2-.4" class="k"/><path d="M478 79l1.3-3.7 2.2-6.2-1.4 3.9z" fill="#ffee00"/><path d="M479 76.3l.1-.5" class="k"/><path d="M479.3 75.3l1.4-3.8 2.1-6.5-1.3 4.1z" fill="#ffb800"/><path d="M482.5 66l0-.1" class="k"/><path d="M480.7 71.5l1.3-4 2.1-6.8-1.3 4.3z" fill="#ff7700"/><path d="M482.3 66.7l.2-.7" class="k"/><path d="M482 67.5l1.4-3.9 2.1-7.1-1.4 4.2z" fill="#ff2e00"/><path d="M482.3 66.8l0-.1" class="k"/><path d="M483.4 63.6l1.4-3.6 2.1-6.9-1.4 3.4z" fill="#ff0000"/><path d="M485.7 56.8l-.1-.5" class="k"/><path d="M484.7 60l1.5-3.4 2.1-6.5-1.5 3z" fill="#ff0000"/><path d="M485.9 57.2l-.2-.4" class="k"/><path d="M486.1 56.6l1.4-3.2 2.2-5.6-1.5 2.3z" fill="#ff0000"/><path d="M487.5 53.4l1.4-2.6 2.2-3.9-1.5 .9z" fill="#ff0000"/><path d="M488.8 50.8l1.4-1.6 2.4-1.8-1.6-.5z" fill="#ff0000"/><path d="M490.2 49.1l1.5-1.9 2.4 .3-1.5-.1z" fill="#ff0000"/><path d="M491.5 47.8l1.6-.3" class="k"/><path d="M491.5 47.5l1.7-1.8 2.3 1.8-1.5 .4z" fill="#ff0000"/><path d="M494.6 47.5l-1.5 0" class="k"/><path d="M493 45.9l1.6-1.2 2.3 3.4-1.6-.3z" fill="#ff0000"/><path d="M496.6 47.9l-.2-.1" class="k"/><path d="M494.4 44.8l1.7-.9 2.2 4.9-1.6-.6z" fill="#fd0000"/><path d="M497.9 48.2l-1.3-.3" class="k"/><path d="M495.9 44l1.6-.4 2.2 6-1.6-.7z" fill="#fc0000"/><path d="M499.2 48.5l-1.3-.3" class="k"/><path d="M497.4 43.6l1.6 .6 2.1 6.8-1.5-1.3z" fill="#ff0000"/><path d="M500.4 48.8l-1.2-.3" class="k"/><path d="M498.9 44.2l1.5 3.5 2.1 6.7-1.5-3.3z" fill="#ff0000"/><path d="M500.9 49.3l-.5-.5" class="k"/><path d="M500.4 47.7l1.3 5.4 2.3 6-1.5-4.7z" fill="#ff0000"/><path d="M500.9 49.4l0-.1" class="k"/><path d="M501.8 53l1.4 6.4 2.2 5-1.2-5.6z" fill="#ff0000"/><path d="M503.9 60.4l.2-.6" class="k"/><path d="M503.3 58.9l1.2 4.7 2.4 4.8-1.4-4.1z" fill="#ff0600"/><path d="M503.8 60.6l.1-.2" class="k"/><path d="M504.7 63.4l1.3 4.8 2.3 4-1.3-3.9z" fill="#ff4700"/><path d="M507.9 71.2l0-.2" class="k"/><path d="M506.2 67.8l1.3 4.5 2.3 3.3-1.3-3.7z" fill="#ff7f00"/><path d="M507.7 71.9l.2-.7" class="k"/><path d="M507.6 71.8l1.4 3.8 2.3 2.9-1.3-3.1z" fill="#ffac00"/><path d="M509 75.2l1.5 3.6 2.2 2.4-1.3-3z" fill="#ffd100"/><path d="M510.5 78.3l1.5 3.5 2.2 2-1.4-3z" fill="#ffef00"/><path d="M513.5 82.9l0-.2" class="k"/><path d="M511.9 81.3l1.6 3.3 2.2 1.6-1.5-2.9z" fill="#f8ff00"/><path d="M513.2 83.6l.3-.7" class="k"/><path d="M513.4 84.1l1.5 3 2.3 1.3-1.5-2.7z" fill="#dfff00"/><path d="M514.8 86.6l1.6 2.8 2.3 1.1-1.6-2.6z" fill="#c8ff00"/><path d="M516.3 88.9l1.6 2.7 2.2 .8-1.5-2.4z" fill="#b0ff00"/><path d="M517.8 91.1l1.6 2.4 2.2 .8-1.6-2.3z" fill="#99ff00"/><path d="M519.2 93.1l1.7 2.3 2.2 .6-1.6-2.2z" fill="#80ff00"/><path d="M521.9 95.5l.3-.5" class="k"/><path d="M520.7 95l1.7 2.2 2.2 .4-1.6-2.1z" fill="#65ff00"/><path d="M521.6 95.9l.3-.4" class="k"/><path d="M522.2 96.7l1.6 2.1 2.3 .3-1.6-2z" fill="#4dff00"/><path d="M523.7 98.4l3.4 3.4 2 0-3.4-3.2z" fill="#2fff00"/><path d="M526.7 101.4l3.4 3 2-.2-3.4-2.8z" fill="#0eff00"/><path d="M529.7 104l3.4 2.8 2.1-.2-3.5-2.8z" fill="#00ff28"/><path d="M532.7 106.3l3.5 3.3 2-.1-3.4-3.3z" fill="#00ff7b"/><path d="M537.3 109.4l.3-.3" class="k"/><path d="M535.8 109.1l3.4 3.9 2 0-3.4-3.9z" fill="#00ffe2"/><path d="M536.6 109.9l.7-.5" class="k"/><path d="M538.9 112.5l3.4 4.1 2-.2-3.4-3.9z" fill="#00e1ff"/><path d="M541.9 116.2l3.4 3.7 2.1-.4-3.5-3.5z" fill="#00bbff"/><path d="M545 119.5l3.5 3.2 2-.6-3.5-3.1z" fill="#0094ff"/><path d="M548.1 122.3l3.5 2.9 2-.8-3.5-2.7z" fill="#0071ff"/><path d="M550.1 123.9l1.6-.8" class="k"/><path d="M551.2 124.9l3.6 2.5 2-.9-3.6-2.4z" fill="#0053ff"/><path d="M424.3 112.4l4.4-1.2 2-.7-4.5 1.3z" fill="#550064"/><path d="M428.2 111.4l4.5-1.2 1.9-.8-4.5 1.3z" fill="#6b0085"/><path d="M432.1 110.3l4.6-1.2 1.9-.8-4.5 1.2z" fill="#7000b4"/><path d="M436.1 109.3l4.6-1.2 2-1-4.7 1.3z" fill="#6b00db"/><path d="M440.1 108.2l4.7-1.2 2-1-4.7 1.3z" fill="#5b00f2"/><path d="M442 107.7l1.4-.7" class="k"/><path d="M444.2 107.1l4.8-1.2 1.9-1-4.7 1.2z" fill="#4100ff"/><path d="M448.4 106l4.7-.9 2-1-4.8 .8z" fill="#120cff"/><path d="M452.6 105.2l4.8-.7 1.9-1.2-4.8 .8z" fill="#0029ff"/><path d="M456.8 104.5l4.9-1 1.9-1.4-4.9 1.3z" fill="#0057ff"/><path d="M462.5 102.7l.3-.4" class="k"/><path d="M461.1 103.6l4.9-1.9 1.9-2.1-4.9 2.7z" fill="#0090ff"/><path d="M462 103.2l.5-.5" class="k"/><path d="M465.5 101.9l1.4-.7 2.3-2.8-1.4 1.1z" fill="#00bbff"/><path d="M466.8 101.1l1.4-.8 2.2-3.1-1.3 1.2z" fill="#00d0ff"/><path d="M468.1 100.3l1.4-1 2.2-3.5-1.3 1.4z" fill="#00e6ff"/><path d="M469.5 99.3l1.3-2 2.2-3.8-1.3 2.3z" fill="#00ffed"/><path d="M472 95.2l.3-.4" class="k"/><path d="M470.8 97.3l1.2-3 2.3-4.1-1.2 3.4z" fill="#00ff67"/><path d="M471.5 95.7l.5-.5" class="k"/><path d="M472.1 94.4l1.2-3.6 2.3-4.5-1.1 4.1z" fill="#19ff00"/><path d="M473.4 90.9l1.2-3.9 2.3-4.6-1.1 4.1z" fill="#65ff00"/><path d="M475.1 86.4l.7-.7" class="k"/><path d="M474.7 87.1l1.2-3.8 2.3-4.9-1.2 4.1z" fill="#acff00"/><path d="M475 86.5l.1-.1" class="k"/><path d="M476.1 83.4l1.2-3.6 2.2-5-1.2 3.7z" fill="#e0ff00"/><path d="M478.8 76.6l.2-.3" class="k"/><path d="M477.4 79.9l1.3-3.6 2.2-5.3-1.3 3.8z" fill="#fff300"/><path d="M478.4 77.1l.4-.5" class="k"/><path d="M478.7 76.3l1.3-3.8 2.2-5.5-1.3 4z" fill="#ffc100"/><path d="M480.1 72.5l1.3-3.7 2.2-5.8-1.3 4z" fill="#ff8300"/><path d="M481.9 67.4l.4-.6" class="k"/><path d="M481.4 68.8l1.4-3.7 2.1-5.7-1.3 3.6z" fill="#ff4500"/><path d="M481.9 67.6l0-.2" class="k"/><path d="M482.8 65.1l1.4-3.5 2.1-5.5-1.4 3.3z" fill="#ff0400"/><path d="M485.8 57.4l.1-.2" class="k"/><path d="M484.2 61.6l1.3-3.8 2.2-5-1.4 3.3z" fill="#ff0000"/><path d="M485.5 58l.3-.6" class="k"/><path d="M485.5 57.8l1.2-3.9 2.4-3.6-1.4 2.5z" fill="#ff0000"/><path d="M486.9 54.1l1.4-3.9 2.3-1.5-1.4 1.6z" fill="#ff0000"/><path d="M488.2 50.6l1.5-3.2 2.4-.1-1.5 1.9z" fill="#ff0000"/><path d="M489.5 48.3l2-.5" class="k"/><path d="M489.6 47.8l1.6-2.3 2.3 .4-1.6 1.8z" fill="#ff0000"/><path d="M491 45.8l1.6-2 2.4 1.2-1.7 1.3z" fill="#f10000"/><path d="M492.4 44.1l1.7-1.7 2.3 1.9-1.6 1z" fill="#e40000"/><path d="M493.8 42.6l1.7-1 2.3 2.4-1.6 .5z" fill="#db0000"/><path d="M495.3 41.7l1.6 .2 2.3 2.8-1.5-.5z" fill="#d80000"/><path d="M496.9 41.9l1.4 4.1 2.3 2.2-1.5-4z" fill="#e70000"/><path d="M498.3 45.4l1.6 6 2.1 2.2-1.5-5.9z" fill="#ff0000"/><path d="M499.6 50l1.3-.6" class="k"/><path d="M499.8 50.9l1.5 5.8 2.2 2.7-1.5-6.4z" fill="#ff0000"/><path d="M501.3 56.1l1.5 5.1 2.1 2.7-1.4-5.1z" fill="#ff0000"/><path d="M503.1 61.2l.7-.6" class="k"/><path d="M502.7 60.6l1.5 5.1 2.2 2.6-1.5-4.9z" fill="#ff0600"/><path d="M503 61.3l.1-.1" class="k"/><path d="M504.2 65.2l1.5 4.7 2.2 2.4-1.5-4.5z" fill="#ff4800"/><path d="M507.6 71.9l.1 0" class="k"/><path d="M505.6 69.4l1.5 4.2 2.2 2.1-1.4-3.9z" fill="#ff7e00"/><path d="M507 72.7l.6-.8" class="k"/><path d="M507.1 73.1l1.5 4 2.2 1.7-1.5-3.6z" fill="#ffab00"/><path d="M508.5 76.5l1.6 3.8 2.2 1.5-1.5-3.5z" fill="#ffd200"/><path d="M510 79.8l1.6 3.5 2.2 1.2-1.6-3.2z" fill="#fff100"/><path d="M512.9 83.8l.3-.2" class="k"/><path d="M511.4 82.8l1.6 3.3 2.3 1-1.6-3.1z" fill="#f5ff00"/><path d="M512.4 84.4l.5-.6" class="k"/><path d="M512.9 85.6l1.6 2.9 2.2 .9-1.5-2.8z" fill="#dcff00"/><path d="M514.4 88l1.6 2.8 2.2 .7-1.6-2.6z" fill="#c5ff00"/><path d="M515.8 90.3l1.7 2.6 2.2 .6-1.6-2.5z" fill="#acff00"/><path d="M517.3 92.5l1.6 2.4 2.3 .4-1.6-2.3z" fill="#95ff00"/><path d="M518.8 94.5l1.6 2.3 2.3 .3-1.6-2.2z" fill="#7aff00"/><path d="M520.9 96.6l.7-.7" class="k"/><path d="M520.3 96.4l1.6 2.2 2.3 .1-1.7-2.1z" fill="#60ff00"/><path d="M520.7 96.8l.2-.2" class="k"/><path d="M521.8 98.1l3.3 3.7 2.1-.1-3.4-3.4z" fill="#3dff00"/><path d="M524.8 101.4l3.4 3.2 2-.4-3.4-2.9z" fill="#18ff00"/><path d="M527.8 104.1l3.4 3 2.1-.5-3.5-2.8z" fill="#00ff13"/><path d="M530.8 106.7l3.4 3.2 2.1-.5-3.4-3.2z" fill="#00ff66"/><path d="M533.9 109.5l3.4 3.8 2.1-.4-3.4-3.9z" fill="#00ffcb"/><path d="M535.1 110.7l1.5-.8" class="k"/><path d="M536.9 112.9l3.4 4.1 2.1-.5-3.4-4.1z" fill="#00e8ff"/><path d="M540 116.6l3.4 3.8 2.1-.6-3.4-3.7z" fill="#00c1ff"/><path d="M543.1 119.9l3.5 3.3 2-.7-3.5-3.1z" fill="#0099ff"/><path d="M546.2 122.8l3.5 3 2.1-.7-3.6-3z" fill="#0074ff"/><path d="M548.5 124.6l1.6-.7" class="k"/><path d="M549.3 125.5l3.6 2.7 2-.9-3.5-2.6z" fill="#0054ff"/><path d="M422.3 113l4.5-1.1 1.9-.7-4.5 1.2z" fill="#550064"/><path d="M426.2 112.1l4.5-1.1 2-.8-4.6 1.2z" fill="#690083"/><path d="M430.1 111.1l4.6-1.1 2-.9-4.6 1.2z" fill="#7000af"/><path d="M434.1 110.1l4.7-1.1 1.9-1-4.6 1.2z" fill="#6c00d8"/><path d="M438.2 109.1l4.7-1.2 1.9-1-4.7 1.2z" fill="#5f00f1"/><path d="M440.7 108.4l1.3-.7" class="k"/><path d="M442.3 108.1l4.7-1.2 1.9-1.1-4.7 1.2z" fill="#4500fd"/><path d="M446.4 107l4.8-.9 1.9-1.1-4.7 .8z" fill="#1b09ff"/><path d="M450.6 106.2l4.8-.7 2-1.1-4.9 .7z" fill="#001fff"/><path d="M454.8 105.6l4.9-1 2-1.3-4.9 1.1z" fill="#004cff"/><path d="M459.1 104.7l4.9-1.8 2-1.4-4.9 2z" fill="#007fff"/><path d="M460.9 104l1.1-.8" class="k"/><path d="M463.5 103.1l1.3-.6 2.5-1.7-1.4 .7z" fill="#00a6ff"/><path d="M464.8 102.5l1.3-.8 2.5-1.8-1.4 .8z" fill="#00baff"/><path d="M466.1 101.7l1.3-.9 2.5-2-1.3 1.1z" fill="#00ceff"/><path d="M467.5 100.8l1.2-1.9 2.4-2.1-1.2 2.3z" fill="#00e9ff"/><path d="M468.8 99.1l1.2-2.7 2.4-2.5-1.3 3.3z" fill="#00ffcc"/><path d="M470.4 96.4l1.1-.7" class="k"/><path d="M470.1 96.8l1.2-3.4 2.4-3-1.3 4z" fill="#00ff39"/><path d="M470.3 96.4l.1 0" class="k"/><path d="M471.5 93.8l1.2-3.9 2.3-3.3-1.3 4.3z" fill="#2cff00"/><path d="M472.8 90.3l1.2-4 2.3-3.5-1.2 4.2z" fill="#77ff00"/><path d="M473.9 87.2l1.1-.7" class="k"/><path d="M474.1 86.7l1.1-3.7 2.4-3.7-1.1 3.8z" fill="#b5ff00"/><path d="M475.4 83.3l1.2-3.8 2.4-3.8-1.2 3.9z" fill="#e5ff00"/><path d="M478 77.4l.4-.3" class="k"/><path d="M476.8 79.8l1.1-3.9 2.4-3.9-1.2 4.1z" fill="#ffef00"/><path d="M477.5 77.9l.5-.5" class="k"/><path d="M478.1 76.2l1.2-3.8 2.4-4.2-1.2 4z" fill="#ffbe00"/><path d="M479.5 72.6l1.2-3.6 2.3-4.4-1.2 3.8z" fill="#ff8300"/><path d="M481.2 68.3l.7-.7" class="k"/><path d="M480.8 69.1l1.3-3.6 2.3-4.5-1.3 3.7z" fill="#ff4800"/><path d="M481.1 68.4l.1-.1" class="k"/><path d="M482.2 65.6l1.2-4.2 2.4-4.1-1.2 3.9z" fill="#ff0500"/><path d="M485.4 58.1l.1-.1" class="k"/><path d="M483.6 61.7l1.2-4.7 2.4-3.4-1.3 4z" fill="#ff0000"/><path d="M484.6 58.7l.8-.6" class="k"/><path d="M484.9 57.5l1.4-5 2.3-2.3-1.3 3.8z" fill="#ff0000"/><path d="M486.3 53.1l1.4-4.1 2.3-1.6-1.4 3.3z" fill="#ff0000"/><path d="M488.7 48.6l.8-.3" class="k"/><path d="M487.6 49.5l1.4-2.4 2.5-1.6-1.4 2.3z" fill="#ff0000"/><path d="M488.2 48.8l.5-.2" class="k"/><path d="M489 47.5l1.4-2.2 2.5-1.4-1.4 1.9z" fill="#f10000"/><path d="M490.5 45.7l1.3-1.7 2.6-1.5-1.4 1.6z" fill="#e10000"/><path d="M491.9 44.2l1.4-.9 2.5-1.5-1.5 .7z" fill="#d40000"/><path d="M493.3 43.2l1.6 .4 2.4-1.5-1.6-.5z" fill="#cf0000"/><path d="M494.8 43.1l1.6 3.7 2.3-.9-1.7-4z" fill="#dd0000"/><path d="M496.3 46.2l1.6 5.6 2.2-.4-1.6-6z" fill="#ff0000"/><path d="M497.7 50.5l1.9-.5" class="k"/><path d="M497.8 51.2l1.6 4.4 2.2 1-1.6-5.7z" fill="#ff0000"/><path d="M499.2 55.1l1.6 4.6 2.2 1.4-1.6-5z" fill="#ff0000"/><path d="M500.7 59.1l1.6 4.9 2.2 1.7-1.6-5.1z" fill="#ff0000"/><path d="M501.7 62l1.3-.7" class="k"/><path d="M502.2 63.5l1.5 4.6 2.2 1.8-1.5-4.8z" fill="#ff1b00"/><path d="M503.6 67.6l1.6 4.3 2.2 1.7-1.5-4.2z" fill="#ff5a00"/><path d="M506.7 72.9l.3-.2" class="k"/><path d="M505.1 71.3l1.6 4.2 2.2 1.5-1.6-4z" fill="#ff8800"/><path d="M506 73.4l.7-.5" class="k"/><path d="M506.6 75l1.5 4.1 2.3 1.2-1.6-3.8z" fill="#ffb700"/><path d="M508 78.5l1.6 3.8 2.2 1-1.6-3.6z" fill="#ffdc00"/><path d="M509.5 81.8l1.6 3.3 2.2 .9-1.6-3.3z" fill="#fff800"/><path d="M511.5 85l.9-.6" class="k"/><path d="M511 84.6l1.6 3.1 2.2 .7-1.6-2.9z" fill="#edff00"/><path d="M511.3 85.1l.2-.1" class="k"/><path d="M512.4 87.2l1.6 2.9 2.3 .6-1.6-2.7z" fill="#d5ff00"/><path d="M513.9 89.6l1.6 2.8 2.3 .4-1.6-2.6z" fill="#beff00"/><path d="M515.4 91.9l1.6 2.6 2.3 .3-1.7-2.4z" fill="#a5ff00"/><path d="M516.9 94l1.6 2.5 2.3 .2-1.7-2.3z" fill="#8dff00"/><path d="M518.3 96l1.7 2.4 2.3 0-1.7-2.2z" fill="#71ff00"/><path d="M519.7 97.6l1-.8" class="k"/><path d="M519.8 97.9l3.4 4 2.1-.2-3.4-3.7z" fill="#4aff00"/><path d="M522.8 101.4l3.4 3.5 2.1-.5-3.4-3.2z" fill="#21ff00"/><path d="M525.8 104.5l3.4 3.2 2.2-.7-3.5-3z" fill="#00ff06"/><path d="M528.9 107.3l3.4 3.3 2.1-.8-3.4-3.2z" fill="#00ff5f"/><path d="M531.9 110.2l3.5 3.9 2.1-.9-3.4-3.8z" fill="#00ffc5"/><path d="M533.1 111.3l2-.6" class="k"/><path d="M535 113.6l3.4 4 2.1-.7-3.4-4.1z" fill="#00ebff"/><path d="M538.1 117.2l3.4 3.7 2.1-.7-3.4-3.7z" fill="#00c4ff"/><path d="M541.2 120.5l3.5 3.3 2-.7-3.5-3.3z" fill="#009dff"/><path d="M544.3 123.4l3.5 3.1 2.1-.8-3.5-3z" fill="#0077ff"/><path d="M546.8 125.4l1.7-.8" class="k"/><path d="M547.4 126.1l3.6 2.8 2-.9-3.5-2.7z" fill="#0055ff"/><path d="M420.3 113.6l4.5-.9 2-.8-4.5 1.1z" fill="#540063"/><path d="M424.2 112.8l4.6-1 1.9-.9-4.5 1.1z" fill="#680080"/><path d="M428.2 111.9l4.6-1 1.9-1-4.6 1.1z" fill="#7000aa"/><path d="M432.2 111l4.6-1.1 2-1-4.7 1.1z" fill="#6e00d4"/><path d="M436.2 110l4.7-1 1.9-1.1-4.6 1.1z" fill="#6200ed"/><path d="M439.5 109.2l1.2-.8" class="k"/><path d="M440.3 109.1l4.7-1.1 2-1.2-4.7 1.2z" fill="#4a00fa"/><path d="M444.4 108l4.8-.9 2-1.1-4.8 .8z" fill="#2507ff"/><path d="M448.6 107.2l4.9-.7 1.9-1.1-4.8 .7z" fill="#0016ff"/><path d="M452.9 106.5l4.8-1 2-1-4.9 1z" fill="#0042ff"/><path d="M457.2 105.6l4.9-1.6 1.9-1.1-4.9 1.7z" fill="#0074ff"/><path d="M459.7 104.8l1.2-.8" class="k"/><path d="M461.5 104.2l1.3-.6 2.5-1.4-1.3 .6z" fill="#009aff"/><path d="M462.8 103.6l1.3-.7 2.5-1.5-1.3 .8z" fill="#00adff"/><path d="M464.1 102.9l1.3-.9 2.5-1.6-1.3 1z" fill="#00c2ff"/><path d="M465.5 102l1.2-1.6 2.5-1.7-1.3 2z" fill="#00daff"/><path d="M466.8 100.6l1.2-2.2 2.5-2.1-1.3 2.8z" fill="#00fcff"/><path d="M468.2 98.7l1.2-2.8 2.4-2.6-1.3 3.4z" fill="#00ff8c"/><path d="M469 97.2l1.3-.8" class="k"/><path d="M469.5 96.2l1.2-3.5 2.3-2.9-1.2 4z" fill="#04ff00"/><path d="M470.8 93.1l1.2-3.8 2.4-3.1-1.3 4.1z" fill="#46ff00"/><path d="M473.5 87.5l.4-.3" class="k"/><path d="M472.1 89.7l1.2-3.8 2.4-3.1-1.2 3.8z" fill="#8fff00"/><path d="M472.8 88l.7-.5" class="k"/><path d="M473.4 86.3l1.3-3.9 2.3-3.1-1.2 3.9z" fill="#c5ff00"/><path d="M474.8 82.9l1.2-3.8 2.4-3.4-1.3 4z" fill="#f2ff00"/><path d="M476.7 78.5l.8-.6" class="k"/><path d="M476.1 79.5l1.2-3.7 2.4-3.7-1.2 3.9z" fill="#ffe400"/><path d="M476.5 78.6l.2-.1" class="k"/><path d="M477.5 76.1l1.2-3.5 2.4-4.1-1.2 3.8z" fill="#ffb300"/><path d="M478.8 72.8l1.3-3.5 2.3-4.3-1.2 3.7z" fill="#ff7d00"/><path d="M480.3 69.1l.8-.7" class="k"/><path d="M480.2 69.4l1.2-4.1 2.4-4.2-1.2 4.2z" fill="#ff3e00"/><path d="M481.6 65.6l1.2-4.7 2.4-3.9-1.3 4.6z" fill="#ff0000"/><path d="M484.1 59l.5-.3" class="k"/><path d="M483 61.4l1.3-5.1 2.3-3.8-1.3 5z" fill="#ff0000"/><path d="M483.6 59.4l.5-.4" class="k"/><path d="M484.3 56.8l1.3-4 2.4-3.8-1.3 3.8z" fill="#ff0000"/><path d="M485.7 53.1l1.4-2.4 2.3-3.7-1.4 2z" fill="#ff0000"/><path d="M488 49.3l.2-.5" class="k"/><path d="M487.1 50.7l1.4-2 2.4-3.5-1.5 1.8z" fill="#ff0000"/><path d="M487.9 49.6l.1-.3" class="k"/><path d="M488.5 48.6l1.5-1.6 2.3-3.2-1.5 1.4z" fill="#ef0000"/><path d="M489.9 47l1.6-1 2.3-3.1-1.6 .8z" fill="#e20000"/><path d="M491.3 45.9l1.6-.1 2.4-2.7-1.7-.2z" fill="#db0000"/><path d="M492.7 45.4l1.7 2.7 2.4-1.5-1.8-3.6z" fill="#e50000"/><path d="M494.3 47.6l1.6 4.5 2.2-.4-1.6-5.5z" fill="#ff0000"/><path d="M495.6 51l2.1-.5" class="k"/><path d="M495.7 51.6l1.6 3.1 2.3 .8-1.6-4.3z" fill="#ff0000"/><path d="M497.2 54.2l1.6 4.1 2.2 1.3-1.5-4.6z" fill="#ff0000"/><path d="M498.7 57.8l1.6 4.6 2.2 1.6-1.6-4.9z" fill="#ff0000"/><path d="M500.8 62.5l.9-.5" class="k"/><path d="M500.2 61.9l1.5 4.4 2.3 1.8-1.6-4.7z" fill="#ff0000"/><path d="M500.5 62.6l.3-.1" class="k"/><path d="M501.7 65.7l1.5 4.4 2.2 1.7-1.5-4.3z" fill="#ff3100"/><path d="M503.1 69.5l1.6 4.4 2.2 1.6-1.6-4.2z" fill="#ff6a00"/><path d="M505.2 74l.8-.6" class="k"/><path d="M504.6 73.4l1.6 4.4 2.2 1.2-1.6-4z" fill="#ff9900"/><path d="M505 74.2l.2-.2" class="k"/><path d="M506.1 77.2l1.6 4 2.2 1-1.6-3.7z" fill="#ffc700"/><path d="M507.5 80.7l1.6 3.5 2.3 .9-1.6-3.4z" fill="#ffe900"/><path d="M509 83.6l1.6 3.2 2.3 .8-1.7-3z" fill="#feff00"/><path d="M510.3 85.9l1-.8" class="k"/><path d="M510.5 86.3l1.6 3.1 2.2 .6-1.6-2.9z" fill="#e5ff00"/><path d="M511.9 88.9l1.7 2.9 2.2 .5-1.6-2.8z" fill="#ceff00"/><path d="M513.4 91.3l1.7 2.7 2.2 .4-1.6-2.6z" fill="#b4ff00"/><path d="M514.9 93.5l1.7 2.6 2.2 .3-1.6-2.5z" fill="#9cff00"/><path d="M516.4 95.7l1.7 2.5 2.2 0-1.6-2.3z" fill="#81ff00"/><path d="M519.2 98l.5-.4" class="k"/><path d="M517.9 97.7l3.3 4.2 2.1-.1-3.3-4z" fill="#57ff00"/><path d="M518.6 98.4l.6-.4" class="k"/><path d="M520.9 101.5l3.4 3.7 2.1-.5-3.4-3.4z" fill="#28ff00"/><path d="M523.9 104.8l3.4 3.5 2.1-.7-3.4-3.3z" fill="#00ff00"/><path d="M526.9 107.9l3.5 3.5 2.1-.9-3.4-3.4z" fill="#00ff5f"/><path d="M530 111l3.4 3.8 2.1-.9-3.4-3.8z" fill="#00ffc8"/><path d="M531 112l2.1-.7" class="k"/><path d="M533.1 114.4l3.4 3.8 2.1-.7-3.4-4z" fill="#00ebff"/><path d="M536.2 117.8l3.4 3.6 2.1-.7-3.4-3.7z" fill="#00c6ff"/><path d="M539.3 121l3.4 3.3 2.1-.7-3.5-3.3z" fill="#00a0ff"/><path d="M542.4 123.9l3.5 3.2 2.1-.8-3.5-3.1z" fill="#0079ff"/><path d="M545.1 126.2l1.7-.8" class="k"/><path d="M545.5 126.7l3.6 2.9 2-.9-3.5-2.8z" fill="#0056ff"/><path d="M418.3 114.2l4.5-.8 2-.8-4.5 1z" fill="#540062"/><path d="M422.2 113.5l4.6-.9 2-.9-4.6 1z" fill="#66007d"/><path d="M426.2 112.7l4.6-.9 1.9-1-4.5 1z" fill="#7000a4"/><path d="M430.2 111.9l4.6-1 2-1-4.6 1z" fill="#7000d0"/><path d="M434.2 111l4.7-.9 2-1.2-4.7 1z" fill="#6400e8"/><path d="M438.4 110.1l1.1-.9" class="k"/><path d="M438.3 110.1l4.7-1 2-1.2-4.7 1.1z" fill="#5000f8"/><path d="M442.5 109.2l4.7-1 2-1.2-4.8 .9z" fill="#3004ff"/><path d="M446.6 108.2l4.9-.8 1.9-1-4.8 .7z" fill="#030fff"/><path d="M450.9 107.5l4.9-1 1.9-1-4.8 .9z" fill="#0039ff"/><path d="M455.2 106.6l4.9-1.6 2-1-4.9 1.6z" fill="#006bff"/><path d="M458.4 105.5l1.3-.7" class="k"/><path d="M459.5 105.2l1.3-.6 2.5-1.3-1.3 .6z" fill="#0090ff"/><path d="M460.8 104.6l1.3-.7 2.6-1.3-1.3 .7z" fill="#00a4ff"/><path d="M462.2 103.9l1.2-.8 2.6-1.4-1.3 .9z" fill="#00b8ff"/><path d="M463.5 103.1l1.2-1.3 2.5-1.6-1.2 1.7z" fill="#00cfff"/><path d="M464.8 101.9l1.3-1.7 2.4-2-1.2 2.4z" fill="#00ebff"/><path d="M466.2 100.4l1.2-2.2 2.4-2.5-1.2 2.9z" fill="#00ffd0"/><path d="M468 97.8l1-.6" class="k"/><path d="M467.5 98.4l1.2-3.1 2.4-2.7-1.3 3.6z" fill="#00ff4d"/><path d="M467.8 97.9l.2-.1" class="k"/><path d="M468.8 95.7l1.3-3.7 2.3-2.8-1.3 3.9z" fill="#1fff00"/><path d="M470.1 92.5l1.3-3.9 2.3-2.8-1.2 3.9z" fill="#62ff00"/><path d="M471.7 88.7l1.1-.7" class="k"/><path d="M471.5 89.1l1.2-3.8 2.4-3-1.3 4z" fill="#a3ff00"/><path d="M471.6 88.8l.1-.1" class="k"/><path d="M472.8 85.7l1.2-3.6 2.4-3.2-1.2 3.9z" fill="#d4ff00"/><path d="M474.1 82.5l1.2-3.4 2.4-3.5-1.2 3.7z" fill="#feff00"/><path d="M475.5 79.4l1-.8" class="k"/><path d="M475.5 79.4l1.2-3.3 2.4-3.9-1.2 3.6z" fill="#ffda00"/><path d="M476.8 76.3l1.3-3.4 2.4-4.1-1.3 3.6z" fill="#ffaa00"/><path d="M480.3 69.2l0-.1" class="k"/><path d="M478.2 73.1l1.2-3.9 2.4-4.2-1.2 4.1z" fill="#ff7300"/><path d="M479.4 69.9l.9-.7" class="k"/><path d="M479.6 69.4l1.2-4.3 2.4-4.3-1.2 4.6z" fill="#ff2e00"/><path d="M481 65.4l1.2-4.4 2.4-4.8-1.3 5z" fill="#ff0000"/><path d="M482.9 59.9l.7-.5" class="k"/><path d="M482.3 61.2l1.4-3.5 2.3-5.2-1.4 3.8z" fill="#ff0000"/><path d="M482.8 60.1l.1-.2" class="k"/><path d="M483.7 57.7l1.5-2.7 2.2-4.8-1.5 2.3z" fill="#ff0000"/><path d="M485.1 55l1.5-2.4 2.2-4.5-1.5 2.1z" fill="#ff0000"/><path d="M487.9 49.9l0-.3" class="k"/><path d="M486.5 52.5l1.5-1.9 2.3-4.1-1.5 1.6z" fill="#ff0000"/><path d="M488 50.5l-.1-.6" class="k"/><path d="M487.9 50.6l1.6-1.2 2.2-3.9-1.5 1z" fill="#f80000"/><path d="M489.4 49.3l1.5-.6 2.3-3.4-1.6 .1z" fill="#ef0000"/><path d="M490.7 48.5l1.7 1.3 2.4-2-1.8-2.6z" fill="#f20000"/><path d="M492.2 49.4l1.7 3.1 2.3-.5-1.7-4.5z" fill="#ff0000"/><path d="M493.5 51.5l2.1-.5" class="k"/><path d="M493.7 52.1l1.6 2 2.3 .5-1.6-3.1z" fill="#ff0000"/><path d="M495.2 53.6l1.6 3.7 2.3 .9-1.6-4z" fill="#ff0000"/><path d="M496.7 56.7l1.6 4.4 2.2 1.3-1.6-4.7z" fill="#ff0000"/><path d="M498.2 60.6l1.5 4.2 2.3 1.5-1.6-4.5z" fill="#ff0000"/><path d="M499.3 63.3l1.2-.7" class="k"/><path d="M499.7 64.2l1.5 4.4 2.3 1.4-1.6-4.3z" fill="#ff0d00"/><path d="M501.1 68l1.6 4.5 2.2 1.4-1.5-4.4z" fill="#ff4800"/><path d="M502.6 72l1.6 4.7 2.2 1-1.6-4.4z" fill="#ff7f00"/><path d="M503.7 74.9l1.3-.7" class="k"/><path d="M504.1 76.1l1.6 4.2 2.2 .9-1.6-4z" fill="#ffb000"/><path d="M505.5 79.8l1.6 3.5 2.3 .8-1.6-3.5z" fill="#ffd600"/><path d="M507 82.8l1.6 3.3 2.3 .7-1.6-3.2z" fill="#fff300"/><path d="M509.9 86.3l.4-.4" class="k"/><path d="M508.5 85.6l1.6 3.1 2.3 .6-1.6-3z" fill="#f4ff00"/><path d="M509.2 86.7l.7-.4" class="k"/><path d="M510 88.2l1.6 3 2.3 .5-1.7-2.9z" fill="#dbff00"/><path d="M511.5 90.7l1.6 2.9 2.3 .3-1.7-2.7z" fill="#c4ff00"/><path d="M512.9 93.1l1.7 2.7 2.3 .2-1.7-2.6z" fill="#aaff00"/><path d="M514.4 95.4l1.7 2.6 2.3 0-1.7-2.5z" fill="#91ff00"/><path d="M515.9 97.5l3.4 4.5 2.1-.2-3.3-4.2z" fill="#64ff00"/><path d="M517.3 99.2l1.3-.8" class="k"/><path d="M518.9 101.6l3.4 4.1 2.1-.6-3.3-3.7z" fill="#2fff00"/><path d="M522 105.2l3.3 3.8 2.2-.8-3.4-3.5z" fill="#03ff00"/><path d="M525 108.6l3.4 3.6 2.1-.9-3.4-3.5z" fill="#00ff61"/><path d="M528.1 111.8l3.4 3.8 2.1-1-3.4-3.7z" fill="#00ffcc"/><path d="M529 112.6l2-.6" class="k"/><path d="M531.1 115.1l3.5 3.8 2.1-.8-3.4-3.9z" fill="#00ebff"/><path d="M534.2 118.4l3.5 3.6 2.1-.7-3.5-3.6z" fill="#00c7ff"/><path d="M537.3 121.6l3.5 3.3 2.1-.7-3.5-3.4z" fill="#00a3ff"/><path d="M540.4 124.5l3.6 3.2 2.1-.8-3.6-3.1z" fill="#007bff"/><path d="M543.3 126.9l1.8-.7" class="k"/><path d="M543.6 127.3l3.5 3.1 2.1-.9-3.5-3z" fill="#0057ff"/><path d="M416.3 114.8l4.5-.7 2-.8-4.5 .8z" fill="#530062"/><path d="M420.2 114.2l4.6-.7 2-1-4.6 .9z" fill="#65007a"/><path d="M424.2 113.5l4.6-.8 2-1-4.6 .9z" fill="#70009e"/><path d="M428.2 112.8l4.6-.8 2-1.2-4.6 1z" fill="#7000c8"/><path d="M432.2 112l4.7-.8 2-1.2-4.7 .9z" fill="#6700e3"/><path d="M438.3 110.2l.1-.1" class="k"/><path d="M436.3 111.2l4.8-.9 1.9-1.3-4.7 1z" fill="#5600f5"/><path d="M437.5 111l.8-.8" class="k"/><path d="M440.5 110.3l4.7-1 2-1.2-4.7 .9z" fill="#3c01ff"/><path d="M444.7 109.3l4.8-.9 2-1.1-4.9 .8z" fill="#0d0dff"/><path d="M448.9 108.5l4.9-1 1.9-1.1-4.8 1z" fill="#0030ff"/><path d="M453.2 107.6l4.9-1.5 2-1.1-4.9 1.5z" fill="#0063ff"/><path d="M457.1 106.3l1.3-.8" class="k"/><path d="M457.5 106.2l1.4-.5 2.5-1.4-1.4 .6z" fill="#0087ff"/><path d="M458.8 105.7l1.4-.7 2.5-1.4-1.3 .7z" fill="#009bff"/><path d="M460.2 105l1.3-.8 2.5-1.4-1.3 .9z" fill="#00afff"/><path d="M461.5 104.3l1.3-1.1 2.5-1.6-1.3 1.3z" fill="#00c5ff"/><path d="M462.8 103.3l1.3-1.3 2.5-2-1.3 1.8z" fill="#00ddff"/><path d="M464.2 102.1l1.2-1.7 2.5-2.4-1.3 2.2z" fill="#00fbff"/><path d="M465.5 100.5l1.2-2.8 2.4-2.5-1.2 3.2z" fill="#00ff9a"/><path d="M466.5 98.7l1.3-.8" class="k"/><path d="M466.8 98.1l1.3-3.5 2.3-2.7-1.2 3.7z" fill="#00ff0b"/><path d="M468.2 95.1l1.2-3.7 2.4-2.8-1.3 3.8z" fill="#3aff00"/><path d="M469.5 91.8l1.2-3.7 2.4-2.9-1.3 3.8z" fill="#7fff00"/><path d="M470.5 89.5l1.1-.7" class="k"/><path d="M470.8 88.5l1.2-3.3 2.4-3.2-1.2 3.6z" fill="#b5ff00"/><path d="M472.1 85.5l1.3-3 2.4-3.6-1.2 3.3z" fill="#e0ff00"/><path d="M475.4 79.5l.1-.1" class="k"/><path d="M473.5 82.6l1.2-3 2.4-3.9-1.2 3.3z" fill="#fff900"/><path d="M474.6 80.2l.8-.7" class="k"/><path d="M474.9 79.7l1.2-3.2 2.4-4-1.2 3.4z" fill="#ffd300"/><path d="M476.2 76.6l1.2-3.6 2.4-4.1-1.2 3.9z" fill="#ffa100"/><path d="M479.2 70.1l.2-.2" class="k"/><path d="M477.6 73.2l1.2-3.9 2.4-4.4-1.2 4.3z" fill="#ff6900"/><path d="M478.6 70.7l.6-.6" class="k"/><path d="M479 69.5l1.3-3.7 2.3-5.1-1.2 4.4z" fill="#ff2200"/><path d="M480.4 65.8l1.3-3.3 2.3-5.4-1.4 3.6z" fill="#ff0000"/><path d="M482.5 60.6l.3-.5" class="k"/><path d="M481.7 62.5l1.5-3 2.2-5.1-1.5 2.7z" fill="#ff0000"/><path d="M482.5 60.9l0-.3" class="k"/><path d="M483.1 59.5l1.5-2.7 2.2-4.8-1.4 2.4z" fill="#ff0000"/><path d="M484.5 56.8l1.5-2.2 2.3-4.5-1.5 1.9z" fill="#ff0000"/><path d="M488 50.5l0 0" class="k"/><path d="M485.9 54.6l1.6-1.5 2.2-4.3-1.5 1.3z" fill="#ff0000"/><path d="M488.5 51l-.5-.5" class="k"/><path d="M487.4 53.1l1.5-1.2 2.3-3.7-1.6 .6z" fill="#ff0000"/><path d="M489.1 51.5l-.6-.5" class="k"/><path d="M488.7 51.8l1.7 0 2.3-2.4-1.7-1.3z" fill="#ff0000"/><path d="M489.5 51.6l-.4-.1" class="k"/><path d="M490.1 51.5l1.7 1.4 2.4-.6-1.7-3.1z" fill="#ff0000"/><path d="M490.8 51.8l2.7-.3" class="k"/><path d="M491.6 52.6l1.6 1.3 2.5 .1-1.7-2.1z" fill="#ff0000"/><path d="M493.1 53.4l1.7 3.3 2.3 .5-1.6-3.6z" fill="#ff0000"/><path d="M494.7 56.2l1.6 4.2 2.2 .6-1.6-4.3z" fill="#ff0000"/><path d="M496.1 59.8l1.6 4 2.3 .9-1.6-4.2z" fill="#ff0000"/><path d="M498.3 63.8l1-.5" class="k"/><path d="M497.6 63.3l1.6 4.3 2.3 .9-1.6-4.3z" fill="#ff0000"/><path d="M498 63.9l.3-.1" class="k"/><path d="M499.1 67.1l1.6 4.6 2.2 .8-1.6-4.5z" fill="#ff2b00"/><path d="M500.6 71.2l1.6 4.7 2.2 .7-1.6-4.6z" fill="#ff6a00"/><path d="M502.2 75.5l1.5-.6" class="k"/><path d="M502.1 75.4l1.6 4.3 2.2 .5-1.6-4.1z" fill="#ff9c00"/><path d="M503.5 79.2l1.7 3.5 2.2 .5-1.6-3.5z" fill="#ffc700"/><path d="M505 82.2l1.6 3.4 2.3 .4-1.6-3.3z" fill="#ffe600"/><path d="M506.5 85.1l1.6 3.2 2.3 .3-1.6-3.1z" fill="#fffe00"/><path d="M507.9 87.5l1.3-.8" class="k"/><path d="M508 87.8l1.6 3.1 2.3 .2-1.6-3z" fill="#e7ff00"/><path d="M509.5 90.4l1.6 2.9 2.3 .2-1.6-2.9z" fill="#d0ff00"/><path d="M511 92.9l1.6 2.8 2.3 0-1.7-2.7z" fill="#b6ff00"/><path d="M512.4 95.2l1.7 2.7 2.3-.1-1.7-2.6z" fill="#9cff00"/><path d="M514 97.4l3.3 4.8 2.1-.3-3.3-4.5z" fill="#70ff00"/><path d="M515.9 100l1.4-.8" class="k"/><path d="M517 101.7l3.3 4.4 2.2-.6-3.4-4.1z" fill="#35ff00"/><path d="M520 105.6l3.4 4 2.1-.8-3.4-3.7z" fill="#05ff00"/><path d="M523 109.2l3.4 3.8 2.2-.9-3.4-3.7z" fill="#00ff63"/><path d="M526.1 112.6l3.4 3.7 2.2-.9-3.5-3.7z" fill="#00ffd0"/><path d="M526.9 113.3l2.1-.7" class="k"/><path d="M529.2 115.9l3.4 3.6 2.2-.8-3.5-3.7z" fill="#00ebff"/><path d="M532.3 119.1l3.4 3.5 2.2-.8-3.5-3.5z" fill="#00c9ff"/><path d="M535.4 122.2l3.5 3.4 2.1-.8-3.5-3.4z" fill="#00a5ff"/><path d="M538.5 125.2l3.5 3.2 2.1-.8-3.5-3.2z" fill="#007dff"/><path d="M541.5 127.7l1.8-.8" class="k"/><path d="M541.6 128l3.6 3.1 2.1-.9-3.5-3z" fill="#0057ff"/><path d="M414.3 115.4l4.5-.6 2-.8-4.5 .7z" fill="#520061"/><path d="M418.2 114.9l4.6-.6 2-.9-4.6 .7z" fill="#630076"/><path d="M422.2 114.3l4.6-.6 2-1.1-4.6 .8z" fill="#700099"/><path d="M426.2 113.7l4.6-.7 2-1.1-4.6 .8z" fill="#7000c0"/><path d="M430.2 113l4.7-.7 2-1.2-4.7 .8z" fill="#6900dd"/><path d="M434.3 112.3l4.8-.8 1.9-1.4-4.7 1z" fill="#5c00f2"/><path d="M436.5 111.9l1-.9" class="k"/><path d="M438.5 111.5l4.7-1.1 2-1.2-4.7 1z" fill="#4400fd"/><path d="M442.7 110.5l4.8-1 2-1.2-4.8 .9z" fill="#190aff"/><path d="M446.9 109.6l4.9-1 2-1.2-4.9 1z" fill="#0026ff"/><path d="M451.2 108.7l4.9-1.4 2-1.3-4.9 1.5z" fill="#0059ff"/><path d="M456.4 107l.7-.7" class="k"/><path d="M455.5 107.4l1.4-.4 2.5-1.6-1.4 .5z" fill="#007cff"/><path d="M456 107.2l.4-.2" class="k"/><path d="M456.8 106.9l1.4-.6 2.5-1.6-1.4 .6z" fill="#0090ff"/><path d="M458.2 106.3l1.3-.7 2.5-1.7-1.3 .8z" fill="#00a4ff"/><path d="M459.5 105.6l1.3-.8 2.5-1.9-1.3 1z" fill="#00b9ff"/><path d="M460.8 104.8l1.4-1 2.4-2.1-1.3 1.2z" fill="#00cfff"/><path d="M462.2 103.8l1.3-1.3 2.4-2.5-1.3 1.7z" fill="#00e7ff"/><path d="M463.5 102.6l1.2-2.4 2.5-2.6-1.2 2.8z" fill="#00ffe3"/><path d="M465.9 99.2l.6-.5" class="k"/><path d="M464.8 100.5l1.2-3.1 2.5-2.8-1.3 3.4z" fill="#00ff62"/><path d="M465.3 99.5l.6-.3" class="k"/><path d="M466.2 97.7l1.2-3.4 2.4-3-1.3 3.7z" fill="#14ff00"/><path d="M467.5 94.7l1.2-3.5 2.4-3.2-1.2 3.7z" fill="#53ff00"/><path d="M469.8 90l.7-.5" class="k"/><path d="M468.8 91.6l1.2-3 2.4-3.6-1.1 3.2z" fill="#93ff00"/><path d="M469.4 90.3l.4-.3" class="k"/><path d="M470.2 88.7l1.2-2.8 2.4-3.8-1.2 3z" fill="#c0ff00"/><path d="M471.5 85.9l1.3-2.9 2.3-3.8-1.2 3z" fill="#e6ff00"/><path d="M474.4 80.5l.2-.3" class="k"/><path d="M472.9 83.1l1.2-3.1 2.4-3.9-1.2 3.2z" fill="#fff500"/><path d="M473.8 81l.6-.5" class="k"/><path d="M474.2 80.1l1.2-3.4 2.4-4.1-1.2 3.7z" fill="#ffcc00"/><path d="M475.6 76.8l1.2-3.6 2.4-4.2-1.2 3.9z" fill="#ff9700"/><path d="M478.2 71l.4-.3" class="k"/><path d="M477 73.4l1.3-3.4 2.3-4.7-1.3 3.8z" fill="#ff6200"/><path d="M477.8 71.4l.4-.4" class="k"/><path d="M478.3 70l1.4-3.1 2.3-4.9-1.4 3.3z" fill="#ff2300"/><path d="M479.7 66.9l1.4-3.2 2.3-4.7-1.4 3z" fill="#ff0000"/><path d="M482.3 61.3l.2-.4" class="k"/><path d="M481.1 63.7l1.4-2.9 2.3-4.6-1.4 2.8z" fill="#ff0000"/><path d="M482.1 61.8l.2-.5" class="k"/><path d="M482.5 60.8l1.5-2.3 2.2-4.4-1.4 2.1z" fill="#ff0000"/><path d="M483.9 58.4l1.5-1.6 2.3-4.2-1.5 1.4z" fill="#ff0000"/><path d="M485.3 56.7l1.6-1.5 2.3-3.8-1.6 1.1z" fill="#ff0000"/><path d="M486.8 55.1l1.5-1.2 2.4-2.6-1.7 0z" fill="#ff0000"/><path d="M490.1 51.8l-.6-.2" class="k"/><path d="M488.1 53.8l1.6-.4 2.5-.8-1.7-1.4z" fill="#ff0000"/><path d="M490.8 51.8l-.7 0" class="k"/><path d="M489.6 53.1l1.6 1.1 2.5-.5-1.7-1.3z" fill="#ff0000"/><path d="M491.1 53.7l1.6 3.1 2.4-.2-1.7-3.2z" fill="#ff0000"/><path d="M492.6 56.3l1.6 4.1 2.3-.1-1.6-4.2z" fill="#ff0000"/><path d="M494.1 59.9l1.6 3.9 2.3-.1-1.6-3.9z" fill="#ff0000"/><path d="M495.6 63.3l1.6 4.3 2.3-.1-1.7-4.3z" fill="#ff0000"/><path d="M496.2 64.5l1.8-.6" class="k"/><path d="M497.1 67l1.6 4.7 2.3-.1-1.7-4.6z" fill="#ff1b00"/><path d="M498.6 71.2l1.6 4.7 2.2 0-1.6-4.8z" fill="#ff5c00"/><path d="M501.9 75.6l.3-.1" class="k"/><path d="M500 75.3l1.7 4.3 2.2 0-1.6-4.3z" fill="#ff8e00"/><path d="M500.5 76.1l1.4-.5" class="k"/><path d="M501.5 79.1l1.7 3.6 2.2-.1-1.6-3.5z" fill="#ffbb00"/><path d="M503 82.2l1.7 3.4 2.2-.1-1.6-3.4z" fill="#ffdc00"/><path d="M504.5 85.1l1.6 3.2 2.3-.1-1.6-3.2z" fill="#fff600"/><path d="M506.5 88l1.4-.5" class="k"/><path d="M506 87.9l1.6 3 2.3-.1-1.6-3.1z" fill="#f0ff00"/><path d="M506.3 88.1l.2-.1" class="k"/><path d="M507.5 90.4l1.6 3 2.3-.2-1.6-2.9z" fill="#d8ff00"/><path d="M509 92.9l1.6 2.8 2.3-.2-1.6-2.8z" fill="#bfff00"/><path d="M510.5 95.3l1.7 2.7 2.3-.2-1.7-2.7z" fill="#a5ff00"/><path d="M512 97.5l3.3 4.9 2.1-.3-3.3-4.8z" fill="#79ff00"/><path d="M514.3 100.7l1.6-.7" class="k"/><path d="M515 101.9l3.3 4.5 2.2-.5-3.4-4.3z" fill="#3bff00"/><path d="M518 106l3.4 4.2 2.2-.7-3.4-4z" fill="#08ff00"/><path d="M521.1 109.8l3.4 4 2.1-.9-3.4-3.9z" fill="#00ff64"/><path d="M524.1 113.3l3.5 3.8 2.1-.9-3.4-3.7z" fill="#00ffd3"/><path d="M524.8 114l2.1-.7" class="k"/><path d="M527.2 116.7l3.5 3.5 2.1-.8-3.4-3.6z" fill="#00ebff"/><path d="M530.3 119.8l3.5 3.5 2.1-.9-3.5-3.4z" fill="#00c9ff"/><path d="M533.4 122.9l3.5 3.4 2.2-.9-3.5-3.4z" fill="#00a6ff"/><path d="M536.6 125.8l3.5 3.3 2.1-.9-3.5-3.2z" fill="#007eff"/><path d="M539.6 128.4l1.9-.7" class="k"/><path d="M539.7 128.7l3.6 3.2 2.1-.9-3.6-3.2z" fill="#0058ff"/><path d="M412.3 116l4.5-.4 2-.8-4.5 .5z" fill="#520061"/><path d="M416.2 115.6l4.6-.5 2-.9-4.6 .6z" fill="#620073"/><path d="M420.2 115.1l4.6-.5 2-1-4.6 .6z" fill="#700093"/><path d="M424.2 114.6l4.6-.6 2-1.1-4.6 .7z" fill="#7000b8"/><path d="M428.2 114l4.7-.6 2-1.2-4.7 .7z" fill="#6c00d8"/><path d="M432.3 113.4l4.8-.7 2-1.4-4.8 .9z" fill="#6100ee"/><path d="M435.7 112.8l.8-.9" class="k"/><path d="M436.5 112.7l4.7-1 2-1.4-4.7 1.1z" fill="#4b00fa"/><path d="M440.7 111.7l4.8-.9 2-1.4-4.8 1z" fill="#2606ff"/><path d="M444.9 110.9l4.9-1 2-1.4-4.9 1z" fill="#0018ff"/><path d="M449.2 110l4.9-1.3 2-1.5-4.9 1.4z" fill="#004bff"/><path d="M453.5 108.8l1.4-.4 2.5-1.8-1.4 .5z" fill="#006eff"/><path d="M455.3 108l.7-.8" class="k"/><path d="M454.8 108.3l1.4-.5 2.5-1.8-1.4 .5z" fill="#0081ff"/><path d="M455.2 108.1l.1-.1" class="k"/><path d="M456.2 107.7l1.3-.6 2.5-1.9-1.4 .7z" fill="#0095ff"/><path d="M457.5 107.1l1.4-.7 2.4-2-1.4 .8z" fill="#00aaff"/><path d="M458.8 106.4l1.4-.7 2.4-2.3-1.4 .9z" fill="#00beff"/><path d="M460.1 105.6l1.4-1 2.4-2.5-1.3 1.3z" fill="#00d3ff"/><path d="M461.5 104.6l1.2-2 2.5-2.6-1.2 2.3z" fill="#00f0ff"/><path d="M462.8 102.8l1.2-2.7 2.5-2.9-1.2 3.1z" fill="#00ffb6"/><path d="M464.2 100.3l1.1-.8" class="k"/><path d="M464.2 100.4l1.1-3 2.5-3.3-1.2 3.5z" fill="#00ff2d"/><path d="M465.5 97.6l1.2-2.9 2.4-3.7-1.2 3.4z" fill="#27ff00"/><path d="M466.8 94.8l1.3-2.7 2.3-3.9-1.2 2.9z" fill="#61ff00"/><path d="M468.8 91l.6-.7" class="k"/><path d="M468.2 92.1l1.2-2.9 2.4-3.8-1.3 2.9z" fill="#99ff00"/><path d="M468.6 91.2l.2-.2" class="k"/><path d="M469.5 89.3l1.2-3.1 2.4-3.6-1.2 2.9z" fill="#c6ff00"/><path d="M470.9 86.4l1.2-3.2 2.4-3.6-1.2 3.1z" fill="#ecff00"/><path d="M473.4 81.4l.4-.4" class="k"/><path d="M472.2 83.3l1.2-3.3 2.5-3.7-1.2 3.5z" fill="#ffef00"/><path d="M472.9 81.8l.5-.4" class="k"/><path d="M473.6 80.2l1.2-3.5 2.4-3.9-1.2 3.8z" fill="#ffc300"/><path d="M474.9 76.9l1.3-3.4 2.4-4-1.2 3.5z" fill="#ff8e00"/><path d="M477.3 71.9l.5-.5" class="k"/><path d="M476.3 73.7l1.3-3.1 2.4-4.2-1.3 3.2z" fill="#ff5f00"/><path d="M477 72.2l.3-.3" class="k"/><path d="M477.7 70.6l1.3-3.1 2.4-4.3-1.3 3.2z" fill="#ff2400"/><path d="M479.1 67.5l1.4-2.9 2.3-4.3-1.4 2.9z" fill="#ff0000"/><path d="M481.8 62.1l.3-.3" class="k"/><path d="M480.5 64.6l1.4-2.4 2.3-4.3-1.4 2.4z" fill="#ff0000"/><path d="M481.7 62.6l.1-.5" class="k"/><path d="M481.9 62.2l1.5-1.9 2.3-4.1-1.5 1.7z" fill="#ff0000"/><path d="M483.3 60.3l1.5-1.8 2.3-3.9-1.5 1.6z" fill="#ff0000"/><path d="M484.7 58.5l1.5-1.9 2.4-3.2-1.6 1.2z" fill="#ff0000"/><path d="M486.2 56.6l1.4-1.8 2.5-1.9-1.6 .5z" fill="#ff0000"/><path d="M487.5 54.7l1.7 .8 2.4-1.7-1.7-1z" fill="#ff0000"/><path d="M489 55.1l1.7 2.8 2.4-1.2-1.7-3.1z" fill="#ff0000"/><path d="M490.5 57.4l1.7 3.8 2.3-.9-1.7-4z" fill="#ff0000"/><path d="M492 60.8l1.7 3.7 2.3-.8-1.7-3.9z" fill="#ff0000"/><path d="M493.5 64.1l1.7 4.1 2.3-.7-1.7-4.3z" fill="#ff0000"/><path d="M494 65l2.2-.5" class="k"/><path d="M495 67.7l1.7 4.6 2.3-.7-1.7-4.6z" fill="#ff1700"/><path d="M496.5 71.8l1.7 4.4 2.2-.4-1.6-4.7z" fill="#ff5600"/><path d="M498 75.7l1.7 4.1 2.2-.3-1.6-4.2z" fill="#ff8800"/><path d="M498.6 76.7l1.9-.6" class="k"/><path d="M499.5 79.3l1.6 3.7 2.3-.4-1.6-3.6z" fill="#ffb400"/><path d="M501 82.5l1.6 3.4 2.3-.4-1.6-3.4z" fill="#ffd600"/><path d="M502.4 85.4l1.7 3.2 2.3-.4-1.6-3.2z" fill="#fff200"/><path d="M503.9 88.1l1.7 3.1 2.4-.4-1.7-3.1z" fill="#f5ff00"/><path d="M504.5 88.8l1.8-.7" class="k"/><path d="M505.4 90.7l1.7 2.9 2.4-.4-1.7-2.9z" fill="#ddff00"/><path d="M506.9 93.2l1.7 2.8 2.4-.4-1.7-2.8z" fill="#c6ff00"/><path d="M508.4 95.5l1.8 2.8 2.3-.4-1.7-2.8z" fill="#abff00"/><path d="M510 97.8l3.3 4.9 2.2-.4-3.4-4.9z" fill="#81ff00"/><path d="M512.6 101.4l1.7-.7" class="k"/><path d="M513 102.2l3.3 4.6 2.2-.5-3.3-4.5z" fill="#41ff00"/><path d="M516 106.3l3.4 4.4 2.2-.6-3.4-4.2z" fill="#0bff00"/><path d="M519.1 110.2l3.4 4.2 2.1-.8-3.4-4z" fill="#00ff61"/><path d="M522.1 113.9l3.5 3.9 2.1-.9-3.4-3.7z" fill="#00ffd3"/><path d="M523 114.7l1.8-.7" class="k"/><path d="M525.2 117.4l3.5 3.6 2.1-.9-3.4-3.6z" fill="#00eaff"/><path d="M528.3 120.6l3.5 3.6 2.2-1.1-3.5-3.5z" fill="#00c9ff"/><path d="M531.4 123.8l3.5 3.3 2.2-1-3.5-3.4z" fill="#00a5ff"/><path d="M534.6 126.7l3.5 3.3 2.2-1.1-3.6-3.2z" fill="#007dff"/><path d="M537.4 129.1l2.2-.7" class="k"/><path d="M537.7 129.6l3.6 3.1 2.1-1-3.5-3.1z" fill="#0057ff"/><path d="M410.3 116.6l4.5-.3 2-.8-4.5 .4z" fill="#510060"/><path d="M414.2 116.3l4.5-.4 2.1-.9-4.6 .5z" fill="#600071"/><path d="M418.2 115.9l4.6-.4 2-1-4.6 .5z" fill="#6f008e"/><path d="M422.2 115.5l4.6-.5 2-1.1-4.6 .6z" fill="#7000b1"/><path d="M426.2 115l4.7-.5 2-1.3-4.7 .7z" fill="#6f00d3"/><path d="M430.3 114.5l4.7-.6 2-1.4-4.7 .8z" fill="#6400e8"/><path d="M435.1 113.6l.6-.8" class="k"/><path d="M434.5 113.9l4.7-.8 2-1.5-4.7 .9z" fill="#5200f6"/><path d="M435 113.8l.1-.2" class="k"/><path d="M438.6 113.1l4.9-.8 2-1.6-4.8 .9z" fill="#3602ff"/><path d="M442.9 112.3l4.8-.9 2-1.6-4.8 .9z" fill="#090eff"/><path d="M447.2 111.4l4.9-1.2 2-1.7-4.9 1.4z" fill="#003aff"/><path d="M451.5 110.3l1.4-.4 2.5-1.9-1.4 .4z" fill="#005dff"/><path d="M452.8 109.8l1.4-.4 2.5-2-1.4 .5z" fill="#006fff"/><path d="M454.6 109l.6-.9" class="k"/><path d="M454.1 109.3l1.4-.5 2.5-2.1-1.4 .6z" fill="#0082ff"/><path d="M454.5 109.1l.1-.1" class="k"/><path d="M455.5 108.7l1.4-.6 2.4-2.1-1.4 .7z" fill="#0097ff"/><path d="M456.8 108.1l1.4-.7 2.4-2.1-1.4 .7z" fill="#00aaff"/><path d="M458.1 107.4l1.4-.9 2.4-2.3-1.3 1z" fill="#00c0ff"/><path d="M459.5 106.4l1.2-1.6 2.5-2.5-1.2 2z" fill="#00daff"/><path d="M460.8 104.9l1.2-2.1 2.5-3-1.2 2.7z" fill="#00fdff"/><path d="M464 100.4l.2-.1" class="k"/><path d="M462.2 102.9l1.2-2.4 2.4-3.4-1.2 3z" fill="#00ff8e"/><path d="M463.1 101.2l.9-.8" class="k"/><path d="M463.5 100.6l1.3-2.5 2.3-3.8-1.2 2.9z" fill="#00ff0d"/><path d="M464.8 98.2l1.3-2.7 2.3-3.9-1.2 2.7z" fill="#2eff00"/><path d="M466.2 95.6l1.2-3.1 2.4-3.7-1.3 2.9z" fill="#67ff00"/><path d="M467.9 92l.7-.8" class="k"/><path d="M467.5 92.6l1.2-3.4 2.4-3.4-1.2 3.1z" fill="#a0ff00"/><path d="M467.8 92.1l.1-.1" class="k"/><path d="M468.8 89.4l1.2-3.3 2.5-3.3-1.2 3.3z" fill="#ceff00"/><path d="M470.2 86.3l1.2-3.3 2.5-3.4-1.3 3.5z" fill="#f5ff00"/><path d="M472 82.5l.9-.7" class="k"/><path d="M471.5 83.3l1.3-3.4 2.4-3.6-1.2 3.7z" fill="#ffe500"/><path d="M471.9 82.6l.1-.1" class="k"/><path d="M472.9 80.1l1.3-3.2 2.4-3.8-1.2 3.4z" fill="#ffb900"/><path d="M474.3 77.1l1.3-2.9 2.4-4.1-1.3 3.1z" fill="#ff8900"/><path d="M476.5 72.8l.5-.6" class="k"/><path d="M475.7 74.2l1.3-2.9 2.4-4.3-1.3 3.2z" fill="#ff5b00"/><path d="M476.2 73.1l.3-.3" class="k"/><path d="M477.1 71.3l1.4-2.8 2.3-4.4-1.4 2.9z" fill="#ff2300"/><path d="M478.5 68.5l1.4-2.3 2.3-4.6-1.5 2.4z" fill="#ff0000"/><path d="M481.6 62.8l.1-.2" class="k"/><path d="M479.9 66.2l1.5-2 2.2-4.4-1.5 1.8z" fill="#ff0000"/><path d="M481.7 63.4l-.1-.6" class="k"/><path d="M481.3 64.2l1.5-1.9 2.3-4.3-1.5 1.8z" fill="#ff0000"/><path d="M481.7 63.5l0-.1" class="k"/><path d="M482.7 62.2l1.5-1.9 2.3-4.2-1.5 1.8z" fill="#ff0000"/><path d="M484.2 60.2l1.4-2.1 2.4-3.7-1.5 1.7z" fill="#ff0000"/><path d="M485.5 58l1.7 .2 2.3-3.2-1.6-.7z" fill="#ff0000"/><path d="M486.9 57.9l1.8 2 2.4-2.3-1.8-2.7z" fill="#ff0000"/><path d="M488.4 59.5l1.8 3.2 2.3-1.6-1.7-3.8z" fill="#ff0000"/><path d="M489.9 62.3l1.7 3.4 2.4-1.3-1.7-3.7z" fill="#ff0000"/><path d="M491.4 65.2l1.7 3.9 2.4-1-1.7-4.2z" fill="#ff0000"/><path d="M491.7 65.5l2.3-.5" class="k"/><path d="M492.9 68.6l1.7 4.3 2.3-.7-1.6-4.6z" fill="#ff1a00"/><path d="M494.4 72.4l1.7 4.1 2.3-.4-1.6-4.4z" fill="#ff5400"/><path d="M495.9 76l1.7 4.1 2.3-.4-1.7-4.1z" fill="#ff8400"/><path d="M496.6 77.3l2-.6" class="k"/><path d="M497.4 79.6l1.7 3.8 2.3-.5-1.7-3.7z" fill="#ffb000"/><path d="M498.9 82.9l1.7 3.4 2.3-.5-1.7-3.4z" fill="#ffd300"/><path d="M500.4 85.8l1.7 3.1 2.3-.4-1.7-3.2z" fill="#fff000"/><path d="M501.9 88.5l1.7 3 2.3-.5-1.7-3z" fill="#f9ff00"/><path d="M502.6 89.4l1.9-.6" class="k"/><path d="M503.4 91l1.7 2.9 2.3-.4-1.7-2.9z" fill="#e1ff00"/><path d="M504.9 93.5l1.7 2.7 2.4-.4-1.8-2.8z" fill="#caff00"/><path d="M506.4 95.8l1.7 2.7 2.4-.4-1.7-2.7z" fill="#b0ff00"/><path d="M508 98l3.3 5 2.2-.4-3.4-4.9z" fill="#88ff00"/><path d="M510.8 102.1l1.8-.7" class="k"/><path d="M511 102.5l3.3 4.7 2.2-.5-3.3-4.6z" fill="#47ff00"/><path d="M514 106.7l3.4 4.3 2.2-.4-3.4-4.4z" fill="#10ff00"/><path d="M517.1 110.5l3.4 4.3 2.2-.6-3.4-4.1z" fill="#00ff57"/><path d="M520.2 114.4l3.4 4.1 2.2-.9-3.5-3.8z" fill="#00ffd0"/><path d="M521.2 115.4l1.8-.7" class="k"/><path d="M523.2 118.1l3.5 3.9 2.2-1.1-3.5-3.7z" fill="#00e9ff"/><path d="M526.3 121.5l3.5 3.8 2.2-1.3-3.5-3.6z" fill="#00c6ff"/><path d="M529.5 124.9l3.5 3.4 2.1-1.3-3.5-3.4z" fill="#00a1ff"/><path d="M532.6 127.9l3.5 3.2 2.2-1.3-3.5-3.2z" fill="#0078ff"/><path d="M534.9 129.7l2.5-.6" class="k"/><path d="M535.8 130.7l3.5 3 2.2-1.2-3.6-3.1z" fill="#0053ff"/><path d="M408.2 117.2l4.5-.2 2.1-.8-4.5 .3z" fill="#51005f"/><path d="M412.2 117l4.5-.2 2-1-4.5 .4z" fill="#5f006f"/><path d="M416.1 116.7l4.6-.3 2.1-1-4.6 .4z" fill="#6d0089"/><path d="M420.1 116.4l4.7-.3 2-1.2-4.6 .5z" fill="#7000aa"/><path d="M424.2 116l4.7-.4 2-1.3-4.7 .6z" fill="#7000cc"/><path d="M428.3 115.6l4.7-.4 2-1.5-4.7 .6z" fill="#6700e1"/><path d="M432.4 115.1l4.8-.6 2-1.6-4.7 .8z" fill="#5a00f3"/><path d="M434.5 114.8l.5-1" class="k"/><path d="M436.6 114.5l4.8-.6 2-1.8-4.8 .8z" fill="#4500fd"/><path d="M440.9 113.9l4.8-.9 2-1.8-4.8 .9z" fill="#1c09ff"/><path d="M445.1 113l4.9-1.2 2.1-1.8-4.9 1.3z" fill="#0025ff"/><path d="M449.5 111.9l1.4-.3 2.4-2.1-1.4 .4z" fill="#0049ff"/><path d="M450.8 111.5l1.4-.4 2.4-2.1-1.4 .4z" fill="#005aff"/><path d="M452.1 111l1.4-.5 2.5-2.2-1.4 .6z" fill="#006dff"/><path d="M454.1 109.9l.4-.8" class="k"/><path d="M453.4 110.4l1.4-.5 2.5-2.2-1.4 .6z" fill="#0081ff"/><path d="M454 110.1l.1-.2" class="k"/><path d="M454.8 109.8l1.4-.6 2.4-2.2-1.4 .6z" fill="#0095ff"/><path d="M456.1 109.1l1.4-.8 2.4-2.3-1.4 1z" fill="#00abff"/><path d="M457.4 108.3l1.4-1.3 2.4-2.6-1.3 1.7z" fill="#00c5ff"/><path d="M458.8 107l1.3-1.7 2.4-2.9-1.2 2.1z" fill="#00e3ff"/><path d="M460.1 105.4l1.3-1.9 2.4-3.4-1.2 2.4z" fill="#00ffec"/><path d="M462.8 101.6l.3-.4" class="k"/><path d="M461.5 103.5l1.3-2 2.3-3.9-1.3 2.5z" fill="#00ff7e"/><path d="M462.4 102.1l.4-.5" class="k"/><path d="M462.8 101.5l1.3-2.4 2.3-4.1-1.2 2.7z" fill="#00ff07"/><path d="M464.2 99.1l1.1-3.3 2.5-3.7-1.2 3z" fill="#33ff00"/><path d="M465.5 95.9l1.2-3.7 2.4-3.3-1.2 3.4z" fill="#74ff00"/><path d="M466.7 92.9l1.1-.8" class="k"/><path d="M466.8 92.5l1.2-3.5 2.5-3.2-1.2 3.4z" fill="#adff00"/><path d="M468.2 89.4l1.2-3.2 2.4-3.5-1.2 3.4z" fill="#d9ff00"/><path d="M469.5 86.4l1.2-3.1 2.5-3.7-1.2 3.4z" fill="#ffff00"/><path d="M470.9 83.4l1-.8" class="k"/><path d="M470.9 83.4l1.3-2.9 2.4-3.9-1.3 3.1z" fill="#ffdd00"/><path d="M472.3 80.6l1.3-2.7 2.4-4.2-1.4 2.9z" fill="#ffb400"/><path d="M473.6 77.9l1.4-2.7 2.3-4.4-1.3 2.9z" fill="#ff8800"/><path d="M475.9 73.6l.3-.5" class="k"/><path d="M475 75.2l1.5-2.5 2.2-4.7-1.4 2.7z" fill="#ff5e00"/><path d="M475.8 73.9l.1-.3" class="k"/><path d="M476.4 72.7l1.5-2.2 2.3-4.9-1.5 2.4z" fill="#ff2e00"/><path d="M477.8 70.5l1.5-2.1 2.3-4.7-1.5 1.9z" fill="#ff0700"/><path d="M479.3 68.4l1.5-2 2.2-4.7-1.5 2z" fill="#ff0000"/><path d="M481.9 64l-.2-.5" class="k"/><path d="M480.7 66.4l1.5-1.9 2.3-4.8-1.5 2z" fill="#ff0000"/><path d="M482 64.5l-.1-.5" class="k"/><path d="M482.1 64.5l1.5-2.1 2.3-4.8-1.5 2.1z" fill="#ff0000"/><path d="M483.5 62.3l1.6-.5 2.3-4.2-1.6-.1z" fill="#ff0000"/><path d="M484.9 61.6l1.7 1 2.4-3.1-1.7-1.9z" fill="#ff0000"/><path d="M486.3 62.3l1.8 2.4 2.4-2.2-1.8-3.2z" fill="#ff0000"/><path d="M487.8 64.3l1.8 2.9 2.4-1.7-1.8-3.4z" fill="#ff0000"/><path d="M489 65.9l2.5-.4" class="k"/><path d="M489.4 66.8l1.7 3.4 2.3-1.2-1.7-3.9z" fill="#ff0000"/><path d="M491.7 65.5l-.2 0" class="k"/><path d="M490.9 69.8l1.7 3.8 2.3-.8-1.7-4.3z" fill="#ff1e00"/><path d="M492.4 73.1l1.7 3.9 2.3-.6-1.7-4.1z" fill="#ff5400"/><path d="M493.9 76.5l1.7 3.9 2.3-.4-1.7-4.1z" fill="#ff8100"/><path d="M494.7 77.9l1.9-.6" class="k"/><path d="M495.4 79.9l1.7 3.9 2.3-.5-1.7-3.8z" fill="#ffac00"/><path d="M496.9 83.3l1.7 3.4 2.3-.6-1.7-3.3z" fill="#ffd100"/><path d="M498.4 86.2l1.7 3.1 2.3-.5-1.7-3.1z" fill="#ffee00"/><path d="M499.9 88.9l1.7 2.9 2.3-.5-1.7-3z" fill="#fcff00"/><path d="M500.7 90.1l1.9-.7" class="k"/><path d="M501.4 91.4l1.7 2.9 2.3-.5-1.7-2.9z" fill="#e4ff00"/><path d="M502.9 93.8l1.7 2.8 2.3-.5-1.7-2.8z" fill="#ceff00"/><path d="M504.4 96.1l1.7 2.7 2.4-.4-1.8-2.7z" fill="#b5ff00"/><path d="M505.9 98.4l3.4 5 2.2-.5-3.4-5z" fill="#8eff00"/><path d="M509 102.8l1.8-.7" class="k"/><path d="M509 102.9l3.3 4.6 2.2-.4-3.3-4.7z" fill="#4cff00"/><path d="M512 107.1l3.4 4.1 2.2-.3-3.4-4.3z" fill="#16ff00"/><path d="M515.1 110.8l3.4 4.4 2.2-.5-3.4-4.3z" fill="#00ff49"/><path d="M518.2 114.8l3.4 4.4 2.2-.8-3.5-4.2z" fill="#00ffcb"/><path d="M519.3 116.2l1.9-.8" class="k"/><path d="M521.2 118.8l3.5 4.2 2.2-1.2-3.5-3.9z" fill="#00e7ff"/><path d="M524.3 122.5l3.5 3.9 2.2-1.3-3.5-3.7z" fill="#00c1ff"/><path d="M527.5 126l3.5 3.5 2.2-1.4-3.5-3.4z" fill="#0099ff"/><path d="M530.6 129.1l3.5 3.2 2.2-1.4-3.5-3.2z" fill="#0070ff"/><path d="M532.1 130.3l2.8-.6" class="k"/><path d="M533.8 131.9l3.5 2.9 2.2-1.3-3.5-3z" fill="#004cff"/><path d="M406.2 117.8l4.5 0 2-.9-4.5 .2z" fill="#50005f"/><path d="M410.1 117.7l4.6-.1 2-1-4.5 .3z" fill="#5d006d"/><path d="M414.1 117.6l4.6-.2 2-1.1-4.6 .3z" fill="#6a0084"/><path d="M418.1 117.4l4.6-.3 2.1-1.2-4.7 .4z" fill="#7000a2"/><path d="M422.1 117.1l4.7-.3 2.1-1.3-4.7 .4z" fill="#7000c2"/><path d="M426.2 116.8l4.8-.3 2-1.5-4.7 .4z" fill="#6b00da"/><path d="M430.4 116.4l4.7-.4 2.1-1.7-4.8 .7z" fill="#6100ed"/><path d="M434.4 116l.1-1.2" class="k"/><path d="M434.6 116l4.8-.5 2-1.9-4.8 .7z" fill="#4f00f8"/><path d="M438.8 115.5l4.9-.9 2-1.8-4.8 .9z" fill="#3303ff"/><path d="M443.1 114.7l4.9-1.2 2-1.9-4.9 1.2z" fill="#0210ff"/><path d="M447.5 113.6l1.4-.3 2.4-2.2-1.4 .4z" fill="#0031ff"/><path d="M448.8 113.2l1.4-.3 2.4-2.3-1.4 .4z" fill="#0043ff"/><path d="M450.1 112.8l1.4-.5 2.4-2.2-1.4 .4z" fill="#0056ff"/><path d="M451.4 112.2l1.4-.5 2.4-2.2-1.4 .5z" fill="#0069ff"/><path d="M453.8 110.7l.2-.6" class="k"/><path d="M452.7 111.7l1.4-.6 2.5-2.3-1.4 .6z" fill="#007dff"/><path d="M453.6 111.2l.2-.5" class="k"/><path d="M454.1 111l1.4-.7 2.4-2.4-1.4 .8z" fill="#0094ff"/><path d="M455.4 110.2l1.4-1 2.4-2.6-1.3 1.3z" fill="#00adff"/><path d="M456.7 109.2l1.4-1.3 2.4-3-1.3 1.7z" fill="#00c9ff"/><path d="M458.1 107.9l1.4-1.4 2.3-3.5-1.3 1.9z" fill="#00e6ff"/><path d="M459.4 106.5l1.4-1.6 2.3-3.9-1.3 2z" fill="#00ffef"/><path d="M462.2 102.5l.2-.4" class="k"/><path d="M460.8 104.9l1.3-2.3 2.3-4.1-1.3 2.5z" fill="#00ff84"/><path d="M461.8 103.1l.4-.6" class="k"/><path d="M462.1 102.6l1.2-3.4 2.5-3.8-1.2 3.3z" fill="#02ff00"/><path d="M463.5 99.4l1.1-3.9 2.5-3.5-1.2 3.7z" fill="#42ff00"/><path d="M466.5 93.1l.2-.2" class="k"/><path d="M464.8 95.8l1.2-3.4 2.4-3.6-1.1 3.4z" fill="#86ff00"/><path d="M465.7 93.7l.8-.6" class="k"/><path d="M466.1 92.6l1.3-2.9 2.4-3.8-1.2 3.1z" fill="#b8ff00"/><path d="M467.5 89.8l1.3-2.8 2.4-4.1-1.3 3z" fill="#dfff00"/><path d="M470.8 83.5l.1-.1" class="k"/><path d="M468.8 87l1.4-2.6 2.3-4.4-1.3 2.9z" fill="#fffc00"/><path d="M470.3 84.3l.5-.8" class="k"/><path d="M470.2 84.4l1.4-2.5 2.3-4.5-1.4 2.6z" fill="#ffdd00"/><path d="M471.6 81.9l1.4-2.3 2.3-4.9-1.4 2.7z" fill="#ffb900"/><path d="M473 79.6l1.5-2.3 2.2-5.1-1.4 2.5z" fill="#ff9100"/><path d="M475.7 74.3l.1-.4" class="k"/><path d="M474.4 77.3l1.5-2.2 2.2-5.2-1.4 2.3z" fill="#ff6e00"/><path d="M475.9 75l-.2-.7" class="k"/><path d="M475.8 75.1l1.5-2.1 2.2-5.1-1.4 2z" fill="#ff4700"/><path d="M477.2 73l1.5-2.1 2.3-5.1-1.5 2z" fill="#ff1f00"/><path d="M478.6 70.8l1.6-1.7 2.2-5.2-1.5 1.9z" fill="#ff0000"/><path d="M482.1 64.6l-.1-.1" class="k"/><path d="M480.1 69l1.5-1.8 2.3-5.4-1.6 2.1z" fill="#ff0000"/><path d="M482.4 65.2l-.3-.6" class="k"/><path d="M481.5 67.1l1.6-1.2 2.2-4.7-1.5 .6z" fill="#ff0000"/><path d="M483 65.7l-.6-.5" class="k"/><path d="M482.9 65.8l1.6-.1 2.4-3.6-1.7-.9z" fill="#ff0000"/><path d="M484.3 65.6l1.7 1.4 2.4-2.7-1.7-2.3z" fill="#ff0000"/><path d="M485.4 66.1l1.2 0" class="k"/><path d="M485.8 66.7l1.7 2.3 2.4-2-1.7-2.9z" fill="#ff0000"/><path d="M489 65.9l-2.4 .2" class="k"/><path d="M487.3 68.6l1.7 2.9 2.4-1.5-1.7-3.4z" fill="#ff0000"/><path d="M488.8 71.1l1.7 3.2 2.4-.8-1.7-3.9z" fill="#ff2400"/><path d="M490.3 73.8l1.7 3.6 2.3-.6-1.6-3.8z" fill="#ff5400"/><path d="M491.8 76.9l1.7 4 2.3-.6-1.6-3.9z" fill="#ff7f00"/><path d="M492.6 78.5l2.1-.6" class="k"/><path d="M493.3 80.4l1.7 3.9 2.3-.6-1.6-3.9z" fill="#ffaa00"/><path d="M494.8 83.8l1.7 3.4 2.4-.6-1.7-3.4z" fill="#ffcf00"/><path d="M496.3 86.7l1.7 3.1 2.4-.6-1.7-3.1z" fill="#ffec00"/><path d="M497.8 89.3l1.7 3 2.4-.6-1.7-3z" fill="#feff00"/><path d="M498.8 90.7l1.9-.6" class="k"/><path d="M499.3 91.9l1.7 2.8 2.4-.6-1.7-2.8z" fill="#e7ff00"/><path d="M500.8 94.3l1.7 2.7 2.4-.6-1.7-2.7z" fill="#d0ff00"/><path d="M502.3 96.6l1.8 2.7 2.3-.6-1.7-2.7z" fill="#b8ff00"/><path d="M503.9 98.8l3.3 4.9 2.2-.4-3.3-5.1z" fill="#92ff00"/><path d="M507.5 103.4l1.5-.6" class="k"/><path d="M506.9 103.3l3.4 4.6 2.2-.5-3.4-4.6z" fill="#52ff00"/><path d="M507.2 103.5l.3-.1" class="k"/><path d="M510 107.4l3.4 4.2 2.2-.5-3.4-4.1z" fill="#1cff00"/><path d="M513.1 111.1l3.4 4.6 2.2-.6-3.4-4.4z" fill="#00ff3c"/><path d="M516.1 115.2l3.4 4.7 2.2-.8-3.4-4.5z" fill="#00ffc6"/><path d="M517.5 116.9l1.8-.7" class="k"/><path d="M519.2 119.5l3.5 4.4 2.2-1.1-3.5-4.2z" fill="#00e5ff"/><path d="M522.3 123.5l3.5 4 2.2-1.2-3.5-3.9z" fill="#00bcff"/><path d="M525.4 127.1l3.6 3.6 2.2-1.4-3.5-3.5z" fill="#0091ff"/><path d="M528.6 130.3l3.5 3.2 2.2-1.4-3.5-3.2z" fill="#0068ff"/><path d="M529.5 130.9l2.6-.6" class="k"/><path d="M531.8 133.1l3.5 2.9 2.2-1.4-3.5-2.9z" fill="#0044ff"/><path d="M404.1 118.4l4.5 .1 2.1-.9-4.5 .1z" fill="#50005e"/><path d="M408 118.4l4.6 .1 2.1-1-4.6 .1z" fill="#5c006b"/><path d="M412 118.4l4.6 0 2.1-1.2-4.6 .2z" fill="#68007f"/><path d="M416 118.3l4.7-.1 2-1.2-4.6 .2z" fill="#700099"/><path d="M420.1 118.2l4.7-.2 2-1.4-4.6 .3z" fill="#7000b7"/><path d="M424.2 118l4.7-.2 2.1-1.5-4.7 .3z" fill="#6e00d3"/><path d="M428.4 117.8l4.7-.2 2.1-1.8-4.8 .4z" fill="#6600e4"/><path d="M434.5 116.2l-.1-.2" class="k"/><path d="M432.5 117.5l4.8-.3 2.1-1.9-4.8 .5z" fill="#5a00f3"/><path d="M434.8 117.3l-.3-1.1" class="k"/><path d="M436.8 117.1l4.8-.7 2.1-2-4.9 .9z" fill="#4500fd"/><path d="M441.1 116.4l4.9-1 2-2.1-4.9 1.2z" fill="#1a09ff"/><path d="M445.4 115.4l1.5-.2 2.4-2.3-1.4 .3z" fill="#0017ff"/><path d="M446.7 115.1l1.5-.3 2.4-2.4-1.4 .4z" fill="#0028ff"/><path d="M448.1 114.7l1.4-.4 2.4-2.4-1.4 .4z" fill="#003aff"/><path d="M449.4 114.2l1.4-.5 2.4-2.4-1.4 .5z" fill="#004eff"/><path d="M450.7 113.7l1.4-.6 2.4-2.5-1.4 .6z" fill="#0062ff"/><path d="M453.5 111.6l.1-.4" class="k"/><path d="M452 113l1.4-.6 2.4-2.6-1.4 .8z" fill="#0078ff"/><path d="M453.3 112.3l.2-.7" class="k"/><path d="M453.4 112.3l1.4-.7 2.4-2.9-1.4 1z" fill="#0091ff"/><path d="M454.7 111.5l1.4-.9 2.4-3.1-1.4 1.2z" fill="#00abff"/><path d="M456 110.6l1.5-1.1 2.3-3.5-1.4 1.4z" fill="#00c5ff"/><path d="M457.4 109.5l1.4-1.2 2.3-3.9-1.4 1.6z" fill="#00dfff"/><path d="M458.8 108.2l1.3-2.1 2.3-4-1.3 2.3z" fill="#00ffff"/><path d="M461.7 103.4l.1-.3" class="k"/><path d="M460.1 106.1l1.2-3.2 2.4-4.1-1.2 3.4z" fill="#00ff7a"/><path d="M461 104l.7-.6" class="k"/><path d="M461.4 103l1.2-3.7 2.5-4-1.2 3.7z" fill="#10ff00"/><path d="M462.8 99.5l1.2-3.2 2.4-4.2-1.2 3.3z" fill="#50ff00"/><path d="M465.3 94.2l.4-.5" class="k"/><path d="M464.1 96.3l1.3-2.6 2.4-4.5-1.4 2.9z" fill="#8eff00"/><path d="M465 94.6l.3-.4" class="k"/><path d="M465.5 93.7l1.3-2.5 2.3-4.7-1.3 2.7z" fill="#b8ff00"/><path d="M466.8 91.2l1.4-2.4 2.3-4.9-1.4 2.6z" fill="#dcff00"/><path d="M470.2 84.4l.1-.1" class="k"/><path d="M468.2 88.8l1.4-2.3 2.3-5.1-1.4 2.4z" fill="#fbff00"/><path d="M470.2 85.1l0-.7" class="k"/><path d="M469.6 86.5l1.4-2.1 2.3-5.4-1.5 2.4z" fill="#ffe900"/><path d="M470.3 85.4l-.1-.3" class="k"/><path d="M471 84.4l1.4-2.1 2.3-5.5-1.5 2.2z" fill="#ffcb00"/><path d="M472.4 82.3l1.4-2.1 2.3-5.6-1.5 2.1z" fill="#ffa900"/><path d="M475.9 75l0 0" class="k"/><path d="M473.8 80.2l1.4-2.3 2.3-5.5-1.5 2.2z" fill="#ff8500"/><path d="M476.1 75.6l-.2-.6" class="k"/><path d="M475.2 77.9l1.5-2.3 2.2-5.3-1.5 2.1z" fill="#ff6400"/><path d="M476.3 76l-.2-.4" class="k"/><path d="M476.6 75.6l1.5-1.9 2.3-5.2-1.5 1.8z" fill="#ff3c00"/><path d="M478 73.7l1.5-1.9 2.3-5.2-1.5 1.9z" fill="#ff1900"/><path d="M479.5 71.8l1.5-1.7 2.3-4.8-1.6 1.3z" fill="#ff0000"/><path d="M483.1 65.7l-.1 0" class="k"/><path d="M480.9 70l1.5-.9 2.4-3.9-1.6 .1z" fill="#ff0000"/><path d="M484.2 66.1l-1.1-.4" class="k"/><path d="M482.3 69l1.6 .6 2.4-3-1.7-1.5z" fill="#ff0000"/><path d="M485.4 66.1l-1.2 0" class="k"/><path d="M483.7 69.4l1.7 1.6 2.5-2.3-1.8-2.3z" fill="#ff0000"/><path d="M485.2 70.7l1.7 2.3 2.4-1.7-1.7-2.9z" fill="#ff0c00"/><path d="M486.7 72.6l1.7 2.5 2.4-1-1.7-3.2z" fill="#ff2c00"/><path d="M488.2 74.6l1.7 3.4 2.4-.7-1.7-3.6z" fill="#ff5500"/><path d="M489.7 77.5l1.7 3.9 2.4-.6-1.7-4z" fill="#ff7e00"/><path d="M490.6 79.1l2-.6" class="k"/><path d="M491.2 80.9l1.7 3.9 2.4-.7-1.7-3.8z" fill="#ffa900"/><path d="M492.7 84.4l1.7 3.3 2.4-.7-1.7-3.3z" fill="#ffce00"/><path d="M494.2 87.3l1.7 3.1 2.4-.8-1.7-3z" fill="#ffeb00"/><path d="M495.7 89.9l1.8 3 2.3-.8-1.7-2.9z" fill="#ffff00"/><path d="M496.8 91.3l2-.6" class="k"/><path d="M497.2 92.4l1.8 2.9 2.4-.8-1.8-2.8z" fill="#e8ff00"/><path d="M498.8 94.8l1.7 2.8 2.4-.7-1.8-2.8z" fill="#d2ff00"/><path d="M500.3 97.2l1.7 2.6 2.4-.7-1.7-2.7z" fill="#baff00"/><path d="M501.8 99.4l3.4 4.7 2.2-.5-3.3-4.9z" fill="#95ff00"/><path d="M504.9 103.6l3.4 4.5 2.2-.4-3.4-4.5z" fill="#58ff00"/><path d="M505.5 104.2l1.7-.7" class="k"/><path d="M507.9 107.6l3.4 4.5 2.3-.7-3.4-4.1z" fill="#21ff00"/><path d="M511 111.6l3.4 4.7 2.2-.7-3.4-4.6z" fill="#00ff33"/><path d="M514.1 115.8l3.4 4.9 2.2-.9-3.4-4.7z" fill="#00ffc3"/><path d="M515.5 117.6l2-.7" class="k"/><path d="M517.2 120.2l3.4 4.7 2.3-1.1-3.5-4.4z" fill="#00e3ff"/><path d="M520.3 124.4l3.5 4 2.2-1-3.5-4z" fill="#00b8ff"/><path d="M523.4 128l3.5 3.6 2.3-1.1-3.6-3.5z" fill="#008bff"/><path d="M526.6 131.3l3.5 3.3 2.2-1.3-3.5-3.2z" fill="#0061ff"/><path d="M527.1 131.5l2.4-.6" class="k"/><path d="M529.7 134.2l3.6 2.9 2.2-1.3-3.5-2.9z" fill="#003cff"/><path d="M402 119l4.5 .3 2.1-.9-4.5-.2z" fill="#4f005e"/><path d="M406 119.2l4.5 .2 2.1-1.1-4.5 0z" fill="#5a0069"/><path d="M410 119.3l4.5 .1 2.1-1.2-4.6 .1z" fill="#650079"/><path d="M414 119.4l4.6 0 2.1-1.3-4.6 .1z" fill="#700090"/><path d="M418 119.3l4.7 0 2.1-1.5-4.7 .2z" fill="#7000ab"/><path d="M422.1 119.3l4.7 0 2.1-1.7-4.7 .2z" fill="#7000c7"/><path d="M426.3 119.2l4.7 0 2.1-1.8-4.7 .2z" fill="#6b00db"/><path d="M430.5 119.1l4.8-.2 2.1-2-4.8 .4z" fill="#6200eb"/><path d="M435.4 118.4l-.6-1.1" class="k"/><path d="M434.7 118.8l4.9-.6 2-2-4.8 .7z" fill="#5100f7"/><path d="M435.4 118.6l0-.2" class="k"/><path d="M439 118.2l4.9-.9 2.1-2.2-4.9 1.1z" fill="#3503ff"/><path d="M443.4 117.4l1.4-.2 2.4-2.5-1.4 .3z" fill="#150bff"/><path d="M444.7 117.1l1.4-.3 2.4-2.5-1.4 .3z" fill="#050fff"/><path d="M446 116.7l1.4-.3 2.5-2.6-1.5 .4z" fill="#001cff"/><path d="M447.3 116.3l1.5-.4 2.4-2.6-1.5 .4z" fill="#002eff"/><path d="M448.7 115.9l1.4-.5 2.4-2.7-1.4 .5z" fill="#0043ff"/><path d="M450 115.3l1.4-.5 2.4-2.9-1.4 .7z" fill="#0058ff"/><path d="M453.3 112.4l0-.1" class="k"/><path d="M451.3 114.7l1.5-.6 2.3-3-1.4 .8z" fill="#006eff"/><path d="M453.4 113.2l-.1-.8" class="k"/><path d="M452.7 114l1.4-.6 2.3-3.3-1.4 .9z" fill="#0086ff"/><path d="M453.5 113.5l-.1-.3" class="k"/><path d="M454 113.3l1.4-.8 2.4-3.5-1.4 1z" fill="#009fff"/><path d="M455.4 112.5l1.4-1 2.3-3.8-1.4 1.2z" fill="#00b8ff"/><path d="M456.7 111.5l1.4-1.8 2.3-4.1-1.3 2.1z" fill="#00d5ff"/><path d="M458.1 109.7l1.2-2.9 2.4-4.4-1.2 3.3z" fill="#00fffe"/><path d="M460.7 104.5l.3-.5" class="k"/><path d="M459.4 106.8l1.3-3.2 2.3-4.7-1.2 3.6z" fill="#00ff64"/><path d="M460.2 105l.5-.5" class="k"/><path d="M460.7 103.6l1.4-2.9 2.3-4.9-1.3 3.2z" fill="#15ff00"/><path d="M462.1 100.7l1.4-2.3 2.2-5.2-1.4 2.6z" fill="#4bff00"/><path d="M464.9 95l.1-.4" class="k"/><path d="M463.4 98.4l1.4-2.2 2.3-5.6-1.4 2.5z" fill="#7fff00"/><path d="M465 95.7l-.1-.7" class="k"/><path d="M464.8 96.1l1.4-2.1 2.3-5.8-1.5 2.4z" fill="#a8ff00"/><path d="M465 95.8l0-.1" class="k"/><path d="M466.2 94l1.4-2.1 2.2-5.9-1.4 2.2z" fill="#cbff00"/><path d="M467.6 91.9l1.4-1.9 2.2-6.1-1.4 2.1z" fill="#e6ff00"/><path d="M470.5 85.7l-.2-.3" class="k"/><path d="M468.9 90l1.5-2 2.2-6.2-1.4 2z" fill="#fffe00"/><path d="M471 86.3l-.5-.6" class="k"/><path d="M470.3 88l1.5-2.2 2.2-6.2-1.4 2.2z" fill="#ffe600"/><path d="M471.1 86.6l-.1-.3" class="k"/><path d="M471.7 85.8l1.5-2.5 2.2-6-1.4 2.3z" fill="#ffc700"/><path d="M473.1 83.3l1.5-2.5 2.3-5.7-1.5 2.2z" fill="#ffa100"/><path d="M476.4 76.2l-.1-.2" class="k"/><path d="M474.6 80.8l1.4-2.3 2.3-5.4-1.5 1.9z" fill="#ff7e00"/><path d="M476.7 76.9l-.3-.7" class="k"/><path d="M476 78.4l1.5-1.9 2.2-5.2-1.5 1.8z" fill="#ff5e00"/><path d="M476.8 77.2l-.1-.3" class="k"/><path d="M477.4 76.4l1.5-1.8 2.3-5.1-1.5 1.7z" fill="#ff3800"/><path d="M478.8 74.5l1.6-1.3 2.3-4.6-1.6 .9z" fill="#ff1b00"/><path d="M480.2 73.2l1.7 0 2.3-4.1-1.6-.6z" fill="#ff0f00"/><path d="M481.7 73l1.6 1.1 2.4-3.5-1.7-1.6z" fill="#ff1500"/><path d="M483.1 73.9l1.7 1.7 2.5-3-1.8-2.2z" fill="#ff2700"/><path d="M484.6 75.4l1.7 1.7 2.5-2.3-1.8-2.4z" fill="#ff3f00"/><path d="M486.1 76.7l1.7 3 2.5-1.9-1.8-3.3z" fill="#ff6100"/><path d="M487.6 79.3l1.8 3.6 2.3-1.7-1.7-3.8z" fill="#ff8400"/><path d="M488 79.5l2.6-.4" class="k"/><path d="M489.1 82.5l1.8 3.7 2.3-1.5-1.7-3.9z" fill="#ffae00"/><path d="M490.6 85.8l1.8 3.2 2.4-1.4-1.8-3.4z" fill="#ffd200"/><path d="M492.1 88.6l1.8 2.9 2.4-1.3-1.8-3.1z" fill="#ffee00"/><path d="M493.6 91.1l1.8 2.8 2.4-1.2-1.8-2.9z" fill="#fdff00"/><path d="M494.4 91.9l2.4-.6" class="k"/><path d="M495.2 93.5l1.7 2.7 2.4-1.1-1.7-2.8z" fill="#e6ff00"/><path d="M496.7 95.8l1.7 2.6 2.4-1-1.7-2.7z" fill="#d1ff00"/><path d="M498.2 98l1.7 2.5 2.4-.8-1.7-2.7z" fill="#baff00"/><path d="M499.7 100.1l3.4 4.3 2.3-.4-3.4-4.8z" fill="#97ff00"/><path d="M502.8 103.9l3.4 4.4 2.2-.3-3.4-4.5z" fill="#5fff00"/><path d="M503.8 105l1.7-.8" class="k"/><path d="M505.9 107.8l3.4 5.1 2.2-.9-3.4-4.5z" fill="#25ff00"/><path d="M509 112.5l3.4 4.6 2.2-.9-3.4-4.7z" fill="#00ff33"/><path d="M512.1 116.7l3.4 4.8 2.2-.9-3.4-4.9z" fill="#00ffc5"/><path d="M513.3 118.3l2.2-.7" class="k"/><path d="M515.2 121.1l3.4 4.6 2.2-1-3.4-4.6z" fill="#00e2ff"/><path d="M518.3 125.3l3.5 3.9 2.2-.9-3.5-4z" fill="#00b6ff"/><path d="M521.4 128.8l3.5 3.7 2.2-1-3.5-3.6z" fill="#0089ff"/><path d="M524.6 132.1l3.5 3.5 2.2-1.2-3.5-3.3z" fill="#005dff"/><path d="M524.9 132.3l2.2-.8" class="k"/><path d="M527.7 135.2l3.6 3 2.2-1.3-3.6-2.9z" fill="#0036ff"/><path d="M400 119.6l4.5 .5 2.1-1-4.5-.3z" fill="#4e005d"/><path d="M403.9 120l4.5 .3 2.2-1.1-4.6-.2z" fill="#580067"/><path d="M407.9 120.2l4.6 .3 2.1-1.2-4.6-.2z" fill="#610073"/><path d="M411.9 120.4l4.6 .3 2.1-1.5-4.6 0z" fill="#6b0087"/><path d="M416 120.6l4.6 .1 2.1-1.6-4.6 0z" fill="#70009e"/><path d="M420.1 120.6l4.7 .2 2.1-1.8-4.7 0z" fill="#7000b7"/><path d="M424.2 120.7l4.8 .1 2.1-1.9-4.8 .1z" fill="#7000d0"/><path d="M428.4 120.7l4.8 0 2.1-2.1-4.8 .2z" fill="#6800df"/><path d="M432.7 120.6l4.8-.4 2.1-2.2-4.8 .6z" fill="#5f00f1"/><path d="M436.3 120.1l-.9-1.5" class="k"/><path d="M437 120.1l4.8-.6 2.1-2.4-4.9 .8z" fill="#4900fb"/><path d="M441.3 119.5l1.5-.1 2.4-2.7-1.5 .2z" fill="#3503ff"/><path d="M442.6 119.3l1.5-.2 2.4-2.7-1.4 .2z" fill="#2706ff"/><path d="M444 119l1.4-.3 2.4-2.7-1.4 .3z" fill="#170aff"/><path d="M445.3 118.7l1.4-.3 2.4-2.9-1.4 .4z" fill="#060fff"/><path d="M446.6 118.3l1.5-.4 2.3-3-1.4 .5z" fill="#001dff"/><path d="M447.9 117.8l1.5-.5 2.4-3-1.5 .5z" fill="#0032ff"/><path d="M449.3 117.2l1.4-.4 2.4-3.2-1.5 .6z" fill="#0047ff"/><path d="M450.6 116.7l1.5-.5 2.3-3.3-1.4 .6z" fill="#005cff"/><path d="M453.6 113.9l-.1-.4" class="k"/><path d="M451.9 116.1l1.5-.6 2.3-3.5-1.4 .8z" fill="#0072ff"/><path d="M454 114.6l-.4-.7" class="k"/><path d="M453.3 115.5l1.5-.7 2.3-3.8-1.5 .9z" fill="#008aff"/><path d="M454.1 114.9l-.1-.3" class="k"/><path d="M454.7 114.7l1.4-1.4 2.3-4.1-1.4 1.8z" fill="#00a9ff"/><path d="M456 113.3l1.4-2.4 2.3-4.6-1.3 2.9z" fill="#00d1ff"/><path d="M457.4 110.9l1.3-2.8 2.3-5-1.3 3.2z" fill="#00fffc"/><path d="M459.9 105.4l.3-.4" class="k"/><path d="M458.7 108.1l1.4-2.4 2.2-5.5-1.3 2.9z" fill="#00ff73"/><path d="M459.8 106l.1-.6" class="k"/><path d="M460 105.7l1.5-1.9 2.2-6-1.4 2.4z" fill="#02ff00"/><path d="M461.4 103.7l1.4-1.8 2.2-6.3-1.4 2.2z" fill="#2cff00"/><path d="M462.8 101.9l1.4-1.9 2.2-6.6-1.4 2.2z" fill="#56ff00"/><path d="M465.4 96.3l-.4-.5" class="k"/><path d="M464.2 100l1.4-1.9 2.2-6.7-1.5 2z" fill="#81ff00"/><path d="M466 96.9l-.6-.6" class="k"/><path d="M465.5 98.1l1.5-1.8 2.2-6.9-1.5 1.9z" fill="#a4ff00"/><path d="M466.2 97.2l-.2-.3" class="k"/><path d="M466.9 96.3l1.5-2 2.2-6.9-1.5 2z" fill="#c4ff00"/><path d="M468.3 94.3l1.5-2.3 2.2-6.8-1.5 2.2z" fill="#e0ff00"/><path d="M471.4 86.9l-.3-.3" class="k"/><path d="M469.7 92l1.5-2.7 2.2-6.6-1.5 2.5z" fill="#feff00"/><path d="M471.7 87.6l-.3-.7" class="k"/><path d="M471.1 89.3l1.5-2.7 2.2-6.3-1.5 2.4z" fill="#ffe300"/><path d="M471.8 87.9l-.1-.3" class="k"/><path d="M472.5 86.6l1.5-3 2.2-5.7-1.5 2.3z" fill="#ffbf00"/><path d="M473.9 83.6l1.5-2 2.3-5.7-1.5 2z" fill="#ff9900"/><path d="M477 77.5l-.2-.3" class="k"/><path d="M475.3 81.6l1.6-1.7 2.2-5.9-1.5 1.9z" fill="#ff7b00"/><path d="M477.5 78l-.5-.5" class="k"/><path d="M476.8 79.9l1.5-1.3 2.3-5.9-1.6 1.3z" fill="#ff6200"/><path d="M478.2 78.5l-.7-.5" class="k"/><path d="M478.2 78.5l1.6-.2 2.3-5.7-1.6 0z" fill="#ff5000"/><path d="M479.6 78.2l1.7 .8 2.3-5.4-1.7-1z" fill="#ff5100"/><path d="M481.1 78.9l1.7 1.2 2.3-5-1.7-1.6z" fill="#ff5d00"/><path d="M482.2 79.3l.8 .1" class="k"/><path d="M482.6 80l1.7 1.2 2.3-4.6-1.7-1.6z" fill="#ff6b00"/><path d="M485 79.6l-2-.2" class="k"/><path d="M484 81l1.8 2.3 2.4-4-1.8-2.8z" fill="#ff7f00"/><path d="M487.8 79.6l-2.8 0" class="k"/><path d="M485.5 83.1l1.8 3 2.4-3.5-1.8-3.5z" fill="#ff9f00"/><path d="M488 79.5l-.2 .1" class="k"/><path d="M487 85.8l1.8 3.1 2.4-3-1.8-3.6z" fill="#ffc400"/><path d="M488.5 88.6l1.8 2.7 2.4-2.6-1.8-3.1z" fill="#ffe100"/><path d="M490 91l1.8 2.5 2.4-2.3-1.8-2.8z" fill="#fff700"/><path d="M491.2 92.3l1.8-.2" class="k"/><path d="M491.5 93.2l1.8 2.4 2.4-2-1.7-2.7z" fill="#f4ff00"/><path d="M494.4 91.9l-1.4 .2" class="k"/><path d="M493.1 95.2l1.7 2.3 2.4-1.6-1.7-2.6z" fill="#e0ff00"/><path d="M494.6 97.2l1.7 2.3 2.5-1.3-1.8-2.6z" fill="#cdff00"/><path d="M496.1 99.1l1.8 2.3 2.4-1.1-1.8-2.5z" fill="#b7ff00"/><path d="M497.7 100.9l3.4 3.8 2.2-.4-3.4-4.4z" fill="#99ff00"/><path d="M500.7 104.3l3.4 4 2.3-.1-3.4-4.4z" fill="#67ff00"/><path d="M502.1 105.8l1.7-.8" class="k"/><path d="M503.8 107.8l3.4 6.2 2.2-1.2-3.3-5.1z" fill="#28ff00"/><path d="M506.9 113.5l3.4 4.7 2.3-1.2-3.4-4.7z" fill="#00ff3d"/><path d="M510 117.8l3.4 4.7 2.3-1.1-3.5-4.8z" fill="#00ffce"/><path d="M511 118.9l2.3-.6" class="k"/><path d="M513.1 122.1l3.4 4.5 2.3-1-3.4-4.7z" fill="#00e0ff"/><path d="M516.2 126.1l3.5 3.8 2.2-.9-3.4-3.9z" fill="#00b5ff"/><path d="M519.4 129.5l3.5 3.9 2.2-1.1-3.5-3.7z" fill="#0088ff"/><path d="M522.7 133l1.4-.5" class="k"/><path d="M522.5 132.9l3.6 3.7 2.2-1.2-3.5-3.5z" fill="#005aff"/><path d="M524.9 132.3l-.8 .2" class="k"/><path d="M525.7 136.2l3.6 3.2 2.2-1.3-3.6-3.1z" fill="#0030ff"/><path d="M397.9 120.2l4.5 .7 2.1-1-4.5-.4z" fill="#4e005c"/><path d="M401.8 120.8l4.5 .5 2.2-1.1-4.6-.4z" fill="#550064"/><path d="M405.8 121.2l4.6 .5 2.1-1.4-4.6-.3z" fill="#5e006e"/><path d="M409.8 121.5l4.6 .4 2.2-1.5-4.6-.2z" fill="#67007d"/><path d="M413.9 121.8l4.6 .3 2.2-1.6-4.7-.2z" fill="#700090"/><path d="M418 122l4.7 .3 2.1-1.8-4.7-.1z" fill="#7000a6"/><path d="M422.2 122.2l4.7 .3 2.1-1.9-4.7-.2z" fill="#7000bd"/><path d="M426.4 122.4l4.7 .1 2.2-2.1-4.8 .1z" fill="#6f00d3"/><path d="M430.6 122.5l4.8-.2 2.1-2.4-4.8 .4z" fill="#6600e3"/><path d="M436.7 120.5l-.4-.4" class="k"/><path d="M434.9 122.2l4.9-.4 2.1-2.6-4.9 .7z" fill="#5a00f3"/><path d="M437.9 121.8l-1.2-1.3" class="k"/><path d="M439.3 121.8l1.4-.1 2.4-2.8-1.4 .2z" fill="#4d00f9"/><path d="M440.6 121.6l1.4-.1 2.4-2.9-1.4 .2z" fill="#4600fc"/><path d="M441.9 121.4l1.5-.1 2.3-3-1.4 .2z" fill="#3d01ff"/><path d="M443.2 121.2l1.5-.3 2.4-3-1.5 .3z" fill="#2e05ff"/><path d="M444.6 120.9l1.4-.4 2.4-3.1-1.5 .4z" fill="#1c09ff"/><path d="M445.9 120.4l1.4-.4 2.4-3.2-1.4 .5z" fill="#090eff"/><path d="M447.2 119.9l1.5-.4 2.3-3.2-1.4 .4z" fill="#001aff"/><path d="M448.5 119.5l1.5-.4 2.4-3.4-1.5 .5z" fill="#002eff"/><path d="M449.9 119l1.5-.5 2.3-3.5-1.5 .6z" fill="#0042ff"/><path d="M451.2 118.5l1.5-.5 2.3-3.8-1.4 .7z" fill="#0058ff"/><path d="M454.4 115.2l-.3-.3" class="k"/><path d="M452.6 117.9l1.4-1 2.3-4.2-1.4 1.5z" fill="#0073ff"/><path d="M454.5 116l-.1-.8" class="k"/><path d="M454 116.8l1.4-1.7 2.2-4.8-1.3 2.4z" fill="#009cff"/><path d="M454.4 116.2l.1-.2" class="k"/><path d="M455.3 115.1l1.4-2 2.3-5.5-1.4 2.7z" fill="#00c8ff"/><path d="M456.7 113l1.4-1.7 2.2-6.1-1.4 2.4z" fill="#00efff"/><path d="M459.9 106.2l-.1-.2" class="k"/><path d="M458 111.2l1.5-1.4 2.2-6.6-1.5 1.9z" fill="#00ffcc"/><path d="M460.4 106.9l-.5-.7" class="k"/><path d="M459.4 109.7l1.4-1.4 2.2-7-1.4 1.9z" fill="#00ff74"/><path d="M461.1 107.4l-.7-.5" class="k"/><path d="M460.8 108.3l1.4-1.5 2.2-7.3-1.5 1.8z" fill="#00ff1c"/><path d="M461.3 107.6l-.2-.2" class="k"/><path d="M462.1 106.7l1.5-1.6 2.2-7.5-1.5 1.8z" fill="#19ff00"/><path d="M463.5 105l1.5-1.7 2.1-7.6-1.4 1.9z" fill="#3dff00"/><path d="M466.6 97.5l-.4-.3" class="k"/><path d="M464.9 103.3l1.5-2.1 2.1-7.5-1.4 2z" fill="#66ff00"/><path d="M467.2 98.1l-.6-.6" class="k"/><path d="M466.3 101.2l1.4-2.5 2.2-7.3-1.4 2.3z" fill="#94ff00"/><path d="M467.7 98.6l-.5-.5" class="k"/><path d="M467.7 98.7l1.4-2.8 2.2-7.1-1.4 2.6z" fill="#bcff00"/><path d="M469.1 95.9l1.4-3.1 2.2-6.8-1.4 2.7z" fill="#e1ff00"/><path d="M472 88.2l-.2-.3" class="k"/><path d="M470.5 92.8l1.4-3.7 2.3-6.1-1.5 3z" fill="#fff800"/><path d="M471.9 89l.1-.8" class="k"/><path d="M471.9 89.1l1.5-1.9 2.2-6.2-1.5 2z" fill="#ffd800"/><path d="M473.3 87.1l1.5-1.2 2.2-6.6-1.5 1.7z" fill="#ffc000"/><path d="M474.7 85.9l1.6-1 2.2-6.9-1.5 1.3z" fill="#ffa900"/><path d="M478.3 78.5l-.1 0" class="k"/><path d="M476.2 84.9l1.5-.2 2.3-7-1.6 .3z" fill="#ff9a00"/><path d="M479.5 78.9l-1.2-.4" class="k"/><path d="M477.6 84.7l1.6 .5 2.3-6.8-1.6-.7z" fill="#ff9800"/><path d="M481.1 79.2l-1.6-.3" class="k"/><path d="M479.1 85.2l1.6 .9 2.3-6.5-1.7-1.2z" fill="#ff9e00"/><path d="M482.2 79.3l-1.1-.1" class="k"/><path d="M480.5 86l1.7 .9 2.3-6.2-1.7-1.2z" fill="#ffa800"/><path d="M482 86.8l1.7 1.7 2.3-5.7-1.7-2.2z" fill="#ffb700"/><path d="M483.5 88.4l1.7 2.2 2.4-4.9-1.8-3z" fill="#ffce00"/><path d="M485 90.4l1.7 2.3 2.4-4.2-1.8-3z" fill="#ffe700"/><path d="M486.7 92.3l.1 0" class="k"/><path d="M486.4 92.5l1.8 2 2.4-3.6-1.8-2.6z" fill="#fff900"/><path d="M489.5 92.3l-2.7 0" class="k"/><path d="M487.9 94.3l1.8 1.9 2.4-3.1-1.7-2.4z" fill="#f4ff00"/><path d="M491.2 92.3l-1.7 0" class="k"/><path d="M489.5 95.9l1.7 1.9 2.5-2.6-1.8-2.3z" fill="#e3ff00"/><path d="M491 97.5l1.7 1.8 2.5-2.1-1.8-2.2z" fill="#d3ff00"/><path d="M492.5 99l1.7 1.8 2.5-1.6-1.8-2.2z" fill="#c4ff00"/><path d="M494 100.5l1.8 1.8 2.4-1.2-1.8-2.2z" fill="#b2ff00"/><path d="M495.5 101.9l3.5 3.1 2.2-.4-3.4-3.8z" fill="#9aff00"/><path d="M498.6 104.6l3.5 3.7 2.2-.1-3.4-4.1z" fill="#70ff00"/><path d="M500.6 106.6l1.5-.8" class="k"/><path d="M501.8 107.8l3.3 7.4 2.3-1.3-3.4-6.1z" fill="#2aff00"/><path d="M504.8 114.7l3.4 4.8 2.3-1.4-3.4-4.7z" fill="#00ff50"/><path d="M507.9 119.1l3.4 4.5 2.3-1.2-3.4-4.7z" fill="#00ffde"/><path d="M508.4 119.5l2.6-.6" class="k"/><path d="M511 123.2l3.5 4.2 2.2-1-3.4-4.5z" fill="#00ddff"/><path d="M514.2 127l3.5 3.7 2.2-.9-3.5-3.8z" fill="#00b4ff"/><path d="M517.3 130.3l3.5 3.9 2.3-1-3.5-3.8z" fill="#0087ff"/><path d="M520.6 133.7l2.1-.7" class="k"/><path d="M520.5 133.8l3.5 3.8 2.3-1.2-3.6-3.6z" fill="#0057ff"/><path d="M523.6 137.2l3.6 3.4 2.3-1.4-3.6-3.2z" fill="#002aff"/><path d="M395.8 120.9l4.4 .8 2.2-1-4.5-.6z" fill="#4d005b"/><path d="M399.7 121.6l4.5 .7 2.2-1.2-4.5-.5z" fill="#530062"/><path d="M403.7 122.2l4.6 .6 2.1-1.3-4.5-.5z" fill="#5a0069"/><path d="M407.7 122.7l4.6 .6 2.2-1.6-4.6-.4z" fill="#610073"/><path d="M411.8 123.1l4.6 .5 2.2-1.7-4.6-.3z" fill="#690083"/><path d="M415.9 123.5l4.7 .5 2.1-1.9-4.6-.3z" fill="#700094"/><path d="M420.1 123.8l4.7 .5 2.2-2-4.8-.3z" fill="#7000a8"/><path d="M424.3 124.2l4.7 .3 2.2-2.2-4.8-.2z" fill="#7000bd"/><path d="M428.5 124.4l4.8 .1 2.2-2.5-4.8 .2z" fill="#6e00d4"/><path d="M432.8 124.4l4.9-.1 2.1-2.8-4.8 .4z" fill="#6600e4"/><path d="M438.8 122.5l-.9-.7" class="k"/><path d="M437.2 124.2l1.5 0 2.4-2.9-1.5 0z" fill="#6000f0"/><path d="M439.5 123.1l-.7-.6" class="k"/><path d="M438.5 124.1l1.5 0 2.4-3.1-1.5 .2z" fill="#5a00f3"/><path d="M440.2 123.6l-.7-.5" class="k"/><path d="M439.9 124l1.4-.1 2.4-3.1-1.5 .1z" fill="#5400f6"/><path d="M440.4 123.8l-.2-.2" class="k"/><path d="M441.2 123.8l1.4-.1 2.4-3.2-1.4 .2z" fill="#4d00f9"/><path d="M442.5 123.6l1.5-.3 2.3-3.3-1.4 .4z" fill="#4500fd"/><path d="M443.8 123.2l1.5-.3 2.3-3.4-1.4 .4z" fill="#3802ff"/><path d="M445.2 122.8l1.4-.4 2.4-3.4-1.5 .4z" fill="#2507ff"/><path d="M446.5 122.4l1.5-.4 2.3-3.4-1.5 .4z" fill="#130bff"/><path d="M447.8 121.9l1.5-.3 2.4-3.6-1.5 .5z" fill="#0010ff"/><path d="M449.2 121.5l1.5-.3 2.3-3.7-1.5 .5z" fill="#0022ff"/><path d="M450.5 121.1l1.5-.6 2.3-4.2-1.4 1.1z" fill="#003aff"/><path d="M451.9 120.5l1.5-1 2.2-4.9-1.4 1.7z" fill="#005aff"/><path d="M454.6 116.7l-.2-.5" class="k"/><path d="M453.3 119.4l1.4-1.1 2.2-5.8-1.4 2z" fill="#0080ff"/><path d="M455 117.4l-.4-.7" class="k"/><path d="M454.6 118.3l1.5-1.1 2.2-6.5-1.4 1.8z" fill="#00a5ff"/><path d="M455.3 117.6l-.3-.2" class="k"/><path d="M456 117.2l1.5-.9 2.1-7.1-1.4 1.5z" fill="#00c1ff"/><path d="M457.4 116.3l1.4-1 2.2-7.6-1.4 1.5z" fill="#00d9ff"/><path d="M458.8 115.3l1.4-1.2 2.2-7.9-1.5 1.5z" fill="#00f1ff"/><path d="M461.8 108l-.5-.4" class="k"/><path d="M460.1 114.1l1.5-1.5 2.1-8.1-1.4 1.7z" fill="#00ffd8"/><path d="M462.6 108.5l-.8-.5" class="k"/><path d="M461.5 112.6l1.5-1.8 2.1-8.1-1.4 1.8z" fill="#00ff81"/><path d="M463.4 109.1l-.8-.6" class="k"/><path d="M462.9 110.8l1.4-2.1 2.2-8.1-1.4 2.1z" fill="#00ff1e"/><path d="M463.7 109.4l-.3-.3" class="k"/><path d="M464.3 108.6l1.4-2.6 2.2-7.8-1.5 2.4z" fill="#22ff00"/><path d="M467.7 98.7l0-.1" class="k"/><path d="M465.7 106l1.4-3.1 2.2-7.6-1.5 2.8z" fill="#58ff00"/><path d="M468.1 99.4l-.4-.7" class="k"/><path d="M467 102.9l1.5-3.4 2.2-7.3-1.5 3.1z" fill="#96ff00"/><path d="M468.2 99.9l-.1-.5" class="k"/><path d="M468.4 99.4l1.4-4.5 2.3-6.4-1.4 3.7z" fill="#cbff00"/><path d="M471.9 89l0 0" class="k"/><path d="M469.8 94.9l1.5-1.8 2.2-6.5-1.5 1.9z" fill="#f0ff00"/><path d="M472.5 89.6l-.6-.6" class="k"/><path d="M471.2 93.1l1.6-.6 2.2-7.1-1.6 1.2z" fill="#fffc00"/><path d="M473.5 90l-1-.4" class="k"/><path d="M472.7 92.5l1.5-.4 2.2-7.7-1.5 .9z" fill="#fff200"/><path d="M474.6 90.5l-1.1-.5" class="k"/><path d="M474.1 92.1l1.6 0 2.2-7.9-1.6 .1z" fill="#ffea00"/><path d="M476 90.8l-1.4-.3" class="k"/><path d="M475.6 92.1l1.6 .4 2.2-7.8-1.6-.6z" fill="#ffe800"/><path d="M477.5 91.2l-1.5-.4" class="k"/><path d="M477 92.5l1.6 .6 2.3-7.6-1.6-.9z" fill="#ffeb00"/><path d="M479 91.5l-1.5-.3" class="k"/><path d="M478.5 93l1.6 .7 2.3-7.3-1.7-.9z" fill="#ffef00"/><path d="M480.6 91.8l-1.6-.3" class="k"/><path d="M480 93.6l1.6 1.1 2.3-6.7-1.7-1.7z" fill="#fff500"/><path d="M482.4 92.1l-1.8-.3" class="k"/><path d="M481.4 94.6l1.7 1.3 2.3-5.8-1.7-2.2z" fill="#ffff00"/><path d="M484.4 92.2l-2-.1" class="k"/><path d="M482.9 95.8l1.7 1.4 2.4-5-1.8-2.2z" fill="#f1ff00"/><path d="M486.7 92.3l-2.3-.1" class="k"/><path d="M484.4 97.1l1.7 1.2 2.4-4.2-1.7-2z" fill="#e3ff00"/><path d="M485.9 98.2l1.7 1.2 2.4-3.7-1.7-1.8z" fill="#d8ff00"/><path d="M487.4 99.2l1.7 1.2 2.4-3-1.7-1.8z" fill="#cdff00"/><path d="M488.9 100.2l1.7 1.2 2.5-2.4-1.8-1.8z" fill="#c2ff00"/><path d="M490.4 101.2l1.7 1.2 2.5-1.9-1.8-1.8z" fill="#b6ff00"/><path d="M491.9 102.1l1.7 1.3 2.5-1.4-1.7-1.8z" fill="#aaff00"/><path d="M493.4 103l3.5 2.3 2.3-.5-3.5-3.1z" fill="#9aff00"/><path d="M496.5 104.9l3.5 3.3 2.2 0-3.4-3.8z" fill="#7aff00"/><path d="M499.4 107.5l1.2-.9" class="k"/><path d="M499.7 107.7l3.3 8.9 2.3-1.5-3.4-7.4z" fill="#2bff00"/><path d="M502.7 116.1l3.4 4.9 2.3-1.6-3.4-4.8z" fill="#00ff6a"/><path d="M505.6 120.1l1.9-.4" class="k"/><path d="M505.8 120.6l3.5 4.2 2.3-1.4-3.5-4.4z" fill="#00fff4"/><path d="M508.4 119.5l-.9 .2" class="k"/><path d="M508.9 124.4l3.5 3.8 2.3-1-3.5-4.2z" fill="#00daff"/><path d="M512.1 127.8l3.5 3.7 2.2-1-3.5-3.7z" fill="#00b4ff"/><path d="M515.2 131l3.6 4 2.2-1-3.5-3.9z" fill="#0087ff"/><path d="M518.5 134.5l2.1-.8" class="k"/><path d="M518.4 134.6l3.5 3.9 2.3-1.1-3.5-3.8z" fill="#0055ff"/><path d="M521.6 138.1l3.5 3.7 2.3-1.4-3.6-3.4z" fill="#0024ff"/><path d="M393.6 121.5l4.5 1.1 2.2-1.1-4.5-.8z" fill="#4c005a"/><path d="M397.6 122.4l4.5 .9 2.2-1.2-4.5-.7z" fill="#50005f"/><path d="M401.6 123.2l4.6 .8 2.1-1.4-4.5-.7z" fill="#550064"/><path d="M405.6 123.9l4.6 .7 2.2-1.6-4.6-.6z" fill="#5c006b"/><path d="M409.7 124.5l4.6 .7 2.2-1.8-4.6-.5z" fill="#620075"/><path d="M413.8 125l4.7 .7 2.2-2-4.7-.5z" fill="#690083"/><path d="M418 125.5l4.7 .6 2.2-2.1-4.7-.4z" fill="#700092"/><path d="M422.2 126l4.8 .5 2.1-2.3-4.7-.3z" fill="#7000a4"/><path d="M426.5 126.4l4.8 .4 2.1-2.6-4.8-.1z" fill="#7000b9"/><path d="M430.8 126.7l4.8 .1 2.1-2.8-4.8 .1z" fill="#6f00d1"/><path d="M435.2 126.8l1.4 .1 2.4-3.1-1.5 0z" fill="#6a00db"/><path d="M436.5 126.8l1.4 0 2.4-3.2-1.4 .1z" fill="#6800e0"/><path d="M437.8 126.7l1.5 0 2.3-3.3-1.4 .1z" fill="#6500e6"/><path d="M441 124.2l-.6-.4" class="k"/><path d="M439.1 126.6l1.5 0 2.3-3.4-1.4 .1z" fill="#6200ec"/><path d="M441.8 124.7l-.8-.5" class="k"/><path d="M440.4 126.5l1.5-.2 2.4-3.5-1.5 .3z" fill="#5d00f1"/><path d="M442.5 125.3l-.7-.6" class="k"/><path d="M441.8 126.2l1.4-.3 2.4-3.5-1.5 .4z" fill="#5500f5"/><path d="M442.9 125.7l-.4-.4" class="k"/><path d="M443.1 125.8l1.5-.4 2.3-3.5-1.4 .4z" fill="#4c00f9"/><path d="M444.4 125.4l1.5-.4 2.3-3.5-1.4 .4z" fill="#4300fe"/><path d="M445.8 124.9l1.4-.3 2.4-3.5-1.5 .3z" fill="#3403ff"/><path d="M447.1 124.5l1.5-.2 2.3-3.6-1.4 .3z" fill="#2307ff"/><path d="M448.5 124.3l1.5-.2 2.3-4.1-1.5 .6z" fill="#120bff"/><path d="M449.8 124.1l1.5-.1 2.3-5.1-1.5 1z" fill="#0011ff"/><path d="M451.2 123.9l1.5-.1 2.2-6.1-1.4 1.2z" fill="#0027ff"/><path d="M452.6 123.8l1.5-.2 2.2-6.9-1.5 1z" fill="#003eff"/><path d="M455.8 118l-.5-.4" class="k"/><path d="M454 123.6l1.5-.3 2.1-7.6-1.4 .9z" fill="#0053ff"/><path d="M456.8 118.5l-1-.5" class="k"/><path d="M455.4 123.3l1.4-.5 2.2-8.1-1.5 1z" fill="#0069ff"/><path d="M457.8 119l-1-.5" class="k"/><path d="M456.8 122.8l1.4-.9 2.2-8.4-1.5 1.2z" fill="#0082ff"/><path d="M458.8 119.5l-1-.5" class="k"/><path d="M458.1 121.9l1.5-1.3 2.1-8.6-1.4 1.5z" fill="#00a1ff"/><path d="M459.7 120l-.9-.5" class="k"/><path d="M459.5 120.6l1.5-1.7 2.1-8.6-1.4 1.7z" fill="#00c2ff"/><path d="M459.8 120.1l-.1-.1" class="k"/><path d="M460.9 118.9l1.4-2.4 2.2-8.4-1.5 2.1z" fill="#00e5ff"/><path d="M464 109.7l-.3-.3" class="k"/><path d="M462.3 116.5l1.4-2.9 2.2-8.2-1.5 2.7z" fill="#00ffd1"/><path d="M464.5 110.3l-.5-.6" class="k"/><path d="M463.6 113.6l1.5-3.3 2.1-8-1.4 3.1z" fill="#00ff42"/><path d="M464.7 110.9l-.2-.6" class="k"/><path d="M465 110.3l1.4-3.8 2.2-7.6-1.4 3.4z" fill="#25ff00"/><path d="M468.3 100.1l-.1-.2" class="k"/><path d="M466.4 106.5l1.3-5.6 2.3-6.6-1.4 4.6z" fill="#78ff00"/><path d="M467.8 101l.5-.9" class="k"/><path d="M467.7 100.9l1.5-1.5 2.3-6.9-1.5 1.8z" fill="#b0ff00"/><path d="M469.1 99.3l1.6 .3 2.2-7.6-1.5 .5z" fill="#c2ff00"/><path d="M470.6 99.6l1.6 .2 2.2-8.3-1.6 .4z" fill="#c8ff00"/><path d="M472.1 99.8l1.5 .3 2.2-8.6-1.5 0z" fill="#ccff00"/><path d="M473.5 100.1l1.6 .3 2.2-8.5-1.6-.4z" fill="#cdff00"/><path d="M475 100.4l1.6 .3 2.2-8.2-1.6-.6z" fill="#ccff00"/><path d="M476.5 100.7l1.5 .3 2.3-7.9-1.6-.6z" fill="#cbff00"/><path d="M477.9 101l1.6 .4 2.3-7.3-1.6-1z" fill="#c9ff00"/><path d="M479.4 101.3l1.6 .4 2.3-6.3-1.6-1.3z" fill="#c4ff00"/><path d="M480.9 101.7l1.6 .4 2.3-5.4-1.6-1.4z" fill="#beff00"/><path d="M482.3 102l1.7 .4 2.4-4.6-1.7-1.2z" fill="#b8ff00"/><path d="M483.8 102.4l1.7 .4 2.4-3.9-1.7-1.2z" fill="#b3ff00"/><path d="M485.3 102.7l1.7 .5 2.4-3.3-1.7-1.1z" fill="#afff00"/><path d="M486.8 103.1l1.7 .6 2.4-2.7-1.7-1.2z" fill="#aaff00"/><path d="M488.3 103.5l1.7 .6 2.5-2.1-1.8-1.2z" fill="#a5ff00"/><path d="M489.8 103.9l1.7 .7 2.5-1.5-1.7-1.3z" fill="#a1ff00"/><path d="M491.3 104.3l3.5 1.3 2.3-.5-3.5-2.3z" fill="#99ff00"/><path d="M494.4 105.2l3.5 2.9 2.2 0-3.4-3.4z" fill="#85ff00"/><path d="M499 107.9l.4-.4" class="k"/><path d="M497.6 107.5l3.3 10.7 2.2-1.7-3.3-8.9z" fill="#2bff00"/><path d="M497.9 108.3l1.1-.4" class="k"/><path d="M500.6 117.7l3.4 4.9 2.3-1.7-3.4-4.9z" fill="#00ff8b"/><path d="M502.8 120.6l2.8-.5" class="k"/><path d="M503.7 122.2l3.5 3.8 2.3-1.4-3.5-4.2z" fill="#00faff"/><path d="M506.8 125.6l3.5 3.4 2.3-1-3.5-3.8z" fill="#00d6ff"/><path d="M510 128.6l3.5 3.6 2.3-.9-3.5-3.7z" fill="#00b3ff"/><path d="M513.2 131.8l3.5 4 2.2-.9-3.5-4z" fill="#0086ff"/><path d="M516.4 135.3l2.1-.8" class="k"/><path d="M516.3 135.4l3.6 4 2.2-1-3.5-4z" fill="#0054ff"/><path d="M519.5 139l3.6 4.1 2.2-1.4-3.5-3.8z" fill="#001eff"/></g>
<text x="388.3" y="173.6"  font-size="11" text-anchor="end">-20</text>
<text x="387.3" y="149.7"  font-size="11" text-anchor="end">-10</text>
<text x="386.3" y="125.4"  font-size="11" text-anchor="end">0</text>
<text x="385.3" y="100.6"  font-size="11" text-anchor="end">10</text>
<text x="384.2" y="75.3"  font-size="11" text-anchor="end">20</text>
<text x="383.2" y="49.5"  font-size="11" text-anchor="end">30</text>
<text x="382.1" y="23.2"  font-size="11" text-anchor="end">40</text>
<path d="M395.9 169.7h-3.5M394.9 145.8h-3.5M393.9 121.5h-3.5M392.9 96.7h-3.5M391.8 71.4h-3.5M390.8 45.6h-3.5M389.7 19.3h-3.5M396.4 181.5v4M404.3 184.4v2M412.2 187.3v4M420.4 190.3v2M428.7 193.4v4M437.2 196.5v2M445.8 199.7v4M454.7 203.0v2M463.7 206.3v4M473.0 209.7v2M482.4 213.2v4M492.0 216.7v2M501.9 220.4v4M512.0 224.1v2M522.3 227.9v4M522.3 227.9v4M532.2 222.7v2M541.8 217.7v4M551.1 212.8v2M560.1 208.1v4M568.9 203.5v2M577.4 199.1v4M585.7 194.7v2M593.7 190.5v4M601.5 186.4v2M609.2 182.5v4M616.6 178.6v2M623.8 174.8v4" stroke="#000" stroke-width="0.8" fill="none"/>
<path d="M396.4,181.5L522.3,227.9L623.8,174.8" stroke="#000" stroke-width="0.8" fill="none"/>
<text x="391" y="197.0"  font-size="11" text-anchor="middle">580</text>
<text x="408.5" y="203.5"  font-size="11" text-anchor="middle">600</text>
<text x="425" y="209.9"  font-size="11" text-anchor="middle">620</text>
<text x="441" y="216.9"  font-size="11" text-anchor="middle">640</text>
<text x="460" y="222.7"  font-size="11" text-anchor="middle">660</text>
<text x="478" y="229.3"  font-size="11" text-anchor="middle">680</text>
<text x="497.3" y="236.7"  font-size="11" text-anchor="middle">700</text>
<text x="514.9" y="246.1"  font-size="11" text-anchor="middle">720</text>
<text x="533.7" y="244.89999999999998"  font-size="11" text-anchor="middle">20</text>
<text x="549.9" y="234.0"  font-size="11" text-anchor="middle">25</text>
<text x="566" y="223.39999999999998"  font-size="11" text-anchor="middle">30</text>
<text x="582.1" y="215.1"  font-size="11" text-anchor="middle">35</text>
<text x="598.3" y="206.29999999999998"  font-size="11" text-anchor="middle">40</text>
<text x="614.4" y="198.0"  font-size="11" text-anchor="middle">45</text>
<text x="630.5" y="188.5"  font-size="11" text-anchor="middle">50</text>
<text transform="translate(437.2 231) rotate(20.5)"  font-size="11.3" text-anchor="middle">Wavelength (nm)</text>
<text transform="translate(600 225) rotate(-27.8)"  font-size="11.3" text-anchor="middle">Front Cone α (°)</text>
<text transform="translate(354.2 113) rotate(90)"  font-size="11" text-anchor="middle"><tspan fill="#888">|</tspan><tspan font-style="italic">E</tspan><tspan fill="#888">|</tspan> (a.u.)</text>
<linearGradient id="cb" x1="0" y1="0" x2="0" y2="1"><stop offset="0.000" stop-color="#500000"/><stop offset="0.026" stop-color="#670000"/><stop offset="0.051" stop-color="#7e0000"/><stop offset="0.077" stop-color="#930000"/><stop offset="0.103" stop-color="#ad0000"/><stop offset="0.128" stop-color="#ca0000"/><stop offset="0.154" stop-color="#e20000"/><stop offset="0.179" stop-color="#fa0000"/><stop offset="0.205" stop-color="#ff0000"/><stop offset="0.231" stop-color="#ff0000"/><stop offset="0.256" stop-color="#ff0000"/><stop offset="0.282" stop-color="#ff0000"/><stop offset="0.308" stop-color="#ff0000"/><stop offset="0.333" stop-color="#ff0900"/><stop offset="0.359" stop-color="#ff3500"/><stop offset="0.385" stop-color="#ff6400"/><stop offset="0.410" stop-color="#ff8900"/><stop offset="0.436" stop-color="#ffb000"/><stop offset="0.462" stop-color="#ffd400"/><stop offset="0.487" stop-color="#fff300"/><stop offset="0.513" stop-color="#f0ff00"/><stop offset="0.538" stop-color="#d1ff00"/><stop offset="0.564" stop-color="#aeff00"/><stop offset="0.590" stop-color="#86ff00"/><stop offset="0.615" stop-color="#54ff00"/><stop offset="0.641" stop-color="#25ff00"/><stop offset="0.667" stop-color="#00ff17"/><stop offset="0.692" stop-color="#00ff8c"/><stop offset="0.718" stop-color="#00ffff"/><stop offset="0.744" stop-color="#00d8ff"/><stop offset="0.769" stop-color="#00aeff"/><stop offset="0.795" stop-color="#007bff"/><stop offset="0.821" stop-color="#0044ff"/><stop offset="0.846" stop-color="#060fff"/><stop offset="0.872" stop-color="#4000ff"/><stop offset="0.897" stop-color="#5d00f1"/><stop offset="0.923" stop-color="#6d00d6"/><stop offset="0.949" stop-color="#7000a5"/><stop offset="0.974" stop-color="#620075"/><stop offset="1.000" stop-color="#4a0058"/></linearGradient>
<rect x="643.5" y="12" width="14.5" height="152" fill="url(#cb)"/>
<rect x="643.5" y="10.5" width="14.5" height="153.5" fill="none" stroke="#444" stroke-width="0.8"/>
<text x="663.3" y="15.3"  font-size="11">39.0</text>
<text x="663.3" y="30.2"  font-size="11">35.1</text>
<text x="663.3" y="45.2"  font-size="11">31.2</text>
<text x="663.3" y="60.1"  font-size="11">27.3</text>
<text x="663.3" y="75.0"  font-size="11">23.4</text>
<text x="663.3" y="90.0"  font-size="11">19.5</text>
<text x="663.3" y="104.9"  font-size="11">15.6</text>
<text x="663.3" y="119.8"  font-size="11">11.7</text>
<text x="663.3" y="134.7"  font-size="11">7.8</text>
<text x="663.3" y="149.7"  font-size="11">3.9</text>
<text x="663.3" y="164.6"  font-size="11">0.0</text>
<text x="-0.9" y="273.1"  font-size="17" font-weight="bold">c</text>
<linearGradient id="bar" x1="0" x2="1" y1="0" y2="0"><stop offset="0" stop-color="#ffff10"/><stop offset="0.1" stop-color="#ffe600"/><stop offset="0.25" stop-color="#ffc000"/><stop offset="0.37" stop-color="#ffa000"/><stop offset="0.48" stop-color="#ff7000"/><stop offset="0.56" stop-color="#ff3800"/><stop offset="0.63" stop-color="#ff0800"/><stop offset="0.71" stop-color="#f00000"/><stop offset="0.84" stop-color="#d80000"/><stop offset="1" stop-color="#c40000"/></linearGradient>
<rect x="12.9" y="270.3" width="654.9" height="31.4" fill="url(#bar)" stroke="#000" stroke-width="2.2"/>
<text x="23.6" y="290.4"  font-size="12.5" font-weight="bold" font-style="italic">Low</text>
<text x="616.6" y="290.2"  font-size="12.5" font-weight="bold" font-style="italic">High</text>
<text x="96.1" y="328.2"  font-size="12.6" font-weight="bold" font-style="italic">Increasing Wavelength</text>
<linearGradient id="arr" gradientUnits="userSpaceOnUse" x1="238" x2="665" y1="0" y2="0"><stop offset="0" stop-color="#ffee00"/><stop offset="0.145" stop-color="#ffc800"/><stop offset="0.38" stop-color="#ffa000"/><stop offset="0.52" stop-color="#ff6000"/><stop offset="0.637" stop-color="#ff1000"/><stop offset="0.754" stop-color="#f00000"/><stop offset="1" stop-color="#e00000"/></linearGradient>
<path d="M238 321H640.3L629 306.5L665.3 324.6L629 342.6L640.3 328.2H238Z" fill="url(#arr)"/>
<defs><radialGradient id="g1_0" cx="0.5" cy="0.5" r="0.62"><stop offset="0" stop-color="#e1a500"/><stop offset="0.07" stop-color="#e1a500" stop-opacity="0.9"/><stop offset="0.18" stop-color="#e1a500" stop-opacity="0.55"/><stop offset="0.32" stop-color="#e1a500" stop-opacity="0.3"/><stop offset="0.5" stop-color="#e1a500" stop-opacity="0.15"/><stop offset="0.72" stop-color="#e1a500" stop-opacity="0.05"/><stop offset="1" stop-color="#e1a500" stop-opacity="0"/></radialGradient><radialGradient id="g2_0"><stop offset="0" stop-color="#e1a500"/><stop offset="0.35" stop-color="#e1a500" stop-opacity="0.6"/><stop offset="1" stop-color="#e1a500" stop-opacity="0"/></radialGradient><radialGradient id="g3_0"><stop offset="0" stop-color="#e1a500" stop-opacity="0.22"/><stop offset="1" stop-color="#e1a500" stop-opacity="0"/></radialGradient><radialGradient id="g1_1" cx="0.5" cy="0.5" r="0.62"><stop offset="0" stop-color="#e68700"/><stop offset="0.07" stop-color="#e68700" stop-opacity="0.9"/><stop offset="0.18" stop-color="#e68700" stop-opacity="0.55"/><stop offset="0.32" stop-color="#e68700" stop-opacity="0.3"/><stop offset="0.5" stop-color="#e68700" stop-opacity="0.15"/><stop offset="0.72" stop-color="#e68700" stop-opacity="0.05"/><stop offset="1" stop-color="#e68700" stop-opacity="0"/></radialGradient><radialGradient id="g2_1"><stop offset="0" stop-color="#e68700"/><stop offset="0.35" stop-color="#e68700" stop-opacity="0.6"/><stop offset="1" stop-color="#e68700" stop-opacity="0"/></radialGradient><radialGradient id="g3_1"><stop offset="0" stop-color="#e68700" stop-opacity="0.22"/><stop offset="1" stop-color="#e68700" stop-opacity="0"/></radialGradient><radialGradient id="g1_2" cx="0.5" cy="0.5" r="0.62"><stop offset="0" stop-color="#e87000"/><stop offset="0.07" stop-color="#e87000" stop-opacity="0.9"/><stop offset="0.18" stop-color="#e87000" stop-opacity="0.55"/><stop offset="0.32" stop-color="#e87000" stop-opacity="0.3"/><stop offset="0.5" stop-color="#e87000" stop-opacity="0.15"/><stop offset="0.72" stop-color="#e87000" stop-opacity="0.05"/><stop offset="1" stop-color="#e87000" stop-opacity="0"/></radialGradient><radialGradient id="g2_2"><stop offset="0" stop-color="#e87000"/><stop offset="0.35" stop-color="#e87000" stop-opacity="0.6"/><stop offset="1" stop-color="#e87000" stop-opacity="0"/></radialGradient><radialGradient id="g3_2"><stop offset="0" stop-color="#e87000" stop-opacity="0.22"/><stop offset="1" stop-color="#e87000" stop-opacity="0"/></radialGradient><radialGradient id="g1_3" cx="0.5" cy="0.5" r="0.62"><stop offset="0" stop-color="#eb5c00"/><stop offset="0.07" stop-color="#eb5c00" stop-opacity="0.9"/><stop offset="0.18" stop-color="#eb5c00" stop-opacity="0.55"/><stop offset="0.32" stop-color="#eb5c00" stop-opacity="0.3"/><stop offset="0.5" stop-color="#eb5c00" stop-opacity="0.15"/><stop offset="0.72" stop-color="#eb5c00" stop-opacity="0.05"/><stop offset="1" stop-color="#eb5c00" stop-opacity="0"/></radialGradient><radialGradient id="g2_3"><stop offset="0" stop-color="#eb5c00"/><stop offset="0.35" stop-color="#eb5c00" stop-opacity="0.6"/><stop offset="1" stop-color="#eb5c00" stop-opacity="0"/></radialGradient><radialGradient id="g3_3"><stop offset="0" stop-color="#eb5c00" stop-opacity="0.22"/><stop offset="1" stop-color="#eb5c00" stop-opacity="0"/></radialGradient><radialGradient id="g1_4" cx="0.5" cy="0.5" r="0.62"><stop offset="0" stop-color="#ee4800"/><stop offset="0.07" stop-color="#ee4800" stop-opacity="0.9"/><stop offset="0.18" stop-color="#ee4800" stop-opacity="0.55"/><stop offset="0.32" stop-color="#ee4800" stop-opacity="0.3"/><stop offset="0.5" stop-color="#ee4800" stop-opacity="0.15"/><stop offset="0.72" stop-color="#ee4800" stop-opacity="0.05"/><stop offset="1" stop-color="#ee4800" stop-opacity="0"/></radialGradient><radialGradient id="g2_4"><stop offset="0" stop-color="#ee4800"/><stop offset="0.35" stop-color="#ee4800" stop-opacity="0.6"/><stop offset="1" stop-color="#ee4800" stop-opacity="0"/></radialGradient><radialGradient id="g3_4"><stop offset="0" stop-color="#ee4800" stop-opacity="0.22"/><stop offset="1" stop-color="#ee4800" stop-opacity="0"/></radialGradient><radialGradient id="g1_5" cx="0.5" cy="0.5" r="0.62"><stop offset="0" stop-color="#f23400"/><stop offset="0.07" stop-color="#f23400" stop-opacity="0.9"/><stop offset="0.18" stop-color="#f23400" stop-opacity="0.55"/><stop offset="0.32" stop-color="#f23400" stop-opacity="0.3"/><stop offset="0.5" stop-color="#f23400" stop-opacity="0.15"/><stop offset="0.72" stop-color="#f23400" stop-opacity="0.05"/><stop offset="1" stop-color="#f23400" stop-opacity="0"/></radialGradient><radialGradient id="g2_5"><stop offset="0" stop-color="#f23400"/><stop offset="0.35" stop-color="#f23400" stop-opacity="0.6"/><stop offset="1" stop-color="#f23400" stop-opacity="0"/></radialGradient><radialGradient id="g3_5"><stop offset="0" stop-color="#f23400" stop-opacity="0.22"/><stop offset="1" stop-color="#f23400" stop-opacity="0"/></radialGradient><radialGradient id="g1_6" cx="0.5" cy="0.5" r="0.62"><stop offset="0" stop-color="#f52600"/><stop offset="0.07" stop-color="#f52600" stop-opacity="0.9"/><stop offset="0.18" stop-color="#f52600" stop-opacity="0.55"/><stop offset="0.32" stop-color="#f52600" stop-opacity="0.3"/><stop offset="0.5" stop-color="#f52600" stop-opacity="0.15"/><stop offset="0.72" stop-color="#f52600" stop-opacity="0.05"/><stop offset="1" stop-color="#f52600" stop-opacity="0"/></radialGradient><radialGradient id="g2_6"><stop offset="0" stop-color="#f52600"/><stop offset="0.35" stop-color="#f52600" stop-opacity="0.6"/><stop offset="1" stop-color="#f52600" stop-opacity="0"/></radialGradient><radialGradient id="g3_6"><stop offset="0" stop-color="#f52600" stop-opacity="0.22"/><stop offset="1" stop-color="#f52600" stop-opacity="0"/></radialGradient><radialGradient id="g1_7" cx="0.5" cy="0.5" r="0.62"><stop offset="0" stop-color="#f81800"/><stop offset="0.07" stop-color="#f81800" stop-opacity="0.9"/><stop offset="0.18" stop-color="#f81800" stop-opacity="0.55"/><stop offset="0.32" stop-color="#f81800" stop-opacity="0.3"/><stop offset="0.5" stop-color="#f81800" stop-opacity="0.15"/><stop offset="0.72" stop-color="#f81800" stop-opacity="0.05"/><stop offset="1" stop-color="#f81800" stop-opacity="0"/></radialGradient><radialGradient id="g2_7"><stop offset="0" stop-color="#f81800"/><stop offset="0.35" stop-color="#f81800" stop-opacity="0.6"/><stop offset="1" stop-color="#f81800" stop-opacity="0"/></radialGradient><radialGradient id="g3_7"><stop offset="0" stop-color="#f81800" stop-opacity="0.22"/><stop offset="1" stop-color="#f81800" stop-opacity="0"/></radialGradient><radialGradient id="g1_8" cx="0.5" cy="0.5" r="0.62"><stop offset="0" stop-color="#f50a05"/><stop offset="0.07" stop-color="#f50a05" stop-opacity="0.9"/><stop offset="0.18" stop-color="#f50a05" stop-opacity="0.55"/><stop offset="0.32" stop-color="#f50a05" stop-opacity="0.3"/><stop offset="0.5" stop-color="#f50a05" stop-opacity="0.15"/><stop offset="0.72" stop-color="#f50a05" stop-opacity="0.05"/><stop offset="1" stop-color="#f50a05" stop-opacity="0"/></radialGradient><radialGradient id="g2_8"><stop offset="0" stop-color="#f50a05"/><stop offset="0.35" stop-color="#f50a05" stop-opacity="0.6"/><stop offset="1" stop-color="#f50a05" stop-opacity="0"/></radialGradient><radialGradient id="g3_8"><stop offset="0" stop-color="#f50a05" stop-opacity="0.22"/><stop offset="1" stop-color="#f50a05" stop-opacity="0"/></radialGradient><radialGradient id="g1_9" cx="0.5" cy="0.5" r="0.62"><stop offset="0" stop-color="#f0000a"/><stop offset="0.07" stop-color="#f0000a" stop-opacity="0.9"/><stop offset="0.18" stop-color="#f0000a" stop-opacity="0.55"/><stop offset="0.32" stop-color="#f0000a" stop-opacity="0.3"/><stop offset="0.5" stop-color="#f0000a" stop-opacity="0.15"/><stop offset="0.72" stop-color="#f0000a" stop-opacity="0.05"/><stop offset="1" stop-color="#f0000a" stop-opacity="0"/></radialGradient><radialGradient id="g2_9"><stop offset="0" stop-color="#f0000a"/><stop offset="0.35" stop-color="#f0000a" stop-opacity="0.6"/><stop offset="1" stop-color="#f0000a" stop-opacity="0"/></radialGradient><radialGradient id="g3_9"><stop offset="0" stop-color="#f0000a" stop-opacity="0.22"/><stop offset="1" stop-color="#f0000a" stop-opacity="0"/></radialGradient><radialGradient id="g1_10" cx="0.5" cy="0.5" r="0.62"><stop offset="0" stop-color="#e8000f"/><stop offset="0.07" stop-color="#e8000f" stop-opacity="0.9"/><stop offset="0.18" stop-color="#e8000f" stop-opacity="0.55"/><stop offset="0.32" stop-color="#e8000f" stop-opacity="0.3"/><stop offset="0.5" stop-color="#e8000f" stop-opacity="0.15"/><stop offset="0.72" stop-color="#e8000f" stop-opacity="0.05"/><stop offset="1" stop-color="#e8000f" stop-opacity="0"/></radialGradient><radialGradient id="g2_10"><stop offset="0" stop-color="#e8000f"/><stop offset="0.35" stop-color="#e8000f" stop-opacity="0.6"/><stop offset="1" stop-color="#e8000f" stop-opacity="0"/></radialGradient><radialGradient id="g3_10"><stop offset="0" stop-color="#e8000f" stop-opacity="0.22"/><stop offset="1" stop-color="#e8000f" stop-opacity="0"/></radialGradient><radialGradient id="g1_11" cx="0.5" cy="0.5" r="0.62"><stop offset="0" stop-color="#de0012"/><stop offset="0.07" stop-color="#de0012" stop-opacity="0.9"/><stop offset="0.18" stop-color="#de0012" stop-opacity="0.55"/><stop offset="0.32" stop-color="#de0012" stop-opacity="0.3"/><stop offset="0.5" stop-color="#de0012" stop-opacity="0.15"/><stop offset="0.72" stop-color="#de0012" stop-opacity="0.05"/><stop offset="1" stop-color="#de0012" stop-opacity="0"/></radialGradient><radialGradient id="g2_11"><stop offset="0" stop-color="#de0012"/><stop offset="0.35" stop-color="#de0012" stop-opacity="0.6"/><stop offset="1" stop-color="#de0012" stop-opacity="0"/></radialGradient><radialGradient id="g3_11"><stop offset="0" stop-color="#de0012" stop-opacity="0.22"/><stop offset="1" stop-color="#de0012" stop-opacity="0"/></radialGradient><radialGradient id="g1_12" cx="0.5" cy="0.5" r="0.62"><stop offset="0" stop-color="#cd0014"/><stop offset="0.07" stop-color="#cd0014" stop-opacity="0.9"/><stop offset="0.18" stop-color="#cd0014" stop-opacity="0.55"/><stop offset="0.32" stop-color="#cd0014" stop-opacity="0.3"/><stop offset="0.5" stop-color="#cd0014" stop-opacity="0.15"/><stop offset="0.72" stop-color="#cd0014" stop-opacity="0.05"/><stop offset="1" stop-color="#cd0014" stop-opacity="0"/></radialGradient><radialGradient id="g2_12"><stop offset="0" stop-color="#cd0014"/><stop offset="0.35" stop-color="#cd0014" stop-opacity="0.6"/><stop offset="1" stop-color="#cd0014" stop-opacity="0"/></radialGradient><radialGradient id="g3_12"><stop offset="0" stop-color="#cd0014" stop-opacity="0.22"/><stop offset="1" stop-color="#cd0014" stop-opacity="0"/></radialGradient><radialGradient id="g1_13" cx="0.5" cy="0.5" r="0.62"><stop offset="0" stop-color="#be0018"/><stop offset="0.07" stop-color="#be0018" stop-opacity="0.9"/><stop offset="0.18" stop-color="#be0018" stop-opacity="0.55"/><stop offset="0.32" stop-color="#be0018" stop-opacity="0.3"/><stop offset="0.5" stop-color="#be0018" stop-opacity="0.15"/><stop offset="0.72" stop-color="#be0018" stop-opacity="0.05"/><stop offset="1" stop-color="#be0018" stop-opacity="0"/></radialGradient><radialGradient id="g2_13"><stop offset="0" stop-color="#be0018"/><stop offset="0.35" stop-color="#be0018" stop-opacity="0.6"/><stop offset="1" stop-color="#be0018" stop-opacity="0"/></radialGradient><radialGradient id="g3_13"><stop offset="0" stop-color="#be0018" stop-opacity="0.22"/><stop offset="1" stop-color="#be0018" stop-opacity="0"/></radialGradient><radialGradient id="g1_14" cx="0.5" cy="0.5" r="0.62"><stop offset="0" stop-color="#ac001c"/><stop offset="0.07" stop-color="#ac001c" stop-opacity="0.9"/><stop offset="0.18" stop-color="#ac001c" stop-opacity="0.55"/><stop offset="0.32" stop-color="#ac001c" stop-opacity="0.3"/><stop offset="0.5" stop-color="#ac001c" stop-opacity="0.15"/><stop offset="0.72" stop-color="#ac001c" stop-opacity="0.05"/><stop offset="1" stop-color="#ac001c" stop-opacity="0"/></radialGradient><radialGradient id="g2_14"><stop offset="0" stop-color="#ac001c"/><stop offset="0.35" stop-color="#ac001c" stop-opacity="0.6"/><stop offset="1" stop-color="#ac001c" stop-opacity="0"/></radialGradient><radialGradient id="g3_14"><stop offset="0" stop-color="#ac001c" stop-opacity="0.22"/><stop offset="1" stop-color="#ac001c" stop-opacity="0"/></radialGradient><radialGradient id="g1_15" cx="0.5" cy="0.5" r="0.62"><stop offset="0" stop-color="#96001e"/><stop offset="0.07" stop-color="#96001e" stop-opacity="0.9"/><stop offset="0.18" stop-color="#96001e" stop-opacity="0.55"/><stop offset="0.32" stop-color="#96001e" stop-opacity="0.3"/><stop offset="0.5" stop-color="#96001e" stop-opacity="0.15"/><stop offset="0.72" stop-color="#96001e" stop-opacity="0.05"/><stop offset="1" stop-color="#96001e" stop-opacity="0"/></radialGradient><radialGradient id="g2_15"><stop offset="0" stop-color="#96001e"/><stop offset="0.35" stop-color="#96001e" stop-opacity="0.6"/><stop offset="1" stop-color="#96001e" stop-opacity="0"/></radialGradient><radialGradient id="g3_15"><stop offset="0" stop-color="#96001e" stop-opacity="0.22"/><stop offset="1" stop-color="#96001e" stop-opacity="0"/></radialGradient><filter id="bl" x="-50%" y="-50%" width="200%" height="200%"><feGaussianBlur stdDeviation="0.9"/></filter></defs>
<rect x="15.0" y="346.8" width="38.6" height="38.3" fill="#110810"/>
<rect x="15.0" y="346.8" width="38.6" height="38.3" fill="url(#g1_0)"/>
<rect x="15.0" y="402.1" width="38.6" height="38.2" fill="#110810"/>
<rect x="15.0" y="414" width="38.6" height="15" fill="url(#g3_0)"/>
<ellipse cx="26.0" cy="421.5" rx="9" ry="6" fill="url(#g3_0)"/>
<ellipse cx="34.5" cy="421.8" rx="4.2" ry="3.6" fill="url(#g2_0)"/>
<ellipse cx="31.5" cy="424.2" rx="3" ry="2.5" fill="url(#g2_0)" opacity="0.6"/>
<rect x="15.0" y="457.2" width="38.6" height="40" fill="#110810"/>
<rect x="15.0" y="470" width="38.6" height="12" fill="url(#g3_0)" opacity="0.6"/>
<path d="M29.5 473.8L33.6 475.9L27.8 481.5" stroke="#e1a500" stroke-opacity="0.55" stroke-width="1.8" fill="none" filter="url(#bl)"/>
<rect x="55.9" y="346.8" width="38.6" height="38.3" fill="#110810"/>
<rect x="55.9" y="346.8" width="38.6" height="38.3" fill="url(#g1_1)"/>
<rect x="55.9" y="402.1" width="38.6" height="38.2" fill="#110810"/>
<rect x="55.9" y="414" width="38.6" height="15" fill="url(#g3_1)"/>
<ellipse cx="66.9" cy="421.5" rx="9" ry="6" fill="url(#g3_1)"/>
<ellipse cx="75.4" cy="421.8" rx="4.2" ry="3.6" fill="url(#g2_1)"/>
<ellipse cx="72.4" cy="424.2" rx="3" ry="2.5" fill="url(#g2_1)" opacity="0.6"/>
<rect x="55.9" y="457.2" width="38.6" height="40" fill="#110810"/>
<rect x="55.9" y="470" width="38.6" height="12" fill="url(#g3_1)" opacity="0.6"/>
<path d="M70.4 473.8L74.5 475.9L68.7 481.5" stroke="#e68700" stroke-opacity="0.55" stroke-width="1.8" fill="none" filter="url(#bl)"/>
<rect x="96.8" y="346.8" width="38.6" height="38.3" fill="#110810"/>
<rect x="96.8" y="346.8" width="38.6" height="38.3" fill="url(#g1_2)"/>
<rect x="96.8" y="402.1" width="38.6" height="38.2" fill="#110810"/>
<rect x="96.8" y="414" width="38.6" height="15" fill="url(#g3_2)"/>
<ellipse cx="107.8" cy="421.5" rx="9" ry="6" fill="url(#g3_2)"/>
<ellipse cx="116.3" cy="421.8" rx="4.2" ry="3.6" fill="url(#g2_2)"/>
<ellipse cx="113.3" cy="424.2" rx="3" ry="2.5" fill="url(#g2_2)" opacity="0.6"/>
<rect x="96.8" y="457.2" width="38.6" height="40" fill="#110810"/>
<rect x="96.8" y="470" width="38.6" height="12" fill="url(#g3_2)" opacity="0.6"/>
<path d="M111.3 473.8L115.4 475.9L109.6 481.5" stroke="#e87000" stroke-opacity="0.55" stroke-width="1.8" fill="none" filter="url(#bl)"/>
<rect x="137.7" y="346.8" width="38.6" height="38.3" fill="#110810"/>
<rect x="137.7" y="346.8" width="38.6" height="38.3" fill="url(#g1_3)"/>
<rect x="137.7" y="402.1" width="38.6" height="38.2" fill="#110810"/>
<rect x="137.7" y="414" width="38.6" height="15" fill="url(#g3_3)"/>
<ellipse cx="148.7" cy="421.5" rx="9" ry="6" fill="url(#g3_3)"/>
<ellipse cx="157.2" cy="421.8" rx="4.2" ry="3.6" fill="url(#g2_3)"/>
<ellipse cx="154.2" cy="424.2" rx="3" ry="2.5" fill="url(#g2_3)" opacity="0.6"/>
<rect x="137.7" y="457.2" width="38.6" height="40" fill="#110810"/>
<rect x="137.7" y="470" width="38.6" height="12" fill="url(#g3_3)" opacity="0.6"/>
<path d="M152.2 473.8L156.3 475.9L150.5 481.5" stroke="#eb5c00" stroke-opacity="0.55" stroke-width="1.8" fill="none" filter="url(#bl)"/>
<rect x="178.6" y="346.8" width="38.6" height="38.3" fill="#110810"/>
<rect x="178.6" y="346.8" width="38.6" height="38.3" fill="url(#g1_4)"/>
<rect x="178.6" y="402.1" width="38.6" height="38.2" fill="#110810"/>
<rect x="178.6" y="414" width="38.6" height="15" fill="url(#g3_4)"/>
<ellipse cx="189.6" cy="421.5" rx="9" ry="6" fill="url(#g3_4)"/>
<ellipse cx="198.1" cy="421.8" rx="4.2" ry="3.6" fill="url(#g2_4)"/>
<ellipse cx="195.1" cy="424.2" rx="3" ry="2.5" fill="url(#g2_4)" opacity="0.6"/>
<rect x="178.6" y="457.2" width="38.6" height="40" fill="#110810"/>
<rect x="178.6" y="470" width="38.6" height="12" fill="url(#g3_4)" opacity="0.6"/>
<path d="M193.1 473.8L197.2 475.9L191.4 481.5" stroke="#ee4800" stroke-opacity="0.55" stroke-width="1.8" fill="none" filter="url(#bl)"/>
<rect x="219.5" y="346.8" width="38.6" height="38.3" fill="#110810"/>
<rect x="219.5" y="346.8" width="38.6" height="38.3" fill="url(#g1_5)"/>
<rect x="219.5" y="402.1" width="38.6" height="38.2" fill="#110810"/>
<rect x="219.5" y="414" width="38.6" height="15" fill="url(#g3_5)"/>
<ellipse cx="230.5" cy="421.5" rx="9" ry="6" fill="url(#g3_5)"/>
<ellipse cx="239.0" cy="421.8" rx="4.2" ry="3.6" fill="url(#g2_5)"/>
<ellipse cx="236.0" cy="424.2" rx="3" ry="2.5" fill="url(#g2_5)" opacity="0.6"/>
<rect x="219.5" y="457.2" width="38.6" height="40" fill="#110810"/>
<rect x="219.5" y="470" width="38.6" height="12" fill="url(#g3_5)" opacity="0.6"/>
<path d="M234.0 473.8L238.1 475.9L232.3 481.5" stroke="#f23400" stroke-opacity="0.55" stroke-width="1.8" fill="none" filter="url(#bl)"/>
<rect x="260.4" y="346.8" width="38.6" height="38.3" fill="#110810"/>
<rect x="260.4" y="346.8" width="38.6" height="38.3" fill="url(#g1_6)"/>
<rect x="260.4" y="402.1" width="38.6" height="38.2" fill="#110810"/>
<rect x="260.4" y="414" width="38.6" height="15" fill="url(#g3_6)"/>
<ellipse cx="271.4" cy="421.5" rx="9" ry="6" fill="url(#g3_6)"/>
<ellipse cx="279.9" cy="421.8" rx="4.2" ry="3.6" fill="url(#g2_6)"/>
<ellipse cx="276.9" cy="424.2" rx="3" ry="2.5" fill="url(#g2_6)" opacity="0.6"/>
<rect x="260.4" y="457.2" width="38.6" height="40" fill="#110810"/>
<rect x="260.4" y="470" width="38.6" height="12" fill="url(#g3_6)" opacity="0.6"/>
<path d="M274.9 473.8L279.0 475.9L273.2 481.5" stroke="#f52600" stroke-opacity="0.55" stroke-width="1.8" fill="none" filter="url(#bl)"/>
<rect x="301.3" y="346.8" width="38.6" height="38.3" fill="#110810"/>
<rect x="301.3" y="346.8" width="38.6" height="38.3" fill="url(#g1_7)"/>
<rect x="301.3" y="402.1" width="38.6" height="38.2" fill="#110810"/>
<rect x="301.3" y="414" width="38.6" height="15" fill="url(#g3_7)"/>
<ellipse cx="312.3" cy="421.5" rx="9" ry="6" fill="url(#g3_7)"/>
<ellipse cx="320.8" cy="421.8" rx="4.2" ry="3.6" fill="url(#g2_7)"/>
<ellipse cx="317.8" cy="424.2" rx="3" ry="2.5" fill="url(#g2_7)" opacity="0.6"/>
<rect x="301.3" y="457.2" width="38.6" height="40" fill="#110810"/>
<rect x="301.3" y="470" width="38.6" height="12" fill="url(#g3_7)" opacity="0.6"/>
<path d="M315.8 473.8L319.9 475.9L314.1 481.5" stroke="#f81800" stroke-opacity="0.55" stroke-width="1.8" fill="none" filter="url(#bl)"/>
<rect x="342.2" y="346.8" width="38.6" height="38.3" fill="#110810"/>
<rect x="342.2" y="346.8" width="38.6" height="38.3" fill="url(#g1_8)"/>
<rect x="342.2" y="402.1" width="38.6" height="38.2" fill="#110810"/>
<rect x="342.2" y="414" width="38.6" height="15" fill="url(#g3_8)"/>
<ellipse cx="353.2" cy="421.5" rx="9" ry="6" fill="url(#g3_8)"/>
<ellipse cx="361.7" cy="421.8" rx="4.2" ry="3.6" fill="url(#g2_8)"/>
<ellipse cx="358.7" cy="424.2" rx="3" ry="2.5" fill="url(#g2_8)" opacity="0.6"/>
<rect x="342.2" y="457.2" width="38.6" height="40" fill="#110810"/>
<rect x="342.2" y="470" width="38.6" height="12" fill="url(#g3_8)" opacity="0.6"/>
<path d="M356.7 473.8L360.8 475.9L355.0 481.5" stroke="#f50a05" stroke-opacity="0.55" stroke-width="1.8" fill="none" filter="url(#bl)"/>
<rect x="383.1" y="346.8" width="38.6" height="38.3" fill="#110810"/>
<rect x="383.1" y="346.8" width="38.6" height="38.3" fill="url(#g1_9)"/>
<rect x="383.1" y="402.1" width="38.6" height="38.2" fill="#110810"/>
<rect x="383.1" y="414" width="38.6" height="15" fill="url(#g3_9)"/>
<ellipse cx="394.1" cy="421.5" rx="9" ry="6" fill="url(#g3_9)"/>
<ellipse cx="402.6" cy="421.8" rx="4.2" ry="3.6" fill="url(#g2_9)"/>
<ellipse cx="399.6" cy="424.2" rx="3" ry="2.5" fill="url(#g2_9)" opacity="0.6"/>
<rect x="383.1" y="457.2" width="38.6" height="40" fill="#110810"/>
<rect x="383.1" y="470" width="38.6" height="12" fill="url(#g3_9)" opacity="0.6"/>
<path d="M397.6 473.8L401.7 475.9L395.9 481.5" stroke="#f0000a" stroke-opacity="0.55" stroke-width="1.8" fill="none" filter="url(#bl)"/>
<rect x="424.0" y="346.8" width="38.6" height="38.3" fill="#110810"/>
<rect x="424.0" y="346.8" width="38.6" height="38.3" fill="url(#g1_10)"/>
<rect x="424.0" y="402.1" width="38.6" height="38.2" fill="#110810"/>
<rect x="424.0" y="414" width="38.6" height="15" fill="url(#g3_10)"/>
<ellipse cx="435.0" cy="421.5" rx="9" ry="6" fill="url(#g3_10)"/>
<ellipse cx="443.5" cy="421.8" rx="4.2" ry="3.6" fill="url(#g2_10)"/>
<ellipse cx="440.5" cy="424.2" rx="3" ry="2.5" fill="url(#g2_10)" opacity="0.6"/>
<rect x="424.0" y="457.2" width="38.6" height="40" fill="#110810"/>
<rect x="424.0" y="470" width="38.6" height="12" fill="url(#g3_10)" opacity="0.6"/>
<path d="M438.5 473.8L442.6 475.9L436.8 481.5" stroke="#e8000f" stroke-opacity="0.55" stroke-width="1.8" fill="none" filter="url(#bl)"/>
<rect x="464.9" y="346.8" width="38.6" height="38.3" fill="#110810"/>
<rect x="464.9" y="346.8" width="38.6" height="38.3" fill="url(#g1_11)"/>
<rect x="464.9" y="402.1" width="38.6" height="38.2" fill="#110810"/>
<rect x="464.9" y="414" width="38.6" height="15" fill="url(#g3_11)"/>
<ellipse cx="475.9" cy="421.5" rx="9" ry="6" fill="url(#g3_11)"/>
<ellipse cx="484.4" cy="421.8" rx="4.2" ry="3.6" fill="url(#g2_11)"/>
<ellipse cx="481.4" cy="424.2" rx="3" ry="2.5" fill="url(#g2_11)" opacity="0.6"/>
<rect x="464.9" y="457.2" width="38.6" height="40" fill="#110810"/>
<rect x="464.9" y="470" width="38.6" height="12" fill="url(#g3_11)" opacity="0.6"/>
<path d="M479.4 473.8L483.5 475.9L477.7 481.5" stroke="#de0012" stroke-opacity="0.55" stroke-width="1.8" fill="none" filter="url(#bl)"/>
<rect x="505.8" y="346.8" width="38.6" height="38.3" fill="#110810"/>
<rect x="505.8" y="346.8" width="38.6" height="38.3" fill="url(#g1_12)"/>
<rect x="505.8" y="402.1" width="38.6" height="38.2" fill="#110810"/>
<rect x="505.8" y="414" width="38.6" height="15" fill="url(#g3_12)"/>
<ellipse cx="516.8" cy="421.5" rx="9" ry="6" fill="url(#g3_12)"/>
<ellipse cx="525.3" cy="421.8" rx="4.2" ry="3.6" fill="url(#g2_12)"/>
<ellipse cx="522.3" cy="424.2" rx="3" ry="2.5" fill="url(#g2_12)" opacity="0.6"/>
<rect x="505.8" y="457.2" width="38.6" height="40" fill="#110810"/>
<rect x="505.8" y="470" width="38.6" height="12" fill="url(#g3_12)" opacity="0.6"/>
<path d="M520.3 473.8L524.4 475.9L518.6 481.5" stroke="#cd0014" stroke-opacity="0.55" stroke-width="1.8" fill="none" filter="url(#bl)"/>
<rect x="546.7" y="346.8" width="38.6" height="38.3" fill="#110810"/>
<rect x="546.7" y="346.8" width="38.6" height="38.3" fill="url(#g1_13)"/>
<rect x="546.7" y="402.1" width="38.6" height="38.2" fill="#110810"/>
<rect x="546.7" y="414" width="38.6" height="15" fill="url(#g3_13)"/>
<ellipse cx="557.7" cy="421.5" rx="9" ry="6" fill="url(#g3_13)"/>
<ellipse cx="566.2" cy="421.8" rx="4.2" ry="3.6" fill="url(#g2_13)"/>
<ellipse cx="563.2" cy="424.2" rx="3" ry="2.5" fill="url(#g2_13)" opacity="0.6"/>
<rect x="546.7" y="457.2" width="38.6" height="40" fill="#110810"/>
<rect x="546.7" y="470" width="38.6" height="12" fill="url(#g3_13)" opacity="0.6"/>
<path d="M561.2 473.8L565.3 475.9L559.5 481.5" stroke="#be0018" stroke-opacity="0.55" stroke-width="1.8" fill="none" filter="url(#bl)"/>
<rect x="587.6" y="346.8" width="38.6" height="38.3" fill="#110810"/>
<rect x="587.6" y="346.8" width="38.6" height="38.3" fill="url(#g1_14)"/>
<rect x="587.6" y="402.1" width="38.6" height="38.2" fill="#110810"/>
<rect x="587.6" y="414" width="38.6" height="15" fill="url(#g3_14)"/>
<ellipse cx="598.6" cy="421.5" rx="9" ry="6" fill="url(#g3_14)"/>
<ellipse cx="607.1" cy="421.8" rx="4.2" ry="3.6" fill="url(#g2_14)"/>
<ellipse cx="604.1" cy="424.2" rx="3" ry="2.5" fill="url(#g2_14)" opacity="0.6"/>
<rect x="587.6" y="457.2" width="38.6" height="40" fill="#110810"/>
<rect x="587.6" y="470" width="38.6" height="12" fill="url(#g3_14)" opacity="0.6"/>
<path d="M602.1 473.8L606.2 475.9L600.4 481.5" stroke="#ac001c" stroke-opacity="0.55" stroke-width="1.8" fill="none" filter="url(#bl)"/>
<rect x="628.5" y="346.8" width="38.6" height="38.3" fill="#110810"/>
<rect x="628.5" y="346.8" width="38.6" height="38.3" fill="url(#g1_15)"/>
<rect x="628.5" y="402.1" width="38.6" height="38.2" fill="#110810"/>
<rect x="628.5" y="414" width="38.6" height="15" fill="url(#g3_15)"/>
<ellipse cx="639.5" cy="421.5" rx="9" ry="6" fill="url(#g3_15)"/>
<ellipse cx="648.0" cy="421.8" rx="4.2" ry="3.6" fill="url(#g2_15)"/>
<ellipse cx="645.0" cy="424.2" rx="3" ry="2.5" fill="url(#g2_15)" opacity="0.6"/>
<rect x="628.5" y="457.2" width="38.6" height="40" fill="#110810"/>
<rect x="628.5" y="470" width="38.6" height="12" fill="url(#g3_15)" opacity="0.6"/>
<path d="M643.0 473.8L647.1 475.9L641.3 481.5" stroke="#96001e" stroke-opacity="0.55" stroke-width="1.8" fill="none" filter="url(#bl)"/>
<path d="M43.6 366.5h1.9v1.9h-1.9zM42.9 369.6h1.9v1.9h-1.9zM41.2 372.3h1.9v1.9h-1.9zM38.8 374.4h1.9v1.9h-1.9zM35.8 375.6h1.9v1.9h-1.9zM32.6 375.8h1.9v1.9h-1.9zM29.5 375.1h1.9v1.9h-1.9zM26.8 373.4h1.9v1.9h-1.9zM24.7 371.0h1.9v1.9h-1.9zM23.5 368.0h1.9v1.9h-1.9zM23.3 364.8h1.9v1.9h-1.9zM24.0 361.7h1.9v1.9h-1.9zM25.7 359.0h1.9v1.9h-1.9zM28.1 356.9h1.9v1.9h-1.9zM31.1 355.7h1.9v1.9h-1.9zM34.3 355.5h1.9v1.9h-1.9zM37.4 356.2h1.9v1.9h-1.9zM40.1 357.9h1.9v1.9h-1.9zM42.2 360.3h1.9v1.9h-1.9zM43.4 363.3h1.9v1.9h-1.9zM84.5 366.5h1.9v1.9h-1.9zM83.8 369.6h1.9v1.9h-1.9zM82.1 372.3h1.9v1.9h-1.9zM79.7 374.4h1.9v1.9h-1.9zM76.7 375.6h1.9v1.9h-1.9zM73.5 375.8h1.9v1.9h-1.9zM70.4 375.1h1.9v1.9h-1.9zM67.7 373.4h1.9v1.9h-1.9zM65.6 371.0h1.9v1.9h-1.9zM64.4 368.0h1.9v1.9h-1.9zM64.2 364.8h1.9v1.9h-1.9zM64.9 361.7h1.9v1.9h-1.9zM66.6 359.0h1.9v1.9h-1.9zM69.0 356.9h1.9v1.9h-1.9zM72.0 355.7h1.9v1.9h-1.9zM75.2 355.5h1.9v1.9h-1.9zM78.3 356.2h1.9v1.9h-1.9zM81.0 357.9h1.9v1.9h-1.9zM83.1 360.3h1.9v1.9h-1.9zM84.3 363.3h1.9v1.9h-1.9zM125.4 366.5h1.9v1.9h-1.9zM124.7 369.6h1.9v1.9h-1.9zM123.0 372.3h1.9v1.9h-1.9zM120.6 374.4h1.9v1.9h-1.9zM117.6 375.6h1.9v1.9h-1.9zM114.4 375.8h1.9v1.9h-1.9zM111.3 375.1h1.9v1.9h-1.9zM108.6 373.4h1.9v1.9h-1.9zM106.5 371.0h1.9v1.9h-1.9zM105.3 368.0h1.9v1.9h-1.9zM105.1 364.8h1.9v1.9h-1.9zM105.8 361.7h1.9v1.9h-1.9zM107.5 359.0h1.9v1.9h-1.9zM109.9 356.9h1.9v1.9h-1.9zM112.9 355.7h1.9v1.9h-1.9zM116.1 355.5h1.9v1.9h-1.9zM119.2 356.2h1.9v1.9h-1.9zM121.9 357.9h1.9v1.9h-1.9zM124.0 360.3h1.9v1.9h-1.9zM125.2 363.3h1.9v1.9h-1.9zM166.3 366.5h1.9v1.9h-1.9zM165.6 369.6h1.9v1.9h-1.9zM163.9 372.3h1.9v1.9h-1.9zM161.5 374.4h1.9v1.9h-1.9zM158.5 375.6h1.9v1.9h-1.9zM155.3 375.8h1.9v1.9h-1.9zM152.2 375.1h1.9v1.9h-1.9zM149.5 373.4h1.9v1.9h-1.9zM147.4 371.0h1.9v1.9h-1.9zM146.2 368.0h1.9v1.9h-1.9zM146.0 364.8h1.9v1.9h-1.9zM146.7 361.7h1.9v1.9h-1.9zM148.4 359.0h1.9v1.9h-1.9zM150.8 356.9h1.9v1.9h-1.9zM153.8 355.7h1.9v1.9h-1.9zM157.0 355.5h1.9v1.9h-1.9zM160.1 356.2h1.9v1.9h-1.9zM162.8 357.9h1.9v1.9h-1.9zM164.9 360.3h1.9v1.9h-1.9zM166.1 363.3h1.9v1.9h-1.9zM207.2 366.5h1.9v1.9h-1.9zM206.5 369.6h1.9v1.9h-1.9zM204.8 372.3h1.9v1.9h-1.9zM202.4 374.4h1.9v1.9h-1.9zM199.4 375.6h1.9v1.9h-1.9zM196.2 375.8h1.9v1.9h-1.9zM193.1 375.1h1.9v1.9h-1.9zM190.4 373.4h1.9v1.9h-1.9zM188.3 371.0h1.9v1.9h-1.9zM187.1 368.0h1.9v1.9h-1.9zM186.9 364.8h1.9v1.9h-1.9zM187.6 361.7h1.9v1.9h-1.9zM189.3 359.0h1.9v1.9h-1.9zM191.7 356.9h1.9v1.9h-1.9zM194.7 355.7h1.9v1.9h-1.9zM197.9 355.5h1.9v1.9h-1.9zM201.0 356.2h1.9v1.9h-1.9zM203.7 357.9h1.9v1.9h-1.9zM205.8 360.3h1.9v1.9h-1.9zM207.0 363.3h1.9v1.9h-1.9zM248.1 366.5h1.9v1.9h-1.9zM247.4 369.6h1.9v1.9h-1.9zM245.7 372.3h1.9v1.9h-1.9zM243.3 374.4h1.9v1.9h-1.9zM240.3 375.6h1.9v1.9h-1.9zM237.1 375.8h1.9v1.9h-1.9zM234.0 375.1h1.9v1.9h-1.9zM231.3 373.4h1.9v1.9h-1.9zM229.2 371.0h1.9v1.9h-1.9zM228.0 368.0h1.9v1.9h-1.9zM227.8 364.8h1.9v1.9h-1.9zM228.5 361.7h1.9v1.9h-1.9zM230.2 359.0h1.9v1.9h-1.9zM232.6 356.9h1.9v1.9h-1.9zM235.6 355.7h1.9v1.9h-1.9zM238.8 355.5h1.9v1.9h-1.9zM241.9 356.2h1.9v1.9h-1.9zM244.6 357.9h1.9v1.9h-1.9zM246.7 360.3h1.9v1.9h-1.9zM247.9 363.3h1.9v1.9h-1.9zM289.0 366.5h1.9v1.9h-1.9zM288.3 369.6h1.9v1.9h-1.9zM286.6 372.3h1.9v1.9h-1.9zM284.2 374.4h1.9v1.9h-1.9zM281.2 375.6h1.9v1.9h-1.9zM278.0 375.8h1.9v1.9h-1.9zM274.9 375.1h1.9v1.9h-1.9zM272.2 373.4h1.9v1.9h-1.9zM270.1 371.0h1.9v1.9h-1.9zM268.9 368.0h1.9v1.9h-1.9zM268.7 364.8h1.9v1.9h-1.9zM269.4 361.7h1.9v1.9h-1.9zM271.1 359.0h1.9v1.9h-1.9zM273.5 356.9h1.9v1.9h-1.9zM276.5 355.7h1.9v1.9h-1.9zM279.7 355.5h1.9v1.9h-1.9zM282.8 356.2h1.9v1.9h-1.9zM285.5 357.9h1.9v1.9h-1.9zM287.6 360.3h1.9v1.9h-1.9zM288.8 363.3h1.9v1.9h-1.9zM329.9 366.5h1.9v1.9h-1.9zM329.2 369.6h1.9v1.9h-1.9zM327.5 372.3h1.9v1.9h-1.9zM325.1 374.4h1.9v1.9h-1.9zM322.1 375.6h1.9v1.9h-1.9zM318.9 375.8h1.9v1.9h-1.9zM315.8 375.1h1.9v1.9h-1.9zM313.1 373.4h1.9v1.9h-1.9zM311.0 371.0h1.9v1.9h-1.9zM309.8 368.0h1.9v1.9h-1.9zM309.6 364.8h1.9v1.9h-1.9zM310.3 361.7h1.9v1.9h-1.9zM312.0 359.0h1.9v1.9h-1.9zM314.4 356.9h1.9v1.9h-1.9zM317.4 355.7h1.9v1.9h-1.9zM320.6 355.5h1.9v1.9h-1.9zM323.7 356.2h1.9v1.9h-1.9zM326.4 357.9h1.9v1.9h-1.9zM328.5 360.3h1.9v1.9h-1.9zM329.7 363.3h1.9v1.9h-1.9zM370.8 366.5h1.9v1.9h-1.9zM370.1 369.6h1.9v1.9h-1.9zM368.4 372.3h1.9v1.9h-1.9zM366.0 374.4h1.9v1.9h-1.9zM363.0 375.6h1.9v1.9h-1.9zM359.8 375.8h1.9v1.9h-1.9zM356.7 375.1h1.9v1.9h-1.9zM354.0 373.4h1.9v1.9h-1.9zM351.9 371.0h1.9v1.9h-1.9zM350.7 368.0h1.9v1.9h-1.9zM350.5 364.8h1.9v1.9h-1.9zM351.2 361.7h1.9v1.9h-1.9zM352.9 359.0h1.9v1.9h-1.9zM355.3 356.9h1.9v1.9h-1.9zM358.3 355.7h1.9v1.9h-1.9zM361.5 355.5h1.9v1.9h-1.9zM364.6 356.2h1.9v1.9h-1.9zM367.3 357.9h1.9v1.9h-1.9zM369.4 360.3h1.9v1.9h-1.9zM370.6 363.3h1.9v1.9h-1.9zM411.7 366.5h1.9v1.9h-1.9zM411.0 369.6h1.9v1.9h-1.9zM409.3 372.3h1.9v1.9h-1.9zM406.9 374.4h1.9v1.9h-1.9zM403.9 375.6h1.9v1.9h-1.9zM400.7 375.8h1.9v1.9h-1.9zM397.6 375.1h1.9v1.9h-1.9zM394.9 373.4h1.9v1.9h-1.9zM392.8 371.0h1.9v1.9h-1.9zM391.6 368.0h1.9v1.9h-1.9zM391.4 364.8h1.9v1.9h-1.9zM392.1 361.7h1.9v1.9h-1.9zM393.8 359.0h1.9v1.9h-1.9zM396.2 356.9h1.9v1.9h-1.9zM399.2 355.7h1.9v1.9h-1.9zM402.4 355.5h1.9v1.9h-1.9zM405.5 356.2h1.9v1.9h-1.9zM408.2 357.9h1.9v1.9h-1.9zM410.3 360.3h1.9v1.9h-1.9zM411.5 363.3h1.9v1.9h-1.9zM452.6 366.5h1.9v1.9h-1.9zM451.9 369.6h1.9v1.9h-1.9zM450.2 372.3h1.9v1.9h-1.9zM447.8 374.4h1.9v1.9h-1.9zM444.8 375.6h1.9v1.9h-1.9zM441.6 375.8h1.9v1.9h-1.9zM438.5 375.1h1.9v1.9h-1.9zM435.8 373.4h1.9v1.9h-1.9zM433.7 371.0h1.9v1.9h-1.9zM432.5 368.0h1.9v1.9h-1.9zM432.3 364.8h1.9v1.9h-1.9zM433.0 361.7h1.9v1.9h-1.9zM434.7 359.0h1.9v1.9h-1.9zM437.1 356.9h1.9v1.9h-1.9zM440.1 355.7h1.9v1.9h-1.9zM443.3 355.5h1.9v1.9h-1.9zM446.4 356.2h1.9v1.9h-1.9zM449.1 357.9h1.9v1.9h-1.9zM451.2 360.3h1.9v1.9h-1.9zM452.4 363.3h1.9v1.9h-1.9zM493.5 366.5h1.9v1.9h-1.9zM492.8 369.6h1.9v1.9h-1.9zM491.1 372.3h1.9v1.9h-1.9zM488.7 374.4h1.9v1.9h-1.9zM485.7 375.6h1.9v1.9h-1.9zM482.5 375.8h1.9v1.9h-1.9zM479.4 375.1h1.9v1.9h-1.9zM476.7 373.4h1.9v1.9h-1.9zM474.6 371.0h1.9v1.9h-1.9zM473.4 368.0h1.9v1.9h-1.9zM473.2 364.8h1.9v1.9h-1.9zM473.9 361.7h1.9v1.9h-1.9zM475.6 359.0h1.9v1.9h-1.9zM478.0 356.9h1.9v1.9h-1.9zM481.0 355.7h1.9v1.9h-1.9zM484.2 355.5h1.9v1.9h-1.9zM487.3 356.2h1.9v1.9h-1.9zM490.0 357.9h1.9v1.9h-1.9zM492.1 360.3h1.9v1.9h-1.9zM493.3 363.3h1.9v1.9h-1.9zM534.4 366.5h1.9v1.9h-1.9zM533.7 369.6h1.9v1.9h-1.9zM532.0 372.3h1.9v1.9h-1.9zM529.6 374.4h1.9v1.9h-1.9zM526.6 375.6h1.9v1.9h-1.9zM523.4 375.8h1.9v1.9h-1.9zM520.3 375.1h1.9v1.9h-1.9zM517.6 373.4h1.9v1.9h-1.9zM515.5 371.0h1.9v1.9h-1.9zM514.3 368.0h1.9v1.9h-1.9zM514.1 364.8h1.9v1.9h-1.9zM514.8 361.7h1.9v1.9h-1.9zM516.5 359.0h1.9v1.9h-1.9zM518.9 356.9h1.9v1.9h-1.9zM521.9 355.7h1.9v1.9h-1.9zM525.1 355.5h1.9v1.9h-1.9zM528.2 356.2h1.9v1.9h-1.9zM530.9 357.9h1.9v1.9h-1.9zM533.0 360.3h1.9v1.9h-1.9zM534.2 363.3h1.9v1.9h-1.9zM575.3 366.5h1.9v1.9h-1.9zM574.6 369.6h1.9v1.9h-1.9zM572.9 372.3h1.9v1.9h-1.9zM570.5 374.4h1.9v1.9h-1.9zM567.5 375.6h1.9v1.9h-1.9zM564.3 375.8h1.9v1.9h-1.9zM561.2 375.1h1.9v1.9h-1.9zM558.5 373.4h1.9v1.9h-1.9zM556.4 371.0h1.9v1.9h-1.9zM555.2 368.0h1.9v1.9h-1.9zM555.0 364.8h1.9v1.9h-1.9zM555.7 361.7h1.9v1.9h-1.9zM557.4 359.0h1.9v1.9h-1.9zM559.8 356.9h1.9v1.9h-1.9zM562.8 355.7h1.9v1.9h-1.9zM566.0 355.5h1.9v1.9h-1.9zM569.1 356.2h1.9v1.9h-1.9zM571.8 357.9h1.9v1.9h-1.9zM573.9 360.3h1.9v1.9h-1.9zM575.1 363.3h1.9v1.9h-1.9zM616.2 366.5h1.9v1.9h-1.9zM615.5 369.6h1.9v1.9h-1.9zM613.8 372.3h1.9v1.9h-1.9zM611.4 374.4h1.9v1.9h-1.9zM608.4 375.6h1.9v1.9h-1.9zM605.2 375.8h1.9v1.9h-1.9zM602.1 375.1h1.9v1.9h-1.9zM599.4 373.4h1.9v1.9h-1.9zM597.3 371.0h1.9v1.9h-1.9zM596.1 368.0h1.9v1.9h-1.9zM595.9 364.8h1.9v1.9h-1.9zM596.6 361.7h1.9v1.9h-1.9zM598.3 359.0h1.9v1.9h-1.9zM600.7 356.9h1.9v1.9h-1.9zM603.7 355.7h1.9v1.9h-1.9zM606.9 355.5h1.9v1.9h-1.9zM610.0 356.2h1.9v1.9h-1.9zM612.7 357.9h1.9v1.9h-1.9zM614.8 360.3h1.9v1.9h-1.9zM616.0 363.3h1.9v1.9h-1.9zM657.1 366.5h1.9v1.9h-1.9zM656.4 369.6h1.9v1.9h-1.9zM654.7 372.3h1.9v1.9h-1.9zM652.3 374.4h1.9v1.9h-1.9zM649.3 375.6h1.9v1.9h-1.9zM646.1 375.8h1.9v1.9h-1.9zM643.0 375.1h1.9v1.9h-1.9zM640.3 373.4h1.9v1.9h-1.9zM638.2 371.0h1.9v1.9h-1.9zM637.0 368.0h1.9v1.9h-1.9zM636.8 364.8h1.9v1.9h-1.9zM637.5 361.7h1.9v1.9h-1.9zM639.2 359.0h1.9v1.9h-1.9zM641.6 356.9h1.9v1.9h-1.9zM644.6 355.7h1.9v1.9h-1.9zM647.8 355.5h1.9v1.9h-1.9zM650.9 356.2h1.9v1.9h-1.9zM653.6 357.9h1.9v1.9h-1.9zM655.7 360.3h1.9v1.9h-1.9zM656.9 363.3h1.9v1.9h-1.9z" fill="#fff"/>
<path d="M15.0 413.1h1v1h-1zM15.0 415.8h1v1h-1zM15.0 418.6h1v1h-1zM15.0 421.3h1v1h-1zM15.0 424.1h1v1h-1zM15.0 426.8h1v1h-1zM15.0 429.6h1v1h-1zM55.9 413.1h1v1h-1zM55.9 415.8h1v1h-1zM55.9 418.6h1v1h-1zM55.9 421.3h1v1h-1zM55.9 424.1h1v1h-1zM55.9 426.8h1v1h-1zM55.9 429.6h1v1h-1zM96.8 413.1h1v1h-1zM96.8 415.8h1v1h-1zM96.8 418.6h1v1h-1zM96.8 421.3h1v1h-1zM96.8 424.1h1v1h-1zM96.8 426.8h1v1h-1zM96.8 429.6h1v1h-1zM137.7 413.1h1v1h-1zM137.7 415.8h1v1h-1zM137.7 418.6h1v1h-1zM137.7 421.3h1v1h-1zM137.7 424.1h1v1h-1zM137.7 426.8h1v1h-1zM137.7 429.6h1v1h-1zM178.6 413.1h1v1h-1zM178.6 415.8h1v1h-1zM178.6 418.6h1v1h-1zM178.6 421.3h1v1h-1zM178.6 424.1h1v1h-1zM178.6 426.8h1v1h-1zM178.6 429.6h1v1h-1zM219.5 413.1h1v1h-1zM219.5 415.8h1v1h-1zM219.5 418.6h1v1h-1zM219.5 421.3h1v1h-1zM219.5 424.1h1v1h-1zM219.5 426.8h1v1h-1zM219.5 429.6h1v1h-1zM260.4 413.1h1v1h-1zM260.4 415.8h1v1h-1zM260.4 418.6h1v1h-1zM260.4 421.3h1v1h-1zM260.4 424.1h1v1h-1zM260.4 426.8h1v1h-1zM260.4 429.6h1v1h-1zM301.3 413.1h1v1h-1zM301.3 415.8h1v1h-1zM301.3 418.6h1v1h-1zM301.3 421.3h1v1h-1zM301.3 424.1h1v1h-1zM301.3 426.8h1v1h-1zM301.3 429.6h1v1h-1zM342.2 413.1h1v1h-1zM342.2 415.8h1v1h-1zM342.2 418.6h1v1h-1zM342.2 421.3h1v1h-1zM342.2 424.1h1v1h-1zM342.2 426.8h1v1h-1zM342.2 429.6h1v1h-1zM383.1 413.1h1v1h-1zM383.1 415.8h1v1h-1zM383.1 418.6h1v1h-1zM383.1 421.3h1v1h-1zM383.1 424.1h1v1h-1zM383.1 426.8h1v1h-1zM383.1 429.6h1v1h-1zM424.0 413.1h1v1h-1zM424.0 415.8h1v1h-1zM424.0 418.6h1v1h-1zM424.0 421.3h1v1h-1zM424.0 424.1h1v1h-1zM424.0 426.8h1v1h-1zM424.0 429.6h1v1h-1zM464.9 413.1h1v1h-1zM464.9 415.8h1v1h-1zM464.9 418.6h1v1h-1zM464.9 421.3h1v1h-1zM464.9 424.1h1v1h-1zM464.9 426.8h1v1h-1zM464.9 429.6h1v1h-1zM505.8 413.1h1v1h-1zM505.8 415.8h1v1h-1zM505.8 418.6h1v1h-1zM505.8 421.3h1v1h-1zM505.8 424.1h1v1h-1zM505.8 426.8h1v1h-1zM505.8 429.6h1v1h-1zM546.7 413.1h1v1h-1zM546.7 415.8h1v1h-1zM546.7 418.6h1v1h-1zM546.7 421.3h1v1h-1zM546.7 424.1h1v1h-1zM546.7 426.8h1v1h-1zM546.7 429.6h1v1h-1zM587.6 413.1h1v1h-1zM587.6 415.8h1v1h-1zM587.6 418.6h1v1h-1zM587.6 421.3h1v1h-1zM587.6 424.1h1v1h-1zM587.6 426.8h1v1h-1zM587.6 429.6h1v1h-1zM628.5 413.1h1v1h-1zM628.5 415.8h1v1h-1zM628.5 418.6h1v1h-1zM628.5 421.3h1v1h-1zM628.5 424.1h1v1h-1zM628.5 426.8h1v1h-1zM628.5 429.6h1v1h-1z" fill="#fff" fill-opacity="0.4"/>
<path d="M15.2 410.9L31.8 421.2L15.2 432.6M56.1 410.9L72.7 421.2L56.1 432.6M97.0 410.9L113.6 421.2L97.0 432.6M137.9 410.9L154.5 421.2L137.9 432.6M178.8 410.9L195.4 421.2L178.8 432.6M219.7 410.9L236.3 421.2L219.7 432.6M260.6 410.9L277.2 421.2L260.6 432.6M301.5 410.9L318.1 421.2L301.5 432.6M342.4 410.9L359.0 421.2L342.4 432.6M383.3 410.9L399.9 421.2L383.3 432.6M424.2 410.9L440.8 421.2L424.2 432.6M465.1 410.9L481.7 421.2L465.1 432.6M506.0 410.9L522.6 421.2L506.0 432.6M546.9 410.9L563.5 421.2L546.9 432.6M587.8 410.9L604.4 421.2L587.8 432.6M628.7 410.9L645.3 421.2L628.7 432.6" stroke="#fff" stroke-width="1.9" stroke-dasharray="1.9 1.1" fill="none"/>
<path d="M31.4 419.3h1.2v3.9h-1.2zM72.3 419.3h1.2v3.9h-1.2zM113.2 419.3h1.2v3.9h-1.2zM154.1 419.3h1.2v3.9h-1.2zM195.0 419.3h1.2v3.9h-1.2zM235.9 419.3h1.2v3.9h-1.2zM276.8 419.3h1.2v3.9h-1.2zM317.7 419.3h1.2v3.9h-1.2zM358.6 419.3h1.2v3.9h-1.2zM399.5 419.3h1.2v3.9h-1.2zM440.4 419.3h1.2v3.9h-1.2zM481.3 419.3h1.2v3.9h-1.2zM522.2 419.3h1.2v3.9h-1.2zM563.1 419.3h1.2v3.9h-1.2zM604.0 419.3h1.2v3.9h-1.2zM644.9 419.3h1.2v3.9h-1.2z" fill="#fff"/>
<path d="M25.1 490.4H44.7M29.1 486.4L24.6 490.4L29.1 494.4M40.7 486.4L45.2 490.4L40.7 494.4M66.0 490.4H85.6M70.0 486.4L65.5 490.4L70.0 494.4M81.6 486.4L86.1 490.4L81.6 494.4M106.9 490.4H126.5M110.9 486.4L106.4 490.4L110.9 494.4M122.5 486.4L127.0 490.4L122.5 494.4M147.8 490.4H167.4M151.8 486.4L147.3 490.4L151.8 494.4M163.4 486.4L167.9 490.4L163.4 494.4M188.7 490.4H208.3M192.7 486.4L188.2 490.4L192.7 494.4M204.3 486.4L208.8 490.4L204.3 494.4M229.6 490.4H249.2M233.6 486.4L229.1 490.4L233.6 494.4M245.2 486.4L249.7 490.4L245.2 494.4M270.5 490.4H290.1M274.5 486.4L270.0 490.4L274.5 494.4M286.1 486.4L290.6 490.4L286.1 494.4M311.4 490.4H331.0M315.4 486.4L310.9 490.4L315.4 494.4M327.0 486.4L331.5 490.4L327.0 494.4M352.3 490.4H371.9M356.3 486.4L351.8 490.4L356.3 494.4M367.9 486.4L372.4 490.4L367.9 494.4M393.2 490.4H412.8M397.2 486.4L392.7 490.4L397.2 494.4M408.8 486.4L413.3 490.4L408.8 494.4M434.1 490.4H453.7M438.1 486.4L433.6 490.4L438.1 494.4M449.7 486.4L454.2 490.4L449.7 494.4M475.0 490.4H494.6M479.0 486.4L474.5 490.4L479.0 494.4M490.6 486.4L495.1 490.4L490.6 494.4M515.9 490.4H535.5M519.9 486.4L515.4 490.4L519.9 494.4M531.5 486.4L536.0 490.4L531.5 494.4M556.8 490.4H576.4M560.8 486.4L556.3 490.4L560.8 494.4M572.4 486.4L576.9 490.4L572.4 494.4M597.7 490.4H617.3M601.7 486.4L597.2 490.4L601.7 494.4M613.3 486.4L617.8 490.4L613.3 494.4M638.6 490.4H658.2M642.6 486.4L638.1 490.4L642.6 494.4M654.2 486.4L658.7 490.4L654.2 494.4" stroke="#fff" stroke-width="2" fill="none" stroke-linejoin="miter"/>
</svg>
</body></html>
